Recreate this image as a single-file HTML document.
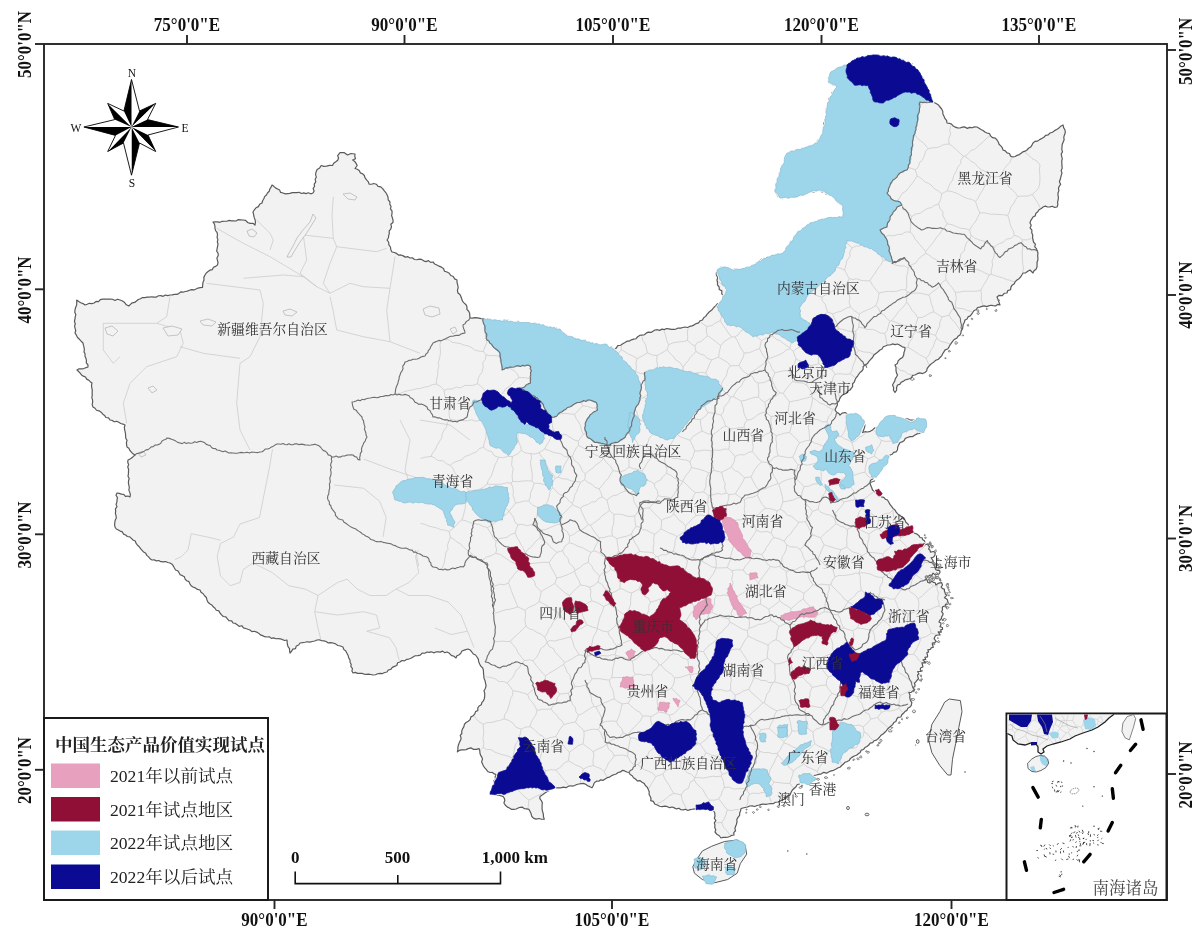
<!DOCTYPE html><html><head><meta charset="utf-8"><style>html,body{margin:0;padding:0;background:#fff;}svg{display:block;}.tk{font-family:"Liberation Serif",serif;font-weight:bold;font-size:17px;fill:#111;}.lb{font-family:"Liberation Serif","Noto Serif CJK SC",serif;font-size:13.8px;fill:#333;}.lg{font-family:"Liberation Serif","Noto Serif CJK SC",serif;font-size:17.6px;fill:#222;}</style></head><body>
<svg width="1200" height="944" viewBox="0 0 1200 944">
<rect width="1200" height="944" fill="#fff"/>
<g stroke-linejoin="round">
<polygon points="213,222 215.3,221.76 217.62,221.8 219.97,222.3 222.23,221.32 224.54,221.24 226.86,221.23 229.12,220.36 231.46,220.79 233.78,220.85 236.11,220.99 238.34,219.58 240.67,219.8 243,220 245.68,220.32 247.59,222.51 250.07,223.32 252.92,223.24 255,225 255.46,222.27 255.03,219.67 254.07,217.16 253.61,214.57 253,212 254.36,209.76 255.98,207.78 258.44,206.64 259.64,204.24 262,203 262.62,200.73 263.82,198.77 264.59,196.59 266.39,194.97 267.46,192.95 269.21,191.3 269.81,189.02 271.11,187.12 272,185 273.83,186.33 275.49,187.9 277.55,188.94 279.57,190.01 280.64,192.39 283,193 285.31,193.89 287.62,193.61 289.92,193.37 292.23,192.67 294.54,192.51 296.85,192.62 299.15,192.23 301.46,193.48 303.77,192.82 306.08,193.62 308.38,192.8 310.69,193.82 313,193 314.11,190.97 313.12,188.46 314.5,186.5 314.23,184.06 315.73,181.81 315.2,179.34 316.36,177.06 315.57,174.56 316,172.2 317.13,169.5 319.65,167.88 321.2,165.5 323.78,166.35 326.5,166.2 329.45,165.44 332.5,165.5 333.7,163.21 335.75,161.76 337.7,160.2 338.54,157.95 337.7,155.7 340,152.7 344,152.5 347.5,155 351,153.5 355,154 354.79,156.4 355.5,158.7 352.7,160 354.73,161.4 356.05,163.38 357.2,165.5 355,168.5 357.28,169.21 359.2,170.45 360.32,172.84 362.5,173.7 364.33,175.49 365.09,177.96 366.6,179.95 368.33,181.8 369.2,184.2 371.51,184.26 373.7,183.5 376.28,184.22 378.07,186.32 380.8,186.8 382.7,188.7 384.15,190.7 385.79,192.57 387.02,194.7 388,197 388.21,199.81 390,202 389.84,204.34 391.1,206.44 390.44,208.86 392.01,210.91 392.06,213.22 391.62,215.6 392.37,217.79 393,220 393.02,222.43 390.82,224.19 391.49,226.81 390.75,229.01 389.2,230.97 389.29,233.42 388.68,235.66 388.4,238 387,240 388.68,242.12 388.86,244.86 390.43,247.02 390.83,249.67 392,252 394.32,252.53 396.53,253.42 398.49,255.03 401.01,254.97 403.21,255.88 405.29,257.13 407.93,256.71 410,258 412.41,257.79 414.47,259.52 416.8,259.76 419.28,259.16 421.6,259.45 423.73,260.82 425.96,261.58 428.49,260.66 430.56,262.4 433,262 434.6,263.99 436.89,265.01 439.08,266.17 441.41,267.13 443.48,268.47 444.52,271.25 447,272 449.29,273.23 450.77,275.49 453.27,276.46 454.64,278.86 457,280 457.03,282.61 457.77,285.17 458.18,287.76 457.4,290.43 458,293 459.94,294.58 460.98,296.74 461.77,299.06 462.61,301.34 464.26,303.11 466.05,304.79 467,307 466.88,309.4 468.71,311.26 469.64,313.37 469.8,315.69 470,318 472.51,318.07 475.05,317.54 477.54,317.92 480.02,318.43 482.49,318.96 485,319 487.4,318.57 489.69,319.22 491.93,320.4 494.25,320.79 496.64,320.45 498.97,320.74 501.32,320.78 503.73,320.22 506.08,320.27 508.42,320.47 510.59,322.3 512.96,322.16 515.25,322.86 517.75,321.41 520,322.5 522.48,322.96 525,322.9 527.46,323.56 530.03,323.03 532.42,324.47 535.07,323.02 537.5,324 539.73,324.58 541.91,325.42 544.09,326.2 546.41,326.42 548.67,326.86 550.89,327.52 553.09,328.23 555.56,327.74 557.68,328.83 560,329 561.38,331.28 563.29,332.99 565.73,334.14 567.5,336 569.53,337.1 571.66,337.83 573.97,337.93 576.11,338.62 578.39,338.8 580.46,339.74 582.61,340.39 585.03,340.07 586.93,341.64 588.93,342.86 591.15,343.26 593.39,343.6 595.72,343.61 597.72,344.81 600,345 602.53,344.64 605,344 607.24,345.16 609.07,347.03 611.93,347.1 613.75,349 616.23,348.09 617.83,345.67 620.59,345.26 622.73,343.77 625,342.5 626.96,341.16 629.42,341.04 631.43,339.82 633.65,339.12 636.01,338.73 637.69,336.74 639.66,335.44 642.01,335.03 644.41,334.76 646.22,333.08 648.34,332.13 651,332.46 652.97,331.16 655,330 657.31,329.72 659.7,330.35 661.94,329.15 664.31,329.58 666.57,328.57 668.92,328.8 671.29,329.3 673.63,329.31 675.95,329.08 678.2,328.01 680.55,328.18 682.83,327.53 685.13,327.03 687.5,327.5 689.64,326.42 692.06,325.9 694.21,324.85 696.24,323.55 698.58,322.87 700.18,320.71 702.5,320 703.66,317.82 705.65,316.37 707.02,314.37 708.55,312.51 710.42,310.97 712.31,309.44 713.75,307.5 715.62,305.83 717.28,303.92 719.78,302.96 721.83,301.48 723.07,299.1 725,297.5 723.09,295.81 721.78,293.77 721.83,290.9 719.29,289.59 719.07,286.89 717.5,285 717.54,282.5 716.99,280.01 717.77,277.48 716.3,275.03 716.43,272.52 717,270 718.96,268.93 720.62,267.23 723,267 725.33,268.32 728.14,268.05 730.69,268.63 733,270 735.29,268.77 737.9,269.37 740.27,268.62 742.75,268.52 745.19,268.13 747.67,267.97 750,267 752.54,266.46 754.42,264.79 756.1,262.78 758.48,261.96 760.33,260.25 762.3,258.74 764.85,258.21 767,257 769.38,256.8 771.43,255.3 773.76,254.89 776.08,254.44 778.51,254.49 780.72,253.61 783,253 784.44,251.3 785.92,249.63 786.66,247.44 788.52,246.03 789.96,244.33 790.03,241.66 792.55,240.72 793.51,238.68 793.91,236.25 795.66,234.77 797,233 798.99,231.75 801.16,230.73 802.44,228.54 804.5,227.38 806.7,226.4 808.47,224.85 810,223 812.35,223.14 814.23,221.69 816.45,221.39 818.35,219.99 820.74,220.26 822.91,219.8 824.95,218.87 827,218 829.31,218.25 831.54,217.2 833.9,218.29 836.2,218.29 838.48,218.14 840.72,217.21 843,217 843.52,214.5 842.68,212 843.74,209.5 843,207 841.79,204.88 839.47,203.86 837.47,202.53 836.26,200.41 834.73,198.6 833,197 831.06,195.41 828.66,194.69 826.1,194.25 824.6,191.84 821.79,191.86 820,190 817.39,189.97 815.12,191.58 812.56,191.79 810,192 807.65,192.35 805.9,194.27 803.73,195.09 801.32,195.31 799.02,195.79 797,197 794.54,196.53 792.12,196.95 789.67,196.63 787.29,197.58 784.81,196.91 782.47,198.6 780,198 777.95,196.32 776.7,193.97 775,192 775.03,189.54 776.21,187.27 776.45,184.84 776.64,182.41 777,180 778.35,178.14 778.64,175.88 778.99,173.65 779.88,171.62 781.43,169.83 782.29,167.79 781.89,165.28 783.75,163.6 784.71,161.6 784.73,159.25 785.58,157.2 785.73,154.89 787,153 789.24,152.4 791.45,151.67 793.72,151.18 795.64,149.52 798.35,150.48 800.34,149.03 802.5,148.16 804.93,148.19 807,147 809.54,146.11 811.99,144.99 814.63,144.32 817,143 817.53,140.6 819.46,139.04 820.47,136.92 822.51,135.42 823,133 824.12,130.75 823.32,128.21 824.04,125.9 823.79,123.44 824.7,121.16 825.74,118.9 826.26,116.56 825.87,114.08 825.95,111.68 826.09,109.28 827,107 827.95,104.56 829.23,102.22 828.61,99.31 830,97 831.81,95.29 832.1,92.51 833.75,90.68 835.2,88.72 837,87 834.91,85.46 832.34,84.78 830.12,83.48 828,82 828.71,79.8 828.31,77.35 829.91,75.34 830,73 831.65,71.22 834.01,70.62 835.77,69.01 837.72,67.73 840,67 842.35,66.39 844.64,65.56 847,65 848.87,63.42 850.91,62.07 853.03,60.84 854.65,58.9 857,58 859.19,57.05 861.61,57.38 863.9,56.96 866.15,56.34 868.55,56.48 870.75,55.63 873,55 875.16,55.86 877.49,54.97 879.62,56.1 881.83,56.45 884.04,56.83 886.37,56 888.59,56.22 890.7,57.53 893,57 895.29,57.27 896.95,59.35 899.14,59.91 901.72,59.38 903.78,60.31 905.61,61.88 908.02,61.84 910,63 912.18,64.15 912.91,66.76 915.1,67.9 916.3,70.04 918.81,70.86 920,73 921.16,74.92 921.7,77.15 923.78,78.61 924.48,80.76 924.71,83.15 925.34,85.33 927,87 927.07,89.46 929.36,91.03 929.56,93.43 930,95.74 931.28,97.72 931.83,99.98 933,102 935.66,103.21 938.12,104.7 940,107 941.65,109 942.76,111.24 942.91,113.89 943.98,116.15 944.89,118.48 946.58,120.46 947,123 949.37,123.3 951.52,124.17 953.28,126.07 955.35,127.16 957.56,127.88 960,128 962.39,127.13 964.81,126.93 967.33,128.38 969.71,127.36 972.17,127.76 974.55,126.83 977,127 979.03,128.15 980.99,129.42 983.06,130.49 984.91,131.96 987,133 989.5,133.68 990.79,136.1 992.64,137.71 995.33,138.13 997,140 998.27,141.96 999.03,144.22 1000.75,145.91 1002.27,147.72 1003,150 1005.35,150.91 1006.99,152.82 1009.5,153.49 1010.59,156.18 1013,157 1015.24,156.49 1017.16,155.33 1019.29,154.58 1021.1,153.21 1022.92,151.85 1025.08,151.16 1027,150 1028.51,148.26 1030.66,147.07 1031.92,145.11 1033,143 1034.9,141.37 1037.63,141.14 1039.6,139.63 1041.75,138.43 1043.91,137.24 1045.66,135.35 1048.24,134.87 1050,133 1052.52,132.25 1054.52,130.63 1056.75,129.41 1058.92,128.07 1060.74,126.19 1063,125 1063.63,127.65 1065,130 1065.33,132.56 1064.42,134.91 1063.77,137.3 1064.15,139.87 1063.11,142.19 1062.18,144.53 1062,147 1061.78,149.36 1062.48,151.73 1061.2,154.09 1061.7,156.45 1062.29,158.82 1061.71,161.18 1061.87,163.55 1061.94,165.91 1062.2,168.27 1061.1,170.64 1062,173 1061.3,175.17 1060.76,177.37 1060.2,179.57 1059.37,181.72 1060.62,184.28 1059.13,186.29 1058.47,188.47 1058.87,190.86 1058,193 1058.01,195.35 1058.47,197.72 1058.05,200.04 1057.56,202.35 1057.89,204.72 1057,207 1054.67,207.45 1052.33,206.27 1050,206.91 1047.67,206.99 1045.33,206.16 1043,207 1041.25,208.58 1039.04,209.7 1037.82,211.82 1035.94,213.27 1035.21,215.87 1033,217 1031.84,218.92 1030.58,220.79 1030,223 1031.23,225.29 1030.09,227.99 1031.89,230.18 1031.76,232.71 1032.73,235.04 1032.58,237.57 1033,240 1033.65,242.24 1035.41,244.05 1034.75,246.79 1036.47,248.62 1037.12,250.85 1038,253 1037.66,255.32 1037.91,257.68 1037.88,260.03 1037.05,262.31 1037.06,264.66 1037,267 1035.99,269.22 1034.01,270.78 1033,273 1030,270 1027.81,271.34 1025.68,272.8 1023,273 1021.85,275.05 1020.62,277.04 1018.97,278.65 1017,280 1015.21,281.58 1014.3,283.84 1012.15,285.14 1010.93,287.16 1010.5,289.78 1007.73,290.61 1007,293 1004.2,293.26 1002.29,295.71 999.23,295.32 997,297 998.12,299.62 999.04,302.32 1000,305 997.66,304.4 995.55,305.96 993.25,305.71 990.91,305.22 988.71,305.85 986.51,306.56 984.15,305.89 981.94,306.43 979.73,307.06 977.5,307.5 976.43,309.55 974.22,310.47 972.87,312.24 971.63,314.13 970.26,315.88 968.09,316.84 967.04,318.92 965,320 964.38,322.18 963.28,324.19 962.93,326.45 962.55,328.71 961.29,330.67 960.85,332.9 960,335 957.98,336.31 956.63,338.29 954.37,339.37 952.76,341.09 951.37,343.04 950,345 948.94,347.08 947.69,349.01 945.16,349.92 943.89,351.82 942.68,353.79 941.63,355.87 940,357.5 938.25,359.33 935.8,360.23 933.93,361.91 931.9,363.37 930,365 928.55,366.74 927.12,368.5 926.71,370.93 925,372.5 922.61,373.56 919.79,372.91 917.32,373.65 915,375 912.7,375.39 911.37,377.74 909.35,378.71 907.18,379.37 905,380 903.2,381.36 901.13,382.32 899.77,384.35 897.5,385 896.6,387.48 896.56,390.24 895,392.5 893.46,390.24 893.63,387.4 892.5,385 893.58,383.04 894.71,381.11 895.3,378.9 896.47,376.98 897.5,375 896.37,372.63 895.98,370.07 896.05,367.39 895,365 897.31,363.56 898.21,360.71 900.14,358.89 902.5,357.5 903.66,355.13 903.97,352.55 904.84,350.12 905,347.5 902.28,346.8 899.94,345.29 897.5,344 895.04,344.68 892.44,343.94 890.02,344.98 887.5,345 885.47,346.02 883.26,346.77 882.05,349.01 880,350 878.06,351.81 875.94,353.44 873.84,355.09 872.5,357.5 870.72,359.47 868.92,361.42 867.39,363.64 865,365 863.19,366.5 863.13,369.17 861.87,371.04 860,372.5 858.65,374.31 857.52,376.27 855.97,377.94 855,380 854.32,382.16 852.56,383.78 852.68,386.34 851.46,388.23 850,390 847.96,391.01 846.67,393.13 844.57,394.04 842.5,395 840.91,396.65 839.71,398.56 839.08,400.84 837.5,402.5 837.28,405.2 836.08,407.58 835,410 836.38,411.95 838.5,413.16 840,415 842.19,413.13 845,412.5 847.38,413.69 849.96,414.28 852.5,415 854.76,416.55 857.25,417.42 860,417.5 860.63,419.79 862.59,421.19 863.3,423.43 865,425 864.5,427.61 863.64,430.1 862.5,432.5 864.96,431.7 867.69,432.01 870.17,431.31 872.5,430 874.12,428.37 876.11,427.29 877.99,426.05 880,425 881.7,422.95 883.62,421.12 885.48,419.23 887.5,417.5 890,416.95 892.5,417.61 895,418.03 897.5,417.57 900,417.5 902.35,418.71 904.97,418.86 907.64,418.81 910,420 912.55,420.21 915.07,420.18 917.46,418.86 920,419 922.67,418.66 925,420 925.31,422.5 925.59,425.01 926,427.5 924.89,429.95 924,432.5 921.53,432.32 919.43,433.49 917.1,433.85 915,435 912.75,436.58 909.97,436.59 907.5,437.5 905.34,438.32 904.17,440.62 902.29,441.88 900,442.5 898.76,444.87 897.65,447.27 897.5,450 896.04,451.87 893.62,452.3 892.23,454.28 890,455 888.75,457.36 888.08,459.92 887.5,462.5 885.95,464.7 884.11,466.61 881.54,467.79 880,470 878.31,471.64 876.33,473 875,475 873.91,476.98 872.74,478.91 870.55,480.16 870,482.5 870.54,485.1 871.68,487.5 872.5,490 874.34,491.31 876.03,492.83 877.92,494.06 880,495 881.46,496.87 883.84,497.37 885.3,499.24 887.5,500 888.76,502.18 889.99,504.38 891.56,506.33 893.02,508.36 895,510 896.17,512.16 897.75,513.92 899.82,515.18 901.64,516.7 903.07,518.6 905,520 905.8,522.18 907.62,523.67 908.87,525.55 910,527.5 912.12,528.72 913.03,531.14 914.38,533.12 916.83,534.01 918.76,535.41 920,537.5 922.17,537.83 922.73,539.77 924.4,540.6 925,542.5 924.11,544.9 928.28,543.92 928.2,545.78 929.74,546.56 928.62,549.11 930,550 930.39,552.11 933.5,551.5 935.11,552.39 935,555 934.32,556.35 933.03,557.29 931,557.75 933.36,561.13 932.27,562.21 930,562.5 932.23,562.77 933.38,564.12 934.57,565.43 935,567.5 935.57,569.43 937.21,570.29 939.61,570.39 940,572.5 938.67,574.26 936.9,574.27 935.35,575.15 933.06,573.07 931.87,575.39 930,575 928.6,576.1 926.51,576.51 926.31,578.81 925,580 926.92,579.39 927.92,582.49 929.56,583.02 931.84,580.99 933.28,582.29 935,582.5 935.86,584.91 938.02,583.43 939.89,582.84 941.63,582.62 942.5,585 941.13,587.12 942.24,588.42 944.48,589.34 944.38,591.04 945,592.5 945.43,594.02 946.94,595.19 944.45,597.68 946.34,598.72 947.5,600 947.82,601.94 948,603.82 945.46,604.34 945.15,605.97 942.76,606.56 942.37,608.15 942.5,610 941.63,611.55 943.13,613.7 942.71,615.37 941.59,616.86 941.44,618.59 940,620 938.96,622.01 940.93,623.02 940.93,624.69 939.94,626.69 942.5,627.5 942.52,629.32 940.71,629.92 941.28,632.1 938.18,631.84 940.16,634.97 937.5,635 935.52,635.8 934.71,637.18 934.09,638.65 936.29,641.54 934.83,642.6 932.36,643.15 932.5,645 933.37,647.22 931.15,647.9 930.48,649.35 927.85,649.82 928.59,651.97 926.81,652.87 927.5,655 927.56,656.82 924.93,657.29 925.68,659.45 923,659.89 925.54,662.95 921.93,662.93 922.5,665 922.93,667 920.9,667.77 920.26,669.24 920.99,671.39 917.62,671.49 918.96,673.94 917.5,675 917.89,676.87 918.48,678.79 917.08,680.21 915.97,681.7 914.5,683.1 915,685 914.84,686.7 912.84,687.49 914.41,690.06 912.56,690.92 911.58,692.22 908.88,692.65 910,695 909.74,697.65 910.38,700.18 911.85,702.62 911.3,705.3 909.87,707.04 907.87,708.2 906.88,710.38 904.89,711.55 903.44,713.27 901.8,714.8 900.85,717.01 898.02,717.35 896.69,719.18 895.87,721.52 893.78,722.59 892.62,724.59 890.93,726.07 889.2,727.5 887.57,729.03 886.29,730.92 884.66,732.46 883,733.97 881.07,735.2 879.7,737 878.15,738.71 876.39,740.15 874.01,740.74 872.63,742.67 870.15,743.14 868.75,745.05 867,746.5 864.94,747.53 863.55,749.46 861.2,750.1 860.18,752.52 858.32,753.8 856.55,755.23 854.3,756 852.31,757.1 850.47,758.41 849.25,760.53 847.21,761.57 844.93,762.3 843.4,764.01 841.7,765.5 839.91,767.21 837.69,768.04 835.62,769.2 833.53,770.31 831.19,770.9 829,771.8 826.65,773.19 823.74,772.35 821.41,773.85 818.83,774.34 816.3,775 813.84,775.55 811.4,776.14 808.99,776.85 806.8,778.2 805.01,779.63 803.17,780.97 801.19,782.11 799.68,783.97 797.3,784.5 795.99,786.7 794.08,788.49 792.21,790.3 791.03,792.6 790,795 787.85,795.92 785.9,797.16 784.44,799.25 782.15,799.93 780.14,801.08 778,802 775.45,802.23 773.14,803.69 770.54,803.72 768,804 765.8,804.28 763.53,804.09 761.32,804.32 759.17,805 757,805.5 754.7,806.51 752.12,805.83 749.68,805.98 747.39,807.01 745,807.5 741,808.5 740.59,810.83 739.67,813 739.62,815.43 737.97,817.39 736.83,819.5 737,822 736.47,824.16 735.62,826.25 734.91,828.36 735.53,830.79 733.72,832.65 734,835 731.78,835.28 729.79,836.53 727.67,837.23 725.44,837.45 723.14,837.37 721,838 719.25,835.75 716.78,834.22 715,832 715.77,829.71 714.75,827.43 714.93,825.14 714.32,822.86 715.85,820.57 714.34,818.29 715,816 714.69,812.77 713,810 710.9,808.29 708.7,806.7 706.29,807.37 703.92,808.15 701.71,809.43 699.2,809.8 696.93,809.06 694.66,808.91 692.39,809.23 690.11,809.62 687.84,810.48 685.57,809.22 683.3,809.8 680.97,809.73 678.92,808.21 676.44,808.93 674.3,807.9 672.13,807 669.65,807.7 667.5,806.7 664.94,806.19 662.23,806.6 659.64,806.26 657.2,805 654.72,804.05 653.35,801.4 650.7,800.7 651.04,798.38 650.1,796.32 649.04,794.29 649.24,792 648.5,789.9 647.42,787.5 645.46,785.68 644.2,783.4 642.1,782.15 640.1,780.71 637.28,780.88 635.5,779 633.49,777.76 632.21,775.79 630.17,774.58 629,772.5 626.77,771.96 624.71,770.91 622.5,770.3 620.59,771.92 618.13,772.47 616.17,773.98 613.8,774.7 611.57,775.67 609.58,777.12 607.16,777.7 605.1,779 603.13,780.36 600.67,779.8 598.73,781.27 596.4,781.2 594.25,782.9 593.32,785.43 592,787.7 589.83,786.67 587.63,785.69 585.65,784.28 583.4,783.4 581.15,783.59 578.94,784 576.77,784.53 574.7,785.5 572.53,786.07 570.13,785.74 568.03,786.56 566,787.7 563.27,787.06 560.55,787.86 557.83,787.82 555.1,787.7 552.87,788.67 550.43,789.2 548.55,790.88 546.4,792 544.24,793.43 542.2,795.03 540,796.4 539.82,798.72 541.36,800.62 542.35,802.66 542.1,805 542.07,807.43 542.12,809.84 542.79,812.16 543.39,814.49 543.49,816.9 544.3,819.2 541.54,819.27 538.87,818.48 536.05,819.15 533.4,818.1 531.7,816.23 531.11,813.79 530.1,811.57 529,809.4 526.77,808.84 524.41,808.7 522.5,807.2 520.27,807.3 518.17,808.03 516.11,808.98 513.93,809.3 511.7,809.4 509.43,808.09 507.1,806.86 505.2,805 503.9,803.04 504.82,800.52 504.36,798.34 503,796.4 500.45,795.67 497.91,794.87 495.18,795.22 492.69,794.1 490,794.2 490.22,791.88 491.82,790 492.1,787.7 492.95,785.57 494.25,783.6 493.62,780.97 495.53,779.2 495.13,776.65 496.5,774.7 494.36,773.9 492.43,772.46 490,772.5 487.72,771.52 486.38,769.58 484.8,767.88 483.4,766 482.56,763.9 481.56,761.84 482.48,759.3 481.8,757.16 480.53,755.17 479.92,753.01 479.79,750.74 479.1,748.6 476.38,749.42 473.65,749.44 470.93,747.88 468.2,748.6 466.14,749.59 463.88,749.92 461.49,749.83 459.31,750.42 457.4,751.9 457.88,749.44 457.93,746.89 458.61,744.47 459.5,742.1 460.69,740.07 461.08,737.88 460.28,735.45 461.86,733.5 461.7,731.2 462.54,728.91 463.81,726.83 464.4,724.41 466,722.5 468.24,721.25 470.15,719.65 470.9,716.9 473.21,715.71 474.8,713.8 475.57,711.64 477.83,710.46 477.81,707.78 479.12,705.98 481.28,704.74 481.89,702.47 483.4,700.8 484.43,698.4 484.69,695.91 484.72,693.39 484.01,690.77 485.32,688.42 486.07,685.98 485.6,683.4 485.06,680.82 483.97,678.33 483.79,675.68 483.5,673.06 483.4,670.4 482.68,668 480.77,666.17 479.68,663.95 478.7,661.67 478.33,659.11 477,657 475.55,655.01 473.25,653.97 471.79,651.98 470.26,650.08 468,649 464.95,649.85 462,651 460.87,653.07 459.27,654.73 456.92,655.75 456,658 453.92,656.25 451.28,655.33 449.39,653.29 447,652 444.78,652.74 442.56,651.13 440.33,652.11 438.11,651.95 435.89,651.94 433.67,652.82 431.44,651.82 429.22,652.39 427,652 424.82,653.26 422.15,653.15 420.25,655.2 417.8,655.7 415.18,655.73 413,657 411,658.26 408.81,659.04 406.47,659.42 404.54,660.86 401.91,660.5 400,662 397.61,662.73 396.8,665.52 394.47,666.34 392.3,667.36 390.84,669.31 388.39,669.96 387,672 384.67,672.5 382.45,673.56 379.98,673.4 377.61,673.74 375.39,674.75 373,675 370.81,674.49 368.61,674.05 366.34,674.3 364.11,674.1 361.95,673.27 359.7,673.34 357.45,673.41 355.3,672.41 353,673 351.93,670.97 352.49,668.55 350.91,666.64 351.19,664.29 350.04,662.27 350,660 348.74,657.88 348.1,655.43 346.95,653.26 345.79,651.08 343.75,649.39 343,647 340.49,646.02 337.81,645.47 335.55,643.87 333,643 330.71,642.57 328.27,642.96 326.17,641.54 323.93,640.91 321.6,640.73 319.41,639.77 317,640 314.67,641 312.25,641.47 309.87,642.14 307.29,641.72 304.88,642.26 302.45,642.67 300,643 298.64,644.97 296.29,645.95 295.54,648.54 292.81,649.15 291.58,651.25 290,653 289.58,650.82 289.51,648.55 288.04,646.61 287.38,644.48 287.17,642.24 287,640 284.66,640.48 282.51,639.66 280.37,638.78 278.12,638.62 275.83,638.75 273.69,637.84 271.33,638.4 269.31,636.76 267,637 264.65,636.67 262.58,635.66 260.39,634.94 258.63,633.18 256.6,632.07 254.45,631.27 251.82,631.61 250,630 247.81,629.27 245.66,628.48 243.43,627.85 241.82,625.72 239.06,626.39 237.24,624.77 235.3,623.44 233,623 231.68,620.88 228.9,620.65 227.38,618.78 225.84,616.94 223.21,616.51 221.57,614.8 220,613 218.87,610.88 216.29,610.21 214.99,608.26 213.24,606.76 211.78,604.97 209.71,603.79 208.03,602.22 207,600 206.33,597.49 204.59,595.73 203.15,593.76 201,592.28 200,590 197.49,589.41 195.37,587.91 193,587 191.13,585.72 189.88,583.85 188.96,581.66 186.69,580.77 185.12,579.2 184.43,576.8 182.41,575.66 180.14,574.77 179.07,572.72 177.86,570.81 175.56,569.95 174.4,568 173.32,565.96 172.01,564.15 170,563 167.78,562.46 165.61,561.56 163.24,561.94 160.97,561.69 158.85,560.52 156.46,560.96 154.33,559.88 152,560 150.05,558.69 148.63,556.86 146.84,555.39 145.73,553.27 143.64,552.08 142.11,550.37 140.54,548.69 139.29,546.71 137.5,545.24 136.1,543.4 135.23,541.06 133,540 131.39,538.44 129.78,536.87 127.29,536.53 125.68,534.97 123.55,534.12 122.4,531.92 120.26,531.1 118.36,529.93 116.29,529 115,527 114.56,524.7 114.84,522.44 115.21,520.19 116.29,517.98 116.05,515.69 115.38,513.38 115.68,511.12 115.44,508.83 116.98,506.65 116.08,504.32 116.94,502.09 117,499.82 117.46,497.58 116,495.22 117,493 119.26,493.36 121.39,494.13 123.72,494.28 125.46,496.32 127.93,496.03 130,497 130.36,494.66 129.78,492.37 128.82,490.11 129.31,487.76 128.9,485.46 128.42,483.17 128.5,480.85 129.17,478.49 128.03,476.23 128.41,473.89 128.49,471.57 128.58,469.25 127.72,466.97 128.62,464.6 127.69,462.34 128,460 130.57,458.66 132.84,456.91 135,455 132.95,453.85 131.42,452.18 129.92,450.48 128.87,448.33 127,447 126.63,444.82 126.4,442.62 127.06,440.34 125.71,438.24 125.63,436.03 125.52,433.83 125.09,431.65 124.58,429.47 124.35,427.28 125,425 122.93,424.06 120.75,423.46 118.75,422.33 116.7,421.33 114.17,421.77 112.24,420.42 110,420 108.57,417.96 105.91,417.52 104.54,415.4 102.63,413.98 101.05,412.13 99.07,410.81 96.49,410.27 95.03,408.25 93,407 92.16,404.63 92.67,402.21 92.51,399.81 91.81,397.43 92.29,395.01 92.09,392.61 92.29,390.2 91.8,387.82 91.49,385.43 92,383 90.22,381.69 88.64,380.14 86.61,379.12 85.53,377 83.36,376.13 81.52,374.89 80.15,373.1 78.58,371.55 77,370 79.03,368.79 81.44,368.94 83.7,368.55 85.83,367.69 88,367 87.9,364.74 86.25,362.81 86.44,360.49 85.94,358.32 84.96,356.25 85.1,353.94 84.03,351.89 84.36,349.55 84.06,347.33 83.4,345.19 83,343 81.15,341.2 79.45,339.28 77.53,337.54 76.39,335.17 75,333 75.71,330.7 75.12,328.4 74.57,326.1 75.3,323.8 74.43,321.5 74.94,319.2 75.21,316.9 75.82,314.6 74.75,312.3 75,310 75.56,307.52 76.64,305.13 76.76,302.58 76.7,300 78.66,301.45 80.74,302.69 83.01,303.61 85,305 87.18,304.19 89.33,303.28 91.84,303.57 94.09,302.99 96.05,301.46 98.55,301.71 100.32,299.54 102.59,299.04 105,299 107.5,299.18 110.02,298.99 112.52,299.25 114.94,300.52 117.54,299.2 120,300 122.5,301.04 124.65,302.6 126.38,304.77 128.75,306 130.46,304.38 132.21,302.81 134.68,302.42 136.51,300.98 138.32,299.53 140.53,298.7 142.5,297.5 144.82,297.56 147.09,297.17 149.4,297.1 151.68,296.78 154.01,297.05 156.33,297.09 158.51,295.74 160.81,295.56 163.19,296.32 165.39,295.08 167.74,295.6 170,295 172.25,294.84 174.41,294.33 176.69,294.31 178.8,293.57 180.7,291.9 183.05,292.21 185.16,291.48 187.36,291.11 189.45,290.27 191.58,289.62 193.93,289.94 196.01,289.06 198.06,288.04 200.23,287.56 202.5,287.5 202.69,284.94 202.93,282.39 204.02,280 203.84,277.37 205,275 206.29,272.96 208.09,271.54 209.91,270.16 212.37,269.57 213.49,267.31 215.66,266.36 217.5,265 217.99,262.69 217.47,260.38 216.89,258.08 218.16,255.77 218.17,253.46 216.7,251.15 217.06,248.85 217.51,246.54 218.03,244.23 217.31,241.92 217.89,239.62 217.05,237.31 217.5,235 217.12,232.71 215.71,230.77 214.97,228.6 214.94,226.18 214.33,223.96" fill="#f2f2f2" stroke="none"/>
<polygon points="949.3,699 960.4,700.6 962,711.7 958.8,727.5 955.7,743.3 952.5,759.2 951,775 947.7,775 939.8,765.5 931.9,752.8 928.7,740.2 931.9,724.3 939.8,711.7 944.6,702.2" fill="#f2f2f2" stroke="none"/>
<polygon points="696,860.5 702.3,851 711.8,846.2 724.5,841.5 737.2,840 745.1,844.7 746.7,854.2 740.3,863.7 737.2,873.2 727.7,879.5 715,882.7 702.3,879.5 694.4,873.2 692.8,866.8" fill="#f2f2f2" stroke="none"/>
<path d="M528.1,807.8 L528.9,800.0 M492.7,793.4 L496.1,791.7 L501.4,788.1 L504.9,786.1 L509.0,783.7 M528.9,800.0 L525.9,797.8 L521.4,793.6 L519.6,791.7 L516.2,788.1 L512.2,786.9 L509.0,783.7 M950.6,125.7 L949.7,131.1 L950.7,133.9 L948.6,139.5 L949.2,144.0 M930.4,98.8 L928.0,100.9 L923.4,103.3 L919.7,105.2 L917.3,108.1 L913.7,109.9 L910.4,112.7 L907.7,115.2 M905.6,125.9 L906.2,119.6 L907.7,115.2 M905.6,125.9 L909.1,128.9 L911.5,131.0 L915.1,135.2 L916.2,137.0 L920.2,140.6 L923.5,142.9 L926.1,146.2 L928.3,148.7 M928.3,148.7 L932.1,147.9 L937.4,147.5 L940.8,146.1 L944.1,144.4 L949.2,144.0 M420.5,523.4 L425.2,524.4 L428.0,525.8 L433.2,527.2 L436.6,527.9 L441.0,529.7 L445.1,530.1 L449.2,531.5 M449.2,531.5 L450.4,537.2 M450.4,537.2 L449.3,540.2 L447.3,545.6 L448.1,549.3 L445.9,552.5 L445.0,558.1 L444.5,561.2 L443.6,564.6 L441.8,569.1 M805.5,174.7 L801.0,174.3 L796.5,172.0 L791.4,170.9 L788.2,168.5 L782.7,168.2 M805.5,174.7 L809.4,172.2 L813.0,168.8 L816.2,165.1 L819.0,161.7 L822.2,158.7 M822.2,158.7 L818.3,155.1 L816.3,149.5 L813.1,145.9 M866.7,124.5 L870.3,126.7 L873.5,128.7 L877.4,131.5 L881.1,133.4 L883.5,135.1 L888.0,137.9 M866.7,124.5 L862.3,127.3 L859.8,130.4 L855.9,133.1 L851.1,135.7 L847.8,137.7 M847.8,137.7 L847.6,141.0 L845.8,145.0 L846.8,149.6 L845.8,154.3 M845.8,154.3 L848.8,156.0 L853.1,156.4 L856.6,158.8 L860.4,159.8 L865.3,161.7 L868.3,163.3 L871.6,164.6 L876.3,166.3 M888.0,137.9 L887.2,141.8 L885.9,147.6 L886.1,150.7 L885.6,156.4 L884.7,160.2 M884.7,160.2 L879.6,162.3 L876.3,166.3 M837.8,159.9 L841.1,157.5 L845.8,154.3 M837.8,159.9 L832.0,159.9 L827.8,159.2 L822.2,158.7 M826.8,115.9 L829.3,120.0 L833.4,122.2 L835.3,125.5 L838.6,128.5 L841.4,131.7 L843.9,134.2 L847.8,137.7 M905.6,125.9 L903.0,129.1 L898.2,131.5 L894.7,134.0 L892.0,135.4 L888.0,137.9 M928.3,148.7 L925.6,151.2 L924.7,154.8 L922.4,160.2 L919.8,162.1 L918.2,167.2 L915.3,169.8 M915.3,169.8 L911.9,168.6 L907.4,167.1 L903.3,166.5 L899.9,164.4 L895.4,164.1 L892.0,162.6 L888.2,162.2 L884.7,160.2 M1040.0,165.2 L1037.0,161.1 L1031.9,158.4 L1029.7,156.1 L1025.0,152.3 M1040.0,165.2 L1039.4,169.2 L1039.8,175.0 L1040.0,178.6 L1039.6,183.9 L1038.6,188.1 M512.3,758.1 L513.5,754.9 L514.3,750.3 L515.2,745.0 L518.1,740.9 L519.1,737.6 L520.5,733.0 L521.1,729.1 M512.3,758.1 L507.8,756.1 L504.7,755.2 L500.7,754.3 L494.9,752.1 L490.7,749.5 L486.5,749.6 L483.2,747.4 M483.2,747.4 L483.8,743.4 L482.9,738.4 L483.8,733.3 L483.4,728.4 L483.3,724.3 M483.3,724.3 L486.6,722.8 L492.4,722.3 L496.6,721.0 L499.5,720.6 L504.1,718.9 M504.1,718.9 L509.0,720.5 L512.9,723.2 L516.1,727.3 L521.1,729.1 M480.7,749.9 L483.2,747.4 M509.0,783.7 L510.1,778.7 L513.9,774.5 L514.2,769.4 L516.9,765.5 M516.9,765.5 L514.1,762.3 L512.3,758.1 M474.4,715.9 L476.6,719.5 L480.1,722.4 L483.3,724.3 M528.9,800.0 L534.0,797.5 L537.0,795.8 L541.8,793.7 M543.8,792.3 L543.4,788.3 L543.7,782.7 L545.9,778.9 L545.5,774.9 L545.7,770.7 M516.9,765.5 L520.8,764.5 L526.3,766.2 L530.7,764.4 L533.5,765.4 L538.4,765.0 M545.7,770.7 L543.0,767.9 L538.4,765.0 M621.4,349.7 L621.3,346.0 M621.4,349.7 L625.7,352.3 L628.8,354.2 L632.8,355.9 L637.1,358.6 M642.0,336.7 L642.6,340.3 L645.7,344.7 L646.5,349.1 L647.5,352.9 M637.1,358.6 L643.2,355.5 L647.5,352.9 M611.4,362.4 L605.8,361.3 L600.9,360.9 M611.4,362.4 L613.5,359.9 L617.2,355.6 L618.6,353.0 L621.4,349.7 M594.3,344.7 L596.1,348.9 L597.1,351.8 L598.8,356.0 L600.9,360.9 M611.4,362.4 L614.5,368.9 M635.9,371.5 L636.4,366.3 L635.9,363.2 L637.1,358.6 M635.9,371.5 L630.3,375.9 M630.3,375.9 L625.9,374.7 L622.4,373.1 L617.7,370.7 L614.5,368.9 M485.7,677.0 L490.6,677.4 L495.2,678.8 L499.2,681.6 L503.6,681.5 L507.2,683.0 M504.1,718.9 L504.6,714.9 L507.5,710.4 L508.7,706.1 L510.0,701.9 L510.1,699.6 L512.3,695.6 L513.0,690.7 M507.2,683.0 L510.8,687.4 L513.0,690.7 M545.7,770.7 L551.0,769.7 L555.6,770.1 M555.6,770.1 L558.1,772.5 L561.3,776.7 L563.0,778.6 L567.0,783.3 L568.7,785.8 M449.2,531.5 L452.5,528.7 L456.2,525.6 L458.5,522.4 L461.9,519.9 M450.4,537.2 L453.2,538.8 L457.2,542.1 L460.3,543.9 L463.1,546.6 L465.9,549.4 L470.5,552.2 L472.9,555.1 L476.4,557.4 M482.6,560.4 L486.4,557.0 L491.4,555.6 L495.7,553.3 M461.9,519.9 L466.5,521.0 L470.8,522.9 L474.1,523.7 L478.9,524.4 L483.0,526.4 L487.4,527.5 M495.7,553.3 L496.7,550.0 L495.5,545.4 L496.1,541.1 M487.4,527.5 L488.7,530.1 L491.8,535.1 L493.3,538.2 L496.1,541.1 M867.0,104.3 L871.9,102.0 L875.6,101.1 L879.0,98.8 L883.4,96.4 M867.0,104.3 L863.5,102.4 L859.8,100.9 L855.1,98.1 M855.1,98.1 L855.4,94.0 L853.1,89.2 L852.6,85.6 L853.0,80.4 L852.1,77.5 L850.8,72.9 L849.8,69.2 L849.8,64.5 M883.4,96.4 L883.6,92.7 L886.3,87.3 L886.4,83.2 L888.0,77.7 M888.0,77.7 L885.4,74.7 L881.4,73.7 L877.6,71.0 L873.6,69.1 L871.1,65.7 L867.2,63.4 L862.3,60.8 L859.4,58.8 M907.7,115.2 L903.5,113.3 L901.7,109.0 L897.5,106.9 L893.0,104.0 L889.8,102.3 L885.9,98.5 L883.4,96.4 M866.7,124.5 L866.6,119.5 L867.1,116.7 L867.5,111.8 L866.5,108.5 L867.0,104.3 M828.1,107.9 L831.5,106.7 L835.3,105.5 L840.2,104.3 L844.5,102.4 L847.4,101.6 L851.8,99.6 L855.1,98.1 M910.6,65.3 L906.6,67.0 L902.3,70.1 L898.6,72.0 L895.7,74.5 L892.3,76.6 L888.0,77.7 M915.3,169.8 L917.1,176.0 M876.3,166.3 L875.2,170.5 L875.6,174.3 L875.1,178.8 M892.9,200.7 L890.3,197.3 L887.8,193.5 L885.1,191.2 L882.3,188.0 L880.7,185.4 L877.6,182.2 L875.1,178.8 M892.9,200.7 L897.5,201.1 M897.5,201.1 L900.1,196.9 L902.1,193.4 L906.1,191.1 L909.4,186.7 L912.5,183.1 L915.0,179.4 L917.1,176.0 M1022.3,239.8 L1027.4,239.9 L1031.4,238.0 M1022.3,239.8 L1022.0,243.1 L1022.7,247.8 L1022.2,250.8 L1022.3,255.6 L1022.4,260.5 L1022.8,264.3 L1023.5,268.3 L1022.7,271.8 M1038.6,188.1 L1035.4,191.7 L1032.3,194.4 M1032.3,194.4 L1035.3,199.2 L1037.9,203.3 L1040.3,208.0 M716.2,822.9 L721.8,822.5 M703.5,807.1 L706.9,803.9 L709.8,800.1 M709.8,800.1 L715.0,800.1 L718.6,798.8 M721.8,822.5 L724.3,818.8 L726.1,814.2 L727.3,809.7 M718.6,798.8 L721.2,802.0 L724.8,806.8 L727.3,809.7 M724.3,787.5 L722.5,790.6 L721.2,795.0 L718.6,798.8 M724.3,787.5 L728.8,787.1 L733.4,789.0 L737.8,788.7 L742.8,788.5 L747.0,790.0 M727.3,809.7 L731.3,810.6 L735.7,809.5 L739.4,809.7 M746.6,806.0 L748.0,802.3 L747.9,797.5 L749.5,794.2 M747.0,790.0 L749.5,794.2 M721.2,776.1 L723.5,781.4 L724.3,787.5 M721.2,776.1 L722.1,774.2 M722.1,774.2 L725.0,773.5 L729.7,771.2 L733.4,770.6 L736.5,769.0 L741.0,767.3 M747.0,790.0 L747.9,786.0 L747.6,781.0 L748.0,776.3 L749.0,771.6 M741.0,767.3 L744.3,770.0 L749.0,771.6 M872.8,630.9 L876.8,627.2 L878.8,625.0 L882.6,620.7 M872.8,630.9 L874.6,636.0 L874.7,640.6 L877.3,643.9 L878.5,648.7 M878.5,648.7 L883.5,648.4 L889.3,646.4 L893.9,646.1 M884.1,620.8 L882.6,620.7 M884.1,620.8 L887.6,623.6 L891.5,627.6 L894.6,631.6 L897.0,634.6 M893.9,646.1 L895.6,639.9 L897.0,634.6 M521.1,729.1 L525.5,727.2 L529.8,726.7 M538.4,765.0 L538.9,761.1 L540.6,756.9 L541.5,752.5 L543.7,747.4 L543.7,743.2 L545.7,739.1 M529.8,726.7 L533.0,728.4 L535.6,730.8 L539.6,734.9 L542.0,735.7 L545.7,739.1 M630.3,375.9 L630.6,380.7 L630.9,384.6 L629.9,388.5 M614.5,368.9 L612.5,374.0 L610.3,378.2 L608.5,382.0 L607.6,386.4 L605.9,391.1 M605.9,391.1 L607.3,394.1 M629.9,388.5 L624.7,389.1 L621.5,390.7 L616.5,391.3 L612.2,392.7 L607.3,394.1 M635.9,371.5 L640.2,373.6 L645.1,373.1 L648.8,376.0 L651.9,376.3 L656.4,377.8 M647.5,352.9 L652.4,355.0 L657.0,355.5 M657.0,355.5 L656.7,360.7 L657.3,363.7 L657.5,367.9 L655.8,373.6 L656.4,377.8 M639.9,398.6 L635.7,395.0 L632.5,391.8 L629.9,388.5 M639.9,398.6 L644.0,397.5 M644.0,397.5 L647.4,394.7 L648.5,389.4 L652.8,385.8 L654.3,382.4 L657.5,379.5 M656.4,377.8 L657.5,379.5 M535.4,524.9 L535.2,519.6 L536.9,516.7 L537.7,512.6 L537.9,507.6 M535.4,524.9 L531.3,524.7 L526.9,525.8 L522.6,524.3 L518.0,524.8 M518.0,524.8 L514.9,522.3 L513.7,517.7 L511.5,514.7 L509.0,511.2 M528.6,501.1 L524.2,501.0 L519.5,502.4 L515.4,503.2 M528.6,501.1 L532.7,505.1 L537.9,507.6 M515.4,503.2 L512.1,507.5 L509.0,511.2 M487.4,527.5 L491.4,525.3 L495.0,522.6 L497.6,520.3 L501.0,517.5 L505.9,514.6 L508.8,511.2 M496.1,541.1 L499.1,538.6 L504.4,537.8 L507.3,537.2 L510.5,534.6 L515.2,532.9 M515.2,532.9 L516.5,528.1 L518.0,524.8 M508.8,511.2 L509.0,511.2 M546.0,327.1 L543.2,330.8 L541.6,332.7 L538.3,336.1 L536.3,339.4 L533.1,343.5 M533.1,343.5 L527.7,341.9 L524.6,340.5 L519.6,339.5 M513.7,323.1 L514.5,327.8 L517.3,332.0 L517.8,335.3 L519.6,339.5 M855.9,195.2 L855.7,200.2 L856.3,204.6 L857.0,209.8 M855.9,195.2 L852.3,193.6 L847.9,189.4 L843.9,187.5 L839.5,185.1 M857.0,209.8 L853.7,212.5 L849.1,214.6 L844.2,216.4 M840.3,218.4 L840.1,218.5 M840.1,218.5 L840.0,218.4 M839.5,185.1 L835.7,188.5 L832.5,189.9 L828.0,193.0 M892.9,200.7 L889.2,203.3 L886.9,205.5 L883.6,209.2 L880.0,212.5 L878.3,214.3 L874.6,217.1 L872.0,220.2 M875.1,178.8 L871.5,182.0 L868.7,184.3 L864.8,187.8 L861.9,189.4 L858.2,193.4 L855.9,195.2 M872.0,220.2 L868.2,218.5 L865.3,216.0 L861.4,213.3 L857.0,209.8 M837.8,159.9 L839.0,164.7 L837.7,168.4 L838.8,173.5 L839.5,177.1 L839.7,180.6 L839.5,185.1 M805.5,174.7 L807.6,179.0 L807.6,182.7 L809.9,186.8 L810.1,190.8 M958.0,262.2 L961.2,263.1 L966.2,265.5 L970.5,266.3 L973.5,269.0 L976.7,269.3 L981.6,271.2 L984.6,272.8 L989.3,274.9 M958.0,262.2 L960.1,258.4 L960.9,253.7 L964.3,251.0 L964.8,247.5 L966.4,242.7 L969.9,239.5 L971.1,235.3 M971.1,235.3 L974.6,238.0 L979.1,239.9 L983.5,241.0 L986.9,243.2 L991.3,245.7 L994.3,247.1 M994.3,247.1 L994.2,252.2 L994.2,255.6 L992.0,261.1 L992.6,265.2 L991.5,269.5 L991.0,274.2 M991.0,274.2 L989.3,274.9 M1014.2,235.4 L1011.0,238.4 L1006.4,239.2 L1003.0,242.3 L997.7,244.4 L994.3,247.1 M1014.2,235.4 L1018.6,236.6 L1022.3,239.8 M1014.1,281.8 L1009.5,280.1 L1007.2,279.8 L1003.5,278.1 L998.8,276.8 L994.9,275.6 L991.0,274.2 M1011.7,157.5 L1010.1,162.2 L1007.0,165.3 L1004.5,168.4 L1002.7,172.7 L1000.4,176.2 M1032.3,194.4 L1027.6,196.1 L1021.9,196.1 L1017.8,196.5 M1017.8,196.5 L1015.8,193.6 L1012.1,189.5 L1008.9,187.3 L1007.0,183.4 L1004.1,180.5 L1000.4,176.2 M1014.2,235.4 L1013.6,231.2 L1011.5,228.0 L1010.1,223.9 L1009.0,219.0 L1007.7,215.3 M1017.8,196.5 L1015.7,199.5 L1013.4,203.9 L1010.8,207.2 L1009.2,212.3 L1007.7,215.3 M969.6,230.1 L972.4,225.4 L975.8,221.1 L977.4,217.8 L979.9,213.0 M969.6,230.1 L971.1,235.3 M1007.7,215.3 L1003.5,214.8 L999.0,214.5 L994.2,214.2 L990.1,214.2 L983.7,212.7 L979.9,213.0 M883.1,260.2 L888.2,261.0 L890.5,262.3 L895.5,265.1 L899.5,265.9 L904.6,266.0 L908.1,268.1 M883.1,260.2 L881.1,264.6 L878.8,267.0 L876.2,271.2 L875.3,272.9 L872.2,277.0 L869.9,280.5 M908.1,268.1 L907.9,271.7 L906.6,276.4 L906.6,281.8 L906.9,286.1 L905.7,289.9 M905.7,289.9 L901.6,289.6 L896.6,291.3 L891.9,291.5 L888.7,291.3 L884.2,291.8 L879.0,293.1 M869.9,280.5 L872.7,285.5 L875.4,289.0 L879.0,293.1 M712.8,541.0 L717.2,541.1 L722.9,539.4 L726.5,540.0 L731.0,538.6 M712.8,541.0 L713.4,544.9 L714.4,549.6 L714.3,553.4 L715.9,559.1 L716.3,564.2 L715.9,567.7 M727.4,567.7 L721.3,567.9 L716.1,567.9 M727.4,567.7 L728.5,564.1 L730.6,559.0 L730.7,555.8 L732.3,550.6 L733.1,547.4 L735.0,543.1 M735.0,543.1 L731.0,538.6 M715.9,567.7 L716.1,567.9 M692.8,557.1 L694.5,554.0 L695.8,549.3 L696.5,545.0 L698.6,541.1 M692.8,557.1 L696.2,559.3 L700.1,560.1 L704.1,562.4 L707.9,564.4 L711.4,566.7 L715.9,567.7 M698.6,541.1 L703.9,539.9 L708.5,538.5 M708.5,538.5 L712.8,541.0 M897.0,670.5 L899.5,672.7 L904.2,675.9 L907.9,678.9 L910.4,680.7 L914.2,683.2 M897.0,670.5 L898.3,665.9 L899.6,662.3 L901.2,658.9 L903.7,655.0 M903.7,655.0 L908.9,654.7 L913.3,654.2 M913.3,654.2 L916.7,656.6 L918.7,660.1 L922.2,662.9 M900.7,695.2 L897.2,693.0 L891.1,690.2 L887.8,689.2 M900.7,695.2 L905.4,693.1 L910.9,690.5 M897.0,670.5 L892.0,672.6 M887.8,689.2 L888.0,684.5 L890.2,681.8 L890.6,676.9 L892.0,672.6 M878.5,648.7 L875.5,652.6 M893.9,646.1 L897.2,648.1 L900.1,651.3 L903.7,655.0 M892.0,672.6 L887.3,671.1 L884.0,667.7 L879.5,666.6 M875.5,652.6 L876.0,657.7 L877.4,661.6 L879.5,666.6 M898.9,610.2 L894.7,612.0 L890.6,614.8 L887.6,619.0 L884.1,620.8 M898.9,610.2 L903.8,611.5 L908.2,613.9 M897.0,634.6 L901.8,631.7 L906.0,629.6 M908.2,613.9 L907.5,618.8 L907.6,624.1 L906.0,629.6 M913.3,654.2 L915.8,650.5 L917.8,646.4 L919.8,642.0 L920.9,638.2 M906.0,629.6 L910.1,632.0 L913.5,634.0 L917.3,635.9 L920.9,638.2 M555.6,770.1 L560.6,767.2 L564.1,763.0 L568.3,760.8 M580.3,782.9 L581.4,777.7 L581.9,773.6 L583.5,769.1 M583.5,769.1 L579.8,766.5 L575.4,765.0 L572.0,762.7 L568.3,760.8 M545.7,739.1 L550.0,737.6 L555.8,736.5 M555.8,736.5 L558.8,739.7 L561.3,743.5 L564.4,746.3 L565.8,748.6 L569.4,752.1 M568.3,760.8 L569.2,755.8 L569.4,752.1 M599.2,488.9 L602.8,484.5 L605.5,481.0 L608.2,478.6 L610.0,475.0 L613.0,470.5 M599.2,488.9 L594.9,487.3 L591.8,484.2 L587.6,482.2 L584.8,479.7 M584.8,479.7 L585.3,473.8 M585.3,473.8 L588.5,471.0 L593.2,467.8 L595.2,465.4 L600.7,461.6 L603.5,458.3 M603.5,458.3 L606.4,462.5 L610.6,466.3 L613.0,470.5 M625.2,491.0 L624.5,486.5 L622.4,482.4 L621.0,477.0 L619.9,472.1 M625.2,491.0 L620.7,492.8 L617.0,495.1 L613.2,495.6 L609.8,497.7 L606.9,500.2 M606.9,500.2 L602.3,496.9 M602.3,496.9 L600.8,492.6 L599.2,488.9 M619.9,472.1 L613.0,470.5 M572.4,456.0 L574.5,460.5 L578.4,463.4 L580.8,467.3 L582.2,470.9 L585.3,473.8 M572.4,456.0 L573.9,452.6 L576.2,448.2 L578.5,445.3 M603.4,458.1 L599.8,456.8 L594.8,454.6 L590.7,452.0 L587.8,450.1 L581.8,447.3 L578.5,445.3 M603.4,458.1 L603.5,458.3 M900.7,590.1 L908.0,589.1 M900.7,590.1 L898.1,586.3 L896.7,583.2 L894.2,580.2 L891.5,575.7 L889.2,573.2 M908.0,589.1 L910.8,585.1 L912.3,579.9 L915.5,575.0 M889.2,573.2 L890.0,571.3 M890.0,571.3 L894.5,569.6 L899.4,569.5 L903.4,567.2 M903.4,567.2 L906.5,570.6 L911.2,573.1 L915.5,575.0 M759.3,490.3 L755.8,486.2 L752.9,480.9 L751.0,476.8 M759.3,490.3 L764.9,488.9 L769.1,486.9 L773.2,485.3 L777.9,483.7 M777.9,483.7 L776.5,479.9 L773.3,475.2 L772.0,471.2 L770.8,467.6 L767.9,462.7 M751.0,476.8 L753.0,472.8 L755.6,468.4 L758.3,465.0 L761.8,461.9 M761.8,461.9 L767.9,462.7 M744.5,477.8 L742.7,482.1 L740.6,485.4 L737.0,490.8 L735.5,493.9 M744.5,477.8 L751.0,476.8 M735.5,493.9 L740.6,497.6 L744.4,499.5 M744.4,499.5 L747.8,497.8 L753.3,497.1 L757.4,495.2 M757.4,495.2 L759.3,490.3 M744.5,477.8 L742.0,475.2 L737.7,471.5 L735.2,470.8 L731.3,467.1 M735.1,456.5 L734.0,462.1 L731.3,467.1 M735.1,456.5 L739.1,454.7 L744.2,454.9 L748.9,452.2 L752.3,451.6 M752.3,451.6 L755.6,455.1 L758.5,459.1 L761.8,461.9 M644.0,397.5 L648.8,400.5 L652.3,402.9 L656.2,405.1 L659.8,407.5 M657.5,379.5 L661.5,381.2 L665.8,382.1 L671.1,383.0 M659.8,407.5 L663.9,405.9 L668.8,403.9 L672.9,402.2 M671.1,383.0 L672.5,387.3 L671.0,393.5 L672.1,397.0 L672.9,402.2 M540.1,537.6 L543.3,540.7 L547.8,543.9 L549.8,546.5 L553.4,549.4 L556.9,552.4 M540.1,537.6 L537.0,540.0 L533.9,543.6 L530.5,547.6 L527.8,549.4 L525.1,553.2 M525.1,553.2 L524.4,557.8 L524.0,561.3 L522.5,565.0 M522.5,565.0 L527.5,564.2 L530.7,563.6 L535.6,563.2 L540.3,562.5 L544.0,562.3 L549.2,562.4 M549.2,562.4 L551.2,559.6 L554.4,555.1 L556.9,552.4 M515.2,532.9 L517.1,537.7 L519.3,541.1 L520.9,544.5 L523.4,548.3 L525.1,553.2 M540.5,530.2 L540.1,537.6 M540.5,530.2 L535.4,524.9 M495.7,553.3 L500.3,554.5 L504.2,557.3 L508.1,559.9 L511.1,561.9 L515.0,563.5 L519.9,566.1 M519.9,566.1 L522.1,565.4 M522.1,565.4 L522.5,565.0 M556.7,577.9 L554.9,583.4 M556.7,577.9 L554.6,573.6 L553.3,571.1 L550.8,566.9 L549.2,562.4 M554.9,583.4 L549.7,586.6 L545.4,588.9 L541.2,591.6 M522.1,565.4 L523.7,569.4 L526.3,571.9 L528.9,575.9 L531.8,578.7 L534.5,581.3 L535.5,585.7 L538.4,588.9 L541.2,591.6 M574.9,570.5 L573.3,566.8 L569.2,563.3 L567.8,558.1 L564.5,554.7 L562.6,550.7 M574.9,570.5 L574.6,571.3 M562.6,550.7 L556.9,552.4 M574.6,571.3 L569.4,573.8 L566.1,575.3 L561.0,577.1 L556.7,577.9 M592.4,430.8 L595.4,433.5 L599.3,434.4 L602.8,437.2 L607.7,439.8 L610.9,442.4 M592.4,430.8 L587.8,432.7 L583.3,434.2 M583.3,434.2 L580.4,438.0 L578.4,441.2 M603.4,458.1 L606.4,454.5 L608.6,449.9 L611.2,444.8 M578.5,445.3 L578.4,441.2 M611.2,444.8 L610.9,442.4 M629.0,466.9 L625.4,470.1 L619.9,472.1 M629.0,466.9 L629.0,461.2 L628.5,457.1 L629.5,451.2 M611.2,444.8 L615.0,446.5 L620.3,447.1 L624.4,450.2 L629.5,451.2 M635.0,408.8 L630.3,410.3 L626.4,409.2 L620.9,410.6 M635.0,408.8 L637.3,413.4 L638.9,419.8 M638.9,419.8 L636.1,423.1 L634.5,426.9 L630.9,430.1 M620.9,410.6 L618.3,414.3 L616.9,417.4 L614.9,421.6 M630.9,430.1 L626.3,430.8 L623.3,430.6 L618.0,430.0 M614.9,421.6 L615.6,426.6 L618.0,430.0 M639.9,398.6 L637.3,404.4 L635.0,408.8 M607.2,394.6 L609.3,397.1 L613.5,400.6 L614.5,404.2 L619.1,408.1 L620.9,410.6 M607.2,394.6 L607.3,394.1 M595.8,407.9 L597.1,413.6 L598.8,417.4 M595.8,407.9 L599.3,405.2 L601.8,401.0 L605.2,397.9 L607.2,394.6 M598.8,417.4 L603.7,418.6 L607.7,419.5 L610.7,420.8 L614.9,421.6 M610.9,442.4 L612.9,437.6 L615.8,434.9 L618.0,430.0 M629.5,451.2 L633.4,448.9 L638.3,445.2 M638.3,445.2 L637.0,442.0 L634.4,438.7 L633.3,434.0 L630.9,430.1 M598.8,417.4 L595.9,422.0 L593.6,427.1 L592.4,430.8 M600.9,360.9 L597.0,363.4 L593.8,366.7 L590.2,369.2 L586.4,372.0 M605.9,391.1 L602.7,389.5 L598.8,386.5 L596.1,383.3 L591.3,381.6 L588.5,379.7 M588.5,379.7 L586.9,376.6 L586.4,372.0 M477.6,383.7 L478.1,378.8 L479.7,375.4 L481.9,372.3 L483.2,367.4 L482.8,362.2 L485.2,359.5 L486.1,354.8 M477.6,383.7 L472.9,385.4 L469.3,385.5 L465.3,385.3 L460.2,387.9 L456.2,387.0 L452.0,389.1 L447.8,388.9 L444.1,390.3 M440.8,340.7 L439.9,345.0 L440.4,349.0 L440.3,354.7 L439.7,357.2 L438.3,363.3 L438.9,366.0 L437.7,370.8 L437.8,374.5 L436.5,380.2 L436.5,384.1 M444.1,339.6 L448.8,339.8 L452.1,342.3 L456.6,343.0 L460.8,343.7 L463.0,344.8 L467.8,345.9 L471.1,347.3 L474.6,350.0 L479.1,351.2 L483.4,351.5 M483.4,351.5 L486.1,354.8 M436.5,384.1 L440.7,386.6 L444.1,390.3 M519.0,377.6 L517.0,373.6 L514.2,370.5 L509.8,368.5 L506.5,365.8 L503.7,362.9 L500.7,359.2 L498.8,356.1 M519.0,377.6 L515.3,380.1 L512.7,383.1 L509.4,386.6 L505.9,388.5 L503.7,391.7 L501.1,394.8 L497.1,396.9 L494.0,400.7 M494.0,400.7 L489.8,396.5 L487.7,394.2 L485.1,390.4 L481.3,386.8 L477.6,383.7 M498.8,356.1 L493.7,355.5 L490.7,355.8 L486.1,354.8 M395.6,393.6 L400.6,393.3 L403.9,391.8 L407.9,390.7 L412.3,389.9 L416.8,388.7 L420.1,388.5 L424.6,387.0 L428.4,386.6 L432.6,384.5 L436.5,384.1 M492.1,320.9 L490.5,325.5 L488.7,329.6 L489.1,333.5 L487.0,338.8 L486.7,343.1 L484.9,346.9 L483.4,351.5 M519.6,339.5 L516.0,342.6 L512.4,345.6 L508.2,348.3 L506.2,350.2 L501.3,353.0 L498.8,356.1 M560.1,694.1 L557.3,691.8 L554.9,687.9 L550.4,684.9 L549.2,683.1 L545.3,680.0 M560.1,694.1 L557.1,698.1 L556.5,701.7 L552.8,706.1 L551.1,708.9 M545.3,680.0 L542.2,682.3 L538.8,685.8 L534.9,688.5 L530.8,691.5 L527.7,694.5 M551.1,708.9 L546.5,709.3 L542.4,709.1 L537.0,710.5 M527.7,694.5 L529.4,699.4 L532.6,702.7 L534.9,706.0 L537.0,710.5 M529.8,726.7 L531.4,722.1 L532.7,719.6 L535.7,715.3 L537.0,710.5 M563.9,724.5 L560.2,728.9 L558.1,732.5 L555.8,736.5 M563.9,724.5 L561.7,720.5 L558.6,718.4 L557.0,715.2 L553.3,712.2 L551.1,708.9 M513.0,690.7 L518.0,691.6 L522.9,692.8 L527.7,694.5 M686.5,808.6 L683.7,803.6 L682.1,799.4 L681.1,794.9 M709.8,800.1 L707.2,797.5 L705.1,793.8 L702.9,789.5 L699.1,786.0 L696.0,783.2 L694.2,779.7 M681.1,794.9 L684.4,790.3 L688.5,788.3 L690.0,782.5 L694.2,779.7 M636.0,526.5 L632.8,530.8 L631.4,534.2 M636.0,526.5 L640.4,527.2 L642.5,529.7 L646.8,530.2 L649.9,532.1 L654.6,534.2 M654.6,534.2 L653.6,538.6 L654.0,543.3 L653.1,548.0 L653.3,553.4 M653.3,553.4 L649.6,552.2 L644.4,552.0 L639.8,551.4 M631.4,534.2 L633.1,538.3 L634.6,542.2 L638.0,547.6 L639.8,551.4 M667.6,575.9 L664.8,579.5 L663.2,584.4 M667.6,575.9 L666.5,571.3 L664.3,569.0 L661.0,565.1 L659.0,559.7 L657.7,556.8 M663.2,584.4 L658.6,583.6 L655.1,583.2 L651.3,583.1 L645.8,581.6 L642.5,581.7 M657.7,556.8 L656.1,556.3 M656.1,556.3 L654.2,559.1 L652.2,564.1 L648.3,566.6 L646.0,570.5 L643.6,573.3 L641.7,577.8 M642.5,581.7 L641.7,577.8 M687.4,560.0 L683.3,557.2 L680.0,555.6 L677.5,553.8 L673.2,551.3 M687.4,560.0 L686.7,565.5 L685.3,569.4 L684.7,574.3 M673.2,551.3 L668.8,553.4 L666.2,554.9 L661.8,554.7 L657.7,556.8 M684.7,574.3 L679.5,575.3 L676.9,575.2 L672.7,576.4 L667.6,575.9 M653.3,553.4 L656.1,556.3 M630.3,557.6 L635.6,554.2 L639.8,551.4 M630.3,557.6 L629.7,562.9 L629.2,568.9 M629.2,568.9 L633.1,571.8 L636.5,574.0 L641.7,577.8 M619.0,573.5 L618.6,578.7 L620.3,584.0 L619.9,588.7 M619.0,573.5 L623.4,571.1 L629.2,568.9 M619.9,588.7 L624.0,589.4 L626.9,591.7 L631.7,592.9 M631.7,592.9 L634.7,591.4 L638.8,589.3 M638.8,589.3 L640.0,586.2 L642.5,581.7 M638.3,445.2 L646.2,446.0 M638.9,419.8 L642.6,421.2 L647.1,423.7 L652.0,425.2 L655.2,426.0 M646.2,446.0 L648.4,441.2 L649.2,438.1 L652.6,434.5 L652.8,429.7 L655.2,426.0 M659.8,407.5 L659.8,412.1 L658.6,417.3 L657.5,421.4 L656.0,425.7 M655.2,426.0 L656.0,425.7 M682.8,415.3 L681.3,408.6 M682.8,415.3 L681.3,419.3 L678.4,424.7 L676.4,427.6 L675.6,432.2 M681.3,408.6 L677.3,406.3 L672.9,402.2 M656.0,425.7 L659.3,426.5 L664.5,428.0 L667.5,429.4 L670.7,431.8 L675.6,432.2 M673.2,551.3 L674.9,545.4 L675.0,540.8 L677.1,536.6 M654.6,534.2 L657.4,532.3 L660.7,528.9 M660.7,528.9 L664.1,530.3 L668.5,532.7 L673.8,534.7 L677.1,536.6 M687.4,560.0 L692.8,557.1 M698.6,541.1 L696.0,538.8 L691.7,537.1 L688.7,533.9 L685.1,531.5 M677.1,536.6 L681.1,533.7 L685.1,531.5 M733.2,522.2 L737.3,519.9 L741.0,519.8 L745.8,517.8 M733.2,522.2 L728.4,518.5 L725.1,515.9 M735.5,493.9 L728.8,494.6 M745.8,517.8 L744.8,513.0 L744.2,508.4 L744.9,504.4 L744.4,499.5 M728.8,494.6 L728.8,498.0 L727.6,502.5 L726.3,507.5 L726.5,512.0 L725.1,515.9 M708.5,538.5 L709.7,533.3 L708.7,529.9 L708.4,524.8 L709.4,521.5 L709.9,517.1 M733.2,522.2 L731.9,525.4 L731.8,530.9 L731.7,535.5 L731.0,538.6 M725.1,515.9 L720.2,517.1 L715.1,516.7 L709.9,517.1 M696.3,515.7 L692.6,518.3 L688.3,523.0 L685.6,526.1 M696.3,515.7 L701.2,514.9 L704.0,515.7 L708.8,516.2 M685.1,531.5 L685.6,526.1 M709.9,517.1 L708.8,516.2 M491.2,586.1 L495.1,586.0 L499.4,584.2 L504.2,584.7 L508.5,583.1 M494.1,613.4 L497.6,612.6 L501.1,611.1 L506.8,609.5 L509.6,609.3 L514.0,608.1 L517.9,606.8 M508.5,583.1 L510.3,587.4 L511.3,590.7 L513.0,595.0 L514.9,599.7 L516.1,602.8 L517.9,606.8 M519.9,566.1 L518.3,570.5 L514.8,573.4 L512.6,576.8 L509.9,579.7 L508.5,583.1 M507.2,683.0 L509.8,680.3 L512.9,677.3 L514.7,673.5 L516.0,670.4 L519.5,667.6 L521.2,664.1 L524.3,660.7 M494.2,641.1 L497.3,641.6 L502.9,641.1 L506.6,641.6 L510.2,641.4 M510.2,641.4 L512.6,644.4 L516.4,648.8 L518.0,652.9 L522.1,657.8 L524.3,660.7 M545.5,675.8 L545.3,680.0 M545.5,675.8 L542.5,673.0 L538.5,668.2 L535.1,664.0 L532.9,660.7 M524.3,660.7 L529.3,659.8 L532.9,660.7 M564.5,662.6 L563.7,664.3 M564.5,662.6 L561.9,659.2 L559.6,656.8 L554.9,652.0 L553.8,648.8 L549.2,646.6 L546.9,642.4 M545.5,675.8 L549.4,673.1 L552.9,671.1 L556.4,669.0 L559.4,666.9 L563.7,664.3 M532.9,660.7 L536.6,657.2 L539.1,652.9 L540.6,648.7 L545.1,645.3 L546.9,642.4 M574.6,571.3 L576.4,576.2 L579.1,580.7 L580.6,585.0 M554.9,583.4 L558.4,587.1 L562.2,590.2 L565.1,593.0 L569.7,595.5 M580.6,585.0 L576.2,588.3 L573.2,591.4 L569.7,595.5 M947.2,223.8 L945.4,220.6 L942.8,215.2 L943.0,211.8 L940.1,208.7 L938.6,203.9 M947.2,223.8 L945.0,226.7 L942.0,230.1 L939.6,234.3 L936.9,236.8 L934.5,240.6 L931.6,244.5 L929.0,247.3 L925.5,251.6 M938.6,203.9 L933.9,205.6 L931.8,207.4 L927.1,208.6 L923.3,211.0 L920.1,213.4 L915.5,214.0 L911.7,216.6 M911.7,216.6 L910.4,222.7 L910.8,226.4 L910.0,232.1 M910.0,232.1 L913.2,234.8 L915.1,239.3 L917.0,241.0 L919.5,244.4 L922.7,248.0 L925.5,251.6 M925.8,253.5 L925.5,251.6 M925.8,253.5 L928.8,254.8 L932.6,257.9 L936.5,259.8 L939.6,262.1 L943.4,264.0 L946.3,266.9 M946.3,266.9 L950.1,265.2 L954.0,263.8 L958.0,262.2 M969.6,230.1 L965.2,228.5 L961.3,228.5 L956.3,226.6 L952.1,224.7 L947.2,223.8 M897.5,201.1 L900.5,204.1 L903.2,207.0 L906.1,209.8 L908.3,212.9 L911.7,216.6 M917.1,176.0 L920.8,178.0 L924.7,181.9 L928.2,183.2 L932.0,185.8 L934.4,188.8 L938.5,191.0 L941.7,193.7 M941.7,193.7 L940.7,199.5 L938.6,203.9 M875.8,238.1 L879.7,236.8 L884.2,237.0 L889.0,235.2 L892.7,235.9 L898.1,234.5 L902.0,234.3 L905.2,232.0 L910.0,232.1 M875.8,238.1 L875.1,233.4 L874.3,228.7 L872.8,225.3 L872.0,220.2 M925.8,253.5 L921.4,256.3 L918.0,259.4 L915.6,263.3 L912.1,264.5 L908.1,268.1 M875.8,238.1 L875.0,239.9 M875.0,239.9 L876.5,244.0 L878.5,248.4 L880.8,252.9 L880.9,255.4 L883.1,260.2 M947.3,190.8 L952.3,191.7 L956.3,193.1 L959.6,194.6 L962.7,196.5 L968.1,198.8 L971.2,199.2 L975.6,201.4 M947.3,190.8 L948.8,186.3 L950.4,183.1 L952.7,180.1 L953.7,175.5 L956.4,170.9 L957.8,167.1 L960.7,163.6 L960.8,160.1 L963.5,156.3 M975.6,201.4 L977.8,198.6 L980.3,193.7 L982.9,189.8 L984.6,186.3 L987.0,183.0 L989.1,180.7 L990.7,176.5 M990.7,176.5 L987.9,173.2 L983.9,170.7 L981.3,169.9 L977.7,166.7 L974.7,163.2 L970.8,161.1 L968.3,158.7 L964.6,156.3 M964.6,156.3 L963.5,156.3 M941.7,193.7 L947.3,190.8 M979.9,213.0 L978.2,209.2 L976.4,204.4 L975.6,201.4 M949.2,144.0 L952.3,146.1 L956.7,150.1 L960.1,153.3 L963.5,156.3 M1000.4,176.2 L994.6,177.0 L990.7,176.5 M989.6,136.3 L987.1,137.8 L983.2,141.8 L980.0,144.5 L977.5,146.6 L974.8,149.3 L971.0,150.4 L967.6,154.2 L964.6,156.3 M989.3,274.9 L987.3,278.9 L984.8,283.2 L982.5,286.7 L980.9,290.2 M980.9,290.2 L981.5,294.7 L981.3,299.8 L983.0,305.7 M942.1,316.9 L937.5,314.3 L933.7,311.8 M942.1,316.9 L949.0,315.3 M949.0,315.3 L951.3,310.7 L955.4,307.9 M933.7,311.8 L933.1,308.6 L931.2,303.4 L930.3,298.5 L928.9,295.1 M955.4,307.9 L955.5,303.0 L956.3,297.8 L955.3,292.3 M928.9,295.1 L932.5,291.8 L936.7,289.0 L939.3,286.3 L942.6,281.9 L946.2,279.7 M946.2,279.7 L949.5,284.6 L952.0,287.3 L955.3,292.3 M980.9,290.2 L975.8,291.4 L971.6,291.2 L967.3,291.3 L964.7,291.1 L959.2,292.2 L955.3,292.3 M971.8,311.5 L967.8,310.7 L963.4,308.8 L959.7,308.3 L955.4,307.9 M946.3,266.9 L946.5,271.0 L945.8,276.4 L946.2,279.7 M905.7,289.9 L907.0,291.6 M907.0,291.6 L911.0,293.3 L915.7,293.1 L919.7,293.1 L925.0,294.3 L928.9,295.1 M874.0,354.3 L869.0,352.3 L863.8,352.0 L858.6,350.3 M855.2,377.5 L850.1,373.8 M850.1,373.8 L852.1,370.2 L852.8,366.3 L854.6,362.0 L856.1,357.8 L856.3,353.5 L858.6,350.3 M926.1,358.1 L929.2,354.9 L931.1,349.7 L933.2,346.8 L934.7,341.9 L936.8,338.3 M926.1,358.1 L928.8,364.7 M936.8,338.3 L940.2,341.1 L946.2,342.7 L949.5,343.8 M935.6,335.6 L936.8,338.3 M935.6,335.6 L937.1,331.4 L939.7,326.3 L939.7,322.5 L942.1,316.9 M949.0,315.3 L951.9,319.7 L954.8,322.1 L957.3,325.9 L960.2,330.7 M896.8,367.3 L900.1,370.2 L904.8,371.3 L907.4,373.6 L912.0,375.2 M926.1,358.1 L922.7,356.2 L919.3,354.6 L915.2,351.7 L911.7,349.5 L908.0,347.2 M906.1,347.9 L908.0,347.2 M935.6,335.6 L931.8,334.1 L926.4,333.1 L922.3,333.1 L918.7,332.7 L914.9,331.3 M908.0,347.2 L909.1,342.5 L912.2,338.4 L912.9,335.7 L914.9,331.3 M749.0,628.4 L747.4,630.5 M749.0,628.4 L749.5,623.0 L749.0,618.6 L749.7,614.3 L750.6,608.6 M747.4,630.5 L742.5,629.3 L737.7,626.5 L733.9,624.1 L730.0,622.1 M750.6,608.6 L746.9,607.0 L742.8,604.7 L738.9,602.3 L736.3,599.8 M736.3,599.8 L735.4,603.5 L733.9,607.2 L731.4,612.1 L731.2,615.7 L728.7,619.0 M730.0,622.1 L728.7,619.0 M900.7,590.1 L897.2,595.4 L894.7,599.0 M889.2,573.2 L882.6,577.4 M894.7,599.0 L890.4,599.2 L886.2,597.3 L881.9,597.6 L878.3,596.6 M882.6,577.4 L882.5,582.2 L879.7,587.4 L880.2,592.4 L878.3,596.6 M768.1,645.1 L763.1,642.9 L760.6,641.8 L757.0,640.4 L752.6,638.2 L748.0,636.0 M768.1,645.1 L771.8,641.4 L776.0,639.7 M748.0,636.0 L747.4,630.5 M749.0,628.4 L753.9,626.7 L758.4,624.4 L762.8,623.9 L767.2,622.4 L770.8,620.4 M776.0,639.7 L776.9,635.3 L777.3,630.4 L779.1,626.5 M770.8,620.4 L775.1,622.8 L779.1,626.5 M736.3,599.8 L735.6,597.5 M728.7,619.0 L724.2,617.6 L720.5,616.5 L716.0,614.2 L711.9,612.4 M711.9,612.4 L712.9,608.7 L714.3,604.9 L714.5,599.0 L716.3,595.6 M716.3,595.6 L720.1,595.8 L725.0,594.9 L728.5,595.7 L733.2,595.5 M733.2,595.5 L735.6,597.5 M745.8,517.8 L749.6,519.1 M757.4,495.2 L759.8,500.2 L762.3,504.5 L765.9,508.3 M749.6,519.1 L753.0,516.9 L758.3,514.6 L762.6,510.1 L765.9,508.3 M735.0,543.1 L741.0,544.9 L746.5,544.9 M746.5,544.9 L749.5,541.1 L752.0,537.1 L754.5,533.6 L756.4,530.1 M749.6,519.1 L752.8,521.8 L754.3,525.7 L756.4,530.1 M786.8,545.0 L786.0,550.2 L784.0,554.2 L782.1,556.9 L781.8,561.9 L779.8,566.4 M786.8,545.0 L790.4,546.8 L796.5,547.1 L800.1,549.4 M800.1,549.4 L802.3,553.2 L803.2,556.8 L806.1,561.7 M779.8,566.4 L782.1,568.6 L786.3,571.5 M786.3,571.5 L790.3,570.3 L795.4,569.7 L800.3,567.0 L804.1,566.4 M806.1,561.7 L804.1,566.4 M823.9,611.9 L825.0,608.2 L825.2,603.2 L827.5,598.7 L827.8,593.6 L829.2,590.1 L829.1,585.0 M823.9,611.9 L817.3,615.4 M817.3,615.4 L814.1,611.7 L810.7,608.8 L809.7,606.1 L805.5,601.8 L803.4,599.0 M829.1,585.0 L824.3,584.4 L820.3,584.2 L817.0,585.6 L812.8,584.6 M812.8,584.6 L810.5,587.7 L806.5,591.2 L803.9,593.2 M803.4,599.0 L803.9,593.2 M814.2,623.0 L815.2,618.3 L817.3,615.4 M814.2,623.0 L816.3,628.6 L819.6,633.0 M837.9,614.7 L840.3,618.7 L841.4,623.7 L843.9,627.8 M837.9,614.7 L833.3,614.4 L828.5,612.0 L823.9,611.9 M843.9,627.8 L839.6,629.5 L837.1,632.7 L833.7,633.5 L830.1,636.8 M830.1,636.8 L825.7,634.8 L819.6,633.0 M814.2,623.0 L810.1,623.2 L805.3,624.1 L801.8,626.3 L797.4,626.3 M797.4,626.3 L793.2,624.1 L790.1,622.6 M791.1,608.6 L790.3,612.4 L789.4,618.5 L790.1,622.6 M791.1,608.6 L796.1,604.5 L798.4,602.1 L803.4,599.0 M835.0,576.9 L832.6,580.0 L830.9,584.1 M835.0,576.9 L833.2,570.6 M830.9,584.1 L829.1,585.0 M833.2,570.6 L830.2,566.9 L825.0,565.4 L822.1,561.9 L818.1,558.5 M818.1,558.5 L814.4,558.7 L811.0,559.7 L806.1,561.7 M804.1,566.4 L805.3,570.0 L808.2,574.6 L808.3,576.6 L810.0,580.3 L812.8,584.6 M786.5,585.0 L787.3,579.7 L786.4,575.4 L786.3,571.5 M786.5,585.0 L789.9,586.6 L794.7,589.2 L800.3,591.2 L803.9,593.2 M887.8,689.2 L880.8,692.1 M871.1,675.8 L874.0,672.3 L876.1,669.6 L879.5,666.6 M871.1,675.8 L872.2,681.3 L873.1,684.2 L874.9,689.8 M880.8,692.1 L874.9,689.8 M900.7,695.2 L899.2,699.2 L899.0,703.8 L898.9,708.4 M898.9,708.4 L895.3,709.9 L890.3,711.1 L886.4,710.6 L881.2,712.5 M880.8,692.1 L881.3,695.4 L880.8,700.0 L880.6,703.4 L880.5,708.8 L881.2,712.5 M898.9,708.4 L902.6,712.3 M881.2,712.5 L877.7,717.5 M887.7,727.3 L885.3,724.8 L880.1,720.9 L877.7,717.5 M857.3,696.6 L858.9,700.4 L861.8,703.4 L863.1,707.8 L865.3,712.3 L869.1,714.3 L870.6,719.1 M857.3,696.6 L862.3,695.6 L865.2,693.4 L870.5,690.9 L874.9,689.8 M877.7,717.5 L870.6,719.1 M871.1,675.8 L867.1,675.0 L862.4,674.7 L857.0,672.9 M875.5,652.6 L871.3,653.5 L866.1,652.9 L860.2,654.4 M857.0,672.9 L857.5,668.2 L858.7,663.4 L860.1,659.2 L860.2,654.4 M872.8,630.9 L868.4,629.8 L863.4,628.7 L857.5,628.0 M852.7,630.7 L857.5,628.0 M852.7,630.7 L853.9,635.6 L852.8,640.4 L852.4,645.3 L853.4,649.6 M853.4,649.6 L857.0,652.6 L860.2,654.4 M908.0,589.1 L910.5,592.1 L914.9,594.7 L918.1,598.8 M894.7,599.0 L897.3,605.4 L898.9,610.2 M908.2,613.9 L913.4,612.5 L918.1,610.2 M918.1,598.8 L919.0,604.4 L918.1,610.2 M915.5,575.0 L916.2,574.8 M916.2,574.8 L920.0,578.1 L923.8,579.8 M926.7,581.7 L930.4,583.4 L933.4,586.1 M918.1,598.8 L922.1,596.1 L926.4,591.7 L928.9,589.6 L933.4,586.1 M938.5,584.9 L937.1,585.9 M928.8,562.8 L924.8,562.3 M916.2,574.8 L919.5,571.1 L921.9,566.2 L924.8,562.3 M937.1,585.9 L933.4,586.1 M563.9,724.5 L570.7,722.8 L575.5,722.0 M583.0,743.8 L578.1,745.6 L573.1,749.6 L569.4,752.1 M583.0,743.8 L583.7,739.1 L584.1,734.8 L583.9,731.4 M575.5,722.0 L578.1,725.4 L581.7,728.1 L583.9,731.4 M731.3,467.1 L727.0,469.6 L721.6,472.3 M728.8,494.6 L726.5,493.0 M721.6,472.3 L722.9,477.1 L723.7,480.7 L725.4,483.8 L724.5,487.9 L726.5,493.0 M708.8,516.2 L708.3,512.1 L708.9,508.3 L707.6,504.6 L708.0,500.7 L708.5,495.6 M726.5,493.0 L721.7,494.3 L717.9,493.4 L713.0,494.8 L708.5,495.6 M721.6,472.3 L714.1,470.4 M703.7,491.9 L708.5,495.6 M703.7,491.9 L705.9,486.6 L706.0,481.7 L706.5,477.7 L708.8,472.9 M708.8,472.9 L714.1,470.4 M911.9,421.0 L914.0,424.4 L916.3,428.5 L917.5,433.0 M899.4,418.7 L899.9,423.7 L899.5,428.0 L898.8,433.0 L898.2,437.3 L897.3,442.2 M897.3,442.2 L898.5,443.2 M663.9,330.5 L665.5,334.8 L666.8,340.8 L668.7,344.7 M657.0,355.5 L661.2,353.3 L667.1,349.7 M668.7,344.7 L667.1,349.7 M683.4,372.9 L681.8,376.0 M683.4,372.9 L688.4,372.3 L692.2,373.6 L696.8,373.0 L701.2,372.3 L705.7,373.0 M681.8,376.0 L685.6,379.8 L686.9,382.3 L690.5,386.7 L692.9,388.9 L695.3,392.7 L698.3,395.9 M705.7,373.0 L708.9,378.1 L710.0,381.4 L713.0,387.1 M713.0,387.1 L709.5,389.6 L706.1,392.4 L701.5,396.1 M701.5,396.1 L698.3,395.9 M671.1,383.0 L675.7,381.3 L677.8,377.4 L681.8,376.0 M683.0,367.3 L680.4,363.0 L675.9,360.0 L672.8,355.9 L670.3,353.6 L667.1,349.7 M683.0,367.3 L683.4,372.9 M695.9,351.4 L693.9,353.7 L689.9,357.7 L688.6,360.3 L685.8,363.3 L683.0,367.3 M695.9,351.4 L700.7,354.2 L704.7,355.4 L707.0,358.3 L711.7,359.8 M711.7,359.8 L709.6,363.9 L707.6,369.0 L705.7,373.0 M681.3,408.6 L685.2,405.9 L687.6,402.8 L690.6,401.9 L695.9,397.6 L698.3,395.9 M700.5,419.6 L704.5,417.1 L708.2,412.7 M700.5,419.6 L696.2,419.4 L691.0,417.9 L687.9,415.6 L682.8,415.3 M708.2,412.7 L705.9,409.5 L704.3,404.6 L704.0,400.7 L701.5,396.1 M572.5,504.7 L572.2,503.5 M572.5,504.7 L569.2,508.0 L565.6,511.4 L561.1,515.9 M572.2,503.5 L568.7,500.8 L566.1,497.3 L561.6,495.3 L558.5,493.7 L555.8,490.5 L552.7,487.6 M561.1,515.9 L557.0,513.9 L554.0,511.3 L548.3,508.0 L545.2,505.1 M545.2,505.1 L547.6,501.5 L549.1,496.3 L550.2,491.0 L552.7,487.6 M580.6,508.2 L583.2,505.9 L588.3,504.3 L591.5,502.1 L596.0,501.5 L598.2,498.6 L602.3,496.9 M580.6,508.2 L575.7,506.3 L572.5,504.7 M584.8,479.7 L580.6,482.2 M580.6,482.2 L578.4,486.9 L576.9,491.1 L574.6,495.4 L574.2,498.8 L572.2,503.5 M540.5,530.2 L544.9,529.7 L549.1,528.1 L552.0,526.7 L556.5,524.9 L559.8,524.1 M559.8,524.1 L561.2,520.5 L561.1,515.9 M537.9,507.6 L545.2,505.1 M528.6,501.1 L530.4,497.2 L530.5,492.8 L532.7,488.1 L534.2,483.3 M534.2,483.3 L538.9,483.3 L543.5,484.3 L548.4,482.9 L551.8,484.0 M551.8,484.0 L552.7,487.6 M557.8,477.1 L555.2,478.3 M557.8,477.1 L560.9,473.7 L562.5,469.7 L564.3,465.0 L566.0,462.1 L569.1,457.2 M555.2,478.3 L553.5,474.7 L550.8,471.7 L547.6,467.5 L546.4,463.9 L544.6,459.6 L541.7,457.0 L539.0,452.8 M569.1,457.2 L564.8,456.7 L560.8,453.8 L556.2,452.9 L553.8,452.6 L549.5,450.7 L544.6,449.0 M544.6,449.0 L539.0,452.8 M580.6,482.2 L576.0,481.5 L571.7,481.1 L566.7,479.0 L562.8,478.8 L557.8,477.1 M551.8,484.0 L555.2,478.3 M572.4,456.0 L569.1,457.2 M534.2,483.3 L532.0,481.1 M532.0,481.1 L532.3,475.9 L531.9,471.5 L531.0,466.9 L530.3,462.1 L531.5,458.8 L531.0,453.7 M531.0,453.7 L534.2,454.1 L539.0,452.8 M578.4,441.2 L574.1,439.9 L569.0,436.6 L566.4,434.8 L560.6,434.1 L556.4,431.7 L553.1,430.0 M553.1,430.0 L552.0,433.0 L550.4,438.4 L549.0,441.6 L547.0,444.5 L544.6,449.0 M583.3,434.2 L581.7,430.9 L580.5,425.6 L578.7,422.0 L576.3,418.9 L574.5,414.3 M553.1,430.0 L552.3,424.5 L551.5,420.6 L549.6,414.6 M549.6,414.6 L554.3,413.7 L556.9,414.7 L561.2,413.7 L567.0,413.5 L569.9,414.0 L574.5,414.3 M595.8,407.9 L592.3,408.1 L587.6,406.4 L582.7,405.8 M574.5,414.3 L577.8,411.0 L582.7,405.8 M588.5,379.7 L585.3,383.6 L583.8,387.0 L581.4,391.4 L578.1,394.2 M582.7,405.8 L580.9,402.4 L578.8,397.9 L578.1,394.2 M519.0,377.6 L524.7,377.6 L529.7,378.4 M494.0,400.7 L494.3,405.9 L494.6,410.9 L495.7,414.7 M495.7,414.7 L498.9,415.6 L503.8,417.2 L508.1,418.9 L510.6,421.1 L515.2,422.2 M515.2,422.2 L519.2,420.3 L522.6,417.0 L527.1,415.7 L531.0,412.9 L536.4,410.8 L539.8,409.1 M529.7,378.4 L530.7,383.0 L533.2,386.6 L532.8,390.4 L533.9,394.3 L535.6,397.0 L537.1,400.7 L538.9,405.9 L539.8,409.1 M549.6,414.6 L546.3,411.2 M578.1,394.2 L573.6,393.7 L567.9,391.6 L563.8,391.1 M563.8,391.1 L561.5,394.1 L558.4,397.9 L554.3,400.6 L553.0,405.3 L549.4,406.9 L546.3,411.2 M531.0,453.7 L525.1,452.9 L521.2,450.3 M521.2,450.3 L520.9,446.7 L519.0,443.1 L517.8,438.6 L518.1,434.0 L517.5,429.6 L517.0,427.1 L515.2,422.2 M539.8,409.1 L546.3,411.2 M532.0,481.1 L526.8,480.8 L522.9,481.0 L517.6,481.7 L512.6,481.4 M521.2,450.3 L517.7,453.9 L512.4,456.5 M512.4,456.5 L512.0,460.4 L511.6,465.4 L513.2,468.4 L512.5,472.8 L512.1,476.3 L512.6,481.4 M515.4,503.2 L514.7,500.1 L513.0,495.7 L513.4,491.3 L512.7,487.1 L511.1,483.2 M511.1,483.2 L512.6,481.4 M628.1,703.2 L631.6,697.7 L634.7,694.0 M628.1,703.2 L622.1,703.9 M622.1,703.9 L617.6,701.6 L614.4,699.0 M614.4,699.0 L613.8,694.3 L612.7,689.6 L610.4,685.4 L609.3,680.1 M609.3,680.1 L611.6,677.8 M634.7,694.0 L634.7,690.9 L633.4,685.6 L631.9,682.4 L631.5,678.3 M611.6,677.8 L615.7,677.5 L622.2,677.5 L626.9,677.8 L631.5,678.3 M634.7,694.0 L638.7,693.0 L643.8,692.1 L648.5,692.6 L653.7,691.0 M653.7,691.0 L653.3,687.0 L652.2,682.5 L652.7,678.6 L651.6,674.9 M651.6,674.9 L646.8,674.5 L643.8,675.4 L640.0,674.3 L635.2,674.2 M631.5,678.3 L635.2,674.2 M730.1,650.6 L726.0,648.6 L722.4,645.2 L720.9,641.9 L716.6,639.5 M730.1,650.6 L727.7,654.3 L725.0,658.1 L722.9,663.4 L720.2,667.2 M720.2,667.2 L713.9,668.4 M713.9,668.4 L710.6,663.2 L708.2,659.7 L706.0,656.2 L703.5,651.6 M703.5,651.6 L706.8,647.6 L709.1,645.4 L712.6,643.1 L716.6,639.5 M730.0,622.1 L727.7,626.0 L724.8,628.1 L722.4,631.5 L718.5,634.3 L716.5,638.5 M708.5,614.2 L711.9,612.4 M708.5,614.2 L707.7,620.2 L707.7,624.6 L706.8,629.4 M706.8,629.4 L709.8,632.3 L714.1,636.4 L716.5,638.5 M740.0,649.3 L742.3,645.1 L745.3,639.8 L748.0,636.0 M740.0,649.3 L735.0,649.1 L730.1,650.6 M716.6,639.5 L716.5,638.5 M611.9,592.8 L610.9,598.3 L608.6,604.2 M611.9,592.8 L608.7,590.7 L604.4,588.3 L602.4,584.7 L597.9,582.1 M591.9,600.9 L590.4,596.6 L590.9,591.2 L589.8,587.3 M591.9,600.9 L596.4,602.3 L599.2,603.8 L603.6,606.5 M603.6,606.5 L608.6,604.2 M597.9,582.1 L594.1,585.2 L589.8,587.3 M580.6,585.0 L585.6,585.8 L589.8,587.3 M580.8,609.0 L576.6,606.6 L572.6,605.6 L569.4,604.6 M580.8,609.0 L583.9,605.4 L588.0,602.6 L591.9,600.9 M569.4,604.6 L569.6,599.1 L569.7,595.5 M597.3,628.3 L598.3,623.1 L599.2,619.9 L600.3,615.8 L602.7,611.1 L603.6,606.5 M597.3,628.3 L592.2,627.0 L586.9,624.8 M586.9,624.8 L584.8,620.6 L582.9,615.9 L582.2,613.2 L580.8,609.0 M614.2,755.8 L612.7,752.5 L608.4,748.8 L606.8,744.0 M614.2,755.8 L611.5,759.6 L608.5,762.9 L606.5,767.7 L604.1,771.6 M606.8,744.0 L603.0,746.9 L597.1,749.3 L593.2,751.7 M593.2,751.7 L593.9,755.8 L592.9,760.5 L593.3,765.6 M604.1,771.6 L601.4,768.9 L597.2,767.3 L593.3,765.6 M630.1,771.9 L632.6,768.4 L634.1,764.9 M606.9,776.8 L604.1,771.6 M634.1,764.9 L630.3,761.3 L627.7,756.3 M627.7,756.3 L623.3,755.2 L618.2,755.3 L614.2,755.8 M583.5,769.1 L588.1,766.7 L593.3,765.6 M583.0,743.8 L586.7,746.7 L589.6,748.6 L593.2,751.7 M607.1,742.9 L611.4,740.2 L615.7,738.7 L619.7,736.4 L623.3,733.0 M607.1,742.9 L604.5,740.3 L602.4,737.0 L600.6,732.5 L598.1,729.6 M598.1,729.6 L600.0,726.7 L602.8,722.3 M602.8,722.3 L607.4,721.3 L612.2,721.0 L616.6,721.4 M616.6,721.4 L617.9,724.8 L621.6,728.6 L623.3,733.0 M583.9,731.4 L589.4,729.9 L593.1,729.2 L598.1,729.6 M606.8,744.0 L607.1,742.9 M622.1,703.9 L621.1,708.5 L619.9,713.3 L618.8,716.9 L616.6,721.4 M595.9,706.9 L599.3,705.5 L603.3,703.1 L606.9,702.0 L611.5,699.8 L614.4,699.0 M595.9,706.9 L598.1,711.2 L600.2,714.7 L601.5,717.7 L602.8,722.3 M655.7,776.5 L662.9,774.2 M655.7,776.5 L654.2,779.6 L651.5,783.7 L649.0,788.5 M662.9,774.2 L664.5,778.4 L667.0,782.2 L668.9,784.9 L671.3,789.6 L673.9,793.4 M657.1,803.5 L661.9,801.7 L665.2,799.3 L669.8,795.3 L673.9,793.4 M637.8,764.5 L640.8,761.8 L644.3,757.6 L647.8,755.3 L648.9,751.7 L653.6,748.2 L656.0,746.0 M637.8,764.5 L641.0,767.3 L644.2,769.7 L648.7,771.2 L652.7,773.3 L655.7,776.5 M665.4,770.6 L662.9,774.2 M665.4,770.6 L663.4,767.0 L662.8,761.9 L660.9,759.1 L659.0,753.4 L658.3,749.7 L656.8,746.2 M656.8,746.2 L656.0,746.0 M634.1,764.9 L637.8,764.5 M681.1,794.9 L673.9,793.4 M686.0,703.5 L683.1,705.4 L678.8,708.4 L677.0,710.6 L673.8,713.8 L669.5,715.2 M686.0,703.5 L686.0,703.0 M656.2,693.4 L657.3,698.2 L657.1,701.9 L657.9,706.7 L658.4,712.0 M656.2,693.4 L660.2,692.0 L663.9,691.0 L667.7,690.4 L671.4,688.2 M669.5,715.2 L664.1,712.8 L658.4,712.0 M671.4,688.2 L675.1,691.6 L677.0,694.0 L680.3,696.8 L683.4,701.0 L686.0,703.0 M748.0,716.1 L744.4,713.5 L743.7,710.0 L740.0,706.2 L737.4,702.3 L734.8,699.1 M748.0,716.1 L743.9,718.2 L741.2,721.1 L737.9,724.3 M737.9,724.3 L733.2,722.8 L729.1,721.5 L724.5,718.6 L721.0,716.9 L717.0,715.8 M717.0,715.8 L716.8,715.5 M716.8,715.5 L720.5,712.8 L722.0,709.5 L726.2,707.0 L728.4,704.0 L730.9,702.4 L734.8,699.1 M736.7,743.3 L734.6,744.9 M736.7,743.3 L736.7,738.1 L736.5,733.8 L738.1,729.9 L737.9,724.3 M717.0,715.8 L717.4,720.1 L716.1,726.2 L715.7,731.5 M715.7,731.5 L719.6,734.0 L724.1,737.1 L726.9,740.5 L730.9,741.3 L734.6,744.9 M736.7,743.3 L741.1,744.3 L745.4,742.8 L750.0,742.5 L753.5,743.4 M741.0,767.3 L740.4,762.1 L739.1,757.8 L736.4,753.5 L735.8,749.9 L734.5,745.1 M749.0,771.6 L752.3,770.0 M752.3,770.0 L753.8,765.4 L756.1,763.2 L756.4,757.9 L757.9,756.0 L759.5,751.3 M753.5,743.4 L757.4,746.7 L759.5,751.3 M734.5,745.1 L734.6,744.9 M722.1,774.2 L720.2,770.7 L719.1,765.7 L719.0,761.5 L716.8,756.3 M734.5,745.1 L731.6,747.6 L728.1,749.1 L724.7,751.3 L719.6,754.6 L716.8,756.3 M686.0,703.5 L690.0,706.8 L692.4,708.3 L695.3,711.2 L698.3,714.7 M698.3,714.7 L696.9,718.5 L694.7,722.8 L694.6,727.2 L692.6,730.8 M669.5,715.2 L670.3,720.1 L673.3,723.0 L673.9,727.4 M692.6,730.8 L688.9,729.3 L683.0,729.8 L677.7,728.0 L673.9,727.4 M653.2,743.0 L651.8,738.0 L652.1,734.8 L652.2,729.0 L652.2,725.9 L650.8,720.3 L650.8,716.6 M653.2,743.0 L649.1,742.8 L643.5,740.6 L639.2,740.9 L634.1,738.0 L630.5,738.0 M628.4,734.8 L630.5,738.0 M628.4,734.8 L630.6,731.0 L635.0,726.4 L637.5,723.7 L640.5,720.8 L642.6,716.2 M642.6,716.2 L647.1,715.9 L650.8,716.6 M656.8,746.2 L663.2,743.2 L667.9,742.2 M656.0,746.0 L653.2,743.0 M658.4,712.0 L655.6,714.1 L650.8,716.6 M667.9,742.2 L669.5,738.0 L671.9,732.1 L673.9,727.4 M627.7,756.3 L628.0,751.6 L628.6,747.2 L629.7,742.1 L630.5,738.0 M623.3,733.0 L628.4,734.8 M628.1,703.2 L630.7,705.7 L635.9,710.1 L639.8,712.2 L642.6,716.2 M656.2,693.4 L653.7,691.0 M711.4,671.5 L712.6,676.9 L711.9,681.6 L713.5,685.9 L712.9,689.8 M711.4,671.5 L707.4,673.0 L702.4,672.2 L698.3,673.9 L695.8,673.6 L690.7,674.9 M693.8,691.7 L692.3,688.3 L693.0,682.6 L690.5,678.7 L690.7,674.9 M693.8,691.7 L697.6,690.8 L701.6,692.5 L705.7,691.8 L710.9,692.0 M710.9,692.0 L712.9,689.8 M730.9,675.3 L731.3,680.8 L730.5,684.7 L730.9,690.5 M730.9,675.3 L727.2,672.3 L723.7,669.5 L720.2,667.2 M713.9,668.4 L711.4,671.5 M730.9,690.5 L726.4,691.2 L721.0,689.6 L718.1,689.9 L712.9,689.8 M698.3,714.7 L703.9,713.5 L709.3,712.9 L713.3,713.6 M686.0,703.0 L689.2,698.7 L691.6,696.1 L693.8,691.7 M713.3,713.6 L713.3,710.2 L711.8,705.6 L712.1,700.0 L710.8,695.5 L710.9,692.0 M713.3,713.6 L716.8,715.5 M730.9,690.5 L735.2,695.1 M735.2,695.1 L734.8,699.1 M574.9,570.5 L580.1,567.4 L583.5,564.3 L588.3,562.3 M597.9,582.1 L599.6,576.0 M588.3,562.3 L591.7,565.8 L593.4,569.7 L596.8,573.2 L599.6,576.0 M619.0,573.5 L615.3,571.3 L610.8,569.4 M619.9,588.7 L615.6,591.5 L611.9,592.8 M599.6,576.0 L602.7,573.0 L607.8,572.0 L610.8,569.4 M631.4,534.2 L627.4,535.9 L622.8,537.0 L617.0,538.6 M630.3,557.6 L625.5,556.0 L622.0,553.5 L618.5,551.7 M617.0,538.6 L617.3,542.7 L618.1,547.6 L618.5,551.7 M634.8,516.0 L629.8,516.5 L626.1,515.9 L621.9,514.3 L617.7,514.2 L613.8,514.4 M634.8,516.0 L635.0,521.6 L636.0,526.5 M613.8,514.4 L613.9,518.1 L613.7,523.3 L612.4,527.5 L611.9,532.0 L612.5,536.0 M617.0,538.6 L612.5,536.0 M610.8,569.4 L609.9,564.5 L610.0,559.2 M618.5,551.7 L615.1,555.9 L610.0,559.2 M625.2,491.0 L630.3,492.8 M606.9,500.2 L608.3,505.5 L609.4,510.5 M634.8,516.0 L639.1,510.0 M609.4,510.5 L613.8,514.4 M639.1,510.0 L636.4,505.6 L633.8,501.4 L633.5,497.1 L630.3,492.8 M696.3,515.7 L694.6,512.7 L692.0,507.3 L689.6,504.1 M703.7,491.9 L700.6,492.3 L695.7,492.6 M695.7,492.6 L693.5,495.5 L692.1,501.0 L689.6,504.1 M708.8,472.9 L704.5,470.9 L700.5,469.6 L695.5,468.4 L691.5,467.6 M691.5,467.6 L689.4,471.3 L687.3,473.8 L684.5,477.3 L682.9,481.3 M695.7,492.6 L692.5,490.7 L689.6,487.7 L685.2,483.2 L682.9,481.3 M517.9,606.8 L525.0,610.4 M510.2,641.4 L513.5,637.8 L516.2,635.7 L518.9,632.9 L522.7,629.3 L526.0,626.0 M526.0,626.0 L524.8,619.9 L525.7,614.7 L525.0,610.4 M541.2,591.6 L540.3,596.2 L539.0,601.6 M539.0,601.6 L535.1,604.7 L532.7,605.6 L528.2,607.8 L525.0,610.4 M569.4,604.6 L565.0,608.3 L562.4,610.6 L558.4,613.0 M539.0,601.6 L542.7,603.3 L547.0,605.7 L551.4,609.4 L555.4,610.2 L558.4,613.0 M875.7,305.6 L871.2,308.4 L867.5,309.9 L864.0,311.3 L859.5,313.9 M875.7,305.6 L878.4,307.9 L880.3,312.8 L884.5,315.2 L886.3,317.7 L889.7,321.2 M884.7,333.4 L887.2,330.4 L888.3,326.2 L889.7,321.2 M884.7,333.4 L880.1,333.1 L876.5,330.9 L872.5,329.4 L866.9,329.4 L863.9,328.1 L858.7,327.3 M859.5,313.9 L858.4,318.8 L859.3,322.1 L858.7,327.3 M917.8,317.8 L915.4,313.6 L912.1,310.7 L910.1,306.8 L906.7,301.9 M917.8,317.8 L916.4,323.1 L914.1,328.8 M914.1,328.8 L909.4,326.4 L904.3,325.5 L900.0,324.1 L895.6,322.3 L891.7,320.6 M906.7,301.9 L905.0,304.9 L902.5,307.7 L898.4,311.7 L896.5,314.7 L894.3,317.4 L891.7,320.6 M907.0,291.6 L906.5,296.2 L906.7,301.9 M933.7,311.8 L930.7,312.7 L925.7,315.6 L922.4,317.3 L917.8,317.8 M914.9,331.3 L914.1,328.8 M886.8,344.0 L886.0,338.3 L884.7,333.4 M889.7,321.2 L891.7,320.6 M879.0,293.1 L878.6,296.4 L877.7,301.3 L875.7,305.6 M727.4,567.7 L731.9,570.6 M716.1,567.9 L713.8,573.0 L710.9,577.1 L708.3,580.7 M716.3,595.6 L713.4,592.0 L709.3,588.4 M731.9,570.6 L732.9,574.2 L731.6,579.3 L733.2,582.9 L731.8,587.1 L732.4,590.5 L733.2,595.5 M708.3,580.7 L709.3,588.4 M684.7,574.3 L686.6,577.0 M708.3,580.7 L703.3,580.2 L699.4,579.8 L694.7,578.7 L690.5,577.3 L686.6,577.0 M873.6,606.6 L873.8,603.1 L875.3,598.6 M873.6,606.6 L868.8,609.0 L865.1,610.8 L860.3,612.7 M875.3,598.6 L872.1,596.9 L867.5,595.1 L864.9,593.1 L861.4,590.4 M861.4,590.4 L857.3,592.2 L855.0,595.4 L852.3,598.1 L848.0,601.2 M860.3,612.7 L857.1,609.7 L854.3,606.7 L852.0,604.1 L848.0,601.9 M848.0,601.2 L848.0,601.9 M882.6,620.7 L881.2,618.2 L877.8,614.3 L876.7,609.2 L873.6,606.6 M878.3,596.6 L875.3,598.6 M857.5,628.0 L859.4,622.7 L859.0,618.4 L860.3,612.7 M859.3,572.9 L863.3,572.8 L869.6,573.7 L873.6,575.7 L877.8,577.1 L882.6,577.4 M859.3,572.9 L859.0,573.2 M859.0,573.2 L860.2,576.6 L860.4,582.5 L860.6,585.4 L861.4,590.4 M835.0,576.9 L839.1,575.3 L842.8,575.7 L846.4,575.2 L851.7,574.4 L855.1,573.2 L859.0,573.2 M830.9,584.1 L832.8,586.9 L836.1,590.0 L838.6,592.5 L842.3,596.0 L844.2,599.1 L848.0,601.2 M837.9,614.7 L839.7,612.4 L843.6,609.1 L846.3,604.2 L848.0,601.9 M843.9,627.8 L848.0,629.5 L852.7,630.7 M819.6,633.0 L817.0,637.0 L815.9,639.8 L812.6,644.8 L810.5,646.9 L808.6,651.4 M797.4,626.3 L798.0,630.5 L797.9,634.6 L798.1,640.8 L798.0,644.5 L798.3,649.4 M808.6,651.4 L804.0,650.4 L798.3,649.4 M776.0,639.7 L779.5,641.4 L783.4,645.0 L785.6,646.4 L790.5,648.4 L793.7,651.4 M790.1,622.6 L785.3,623.8 L779.1,626.5 M793.7,651.4 L798.3,649.4 M748.0,716.1 L748.6,716.1 M753.5,743.4 L755.5,738.8 L757.8,735.1 L761.0,729.8 M748.6,716.1 L751.7,719.3 L755.0,723.4 L758.0,726.7 L761.0,729.8 M735.2,695.1 L740.1,693.1 L743.8,690.6 L748.8,689.5 M748.6,716.1 L752.4,712.5 L756.5,709.0 L759.7,706.1 L762.6,702.9 M748.8,689.5 L751.6,692.7 L756.0,696.6 L758.9,699.0 L762.6,702.9 M776.7,710.8 L771.8,708.3 L768.7,706.3 L764.2,702.8 M776.7,710.8 L774.7,714.9 L773.4,719.9 L771.4,723.2 L769.0,728.5 M761.0,729.8 L765.7,728.9 L769.0,728.5 M762.6,702.9 L764.2,702.8 M760.4,604.2 L760.7,598.6 L759.3,593.8 L759.5,589.2 L760.3,585.3 M760.4,604.2 L765.3,606.8 L768.7,609.2 M768.7,609.2 L771.5,607.4 L775.9,604.0 L779.6,600.9 M760.3,585.3 L765.4,586.4 L770.5,589.0 L774.4,589.2 L779.4,590.9 M779.6,600.9 L779.4,596.6 L779.4,590.9 M750.6,608.6 L755.5,605.6 L760.4,604.2 M735.6,597.5 L738.5,595.5 L742.6,593.3 L747.3,589.8 L750.1,588.3 L754.1,586.5 L758.7,583.2 M758.7,583.2 L760.3,585.3 M770.8,620.4 L769.8,614.5 L768.7,609.2 M791.1,608.6 L787.9,606.3 L783.8,604.1 L779.6,600.9 M786.5,585.0 L782.9,587.0 L779.4,590.9 M743.3,570.0 L746.4,574.2 L751.2,575.4 L754.1,578.8 L758.6,582.7 M743.3,570.0 L745.3,566.2 L749.2,561.9 L751.0,558.5 L753.5,553.5 M758.6,582.7 L760.2,580.3 L763.6,575.7 L766.2,572.3 L768.2,569.6 L770.4,566.5 M770.4,566.5 L766.7,563.3 L764.0,558.2 L761.7,554.5 M753.5,553.5 L757.9,553.6 L761.7,554.5 M731.9,570.6 L736.8,569.9 L743.3,570.0 M758.7,583.2 L758.6,582.7 M746.5,544.9 L749.7,549.9 L753.5,553.5 M779.8,566.4 L775.2,567.3 L770.4,566.5 M721.8,822.5 L723.6,827.3 L727.8,831.7 L729.4,834.8 M749.5,794.2 L753.2,793.1 L758.3,793.5 L762.2,792.5 L766.0,793.0 M766.0,793.0 L769.6,797.4 L771.3,802.1 M840.8,723.1 L841.1,726.3 L839.2,731.3 L838.8,735.0 L839.4,739.8 L838.8,743.9 L837.3,748.0 M840.8,723.1 L845.9,724.1 L849.1,724.9 L854.8,725.7 L858.8,725.1 L863.3,726.8 M864.1,731.8 L863.3,726.8 M864.1,731.8 L862.8,736.8 L859.3,738.9 L858.0,744.3 L856.2,747.8 M856.2,747.8 L851.4,748.5 L847.5,748.1 L842.3,748.3 L837.3,748.0 M873.1,740.4 L869.8,737.0 L867.9,734.2 L864.1,731.8 M870.6,719.1 L867.6,722.9 L863.3,726.8 M835.1,750.4 L837.3,748.0 M835.1,750.4 L837.6,755.6 L840.0,760.4 L841.3,764.3 M759.5,751.3 L763.7,752.5 L769.3,752.6 L772.4,753.7 L777.5,753.3 M777.5,753.3 L780.3,749.6 L781.5,747.0 L784.1,743.0 M769.0,728.5 L773.0,731.5 L777.3,735.9 L780.6,738.8 L784.0,741.4 M784.0,741.4 L784.1,743.0 M776.7,710.8 L781.5,709.6 L786.0,709.2 M786.0,709.2 L787.8,713.9 L789.1,717.5 L790.4,722.6 L791.2,727.2 L791.9,730.8 M784.0,741.4 L786.5,738.5 L790.0,735.3 L791.9,730.8 M857.3,696.6 L851.1,694.7 M857.0,672.9 L851.4,677.2 M851.4,677.2 L851.5,680.7 L850.7,685.3 L850.5,690.1 L851.1,694.7 M840.5,722.7 L841.9,719.4 L842.1,715.0 L844.2,710.3 L845.9,705.1 L846.9,701.5 L847.7,696.7 M840.5,722.7 L840.8,723.1 M851.1,694.7 L847.7,696.7 M830.3,720.4 L835.1,722.4 L840.5,722.7 M830.3,720.4 L828.1,715.2 L825.1,711.6 L821.5,707.6 M821.5,707.6 L825.0,703.2 L827.5,700.5 L829.0,696.9 L832.1,693.4 M847.7,696.7 L843.1,695.5 L837.2,695.3 L832.1,693.4 M816.2,662.1 L816.3,660.7 M816.2,662.1 L819.9,665.2 L822.3,669.3 L824.7,672.7 L828.3,677.0 M816.3,660.7 L820.0,658.1 L825.0,656.3 L830.1,654.0 L834.1,652.8 M828.3,677.0 L832.0,676.0 L836.9,672.6 L841.0,671.4 M841.0,671.4 L841.1,666.3 L839.5,662.4 L839.2,658.9 L838.8,654.9 M834.1,652.8 L838.8,654.9 M830.1,636.8 L831.9,640.8 L832.9,645.7 L832.2,648.0 L834.1,652.8 M808.6,651.4 L811.8,654.1 L813.7,657.9 L816.3,660.7 M851.4,677.2 L846.0,675.0 L841.0,671.4 M832.1,693.4 L828.3,688.8 L826.3,685.1 M826.3,685.1 L826.5,680.6 L828.3,677.0 M853.4,649.6 L849.5,650.4 L843.8,652.6 L838.8,654.9 M938.8,606.1 L935.1,607.0 L930.9,609.2 L927.2,609.9 L922.1,612.3 M938.8,606.1 L942.1,608.1 M922.1,612.3 L924.0,617.3 L925.8,620.5 L928.5,625.5 L930.1,628.9 L931.4,633.2 M936.5,634.4 L931.4,633.2 M918.1,610.2 L922.1,612.3 M937.1,585.9 L937.1,589.5 L938.7,593.1 L937.4,598.3 L939.2,603.0 L938.8,606.1 M920.9,638.2 L926.4,636.5 L931.4,633.2 M586.0,684.8 L587.4,689.2 L589.8,692.8 L591.4,697.6 L591.7,701.8 L594.2,706.4 M586.0,684.8 L581.0,686.3 L575.0,686.7 M568.0,693.1 L571.9,690.3 L575.0,686.7 M568.0,693.1 L569.5,696.4 L571.2,700.4 L572.8,705.0 L575.3,707.2 L575.9,711.5 L578.4,715.3 M578.4,715.3 L582.6,713.5 L586.1,711.0 L590.5,708.2 L594.2,706.4 M592.1,678.7 L597.0,678.7 L599.9,678.7 L605.3,679.7 L609.3,680.1 M592.1,678.7 L589.7,682.5 L586.0,684.8 M595.9,706.9 L594.2,706.4 M564.5,662.6 L567.5,661.2 L572.0,658.8 L576.3,656.1 L578.9,654.8 M578.9,654.8 L586.6,656.3 M563.7,664.3 L565.5,667.9 L567.0,672.0 L570.1,675.5 L570.4,678.7 L573.6,682.9 L575.0,686.7 M586.6,656.3 L586.8,660.3 L588.9,664.9 L589.3,669.5 L590.2,675.0 L592.1,678.7 M560.1,694.1 L568.0,693.1 M575.5,722.0 L578.4,715.3 M712.3,449.8 L712.0,444.8 L712.3,439.7 L712.3,434.8 M712.3,449.8 L711.3,450.9 M711.3,450.9 L708.0,450.2 L703.0,450.1 L697.9,451.2 L694.7,450.7 M702.1,431.0 L706.9,433.4 L712.3,434.8 M702.1,431.0 L698.1,433.2 L693.3,436.2 L690.1,440.3 M690.1,440.3 L692.5,445.3 L694.7,450.7 M728.7,449.3 L724.2,449.0 L720.4,450.3 L717.2,450.3 L712.3,449.8 M728.7,449.3 L729.6,444.4 L729.3,441.7 L729.5,437.5 L729.8,433.6 L731.0,428.8 M731.0,428.8 L725.7,426.1 M725.7,426.1 L721.9,427.8 L719.9,429.6 L716.5,432.2 L712.3,434.8 M735.1,456.5 L731.4,452.2 L728.7,449.3 M714.1,470.4 L712.5,465.3 L712.6,460.3 L711.0,456.5 L711.3,450.9 M691.5,467.6 L689.9,461.7 M689.9,461.7 L693.0,456.5 L694.7,450.7 M700.5,419.6 L700.6,424.6 L702.1,431.0 M708.2,412.7 L712.5,412.9 L716.3,413.8 L721.0,415.1 M721.0,415.1 L723.9,420.9 L725.7,426.1 M676.2,433.7 L675.6,432.2 M676.2,433.7 L680.2,436.8 L685.7,438.7 L690.1,440.3 M676.2,433.7 L674.8,437.4 L672.6,441.0 L670.0,445.7 L668.8,447.6 L666.6,452.0 L665.6,455.9 M665.6,455.9 L670.1,456.9 L673.4,458.7 L676.9,458.3 L682.6,459.7 L685.8,459.9 L689.9,461.7 M852.0,442.8 L854.0,450.2 M852.0,442.8 L855.6,440.8 L859.4,437.1 L862.2,436.1 L865.4,433.0 M854.0,450.2 L858.2,451.5 L860.2,455.3 L864.2,456.5 L867.9,458.8 M874.0,430.5 L876.8,433.2 L878.1,437.1 L881.2,440.3 M881.2,440.3 L879.7,445.2 L876.9,448.6 L875.3,452.5 L874.3,456.4 M874.3,456.4 L867.9,458.8 M897.3,442.2 L893.6,441.5 L889.0,441.1 L885.9,441.5 L881.2,440.3 M885.1,463.2 L881.4,461.4 L877.8,458.5 L874.3,456.4 M924.8,562.3 L923.1,558.8 L920.9,554.9 L919.1,551.3 M925.5,545.4 L923.0,548.0 L919.1,551.3 M903.4,567.2 L905.0,562.1 L906.9,557.5 L907.8,553.3 L908.5,549.5 M919.1,551.3 L914.1,549.4 L908.5,549.5 M890.0,571.3 L887.9,566.0 L886.3,562.8 L883.6,558.3 L882.8,553.9 M859.3,572.9 L859.8,569.4 L860.4,563.4 L860.7,560.8 L861.9,555.8 M882.8,553.9 L877.7,553.2 L872.3,552.5 L867.6,552.5 M861.9,555.8 L867.6,552.5 M818.0,509.4 L818.9,505.5 L820.5,500.6 L822.1,496.8 L825.2,492.7 L826.0,489.3 M818.0,509.4 L821.0,512.3 L825.8,514.3 L830.3,515.2 L833.7,517.3 M833.7,517.3 L836.2,512.4 L838.8,509.0 L841.4,506.4 L844.3,501.9 M826.0,489.3 L829.9,492.7 L833.8,495.0 L836.2,496.9 L841.3,499.9 L844.3,501.9 M852.0,442.8 L849.1,440.5 L844.1,438.6 L841.3,436.4 M850.3,415.5 L848.6,420.2 L846.4,424.7 L845.6,428.6 L843.6,433.2 L841.3,436.4 M789.6,432.5 L784.4,433.2 L780.6,434.4 L776.3,435.6 M789.6,432.5 L793.3,435.9 L796.0,438.6 L799.6,443.0 M776.3,435.6 L775.8,439.6 L776.7,443.1 L776.4,446.8 L777.1,451.7 L778.1,455.8 M799.6,443.0 L796.7,447.6 L795.5,451.6 L792.7,457.2 M778.1,455.8 L783.2,456.7 L788.6,457.7 L792.7,457.2 M804.1,486.7 L800.4,482.7 L798.2,480.7 L794.8,477.5 M804.1,486.7 L809.1,486.1 L813.0,484.2 L816.5,483.8 L820.7,483.7 M819.9,464.0 L814.9,463.3 L812.0,464.2 L807.4,465.1 L803.0,464.3 L798.1,464.9 M819.9,464.0 L820.6,468.8 L821.2,474.2 L821.3,479.7 L820.7,483.7 M798.1,464.9 L796.7,468.8 L794.9,474.0 L794.8,477.5 M823.5,459.6 L819.9,464.0 M823.5,459.6 L828.5,460.4 L833.2,463.4 L838.5,465.0 L842.3,465.5 M842.3,465.5 L844.3,470.4 L847.0,476.3 M825.8,488.7 L828.4,485.9 L832.4,484.8 L835.4,483.4 L840.2,481.1 L843.0,478.4 L847.0,476.3 M825.8,488.7 L820.7,483.7 M777.9,483.7 L778.7,484.1 M767.9,462.7 L772.1,459.6 L773.8,457.4 L778.1,455.8 M778.7,484.1 L782.1,481.8 L785.8,480.1 L790.7,478.8 L794.8,477.5 M792.7,457.2 L795.3,461.0 L798.1,464.9 M778.7,484.1 L780.2,488.8 L781.7,494.0 L782.6,497.7 L782.9,502.2 M804.1,486.7 L802.2,492.0 L801.3,497.4 M782.9,502.2 L787.5,501.0 L793.0,500.1 L797.5,497.9 L801.3,497.4 M825.8,488.7 L826.0,489.3 M818.0,509.4 L812.4,511.4 M801.3,497.4 L804.3,500.4 L805.8,503.4 L809.3,507.2 L812.4,511.4 M695.9,351.4 L694.9,346.0 M668.7,344.7 L673.1,342.8 L677.2,342.1 L683.3,341.5 L687.5,340.5 M687.5,340.5 L691.6,344.1 L694.9,346.0 M687.5,340.5 L687.7,336.7 L687.3,332.2 L688.2,328.5 M721.0,415.1 L723.4,412.0 L724.1,407.2 L726.7,404.1 L728.9,401.3 L730.5,396.9 M713.0,387.1 L720.1,387.9 M720.1,387.9 L723.1,390.1 L726.3,393.5 L730.5,396.9 M560.2,371.7 L555.6,369.3 L552.1,368.1 L546.6,366.2 L542.7,364.9 M560.2,371.7 L564.8,370.7 L568.5,368.3 L571.0,367.6 L575.5,366.5 M564.2,342.0 L561.0,344.5 L557.4,347.5 L554.1,350.8 L551.4,354.3 L549.0,358.9 L545.9,361.0 L542.6,364.3 M564.2,342.0 L566.9,344.3 L570.4,348.0 L573.3,350.9 L575.9,354.1 M542.6,364.3 L542.7,364.9 M575.9,354.1 L575.2,357.9 L574.9,361.9 L575.5,366.5 M529.7,378.4 L533.8,374.4 L536.4,372.5 L539.2,367.9 L542.7,364.9 M563.8,391.1 L562.1,385.5 L562.9,381.3 L560.8,375.7 L560.2,371.7 M586.4,372.0 L583.2,369.4 L579.1,368.8 L575.5,366.5 M564.1,334.5 L564.2,342.0 M533.1,343.5 L535.6,348.4 L536.4,351.1 L538.1,355.6 L540.4,359.5 L542.6,364.3 M588.9,343.2 L584.9,345.7 L582.2,347.9 L579.8,350.6 L575.9,354.1 M420.5,458.3 L425.6,457.2 L431.1,456.4 M444.1,390.3 L444.7,394.7 L445.9,398.8 L447.2,402.0 L448.5,407.0 L449.0,410.5 L449.3,415.8 L450.2,419.4 M431.1,456.4 L432.6,452.8 L435.6,449.1 L436.9,445.7 L439.6,441.1 L441.6,438.4 L442.3,433.6 L444.0,430.3 L446.8,426.6 L447.4,422.3 L450.2,419.4 M495.7,414.7 L492.6,417.1 L487.7,421.1 M450.2,419.4 L455.2,420.4 L458.8,420.1 L463.4,420.7 L467.3,420.7 L471.9,419.8 L475.0,421.1 L479.8,420.5 L484.6,420.0 L487.7,421.1 M651.6,674.9 L653.5,670.9 L656.2,669.2 L659.0,665.0 M659.0,665.0 L661.0,664.8 M671.4,688.2 L674.0,683.6 L674.6,677.8 M661.0,664.8 L664.2,668.9 L667.4,671.4 L671.6,674.3 L674.6,677.8 M690.7,674.9 L689.9,674.3 M674.6,677.8 L680.1,677.5 L684.5,676.0 L689.9,674.3 M635.2,674.2 L633.4,670.6 L633.2,665.1 L632.3,661.0 M659.0,665.0 L656.7,660.6 L652.5,658.8 L648.9,653.8 L645.9,650.7 M645.9,650.7 L642.4,653.6 L638.6,656.7 L636.5,659.0 L632.3,661.0 M611.6,677.8 L612.5,673.2 L612.7,668.6 L614.0,664.1 L614.9,659.0 L615.7,655.5 M632.3,661.0 L628.7,660.1 L624.5,657.5 L619.3,656.3 L615.7,655.5 M597.5,628.5 L602.8,631.1 L607.9,631.8 M597.5,628.5 L595.7,633.1 L593.5,636.7 L592.7,640.1 L591.7,645.0 L590.7,648.1 L588.4,652.1 L586.8,656.2 M607.9,631.8 L609.2,635.4 L612.7,639.6 L613.8,642.3 L616.5,645.7 M586.8,656.2 L591.5,655.4 L594.5,655.6 L599.3,656.2 L602.6,655.5 L608.0,656.0 L611.8,654.7 L615.2,654.7 M616.5,645.7 L616.2,650.1 L615.2,654.7 M586.8,656.2 L586.6,656.3 M615.2,654.7 L615.7,655.5 M700.1,744.2 L703.0,748.2 L706.0,752.7 M700.1,744.2 L698.3,743.5 M698.3,743.5 L695.4,745.9 L690.7,746.4 L686.4,749.9 L682.9,751.1 M706.0,752.7 L703.3,757.7 L702.1,760.2 L700.3,765.8 L697.6,769.3 L697.0,773.4 L694.7,777.7 M682.9,751.1 L681.7,756.5 L681.4,760.8 L680.5,766.8 M680.5,766.8 L684.8,770.2 L687.6,773.1 L691.3,774.1 L694.5,777.8 M694.7,777.7 L694.5,777.8 M715.7,731.5 L713.5,734.4 L708.8,735.6 L706.8,738.9 L702.5,742.0 L700.1,744.2 M716.8,756.3 L711.5,755.2 L706.0,752.7 M692.6,730.8 L694.7,734.9 L696.0,740.3 L698.3,743.5 M667.9,742.2 L672.6,743.5 L676.4,747.1 L678.6,749.4 L682.9,751.1 M721.2,776.1 L717.1,776.6 L713.1,776.2 L708.6,777.0 L703.3,778.1 L698.3,777.6 L694.7,777.7 M665.4,770.6 L671.1,768.4 L676.2,768.1 L680.5,766.8 M694.2,779.7 L694.5,777.8 M591.0,552.4 L593.6,550.9 M591.0,552.4 L586.8,550.1 L582.9,547.8 L578.0,546.3 L573.8,544.0 L569.3,542.7 M593.6,550.9 L595.6,545.6 L597.7,542.4 L599.4,537.9 M599.4,537.9 L595.7,533.3 L593.3,530.1 L590.4,525.2 M569.5,536.1 L569.3,542.7 M569.5,536.1 L574.3,534.0 L577.6,531.2 L581.6,530.1 L585.6,527.1 L588.4,524.5 M588.4,524.5 L590.4,525.2 M588.3,562.3 L588.8,556.8 L591.0,552.4 M610.0,559.2 L605.3,557.3 L601.5,554.9 L598.2,552.2 L593.6,550.9 M562.6,550.7 L565.0,546.1 L569.3,542.7 M612.5,536.0 L608.4,536.1 L604.6,537.4 L599.4,537.9 M609.4,510.5 L606.3,512.9 L602.2,515.7 L600.1,518.3 L596.4,521.1 L593.4,523.3 L590.4,525.2 M559.8,524.1 L562.0,528.2 L567.1,531.4 L569.5,536.1 M580.6,508.2 L581.5,511.4 L584.2,517.0 L585.9,520.8 L588.4,524.5 M653.4,454.3 L659.8,454.7 L665.1,456.2 M653.4,454.3 L651.9,457.8 L648.6,460.8 L645.8,465.1 L644.8,467.2 L641.9,471.2 M665.1,456.2 L664.6,459.8 L665.6,464.6 L667.0,469.7 L666.5,473.4 M666.5,473.4 L662.7,476.8 L661.2,479.6 L657.2,481.5 L654.2,483.8 M641.9,471.2 L644.7,475.0 L645.8,480.1 M645.8,480.1 L651.0,481.5 L654.2,483.8 M646.2,446.0 L649.5,449.6 L653.4,454.3 M665.6,455.9 L665.1,456.2 M629.0,466.9 L633.7,468.8 L637.0,469.2 L641.9,471.2 M682.9,481.3 L682.6,481.4 M682.6,481.4 L679.6,480.0 L674.1,478.0 L670.9,475.3 L666.5,473.4 M630.3,492.8 L634.3,490.7 L636.1,488.5 L639.3,485.7 L642.7,482.4 L645.8,480.1 M671.1,498.1 L672.8,501.7 L675.7,505.1 M671.1,498.1 L666.8,496.9 L661.9,496.6 L658.0,495.7 M661.5,520.3 L665.5,518.3 L670.3,517.0 L673.9,514.0 M661.5,520.3 L658.5,517.4 L654.6,513.5 L652.1,511.0 L649.2,507.8 M673.9,514.0 L674.2,509.6 L675.7,505.1 M649.2,507.8 L652.6,504.2 L655.8,499.9 L658.0,495.7 M682.6,481.4 L680.8,485.0 L677.2,488.3 L676.1,491.0 L674.0,494.5 L671.1,498.1 M689.6,504.1 L685.7,505.2 L680.2,505.4 L675.7,505.1 M654.2,483.8 L654.9,487.2 L657.5,490.9 L658.0,495.7 M660.7,528.9 L661.5,525.1 L661.5,520.3 M685.6,526.1 L682.7,522.6 L678.8,519.9 L676.6,517.0 L673.9,514.0 M639.1,510.0 L643.5,508.5 L649.2,507.8 M547.0,641.9 L544.7,637.1 M547.0,641.9 L550.4,640.4 L554.5,641.1 L559.6,639.6 L563.1,638.9 L566.9,637.8 L570.7,637.0 M544.7,637.1 L547.4,633.0 L548.9,628.9 L551.4,626.1 L552.9,622.3 L556.7,618.3 L558.4,614.1 M558.4,614.1 L561.7,616.8 L564.0,620.2 L567.2,624.2 L569.9,628.6 L573.0,631.1 M570.7,637.0 L573.0,631.1 M546.9,642.4 L547.0,641.9 M526.0,626.0 L529.6,629.0 L533.1,629.9 L537.0,632.5 L541.0,634.0 L544.7,637.1 M578.9,654.8 L577.1,651.3 L574.0,646.5 L572.5,640.7 L570.7,637.0 M558.4,613.0 L558.4,614.1 M586.9,624.8 L582.8,627.8 L578.1,629.6 L573.0,631.1 M597.5,628.5 L597.3,628.3 M771.3,432.1 L771.9,427.6 L771.0,421.7 L771.0,416.5 M771.3,432.1 L765.9,434.2 L763.1,436.2 L758.6,436.8 L753.2,438.5 M753.2,438.5 L750.6,434.6 L747.7,430.6 L743.9,427.6 M771.0,416.5 L765.9,411.9 M765.9,411.9 L761.3,413.0 L758.0,414.6 L754.6,417.4 L751.0,419.4 L747.2,420.2 M743.9,427.6 L744.9,422.9 L747.2,420.2 M794.0,419.3 L790.7,416.3 L788.0,412.5 M794.0,419.3 L791.9,422.7 L790.7,428.9 L789.6,432.5 M788.0,412.5 L783.3,412.9 L779.1,414.5 L775.8,415.9 L771.0,416.5 M776.3,435.6 L771.3,432.1 M752.3,451.6 L753.3,447.1 L752.3,442.3 L753.2,438.5 M731.0,428.8 L734.4,428.6 L739.3,427.7 L743.9,427.6 M741.0,401.1 L742.0,404.0 L743.2,408.1 L744.0,413.4 L745.3,416.8 L747.2,420.2 M741.0,401.1 L737.0,398.6 L733.2,396.7 M730.5,396.9 L733.2,396.7 M741.0,401.1 L746.2,400.1 L750.5,398.5 L754.1,397.5 L758.3,397.1 M748.9,374.6 L752.6,376.5 L754.6,381.1 L758.2,383.0 M748.9,374.6 L748.1,374.4 M748.1,374.4 L745.7,378.1 L742.8,382.8 L741.6,385.6 L738.1,388.6 L735.5,392.4 L733.2,396.7 M758.2,383.0 L758.3,387.5 L759.0,392.7 L758.3,397.1 M765.9,411.9 L765.9,407.5 L764.8,402.4 M764.8,402.4 L761.0,399.7 L758.3,397.1 M716.8,306.4 L719.0,311.1 L721.9,316.1 M721.9,316.1 L720.4,320.5 M700.7,322.3 L706.9,326.5 M720.4,320.5 L715.0,323.2 L712.3,325.4 L706.9,326.5 M694.9,346.0 L697.3,342.5 L701.0,341.6 L704.4,338.6 L707.3,335.7 M706.9,326.5 L706.2,330.2 L707.3,335.7 M791.3,297.2 L789.6,293.2 L786.1,289.3 L783.4,285.3 L780.2,281.1 L778.4,277.7 M791.3,297.2 L787.1,298.4 L783.9,301.4 L781.2,303.6 L777.3,304.7 L773.1,307.0 M773.1,307.0 L770.2,303.5 L766.3,301.0 L763.7,299.6 L759.4,295.2 L757.2,293.0 M778.4,277.7 L773.6,278.0 L769.6,276.9 L764.2,277.4 M764.2,277.4 L761.4,282.2 L759.9,285.1 L758.4,288.4 L757.2,293.0 M797.5,300.0 L802.6,297.5 L806.5,294.6 L811.4,292.4 M797.5,300.0 L791.3,297.2 M811.4,292.4 L812.5,288.6 L811.0,284.0 L811.5,278.2 L812.4,274.4 L812.7,269.5 M791.2,264.0 L795.6,264.3 L800.8,266.7 L804.3,268.3 L809.4,268.6 L812.7,269.5 M791.2,264.0 L787.9,267.7 L785.3,269.9 L782.0,274.2 L778.4,277.7 M775.6,322.6 L771.2,317.4 M775.6,322.6 L779.9,321.7 L782.9,322.4 L787.5,322.8 L792.9,322.1 L796.0,321.8 M797.5,300.0 L798.6,304.4 L797.7,309.5 L798.0,313.8 L798.6,319.7 M796.0,321.8 L798.6,319.7 M771.2,317.4 L772.0,312.2 L773.1,307.0 M754.9,265.5 L759.0,269.2 L760.6,274.3 L764.2,277.4 M791.2,264.0 L790.9,259.2 L789.0,255.7 L789.2,251.8 L787.7,248.3 M748.9,323.2 L746.5,320.8 L743.0,318.2 L739.3,314.8 L735.7,311.9 M748.9,323.2 L752.6,319.7 M752.6,319.7 L753.9,314.9 L753.7,311.3 L753.5,307.1 L753.8,303.1 L754.1,299.0 L755.3,294.3 M735.7,311.9 L736.5,308.7 L737.0,304.1 L737.5,300.1 L737.8,295.4 M737.8,295.4 L742.5,296.1 L747.3,295.4 L750.0,293.8 L755.3,294.3 M771.2,317.4 L767.2,318.8 L761.3,319.2 L756.3,319.0 L752.6,319.7 M757.2,293.0 L755.3,294.3 M718.6,281.1 L721.9,284.8 L725.5,286.6 L730.8,289.9 L734.6,292.6 L737.8,295.4 M721.9,316.1 L725.7,314.3 L731.4,313.2 L735.7,311.9 M818.6,241.9 L819.7,246.6 L818.7,251.2 L818.7,255.2 L818.6,259.9 L819.1,264.6 M818.6,241.9 L823.4,240.5 L827.0,239.3 L830.1,239.2 L834.5,236.8 L838.0,235.9 M819.1,264.6 L822.7,266.3 L827.3,266.9 L832.7,267.0 L835.9,267.3 L840.9,268.3 L844.6,270.0 M838.0,235.9 L841.8,238.0 L844.3,242.4 L848.0,244.1 L852.0,248.0 M852.0,248.0 L849.8,251.9 L850.0,256.2 L846.9,260.6 L845.9,265.2 L844.6,270.0 M803.0,229.9 L807.1,232.8 L810.9,236.4 L814.9,238.0 L818.6,241.9 M812.7,269.5 L815.2,267.4 L819.1,264.6 M840.1,218.5 L839.6,222.3 L839.9,227.4 L838.6,231.6 L838.0,235.9 M875.0,239.9 L872.0,241.7 L867.8,243.0 L863.6,243.9 L859.8,246.1 L856.0,245.9 L852.0,248.0 M849.2,278.6 L852.9,279.5 L856.9,278.8 L861.0,280.3 L866.3,280.9 L869.9,280.5 M849.2,278.6 L847.2,274.9 L844.6,270.0 M849.2,278.6 L846.6,284.2 M859.5,313.9 L854.5,310.8 L850.6,307.1 M846.6,284.2 L847.4,289.2 L849.0,292.7 L849.9,298.2 L849.0,302.4 L850.6,307.1 M811.4,292.4 L817.0,295.7 L821.8,297.2 M846.6,284.2 L843.1,286.7 L838.9,288.0 L835.0,290.1 L830.3,292.0 L826.7,294.2 L821.8,297.2 M850.1,373.8 L845.7,374.4 L840.1,373.7 L835.0,374.3 M831.9,369.6 L833.7,365.8 L835.1,361.4 L835.6,357.8 L838.2,353.2 L839.3,349.9 M831.9,369.6 L835.0,374.3 M858.6,350.3 L855.6,346.7 M855.6,346.7 L852.1,347.8 L846.5,347.5 L843.4,349.9 L839.3,349.9 M858.7,327.3 L855.7,331.3 M855.6,346.7 L854.8,342.3 L856.0,336.5 L855.7,331.3 M748.8,689.5 L750.3,685.7 L752.9,680.7 L753.4,677.8 M764.2,702.8 L765.7,697.9 L766.9,694.1 L769.6,690.8 L770.6,687.0 L773.0,682.6 M753.4,677.8 L758.2,678.7 L761.0,680.4 L766.0,680.6 L768.3,682.4 L773.0,682.6 M730.9,675.3 L734.7,673.2 L739.2,671.6 L741.7,671.7 L746.1,669.6 L749.6,668.1 M753.4,677.8 L751.6,673.1 L749.6,668.1 M740.0,649.3 L742.6,653.4 L745.5,657.6 L748.0,662.0 L750.0,666.2 M768.1,645.1 L768.1,649.1 L767.2,654.5 L767.4,658.2 M750.0,666.2 L755.0,665.2 L757.8,662.9 L763.5,660.2 L767.4,658.2 M750.0,666.2 L749.6,668.1 M804.0,751.5 L808.5,749.6 L811.7,746.7 L814.8,743.7 M804.0,751.5 L804.2,756.6 L803.8,759.7 L803.5,764.0 M817.3,771.3 L812.2,769.0 L807.2,766.8 L803.5,764.0 M817.3,771.3 L819.1,767.6 L822.5,762.8 L825.1,758.9 L825.9,756.0 L828.9,750.9 M828.9,750.9 L823.9,748.3 L818.7,746.2 L814.8,743.7 M784.1,743.0 L789.0,744.5 L791.8,746.5 L796.6,748.3 L800.5,749.1 L804.0,751.5 M791.9,730.8 L796.6,731.2 L798.9,729.9 L802.9,728.9 L807.8,728.5 M813.0,732.2 L813.6,738.6 L814.8,743.7 M813.0,732.2 L807.8,728.5 M835.1,750.4 L828.9,750.9 M818.1,773.3 L817.3,771.3 M830.3,720.4 L826.5,723.4 L823.8,726.1 L820.4,727.7 L815.9,729.2 L813.0,732.2 M790.0,783.4 L790.9,779.7 L792.7,774.6 L793.4,770.8 M790.0,783.4 L784.0,783.3 L779.9,782.7 L774.1,782.1 M793.4,770.8 L789.4,767.9 L787.3,764.5 L783.5,761.2 L780.8,758.1 L777.8,754.8 M777.8,754.8 L775.3,759.6 L773.9,762.9 L772.3,765.7 L770.0,770.0 L769.0,773.9 M769.0,773.9 L770.8,778.5 L774.1,782.1 M793.3,788.1 L790.0,783.4 M803.5,764.0 L801.1,765.8 L796.8,768.2 L793.4,770.8 M766.0,793.0 L767.7,789.6 L771.8,785.5 L774.1,782.1 M777.5,753.3 L777.8,754.8 M752.3,770.0 L756.3,771.0 L760.6,771.9 L764.4,773.4 L769.0,773.9 M786.0,709.2 L791.3,704.6 M807.8,728.5 L807.8,724.2 L805.9,718.9 L806.0,714.4 L805.2,711.5 L805.1,706.3 M791.3,704.6 L795.1,704.9 L800.3,706.1 L805.1,706.3 M821.5,707.6 L817.7,707.2 L812.6,706.1 L807.7,705.0 M826.3,685.1 L821.4,685.4 L817.2,686.4 L812.1,687.4 M812.1,687.4 L810.0,692.1 L810.0,695.3 L808.6,699.8 L807.7,705.0 M816.2,662.1 L814.1,666.0 L811.9,668.1 L808.2,671.1 L804.8,673.9 L803.1,677.4 M812.1,687.4 L809.7,684.0 L806.0,681.3 L803.1,677.4 M805.1,706.3 L807.7,705.0 M878.6,517.9 L881.5,515.3 L885.5,513.5 L890.2,512.9 L892.9,510.0 M878.6,517.9 L878.1,523.1 L877.4,528.7 M892.9,510.0 L893.3,515.0 L894.7,518.3 L896.3,521.1 L897.3,525.6 L898.3,530.9 L899.9,534.6 L900.5,538.0 M877.4,528.7 L881.3,531.0 L884.5,533.7 L888.1,536.8 L890.7,538.3 L894.3,541.2 M894.3,541.2 L899.8,539.7 M899.8,539.7 L900.5,538.0 M861.8,508.6 L866.7,510.6 L869.9,512.7 L875.3,516.3 L878.6,517.9 M861.8,508.6 L859.0,512.3 L857.4,517.6 L856.8,521.7 L853.8,526.1 M868.9,534.0 L864.9,532.1 L860.8,530.1 L857.7,528.9 L853.8,526.1 M868.9,534.0 L873.0,531.1 L877.4,528.7 M911.1,530.3 L908.5,531.9 L904.8,535.6 L900.5,538.0 M893.2,509.5 L892.9,510.0 M882.8,553.9 L885.8,550.3 L889.1,548.3 L892.1,544.6 L894.3,541.2 M867.6,552.5 L867.4,547.8 L867.6,543.4 L869.0,538.2 L868.9,534.0 M908.5,549.5 L906.4,546.2 L903.2,543.0 L899.8,539.7 M836.2,523.7 L840.6,526.4 L843.7,527.0 L847.1,529.5 M836.2,523.7 L832.2,527.2 L829.6,529.6 L827.0,531.5 L824.2,534.2 L820.5,537.7 M847.1,529.5 L847.6,533.0 L846.6,539.0 L847.0,542.2 L846.6,547.0 M820.5,537.7 L824.0,544.8 M824.0,544.8 L827.3,545.9 L833.4,547.7 L836.1,548.6 L840.9,549.7 M840.9,549.7 L846.6,547.0 M812.8,534.8 L817.3,536.6 L820.5,537.7 M812.8,534.8 L810.3,530.9 L807.4,525.4 L805.3,521.8 M833.7,517.3 L836.2,523.7 M805.3,521.8 L808.0,518.4 L810.5,515.5 L812.4,511.4 M861.9,555.8 L858.6,553.5 L853.7,552.3 L850.2,550.1 L846.6,547.0 M853.8,526.1 L847.1,529.5 M818.1,558.5 L819.8,554.4 L821.8,549.7 L824.0,544.8 M812.8,534.8 L810.0,538.8 L805.6,542.2 L804.1,545.8 L800.1,549.4 M833.2,570.6 L834.5,565.6 L835.3,561.2 L837.2,557.3 L839.1,553.9 L840.9,549.7 M859.8,501.7 L863.1,499.2 L866.9,497.0 L869.7,494.5 L873.6,492.2 M859.8,501.7 L855.3,499.4 M855.3,499.4 L853.5,495.4 L853.9,491.0 L850.9,487.3 L849.9,481.5 L849.5,477.7 M871.3,478.3 L867.8,476.0 L865.1,472.3 M865.1,472.3 L862.0,472.7 L857.5,474.0 L853.8,475.4 L849.5,477.7 M861.8,508.6 L859.8,501.7 M844.3,501.9 L850.6,500.5 L855.3,499.4 M847.0,476.3 L849.5,477.7 M867.9,458.8 L866.4,463.0 L865.3,467.5 L865.1,472.3 M842.3,465.5 L845.5,460.9 L848.8,458.1 L850.7,453.8 L854.0,450.2 M834.2,408.6 L832.6,409.3 M839.6,397.2 L838.2,392.7 L835.9,389.5 L834.9,385.0 L832.3,382.0 M832.6,409.3 L828.0,407.2 L823.8,404.2 L820.0,403.1 L816.2,400.1 L812.5,397.8 M832.3,382.0 L828.4,383.8 L823.3,386.0 L820.1,389.9 L816.9,391.6 L812.3,394.0 M812.3,394.0 L811.9,396.4 M812.5,397.8 L811.9,396.4 M835.0,374.3 L833.1,377.3 L832.3,382.0 M818.8,363.8 L811.1,365.6 M818.8,363.8 L822.5,366.3 L827.8,367.6 L831.9,369.6 M811.1,365.6 L810.3,369.1 L809.9,374.3 L809.1,377.5 L807.3,380.9 L806.8,385.3 M806.8,385.3 L809.7,389.3 L812.3,394.0 M808.3,418.8 L809.3,415.1 L809.8,410.5 L811.0,407.0 L812.2,402.1 L812.5,397.8 M808.3,418.8 L802.6,418.9 L798.2,418.3 L794.0,419.3 M788.0,412.5 L788.6,407.5 L789.5,401.9 M789.5,401.9 L794.8,400.8 L798.6,400.2 L802.8,398.9 L806.8,398.0 L811.9,396.4 M823.1,446.1 L819.0,444.4 L814.4,442.9 L809.7,440.2 M823.1,446.1 L825.5,443.5 L830.2,439.5 L833.2,436.6 M833.2,436.6 L832.2,432.9 L829.6,429.3 L829.1,425.6 L827.0,421.8 M809.7,440.2 L809.4,435.8 L809.1,430.9 L808.2,427.3 L809.3,423.3 L808.7,419.2 M808.7,419.2 L813.2,418.9 L818.8,419.9 L822.1,422.0 L827.0,421.8 M823.5,459.6 L823.0,455.9 L823.7,450.1 L823.1,446.1 M799.6,443.0 L805.1,440.9 L809.7,440.2 M841.3,436.4 L838.0,436.7 L833.2,436.6 M832.6,409.3 L831.1,414.2 L828.6,416.8 L827.0,421.8 M808.3,418.8 L808.7,419.2 M777.1,510.9 L776.3,515.1 L774.5,520.3 L773.0,523.5 L772.5,528.8 L771.1,533.0 M777.1,510.9 L780.2,509.3 M780.2,509.3 L783.8,511.0 L787.4,515.2 L791.8,516.4 L795.3,519.7 L798.7,522.2 M798.7,522.2 L796.7,525.7 L793.1,529.9 L790.7,533.8 L786.7,537.2 L784.4,541.2 M784.4,541.2 L779.4,538.9 L774.0,537.6 M774.0,537.6 L771.1,533.0 M756.4,530.1 L760.7,532.0 L766.8,531.4 L771.1,533.0 M765.9,508.3 L771.2,508.9 L777.1,510.9 M782.9,502.2 L780.2,509.3 M805.3,521.8 L798.7,522.2 M786.8,545.0 L784.4,541.2 M761.7,554.5 L765.1,550.7 L765.8,548.4 L769.4,543.4 L771.1,540.2 L774.0,537.6 M498.5,457.2 L497.0,461.3 L495.3,464.1 L493.9,468.1 L492.3,473.1 L490.9,476.6 L488.2,480.5 L487.2,484.0 M498.5,457.2 L494.1,455.7 L491.8,451.5 L487.5,450.7 L483.6,447.4 M483.6,447.4 L479.5,448.4 L476.5,451.8 L473.3,453.0 L468.9,455.2 L464.7,456.6 L462.1,459.6 L457.0,461.3 L453.7,462.5 L450.2,465.3 M450.2,465.3 L452.8,468.2 L455.0,473.5 L459.1,476.9 L461.6,479.5 L463.5,483.9 L466.9,487.8 L469.3,490.8 M469.3,490.8 L474.4,490.3 L478.4,489.6 M478.4,489.6 L483.1,487.4 L487.2,484.0 M512.4,456.5 L507.6,456.3 L503.2,457.8 L498.5,457.2 M511.1,483.2 L506.6,482.8 L501.9,484.1 L497.1,484.3 L491.1,484.4 L487.2,484.0 M487.7,421.1 L487.9,426.2 L486.8,429.0 L486.0,433.4 L486.0,437.7 L484.0,443.7 L483.6,447.4 M431.1,456.4 L434.2,457.6 L438.1,460.6 L442.9,460.8 L446.6,463.8 L450.2,465.3 M461.9,519.9 L463.2,516.5 L464.4,511.5 L465.3,507.5 L465.6,504.2 L466.6,498.3 L467.9,494.3 L469.3,490.8 M508.8,511.2 L506.2,508.8 L501.8,506.1 L499.5,503.7 L495.2,501.5 L492.4,498.5 L487.7,497.2 L484.8,494.5 L480.9,491.3 L478.4,489.6 M661.0,664.8 L663.4,662.7 L667.3,659.2 L669.6,655.6 L673.2,653.7 M689.9,674.3 L689.5,668.7 L688.5,664.7 L687.9,659.6 M673.2,653.7 L678.9,654.7 L682.1,657.9 L687.9,659.6 M703.5,651.6 L697.4,651.0 M697.4,651.0 L693.4,654.3 L690.9,657.5 L687.9,659.6 M709.3,588.4 L706.3,591.2 L702.9,593.0 L697.9,595.6 L694.8,598.5 L691.7,600.8 M686.6,577.0 L685.4,582.7 L686.4,586.9 L685.1,591.5 L684.3,596.1 M684.3,596.1 L687.6,598.0 L691.7,600.8 M708.5,614.2 L703.8,612.1 L698.4,612.1 L694.4,609.9 M694.4,609.9 L693.2,605.7 L691.7,600.8 M638.8,589.3 L642.1,592.7 L644.5,596.3 L648.5,598.1 L650.4,602.1 M663.2,584.4 L664.1,588.5 L665.3,592.4 L666.4,596.5 M650.4,602.1 L654.9,601.0 L659.0,599.4 L661.8,598.8 L666.4,596.5 M684.3,596.1 L680.0,597.9 L674.5,599.1 L670.2,599.3 M666.4,596.5 L670.2,599.3 M650.6,636.2 L649.8,631.1 L649.7,627.7 L650.3,624.0 L650.6,618.9 M650.6,636.2 L645.4,641.0 M645.4,641.0 L639.5,640.1 L635.1,637.7 M635.1,637.7 L632.4,633.1 L631.4,629.9 L629.7,624.4 L628.0,620.1 L626.2,616.7 M628.5,614.0 L626.6,615.5 M628.5,614.0 L633.3,615.0 L636.9,614.2 L642.4,613.6 L646.9,614.6 M646.9,614.6 L650.6,618.9 M626.2,616.7 L626.6,615.5 M645.9,650.7 L645.4,646.8 L645.4,641.0 M616.5,645.7 L619.6,644.2 L623.9,642.8 L628.3,640.9 L631.9,640.1 L635.1,637.7 M607.9,631.8 L612.1,628.8 L614.7,626.4 L618.3,621.9 L622.1,618.8 L626.2,616.7 M631.7,592.9 L630.9,597.1 L630.7,600.8 L630.5,605.2 L628.3,610.4 L628.5,614.0 M608.6,604.2 L612.3,606.7 L615.1,608.0 L618.8,610.8 L622.5,613.7 L626.6,615.5 M650.4,602.1 L648.6,606.4 L649.0,610.1 L646.9,614.6 M669.9,615.2 L670.5,610.7 L670.7,605.1 L670.2,599.3 M669.9,615.2 L664.5,616.4 L659.4,616.5 L655.8,617.8 L650.6,618.9 M789.9,348.1 L790.2,348.7 M789.9,348.1 L785.4,344.7 L783.3,343.5 L780.1,340.7 L776.5,339.3 L772.5,336.1 M790.2,348.7 L785.6,350.3 L783.1,352.9 L778.7,354.9 L775.7,356.2 L770.4,358.0 L767.0,359.8 M772.5,336.1 L766.6,337.9 L761.4,340.6 M759.7,348.7 L760.6,343.7 L761.4,340.6 M759.7,348.7 L761.2,352.1 L763.7,356.1 L766.9,359.7 M766.9,359.7 L767.0,359.8 M775.6,322.6 L774.1,327.5 L772.7,332.5 L772.5,336.1 M796.0,321.8 L794.7,325.9 L794.5,331.5 L792.9,335.5 L791.1,339.1 L790.9,344.4 L789.9,348.1 M748.4,326.1 L751.5,329.6 L754.8,333.3 L757.3,337.0 L761.4,340.6 M748.4,326.1 L748.9,323.2 M783.2,393.4 L786.2,388.9 L789.8,384.6 L792.7,381.6 M783.2,393.4 L779.9,392.7 M779.9,392.7 L776.5,389.4 L774.3,384.8 L771.9,379.9 M792.7,381.6 L791.9,376.9 L789.1,370.8 M789.1,370.8 L785.0,370.6 L780.4,371.5 L774.9,372.7 M771.9,379.9 L774.9,372.7 M806.8,385.3 L803.1,383.1 L797.8,382.7 L792.7,381.6 M789.5,401.9 L785.9,397.3 L783.2,393.4 M764.8,402.4 L769.0,399.1 L772.8,397.1 L776.0,396.1 L779.9,392.7 M758.2,383.0 L763.7,382.7 L768.0,380.7 L771.9,379.9 M811.1,365.6 L807.6,364.4 L803.0,362.6 L799.1,360.7 L795.9,358.7 M795.9,358.7 L794.6,363.6 L792.1,366.2 L789.1,370.8 M795.9,358.7 L793.2,351.4 M793.2,351.4 L790.2,348.7 M767.0,359.8 L769.9,363.5 L772.1,368.8 L774.9,372.7 M748.9,374.6 L751.8,372.0 L756.0,369.3 L759.9,366.4 L764.2,363.3 L766.9,359.7 M731.6,336.9 L728.4,339.0 L723.8,341.8 L720.8,345.6 M731.6,336.9 L734.7,336.9 M734.7,336.9 L737.2,340.4 L739.1,344.7 L741.2,348.6 L744.2,353.0 M720.8,345.6 L719.3,352.1 L718.6,357.1 M718.6,357.1 L722.0,359.2 L727.3,362.2 L730.3,365.7 M744.2,353.0 L743.3,356.9 L741.0,361.5 L739.0,365.5 M739.0,365.5 L735.5,365.7 L730.3,365.7 M720.4,320.5 L722.4,324.5 L725.7,328.8 L728.9,333.8 L731.6,336.9 M707.3,335.7 L710.7,337.8 L714.1,340.3 L716.7,342.3 L720.8,345.6 M748.4,326.1 L745.3,328.1 L741.0,331.1 L738.0,335.0 L734.7,336.9 M759.7,348.7 L755.3,350.0 L752.2,351.6 L748.3,352.8 L744.2,353.0 M711.7,359.8 L718.6,357.1 M720.1,387.9 L721.7,383.3 L723.7,379.5 L726.1,376.4 L726.9,373.4 L727.9,369.2 L730.3,365.7 M748.1,374.4 L744.8,372.4 L741.4,369.1 L739.0,365.5 M838.3,328.8 L835.2,332.9 L832.1,336.0 L828.0,339.6 M838.3,328.8 L837.3,323.9 L834.2,318.0 L832.6,313.9 M827.7,312.1 L832.6,313.9 M827.7,312.1 L823.3,315.5 L820.8,318.1 L816.0,322.9 L813.2,325.8 M813.2,325.8 L814.0,328.9 L816.8,335.0 L818.3,338.1 M828.0,339.6 L820.6,339.7 M820.6,339.7 L818.3,338.1 M855.7,331.3 L851.6,331.6 L846.5,330.5 L842.7,329.3 L838.3,328.8 M839.3,349.9 L835.7,346.8 L831.1,343.4 L828.0,339.6 M850.6,307.1 L846.8,307.9 L840.7,311.4 L837.5,312.1 L832.6,313.9 M821.8,297.2 L822.4,301.3 L825.4,304.4 L826.5,308.9 L827.7,312.1 M798.6,319.7 L802.5,321.8 L807.7,324.0 L813.2,325.8 M793.2,351.4 L796.4,348.7 L800.5,346.9 L804.2,345.6 L808.1,343.3 L811.9,342.0 L815.3,340.3 L818.3,338.1 M818.8,363.8 L818.3,359.2 L819.1,355.6 L819.4,352.3 L820.4,346.7 L821.2,344.1 L820.6,339.7 M789.3,660.1 L791.4,665.1 L792.2,668.9 L795.7,673.9 L797.1,677.5 M789.3,660.1 L784.1,662.3 L779.9,663.6 L774.9,663.9 M774.9,663.9 L774.9,669.2 L774.9,672.9 L775.4,677.8 L774.6,681.9 M774.6,681.9 L779.0,683.2 L783.2,684.3 L787.6,686.0 M787.6,686.0 L790.6,683.5 L793.1,681.0 L797.1,677.5 M793.7,651.4 L792.1,655.2 L789.3,660.1 M803.1,677.4 L797.1,677.5 M767.4,658.2 L771.6,661.3 L774.9,663.9 M773.0,682.6 L774.6,681.9 M791.3,704.6 L790.5,699.1 L790.4,694.7 L789.2,691.6 L787.6,686.0 M667.3,637.2 L669.4,632.5 L669.4,627.4 L672.4,624.6 L673.4,619.4 M667.3,637.2 L672.6,642.9 M672.6,642.9 L677.8,641.6 L681.0,640.1 L686.0,638.0 L690.2,635.8 M686.2,620.8 L681.1,621.1 L677.4,619.8 L673.4,619.4 M686.2,620.8 L688.3,624.6 L690.0,629.5 L691.3,632.6 M691.3,632.6 L690.2,635.8 M669.9,615.2 L673.4,619.4 M650.6,636.2 L655.6,635.5 L659.4,637.7 L663.8,637.3 L667.3,637.2 M673.2,653.7 L672.3,647.4 L672.6,642.9 M697.4,651.0 L695.8,647.7 L694.1,642.5 L691.4,640.3 L690.2,635.8 M694.4,609.9 L690.8,613.3 L688.5,617.0 L686.2,620.8 M706.8,629.4 L702.5,631.2 L696.4,630.7 L691.3,632.6 M216.7,228.3 L243.3,243.3 L270.0,256.7 L286.7,266.7 L303.3,276.7 L316.7,286.7 L323.3,290.0 L330.0,293.3 M256.7,220.0 L270.0,233.3 L273.3,240.0 L270.0,250.0 M303.3,235.0 L333.3,238.3 L336.7,246.7 L376.7,251.7 L386.7,248.3 M333.3,196.7 L332.0,215.0 L333.3,238.3 M303.3,235.0 L306.7,260.0 L300.0,273.3 L316.7,286.7 M336.7,246.7 L330.0,263.3 L323.3,283.3 L330.0,293.3 M330.0,293.3 L350.0,283.3 L363.3,286.7 L390.0,288.3 M395.0,256.7 L390.0,288.3 L386.7,310.0 L390.0,341.7 L420.0,353.3 M336.7,330.0 L363.3,336.7 L390.0,341.7 M330.0,296.7 L333.0,310.0 L336.7,330.0 M243.3,278.3 L283.3,275.0 L303.3,276.7 M206.7,283.3 L260.0,290.0 L263.3,303.3 L260.0,336.7 L250.0,356.7 L240.0,363.3 L236.7,403.3 L240.0,430.0 L250.0,450.0 M180.0,346.7 L203.3,353.3 L240.0,358.3 M170.0,296.7 L166.7,316.7 L156.7,323.3 L180.0,330.0 L183.3,343.3 L176.7,356.7 L146.7,366.7 L130.0,383.3 L123.3,403.3 L126.7,423.3 M103.3,323.3 L156.7,323.3 M103.3,323.3 L103.3,350.0 L113.3,363.3 L120.0,356.7 M272.5,449.2 L269.2,468.8 L262.7,501.3 L259.5,517.5 L240.0,524.0 L233.5,537.0 L220.5,543.5 L217.2,556.5 L220.5,576.0 L230.2,585.7 L240.0,582.5 L243.2,569.5 L253.0,563.0 L259.5,566.2 M191.2,533.7 L207.5,537.0 L220.5,540.2 M191.2,533.7 L188.0,550.0 L181.5,556.5 L175.0,559.7 M259.5,566.2 L272.5,572.7 L288.7,585.7 L305.0,589.0 L318.0,595.5 L337.5,582.5 L347.2,579.2 L357.0,589.0 L370.0,595.5 L386.2,595.5 L396.0,589.0 L409.0,582.5 L418.7,572.7 L415.5,556.5 L418.7,550.0 M318.0,595.5 L314.7,611.7 L318.0,628.0 L321.2,641.0 M314.7,611.7 L337.5,615.0 L363.5,611.7 L376.5,615.0 L379.7,628.0 L366.7,631.2 L389.5,637.7 L396.0,647.5 L399.2,660.5 M396.0,589.0 L409.0,595.5 L428.5,595.5 L448.0,602.0 L461.0,615.0 L467.5,631.2 L474.0,647.5 M435.0,628.0 L451.2,634.5 L467.5,631.2 M334.2,485.0 L363.5,488.2 L379.7,501.3 L386.2,517.5 L383.0,537.0 M363.5,459.0 L389.5,468.8 L418.7,478.5 M415.5,550.0 L418.7,566.2 M400.0,420.0 L410.0,440.0 L405.0,470.0 L412.0,490.0 M420.0,420.0 L450.0,425.0 L470.0,440.0" fill="none" stroke="#c9c9c9" stroke-width="0.75" stroke-linejoin="round"/>
<polygon points="343,194 350,193 357,197 355,200 348,199" fill="#f2f2f2" stroke="#b0b0b0" stroke-width="0.7"/>
<polygon points="247,231 252,229 257,233 254,237 249,236" fill="#f2f2f2" stroke="#b0b0b0" stroke-width="0.7"/>
<polygon points="313,214 310,222 303,230 297,238 293,246 289,253 287,257 291,257 295,250 300,242 306,234 311,226 316,218" fill="#f2f2f2" stroke="#b0b0b0" stroke-width="0.7"/>
<polygon points="423,309 430,306 439,308 440,314 432,317 425,315" fill="#f2f2f2" stroke="#b0b0b0" stroke-width="0.7"/>
<polygon points="450,329 455,327 457,331 453,334" fill="#f2f2f2" stroke="#b0b0b0" stroke-width="0.7"/>
<polygon points="163,328 172,326 182,329 178,335 168,336" fill="#f2f2f2" stroke="#b0b0b0" stroke-width="0.7"/>
<polygon points="200,321 208,319 216,322 212,326 203,325" fill="#f2f2f2" stroke="#b0b0b0" stroke-width="0.7"/>
<polygon points="283,311 290,309 297,312 292,316 285,315" fill="#f2f2f2" stroke="#b0b0b0" stroke-width="0.7"/>
<polygon points="105,328 112,326 118,331 113,336 107,334" fill="#f2f2f2" stroke="#b0b0b0" stroke-width="0.7"/>
<polygon points="148,388 153,386 157,390 152,393" fill="#f2f2f2" stroke="#b0b0b0" stroke-width="0.7"/>
<polygon points="138,453 143,451 146,455 141,457" fill="#f2f2f2" stroke="#b0b0b0" stroke-width="0.7"/>
<defs><mask id="mo" maskUnits="userSpaceOnUse" x="0" y="0" width="1200" height="944"><rect width="1200" height="944" fill="#fff"/><polygon points="847,65 848.92,64.2 850.72,63.22 852.07,61.6 853.46,60.03 855.55,59.48 857,58 858.74,57.48 860.64,57.78 862.29,56.76 864.13,56.77 865.97,56.76 867.53,55.29 869.4,55.42 871.19,55.18 873,55 874.85,54.88 876.57,55.99 878.52,54.9 880.28,55.65 882.12,55.62 883.96,55.54 885.78,55.7 887.49,57.04 889.38,56.44 891.12,57.45 893,57 894.76,57.42 896.48,57.97 898.26,58.35 900.01,58.81 901.75,59.3 903.07,60.98 904.71,61.75 906.38,62.43 908.19,62.71 910,63 911.02,64.83 912.75,65.96 914.31,67.26 915.24,69.19 917.09,70.2 918.91,71.23 920,73 920.78,74.8 921.25,76.75 922.28,78.42 923.46,80.02 924.06,81.91 925.55,83.35 925.89,85.37 927,87 927.6,88.94 929.11,90.51 928.63,92.87 929.52,94.69 930.35,96.53 931.83,98.12 931.86,100.28 933,102 931.14,102.21 929.29,102.67 927.43,101.4 925.57,101.69 923.71,102.36 921.86,102.05 920,102 920.2,103.98 918.88,105.74 919.44,107.76 918.4,109.56 918.76,111.56 918.25,113.44 918.43,115.41 918.51,117.37 918.24,119.28 917.76,121.16 917,123 916.71,124.93 916.73,126.92 915.7,128.67 915.6,130.64 915.11,132.52 914.5,134.37 914.2,136.3 913.5,138.12 913,140 912.63,141.9 912.42,143.82 912.99,145.85 912.53,147.74 912.37,149.66 911.49,151.5 911.28,153.42 911.24,155.36 910.88,157.27 911.02,159.24 910.44,161.11 910,163 909.14,164.7 908.03,166.3 907.78,168.26 907,170 905.13,170.48 903.77,172.12 901.61,171.92 900,173 898.59,174.39 897.15,175.75 895.5,176.9 894.16,178.36 893,180 892.34,181.95 891.44,183.79 889.81,185.29 889.28,187.29 888.11,189.01 887.87,191.15 887,193 887.91,194.65 889.26,195.92 890.53,197.26 891.66,198.72 893,200 894.68,200.75 896.56,200.78 898.34,201.17 900,202 900.59,203.78 902,205 899.38,205.69 897,207 896,208.79 894.68,210.35 892.94,211.61 892.01,213.44 890.6,214.94 890,217 888.81,218.82 889.21,221.12 888.17,222.99 887.07,224.84 887,227 884.99,227.15 883.21,227.83 881.88,229.56 880,230 881.36,231.53 882.15,233.47 883.79,234.8 885.15,236.33 885.82,238.34 887,240 887.05,241.94 887.87,243.71 888.25,245.58 888.8,247.41 889.8,249.13 889.3,251.21 890,253 890.02,255.17 890.66,257.16 891.85,258.99 892.58,260.95 893,263 891.24,261.51 888.8,261.4 887,260 885.05,259.45 884.22,257.31 882.22,256.82 880.63,255.76 879.1,254.61 877.38,253.74 876.51,251.66 874.6,251.05 873,250 871.5,248.58 869.38,248.59 867.72,247.54 865.94,246.77 863.82,246.78 862.46,245.06 860.33,245.07 859.01,243.25 857,243 855.04,242.28 853.11,241.43 851.13,240.76 848.85,241.1 847,240 847.15,242.03 846.02,243.76 845.22,245.56 845.9,247.72 844.55,249.39 844.73,251.43 843.91,253.23 843.57,255.14 843,257 842.33,258.81 840.47,259.87 839.9,261.74 839.28,263.58 838.57,265.36 836.6,266.35 835.53,267.91 835.52,270.12 834.48,271.7 833,273 831.43,274.1 830.38,275.8 828.4,276.42 827,277.71 825.71,279.13 824.85,281.04 822.68,281.45 821.67,283.19 820.05,284.24 818.87,285.78 817.36,286.95 816.2,288.52 814.3,289.24 813.06,290.71 810.96,291.21 810,293 808.88,294.55 807.45,295.88 806.38,297.46 805.75,299.36 805.04,301.2 803.52,302.47 802.06,303.77 801.14,305.46 800,307 799.6,309 800.71,311 799.82,313 800.42,315 800,317 801.71,317.93 803.02,319.52 804.81,320.31 806.63,321.06 807.95,322.63 810,323 810.19,325.09 809.68,327.06 809.57,329.09 808.48,330.97 807.94,332.93 808,335 806.08,335.42 804.95,337.3 802.88,337.45 801.12,338.15 799.93,339.94 797.65,339.68 796.15,340.87 794.35,341.52 793,343 791.12,342.47 789.68,341.13 787.79,340.63 786.3,339.39 784.79,338.19 783,337.49 781.32,336.61 779.87,335.3 778.29,334.23 776.19,334.09 774.33,333.53 773,332 771.23,332.63 769.54,333.62 767.62,333.64 765.57,333.18 763.98,334.56 762.18,335.09 760.11,334.55 758.4,335.43 756.67,336.22 754.68,336.01 753,337 751.92,335.41 750.28,334.56 748.89,333.37 747.3,332.45 745.46,331.86 744.31,330.37 742.85,329.27 741.46,328.09 740,327 738.2,326.34 736.21,326.92 734.54,325.4 732.66,325.29 730.68,325.78 728.91,324.92 727,325 726.34,323.23 724.76,321.96 724.65,319.88 723.55,318.35 722.7,316.68 721.03,315.47 720.92,313.39 719.86,311.84 718.26,310.58 718.53,308.29 717,307 718.18,305.4 719.31,303.78 719.92,301.85 721.54,300.51 722.49,298.79 722.68,296.61 724.44,295.36 725.54,293.72 725.9,291.64 727,290 725.65,288.46 725.18,286.31 722.93,285.4 721.83,283.68 721.7,281.3 720,280 719.62,277.93 719.03,275.93 717.88,274.1 717.76,271.95 717,270 718.78,268.55 721.01,268.02 723,267 725.17,267.02 727.17,267.62 729.22,268.08 731.05,269.23 733,270 734.94,269.94 736.72,269.03 738.73,269.34 740.67,269.34 742.48,268.55 744.39,268.3 746.15,267.23 748.08,267.15 750,267 751.36,265.42 753.38,264.97 755.29,264.32 756.82,263.03 758.19,261.47 760.42,261.38 761.92,260.04 763.48,258.79 765.5,258.34 767,257 768.87,256.92 770.58,256.2 772.17,255.02 774.15,255.37 775.88,254.75 777.55,253.85 779.45,253.91 781.33,253.87 783,253 783.98,251.39 785.7,250.3 785.78,248.07 786.91,246.57 788.37,245.29 789.66,243.91 790.15,241.96 792.23,241.12 793.11,239.45 793.48,237.41 794.69,235.97 796,234.59 797,233 798.01,231.33 800.14,231.1 801.53,229.92 802.57,228.28 804.23,227.45 805.85,226.57 806.85,224.88 808.82,224.45 810,223 811.94,222.6 813.86,222.18 815.71,221.47 817.59,220.91 819.4,220.06 821.18,219.14 823.24,219.18 825.2,218.85 827,218 828.97,217.39 830.99,217.52 833,217.67 834.99,217.34 837.02,217.64 838.96,216.6 840.99,216.99 843,217 842.85,215 843.39,213 842.84,211 842.53,209 843,207 842.1,205.04 840.41,203.88 838.7,202.73 837.02,201.56 835.47,200.25 834.7,198.16 833,197 831.54,195.82 829.69,195.36 828.23,194.18 826.58,193.36 825.11,192.18 823.49,191.3 821.78,190.58 820,190 818.02,190.52 816.08,191.2 813.88,190.58 811.92,191.21 810,192 808.25,192.99 806.45,193.86 804.54,194.42 802.83,195.52 800.48,194.96 798.76,196.04 797,197 795.11,197.13 793.23,197.38 791.32,197.12 789.47,197.96 787.6,198.27 785.64,197.22 783.78,197.76 781.89,197.87 780,198 779.01,196.28 778.08,194.52 776.79,193.05 775,192 774.81,189.91 776.14,188.08 775.73,185.96 775.74,183.9 777.21,182.09 777,180 777.48,178.13 778.84,176.59 779.2,174.68 779.83,172.86 780.7,171.14 780.3,168.94 781.23,167.24 782.07,165.5 783.52,163.99 784.28,162.23 784.24,160.16 784.47,158.2 785.06,156.37 786.08,154.7 787,153 788.87,152.64 790.44,151.24 792.32,150.92 794.41,151.26 795.94,149.76 797.78,149.28 799.91,149.79 801.59,148.79 803.4,148.23 805.15,147.43 807,147 808.89,145.92 811.16,145.81 813.19,145.07 814.75,143.17 817,143 818.19,141.45 819.05,139.7 820.1,138.06 820.76,136.19 821.6,134.43 823,133 822.76,131.06 823.04,129.2 823.21,127.33 824.6,125.64 825.12,123.82 825.22,121.93 824.59,119.94 825.47,118.17 825.63,116.3 826.58,114.54 825.94,112.54 826.06,110.66 827.03,108.91 827,107 827.32,104.91 827.61,102.82 829.12,101.1 829.83,99.13 830,97 831.56,95.61 832.78,93.98 833.15,91.75 834.51,90.22 835.47,88.41 837,87 835.54,85.38 833.74,84.4 831.69,83.84 829.88,82.85 828,82 829.08,80.35 828.41,78.31 829.23,76.61 829.73,74.83 830,73 831.32,71.43 833.21,70.79 834.86,69.77 836.33,68.44 838.04,67.51 840,67 841.83,66.79 843.3,65.29 845.13,65.07" fill="#000" stroke="#000" stroke-width="2.6"/><polygon points="483,318 485,319 486.82,319.39 488.66,319.56 490.56,319.17 492.32,320.19 494.23,319.68 496.07,319.9 497.86,320.61 499.76,320.25 501.51,321.33 503.43,320.78 505.28,320.84 507.18,320.49 508.91,321.78 510.83,321.15 512.64,321.7 514.45,322.21 516.32,322.08 518.09,322.99 520,322.5 521.96,322.51 523.91,322.62 525.88,322.41 527.84,322.46 529.77,322.76 531.66,323.61 533.66,323.09 535.56,323.83 537.5,324 539.49,323.9 541.15,325.26 543.28,324.57 544.91,326.07 546.73,326.72 548.6,327.15 550.64,326.87 552.4,327.79 554.48,327.27 556.1,328.84 557.97,329.28 560,329 561.28,330.64 562.52,332.31 564.37,333.34 565.52,335.12 567.5,336 569.35,336.33 571.28,336.39 573.03,337.08 574.58,338.53 576.39,338.99 578.38,338.83 580.05,339.81 581.78,340.58 583.81,340.28 585.65,340.66 587.17,342.2 589.22,341.81 590.8,343.11 592.88,342.64 594.4,344.17 596.57,343.33 598.25,344.29 600,345 602.48,344.41 605,344 607.08,344.42 608.27,346.41 609.92,347.57 612.07,347.89 613.75,349 614.86,350.6 616.66,351.56 617.94,353 618.87,354.77 620.36,356.01 622.13,356.99 622.49,359.31 623.82,360.7 625.55,361.71 627,363 627.76,364.91 629.69,365.84 630.83,367.43 631.84,369.13 633.74,370.09 635.02,371.56 635.74,373.51 637,375 638.22,376.83 638.25,379.14 639.21,381.07 640.33,382.95 641,385 640.89,386.88 640.46,388.73 641.18,390.66 640.09,392.47 639.88,394.34 640.69,396.28 640.68,398.16 640,400 638.83,401.5 638.12,403.23 637.1,404.8 636,406.33 635.54,408.19 635,410 633.88,411.85 634.43,414.11 633.64,416.04 632.44,417.86 632.5,420 631.69,421.92 631.29,423.95 631.15,426.04 630.89,428.1 630,430 628.54,431.2 628.56,433.38 626.5,434.17 625.58,435.72 625,437.5 623.13,437.95 622.39,440.08 620.47,440.45 618.81,441.22 617.5,442.5 615.53,443.14 613.34,442.84 611.44,443.75 609.38,444.01 607.5,445 605.58,445.32 604.06,443.62 602.05,444.4 600.3,443.85 598.54,443.39 596.86,442.48 595,442.5 593.16,442.01 591.95,440.58 590.8,439.05 589.07,438.4 587.5,437.5 586.62,435.71 586.34,433.72 585.14,432.04 585,430 584.63,428.11 585.42,426.39 585.37,424.55 586.08,422.81 586.25,421 587.01,418.69 588.33,416.74 590,415 591.67,414.25 593.24,413.36 594.2,411.55 596.28,411.41 597.5,410 597.58,408.06 597.16,406.2 596.64,404.36 596.25,402.5 593.95,402.21 591.97,401.12 590,400 588.35,401.05 586.32,400.18 584.54,400.55 582.98,402.06 580.96,401.25 579.36,402.54 577.5,402.5 575.52,402.71 574.04,403.91 572.59,405.19 570.83,405.83 569.08,406.48 567.5,407.5 566.01,408.51 564.45,409.42 562.74,410.12 561.86,412.03 560,412.5 558.46,414.54 556.6,416.3 553.97,416.15 551.6,417.3 550.29,415.61 548.6,414.3 547.53,412.7 545.94,411.42 545.94,409.16 544.35,407.87 543.53,406.11 542.18,404.69 541.11,403.09 540.5,401.2 539.23,399.46 536.98,399.13 535.77,397.31 533.49,397.03 532.43,394.99 530.5,394.2 529.08,393.02 527.43,392.28 525.72,391.64 523.99,391.02 522.28,390.37 521.05,388.86 519.4,388.1 522.02,388.21 524.4,387.1 525.92,386.09 527.6,385.33 528.78,383.81 530.5,383.1 530.6,381 531.09,378.91 531.29,376.82 530.7,374.7 530.67,372.7 531,370.7 531.12,368.7 530.7,366.7 528.93,365.67 527,365 525.15,365.57 523.31,366.16 521.29,365.26 519.51,366.45 517.52,365.81 515.69,366.54 513.75,366.31 511.92,367.04 510,367 508.22,368.34 505.95,368.38 503.92,369.04 502,370 502.11,368.07 501.36,366.24 501.9,364.27 501.09,362.45 500.2,360.64 500.41,358.7 499.95,356.84 499.64,354.96 500,353 498.39,352.01 497.49,350.31 495.62,349.58 494.49,348.11 493.15,346.85 491.99,345.41 490.7,344.1 490,342.2 488.63,340.97 487,340 487.33,338.05 485.68,336.45 485.62,334.57 485.56,332.69 485.39,330.82 484.5,329.09 484.21,327.25 484.94,325.22 483.99,323.5 483.18,321.76 483.03,319.89" fill="#000" stroke="#000" stroke-width="2.6"/><polygon points="645,372 646.88,371.38 648.59,370.28 650.55,369.91 652.65,369.94 654.47,369.16 656.09,367.78 658.31,368.17 660,367 661.82,367.68 663.77,366.6 665.55,367.64 667.44,367.39 669.33,367.08 671.16,367.59 673,368 674.77,368.67 676.78,368.34 678.52,369.1 680.2,370.09 682.19,369.89 683.77,371.27 685.7,371.29 687.5,371.83 689.53,371.42 691.34,371.92 693,373 694.8,373.7 696.83,373.61 698.53,374.65 700.22,375.72 702.19,375.82 704.1,376.15 706.09,376.2 707.93,376.77 709.72,377.48 711.27,379.04 713.2,379.29 715.29,378.99 717,380 718.74,381.19 718.83,383.62 720.04,385.22 721.76,386.43 723,388 722.56,389.88 721.45,391.48 720.2,393.02 720,395 718.71,396.31 716.76,396.65 715.5,398.01 713.96,398.94 712.5,400 710.64,400.45 709.91,402.61 708.17,403.25 706.83,404.5 705,405 703.63,406.64 701.34,407.06 700.42,409.31 697.92,409.45 696.8,411.42 695,412.5 693.63,413.96 692.51,415.63 691.71,417.55 690.3,418.99 689.1,420.6 687.7,422.03 686.83,423.9 685,425 683.9,426.44 683.32,428.21 681.77,429.35 680.94,430.96 680,432.5 677.97,433.81 676.18,435.35 675,437.5 673.21,438.38 671.19,438.56 669.24,438.97 667.5,440 665.53,439.66 663.8,438.61 661.99,437.79 660,437.5 658.58,436.18 656.84,435.48 655,435 653.33,434.17 651.59,433.49 650,432.5 649.18,430.88 648.6,429.1 646.4,428.4 646.23,426.35 645,425 644.83,422.92 643.89,421.03 642.8,419.18 642.66,417.08 642.5,415 643.6,413.15 643.88,411.09 644.26,409.06 645.14,407.16 645,405 646.08,403.14 645.29,400.82 646.42,398.98 647.29,397.07 647.5,395 647.43,392.89 646.46,391.01 645.37,389.16 645.67,386.96 645,385 645.26,383.14 644.87,381.29 644.29,379.43 644.53,377.57 644.5,375.71 644.97,373.86" fill="#000" stroke="#000" stroke-width="2.6"/><polygon points="630,412.5 631.89,412.89 633.43,413.97 635,415 636.99,416.34 638.53,418.13 640,420 639.41,422 640.72,424 639.57,426 639.7,428 640,430 639.59,431.89 638.58,433.39 636.93,434.45 635.5,435.67 635,437.5 634.27,439.22 633.03,440.68 632.5,442.5 632.35,440.47 631.95,438.52 630.83,436.81 630,435 629.32,433.05 629.37,430.91 628.64,428.96 627.96,427.01 627.5,425 628.35,423.31 628.1,421.41 628.78,419.69 629.24,417.92 629.84,416.18 629.11,414.18" fill="#000" stroke="#000" stroke-width="2.6"/><polygon points="392.5,492.5 393.33,490.85 394.34,489.3 395.53,487.84 396,486 398.25,484.54 400,482.5 401.57,481.32 403.29,480.52 405.4,480.59 407,479.5 409.07,479.27 411.04,478.67 413.17,478.7 415,477.5 417,477.67 419.01,477.4 421.01,477.55 423.03,477.2 425,478 426.91,478.85 429.03,478.66 431,479.22 433.1,479.08 435,480 436.75,481.45 439.05,481.63 441.27,482.02 443,483.5 444.58,484.8 446.31,485.84 448.56,485.96 450,487.5 451.92,488.37 454.15,488.27 456.13,488.96 458,490 459.81,491.23 461.8,491.88 464.19,491.26 466,492.5 466.6,494.5 466.15,496.5 466.49,498.5 465.64,500.5 466,502.5 464.15,503.59 462.09,503.86 460,504 457.45,504.24 455,505 454.07,506.55 452.81,507.87 452.28,509.68 450.53,510.69 450,512.5 450.55,514.31 451.74,515.8 452.29,517.61 453.19,519.24 454.19,520.82 455,522.5 453.68,524.83 453.75,527.5 451.83,526.26 449.69,525.57 447.5,525 447.58,523.04 446.43,521.42 446.68,519.41 445.37,517.84 445,516 444.2,513.98 443.54,511.91 442.5,510 440.95,509.07 439.32,508.27 438.03,506.96 436.16,506.52 435,505 433,504.67 431.07,503.92 429,504.08 426.99,503.84 425,503.5 423.2,502.65 421.34,502.32 419.37,502.81 417.5,502.5 415.62,501.98 413.75,502.94 411.88,502.85 410,501.81 408.12,502.29 406.25,502.68 404.38,503 402.5,502.5 400.83,501.25 398.78,501.17 396.99,500.28 395,500 394.18,498.19 394.07,496.14 393.37,494.29" fill="#000" stroke="#000" stroke-width="2.6"/><polygon points="466,492.5 468.22,491.49 470.77,492.01 473,491 475.29,490.34 477.71,490.63 480,490 481.93,489.2 484.11,489.43 486.05,488.71 488,488 489.57,486.87 491.69,487.66 493.39,486.99 495,486 497.34,486.02 499.66,486.39 502,486.5 503.77,487.16 505.6,487.53 507.5,487.5 507.41,489.76 507.64,491.97 508.75,494 508.1,496 509.13,498 508.75,500 508.67,502.25 507.56,504.12 506.9,506.15 505.38,507.86 505,510 504.1,512.42 504,515 502.56,517.29 502.5,520 500.21,519.98 498.07,520.6 496,521.5 493.88,521.11 491.94,521.81 490,522.5 487.94,522 486.14,520.75 484,520.5 482.29,518.61 480,517.5 478.29,516.07 476.72,514.51 475.15,512.95 474,511 472.47,509.86 472.29,507.81 471.62,506.09 470,505 469.02,503.05 467.43,501.59 466,500 466.61,498.12 465.85,496.25 465.81,494.38" fill="#000" stroke="#000" stroke-width="2.6"/><polygon points="473.1,400.2 476.1,400.2 478.46,401.56 481.1,402.2 482.63,403.44 484.26,404.56 485.76,405.85 487.2,407.2 489.41,408.48 491.2,410.3 494.2,409.3 496.01,407.43 498.3,406.2 500.29,406.74 502.3,407.2 504.91,406.48 507.3,405.2 508.54,406.81 510.42,407.67 511.43,409.55 513.4,410.3 515.33,411.98 516.4,414.3 516.78,416.21 518.03,417.55 518.95,419.1 520.4,420.3 522.13,421.28 522.94,423.16 524.4,424.4 526.95,424.73 529.5,424.4 531.8,425.9 534.5,426.4 535.97,427.73 538.2,427.8 539.5,429.4 541.47,431 543.6,432.4 544.51,434.34 543.69,436.56 544.6,438.5 543.18,440.29 542.6,442.5 541.08,443.55 539.5,444.5 538.6,442.73 536.41,442.26 535.5,440.5 534,439 532.5,437.5 530.23,436.96 528.5,435.4 526.59,434.35 524.6,433.54 522.4,433.4 519.91,432.87 517.4,432.4 516.4,435.4 516.53,438.02 517.4,440.5 517.02,442.81 515.83,444.72 514.4,446.5 513.91,448.58 512.43,450.1 511.15,451.72 510.3,453.6 508.3,455.6 506.66,453.62 504.3,452.6 502.81,451.38 501.65,449.85 500.3,448.5 498.32,447.85 496.18,448.19 494.2,447.5 492.2,446.5 490.2,445.5 489.39,443.06 489.2,440.5 488.36,438.52 488,436.39 487.2,434.4 486.49,432.42 485.99,430.36 485.2,428.4 484.24,426.38 483.2,424.4 482.25,422.37 480.66,420.85 479.1,419.3 478.29,417.21 477.01,415.35 476.1,413.3 475.34,410.71 474.1,408.3 473.73,406.48 472.24,405.11 472.1,403.2" fill="#000" stroke="#000" stroke-width="2.6"/><polygon points="540,460 542.5,459.97 545,460 545.33,462.04 545.35,464.16 546.52,465.99 547.38,467.91 547.5,470 549.32,471.52 550.37,473.8 552.5,475 552.27,477 551.92,479 552.69,481 552.2,483 552.5,485 550.74,486.28 550.45,488.67 548.75,490 547.87,488.05 546.74,486.3 545,485 545.33,483.08 543.75,481.53 543.47,479.73 544.18,477.73 543.08,476.1 542.54,474.35 542.5,472.5 542.37,470.67 541.53,468.98 541.23,467.18 540.91,465.39 540.29,463.66 540.85,461.69" fill="#000" stroke="#000" stroke-width="2.6"/><polygon points="556,466 558.5,466.06 561,466 560.75,468.17 561.01,470.33 561,472.5 558.5,473.1 556,472.5 555.8,470.33 555.37,468.17" fill="#000" stroke="#000" stroke-width="2.6"/><polygon points="537.5,507.5 539.47,507.17 541.45,506.84 542.99,505.21 545,505 546.94,504.75 548.82,504.96 550.61,505.87 552.5,506 553.94,507.37 555.31,508.82 556.84,510.08 558.69,510.98 560,512.5 561.09,514.04 561.14,516.1 562.5,517.5 560.73,519.07 559.68,521.34 557.5,522.5 555.62,522.78 553.75,522.92 551.88,522.61 550,522.5 548.02,522.2 546.03,521.92 544.21,521.11 542.5,520 540.83,518.33 539.17,516.67 537.5,515 537.43,513.12 537.49,511.25 537.68,509.38" fill="#000" stroke="#000" stroke-width="2.6"/><polygon points="620,477.5 621.79,476.91 623.37,475.9 625,475 627,474.75 628.71,473.62 630.76,473.53 632.5,472.5 633.94,471.2 636.08,471.32 637.5,470 638.67,471.5 640.39,472.17 641.95,473.07 643.78,473.57 645,475 645.53,476.82 646.16,478.59 647.5,480 646.02,481.34 645.94,483.39 645,485 643.51,486.18 641.46,486.26 640,487.5 639.36,489.37 638.84,491.28 638,493.08 637.5,495 635.4,493.76 634.48,491.36 632.5,490 631.07,488.69 629.11,488.45 627.5,487.5 625.36,486.61 623.25,485.61 621,485 621.17,483.07 621.08,481.17 620.46,479.35" fill="#000" stroke="#000" stroke-width="2.6"/><polygon points="846,415.5 847.72,414.47 849.58,414.03 851.49,413.75 853.53,414.01 855.3,413.2 857.49,413.99 859.41,415.24 861.2,416.7 861.92,418.9 864.01,420.28 864.7,422.5 863.42,424.81 862.3,427.2 861.1,428.96 861.04,431.17 860,433 859.31,434.85 858.15,436.3 856.12,437.06 855.3,438.8 853.62,440.11 851.8,441.2 850.12,439.54 848.87,437.62 848.3,435.3 848.49,432.88 847.97,430.57 847.2,428.3 847.52,426.22 846.57,424.4 846,422.5 846.43,420.17 846.15,417.83" fill="#000" stroke="#000" stroke-width="2.6"/><polygon points="876.3,429.5 876.61,427.5 878.1,426.17 878.9,424.45 879.95,422.87 881,421.3 883.02,420.22 884.03,418.13 885.7,416.7 887.95,415.81 890.3,415.52 892.7,415.5 894.93,415.36 896.65,417.01 898.78,417.22 900.8,417.8 902.82,418.48 904.72,419.43 906.7,420.2 908.52,421.26 910.35,422.28 912.5,422.5 913.73,421.05 915.72,420.54 916.47,418.5 918.3,417.8 920.54,418.72 922.92,418.85 925.3,419 926.31,420.95 926.54,423.01 926.63,425.09 926.5,427.2 925.06,428.97 924.23,431.11 923,433 920.65,431.86 918.3,430.7 916.07,429.37 913.7,428.3 912.27,429.82 909.97,429.6 908.22,430.46 906.7,431.8 904.25,432.01 902,433 901.48,435.37 900.8,437.7 899.33,439 898.44,440.75 897.3,442.3 895.03,443.01 892.7,443.5 892.76,441.52 891.5,440 889.97,437.84 889.2,435.3 887.22,436.1 885.11,435.94 883.14,436.83 881,436.5 878.37,435.92 876.3,434.2 876.08,431.85" fill="#000" stroke="#000" stroke-width="2.6"/><polygon points="825,426 827.17,424.7 829.7,424.8 830.8,426.38 830.68,428.36 831.19,430.13 832,431.8 834.38,431.38 836.7,430.7 838.14,432.86 839,435.3 837.02,435.92 836.31,438.23 834.3,438.8 835.22,441.29 836.7,443.5 837.99,444.99 839.59,446.06 841.3,447 843.36,448.75 846,449.3 847.73,449.97 849.5,450.51 851.03,451.75 853,451.7 854.32,453.34 855.3,455.2 853.75,456.33 852.8,457.94 852.27,459.88 850.7,461 850.1,463.66 848.3,465.7 849.98,466.84 850.97,468.51 851.8,470.3 852.84,472.52 852.98,474.9 853,477.3 853.27,479.66 853.75,481.98 854.2,484.3 852.27,485.24 850.7,486.7 848.93,487.97 846.57,487.74 844.8,489 842.96,487.98 841.3,486.7 840.71,484.36 840.2,482 841.74,480.53 843.7,479.7 845.45,477.64 846,475 843.7,472.7 841.37,472.87 839.03,472.2 836.7,472.7 835.35,474.45 833.2,475 831.4,474.55 829.7,473.8 828.02,472.38 827.3,470.3 825.37,469.55 823.43,470.91 821.5,470.3 819.66,469.47 817.61,469.67 815.7,469.2 814.26,467.62 813.3,465.7 815.3,464.57 816.57,462.7 818,461 817.87,458.53 816.8,456.3 814.89,455.48 813.03,454.51 811,454 809.8,451.7 811.63,451.35 813.3,450.5 815.39,450.29 817.19,451.5 819.2,451.7 820.97,450.53 822.7,449.3 823.38,447.33 824.15,445.4 825,443.5 826.41,442.11 827.31,440.35 828.5,438.8 828.68,436.75 828.29,434.81 827.3,433 826.19,430.63 825,428.3" fill="#000" stroke="#000" stroke-width="2.6"/><polygon points="799.3,456.3 800.93,454.97 802.8,454 804.44,455.32 806.3,456.3 806.18,458.75 805.2,461 802.85,461.13 800.5,461 800.11,458.6" fill="#000" stroke="#000" stroke-width="2.6"/><polygon points="869.3,465.7 871.42,464.05 874,463.3 876.06,463.04 877.78,462.11 878.98,460.13 881,459.8 883.02,458.73 884.1,456.7 885.7,455.2 887.55,455.43 889.2,456.3 888.37,458.18 887.89,460.13 888,462.2 886.91,464.22 885.22,465.62 883.3,466.8 882.47,468.97 881.18,470.86 879.8,472.7 878.67,474.26 877.25,475.6 876.3,477.3 874,477.1 871.7,477.3 871.15,474.66 869.3,472.7 869.18,470.37 868.89,468.03" fill="#000" stroke="#000" stroke-width="2.6"/><polygon points="865.8,447 867.94,446.67 869.92,445.96 871.7,444.7 872.41,446.66 872.86,448.72 874,450.5 872.33,451.91 871.7,454 869.44,452.67 867,451.7 865.7,449.53" fill="#000" stroke="#000" stroke-width="2.6"/><polygon points="815.7,477.3 819.2,477.3 819.66,479.26 820.33,481.11 821.17,482.88 822.7,484.3 820.3,485.5 818.45,483.85 816.8,482 815.81,479.75" fill="#000" stroke="#000" stroke-width="2.6"/><polygon points="825,484.3 826.38,486.04 828.5,486.7 829.5,488.57 831.21,489.82 832.88,491.11 834.24,492.66 835.01,494.74 836.7,496 837.32,498.61 839,500.7 836.7,501.8 835.79,500.14 834.7,498.62 833.54,497.16 832,496 830.28,495.06 829.62,493.25 829.04,491.37 827.18,490.55 826.2,489 825.07,486.78" fill="#000" stroke="#000" stroke-width="2.6"/><polygon points="839,484.3 841.31,485.05 843.7,485.5 844.93,487.04 844.8,489 841.3,489 839.92,486.76" fill="#000" stroke="#000" stroke-width="2.6"/><polygon points="832.2,727.5 834.43,727.19 835.7,724.99 838.15,725.11 839.73,723.53 841.7,722.7 843.69,722.48 845.52,723.24 847.34,724.04 849.2,724.55 851.2,724.3 852.83,725.39 854,726.93 855.16,728.48 856.12,730.24 857.47,731.6 859.75,732.04 860.7,733.8 860.62,735.75 860.44,737.68 859.86,739.53 859.8,741.48 859,743.3 857.43,744.22 855.52,744.55 854.15,745.81 853.01,747.46 851,747.62 849.36,748.42 848,749.7 846.68,751.53 844.48,752.48 842.76,753.91 841.7,756 841.4,758.18 840.21,760 838.86,761.75 838.5,763.9 836.47,763.09 834.48,762.13 832.2,762.3 832.08,760.37 831.93,758.44 831.02,756.64 831.28,754.64 830.6,752.8 830.24,750.93 830.48,749.13 831.97,747.49 831.42,745.59 831.19,743.73 832.02,742.01 832.2,740.2 832.48,738.39 832.45,736.57 832.41,734.76 832.34,732.94 832.6,731.13 832.92,729.31" fill="#000" stroke="#000" stroke-width="2.6"/><polygon points="778.3,725.9 780.1,724.99 782.19,725.79 783.94,724.57 785.97,725.06 787.8,724.3 787.39,726.15 787.08,728 787.34,729.85 787.25,731.7 787.09,733.55 787.8,735.4 785.58,735.46 783.67,736.73 781.5,737 780.69,735.23 779.9,733.45 779.79,731.48 778.9,729.74 779.08,727.68" fill="#000" stroke="#000" stroke-width="2.6"/><polygon points="797.3,721.2 799.2,720.56 801.1,721.03 803,721.73 804.9,721.37 806.8,721.2 807.52,723.3 806.45,725.4 806.75,727.5 806.25,729.6 806.34,731.7 806.8,733.8 804.82,734.27 802.85,734.34 800.88,734.49 798.9,733.8 798.72,731.99 798.35,730.21 798.32,728.39 797.99,726.6 798.45,724.71 797.15,723.05" fill="#000" stroke="#000" stroke-width="2.6"/><polygon points="781.3,763 783.37,761.94 784.63,760.06 786,758.3 787.17,756.67 788.83,755.53 789.84,753.74 791.25,752.35 793,751.3 794.75,750.53 795.97,749.09 797.38,747.89 798.8,746.7 800.38,744.87 802.92,744.6 804.7,743.1 806.64,743.1 808.33,742.34 809.89,741.18 811.7,740.8 810.58,742.96 810.5,745.4 808.59,746.63 806.63,747.8 804.7,749 803.17,750.16 802.64,752.13 800.95,753.17 800,754.8 798.86,756.56 796.79,757.39 795.9,759.4 794.2,760.6 792.49,762.2 790.42,763.19 788.3,764.1 786.06,765.12 783.6,765.3" fill="#000" stroke="#000" stroke-width="2.6"/><polygon points="759.3,733.8 761.43,733.39 763.57,733.07 765.7,733.8 766.05,735.77 765.94,737.75 765,739.73 765.7,741.7 763.3,741.99 760.9,741.7 760,739.83 759.49,737.87 760.12,735.69" fill="#000" stroke="#000" stroke-width="2.6"/><polygon points="745.2,781.6 746.42,779.85 747.39,778 747.46,775.79 748.69,774.04 749.28,772.03 749.8,770 751.7,769.91 753.49,768.99 755.4,768.95 757.31,768.95 759.2,768.8 761.22,769.16 763.35,768.71 765.34,769.27 767.3,770 767.5,772.05 768.31,773.86 768.79,775.81 770.54,777.28 770.8,779.3 769.73,781.69 768.5,784 770.11,785.19 771.1,786.86 772,788.6 771.5,790.92 771.93,793.39 770.8,795.6 768.47,796.1 766.2,796.8 766.19,794.58 765.33,792.6 763.81,790.82 763.8,788.6 762.06,787.28 760.8,785.47 759.2,784 757.23,783.48 755.27,783.37 753.3,784 751.22,784.4 749.67,786.13 747.5,786.3 746.35,783.95" fill="#000" stroke="#000" stroke-width="2.6"/><polygon points="798.9,775 800.86,775.47 802.54,774.04 804.35,773.54 806.28,773.76 808.13,773.52 810,773.4 811.24,775.04 812.75,776.32 814.48,777.33 816.3,778.2 815.22,780.27 813,781.2 811.34,782.69 810,784.5 808.02,784.64 806.14,784.21 804.39,782.99 802.41,783.14 800.5,782.9 799.87,780.97 799.93,778.9 798.6,777.12" fill="#000" stroke="#000" stroke-width="2.6"/><polygon points="777,727 779,727.72 781,727.65 783,727.43 785,727.26 787,727 786.74,729 787.51,731 786.59,733 787.28,735 787,737 785.2,736.61 783.4,737.73 781.6,737.5 779.8,737.33 778,737 777.76,735 778.32,732.93 777.9,730.95 777.87,728.93" fill="#000" stroke="#000" stroke-width="2.6"/><polygon points="724.5,843 726.79,842.74 728.97,842.12 731,841 733.08,840.77 735.04,839.73 737.2,840 739.15,840.62 740.96,841.63 743,842 744.39,844.08 746,846 745.37,847.95 745.71,850.06 745,852 744.03,853.82 742.45,855.1 741,856.5 738.72,857.22 736.4,857.58 734,857.3 732.05,856.11 730.06,855 728,854 726.39,852.7 726.37,850.44 725,849 724.21,847.05 724.93,844.98" fill="#000" stroke="#000" stroke-width="2.6"/><polygon points="694,859 696.07,858.55 697.84,857.17 700,857 701.46,858.35 703.54,858.66 705,860 704.83,862.03 705.39,864 705.5,866 703.93,867.69 702.08,869 700,870 697.76,868.35 695,868 694.63,866.22 694.02,864.46 694.52,862.59 694.39,860.78" fill="#000" stroke="#000" stroke-width="2.6"/><polygon points="724.5,867 726.75,867.23 728.74,865.75 731,866 732.28,867.39 733.79,868.42 735.6,869 734.65,870.78 734.55,872.8 734,874.7 731.67,874.56 729.33,874.73 727,874.5 725.71,872.85 725.94,870.69 725.71,868.68" fill="#000" stroke="#000" stroke-width="2.6"/><polygon points="702.3,876 704.65,876.16 706.82,875.4 709,874.7 710.69,875.98 712.82,875.77 714.76,876.21 716.6,877 715.68,879.15 714.61,881.23 714,883.5 712,884.18 710,884.06 708,883.89 706,883.5 705.23,881.55 703.6,880.02 703.41,877.78" fill="#000" stroke="#000" stroke-width="2.6"/><polygon points="847,65 848.42,63.48 850.43,62.81 851.65,61 853.66,60.32 855.52,59.43 857,58 858.89,58.27 860.6,57.56 862.23,56.47 864.25,57.39 865.98,56.83 867.6,55.64 869.41,55.46 871.25,55.47 873,55 874.84,54.99 876.68,54.9 878.49,55.23 880.21,56.32 882.05,56.35 883.94,55.74 885.69,56.64 887.6,55.87 889.32,57.04 891.12,57.41 893,57 894.88,57.08 896.6,57.62 897.98,59.14 900.01,58.8 901.3,60.58 903.37,60.13 904.83,61.39 906.36,62.47 908.43,62.04 910,63 911.08,64.78 912.44,66.28 914.79,66.78 915.59,68.84 917.67,69.62 918.74,71.4 920,73 920.72,74.83 921.87,76.44 922.19,78.47 924.15,79.68 924.03,81.92 924.87,83.69 926.16,85.23 927,87 927.85,88.84 929.15,90.49 929.09,92.69 930.53,94.29 930.9,96.31 931.27,98.34 932.11,100.18 933,102 930,101.5 928.33,100.15 925.99,99.9 924.59,98.09 922.7,97.1 921.05,95.64 919.14,94.61 916.92,94.1 915.3,92.6 913.33,92.67 911.37,93.25 909.4,92.02 907.43,92.14 905.47,91.94 903.5,92.6 901.46,93.45 899.57,94.55 897.59,95.49 896,97.1 893.98,97.42 892.34,98.68 890.48,99.38 888.72,100.36 886.49,100.13 884.89,101.51 883.32,102.94 881.2,103 879.3,102.87 877.53,102.12 875.6,102.11 873.8,101.5 872.82,99.81 872.69,97.81 872.02,96 871.31,94.21 870.28,92.53 870.4,90.44 869.17,88.84 868.52,87.02 867.9,85.2 865.99,85.77 864.07,85 862.16,85.83 860.24,84.74 858.33,84.94 856.41,85.34 854.5,85.2 853.17,83.58 851.86,81.94 850.14,80.71 848.6,79.3 847.27,77.72 847.36,75.63 846.6,73.84 846,72 846.1,69.63 846.93,67.37" fill="#000" stroke="#000" stroke-width="2.6"/><polygon points="890.5,119 892.7,118.22 895,117.8 896.89,118.91 899,119.5 899.19,121.37 898.8,123.18 898.5,125 896.49,126.48 894,126.7 891.88,125.53 890,124 889.78,121.45" fill="#000" stroke="#000" stroke-width="2.6"/><polygon points="811.5,323.9 812.02,321.96 812.84,320.12 813.4,318.2 815.27,317.19 816.97,315.84 819,315.16 821,314.4 822.92,314.59 824.88,314.46 826.7,315.3 828.43,316.13 829.54,317.71 831.19,318.65 832.4,320.1 832.21,322.18 833.87,323.78 834.18,325.73 834.4,327.7 835.69,329.26 837,330.8 838.94,331.71 840.1,333.4 841.96,334.09 843.03,335.82 845.09,336.24 846.01,338.18 847.7,339.1 849.83,339.03 851.56,340.17 853.4,341 853.24,342.96 853.21,344.95 852.6,346.83 851.54,348.61 851.5,350.6 850.48,352.37 850.3,354.42 849.6,356.3 847.9,357.65 845.7,358 843.96,359.28 842,360.1 840.08,361.34 837.83,362.08 836.3,363.9 834.54,365.23 832.4,365.8 830.53,366.41 828.66,367 826.7,367.22 824.8,367.7 824.64,365.64 822.99,364.08 822.9,362 821.78,360.47 820.97,358.7 819.92,357.11 818.59,355.73 817.2,354.4 815.3,354.36 813.4,354.32 811.5,355.14 809.6,354.4 807.44,353.52 805.43,352.42 803.9,350.6 802.4,349.23 801.45,347.29 799.72,346.15 798.1,344.9 798.46,342.91 797.53,341.06 797.52,339.11 797.2,337.2 798.63,335.76 800.6,335 801.9,333.4 803.92,332.26 805.75,330.85 807.7,329.6 808.45,327.35 810.03,325.66" fill="#000" stroke="#000" stroke-width="2.6"/><polygon points="798.1,363.9 799.79,362.47 801.9,361.89 804,361.31 805.8,360.1 806.62,362.06 807.8,363.84 808.6,365.8 807.33,367.25 805.68,368.07 803.9,368.7 801.87,368.95 800.12,367.54 798.1,367.7 798.05,365.8" fill="#000" stroke="#000" stroke-width="2.6"/><polygon points="481.1,399.2 482.15,397.32 482.68,395.26 483.2,393.2 485.25,391.72 487.2,390.1 489.53,390.54 491.87,390.18 494.2,390.1 496.33,390.93 498.3,392.1 499.49,393.61 500.73,395.07 502.3,396.2 504.26,397.17 505.79,398.67 507.3,400.2 509.71,401.15 511.3,403.2 512.4,400.2 511.03,398.37 510.3,396.2 508.37,395.13 507.3,393.2 508.3,390.1 510.3,388.1 512.12,387.7 513.94,388.34 515.76,388.72 517.58,387.9 519.4,388.1 521.36,389.17 523.11,390.68 525.4,391.1 527.44,391.57 529.13,392.63 530.5,394.2 531.9,395.86 533.5,397.28 535.5,398.2 536.79,399.82 538.74,400.36 540.5,401.2 539.86,403.57 540.96,405.93 540.5,408.3 542.11,409.2 543.68,410.21 545.6,410.3 546.73,412.58 548.6,414.3 550.62,415.28 551.6,417.3 551.64,419.85 551.6,422.4 549.95,423.18 548.6,424.4 549.11,426.4 548.6,428.4 550.47,430.08 552.6,431.4 554.63,432.14 556.67,431.62 558.7,431.4 559.61,433.84 561.7,435.4 561.67,437.57 560.7,439.5 558.65,439.55 556.6,439.5 554.34,438.28 552.6,436.4 550.64,435.73 548.6,435.4 547.16,434.03 544.96,433.92 543.6,432.4 541.24,431.33 539.5,429.4 538.21,427.78 535.98,427.72 534.5,426.4 531.97,425.48 529.5,424.4 527.75,423.05 526.4,421.3 525.92,423.19 524.4,424.4 523.3,422.81 521.27,422.12 520.4,420.3 519.17,418.96 518.31,417.36 517.95,415.43 516.4,414.3 515.1,412.15 513.4,410.3 511.5,409.47 510.77,407.25 508.64,406.69 507.3,405.2 504.97,406.64 502.3,407.2 500.32,406.62 498.3,406.2 496.55,408.14 494.2,409.3 491.2,410.3 488.95,409.07 487.2,407.2 484.78,406.27 483.2,404.2 482.41,402.57 481.96,400.8" fill="#000" stroke="#000" stroke-width="2.6"/><polygon points="680,537.5 681.74,536.24 683.52,535.02 684.21,532.71 685.96,531.46 687.5,530 689.31,529.46 690.59,527.85 692.52,527.54 694.04,526.42 695.94,526.04 697.5,525 699.45,524.09 700.88,522.67 701.32,520.24 703.33,519.4 704.53,517.74 705.92,516.27 707.5,515 709.58,515.01 711.36,515.92 713,517.25 715,517.5 716.48,518.7 718.51,518.8 720,520 719.92,522.11 721.54,523.65 722.05,525.57 722.5,527.5 722.47,529.63 723.93,531.39 724.14,533.46 724.5,535.5 725,537.5 724.4,539.28 723.73,541.03 722.5,542.5 720.41,542.07 718.56,543.48 716.55,543.65 714.47,543.27 712.5,543.75 710.41,544.19 708.59,542.55 706.41,543.68 704.55,542.34 702.5,542.5 700.37,542.28 698.38,543.37 696.26,543.21 694.21,543.79 692.14,544.07 690,543.75 688.18,543.12 686.14,543.79 684.42,542.51 682.5,542.5 682.17,540.58 680.4,539.39" fill="#000" stroke="#000" stroke-width="2.6"/><polygon points="717.5,640 719.59,639.17 721.68,638.34 724,638.5 726.15,638.73 728.34,638.75 730.42,639.36 732.5,640 732.06,642.05 732.26,644.05 733,646 731.59,647.52 730.4,649.16 729.64,651.05 729,653 728.14,654.6 727.6,656.4 726.06,657.54 725,659 724.75,661.02 723.86,662.93 723.25,664.88 723.5,667 723.47,668.89 723.2,670.73 722.5,672.5 721.41,674.15 719.72,675.38 719.18,677.41 718,679 716.33,680.45 715.75,682.68 714.02,684.08 713,686 711.88,687.57 712.46,689.63 711.08,691.13 711,693 710.88,695.47 712.19,697.62 712.5,700 714.46,700.36 716.38,700.86 717.98,702.3 720,702.5 721.51,701.18 723.4,700.78 725.19,700.1 727,699.5 729.02,699.32 730.96,700.46 732.97,700.34 735,700 736.76,700.96 738.83,701.01 740.49,702.28 742.5,702.5 742.55,704.35 742.91,706.13 743.36,707.9 743.32,709.76 744.1,711.46 744.06,713.33 745,715 744.64,716.87 744.07,718.7 743.96,720.61 744.21,722.58 743.1,724.32 743.02,726.23 743.22,728.19 742.5,730 743.43,731.89 743.07,734.11 743.48,736.13 744.12,738.09 745,740 745.46,741.93 745.81,743.9 746.43,745.77 747.5,747.5 748.67,749 748.7,751.07 750.25,752.38 750.33,754.42 752.17,755.58 752.5,757.5 751.9,759.38 750.77,761.09 751.26,763.34 750,765 749.43,766.95 748.13,768.57 748.08,770.76 746,772.03 745.37,773.96 745,776 744.36,777.8 743.61,779.55 743.01,781.36 742,783 739.5,783.56 737,783 735.38,781.82 733.77,780.63 732.27,779.33 731.85,776.95 730,776 728.97,774.26 729,772.03 728.05,770.25 726.17,768.89 725.42,767.02 725,765 724.33,763.25 723.57,761.55 723.16,759.67 721.17,758.58 721.39,756.39 720,755 719.74,753 719,751.17 717.95,749.43 718.14,747.29 717.41,745.45 715.91,743.86 716.18,741.69 715,740 714.77,738.17 713.22,736.78 713.1,734.92 713.31,732.94 712.01,731.47 711.02,729.9 711,728 710.16,726.06 710.07,724.05 710.88,721.97 710.79,719.96 710.48,717.97 710,716 710.22,714.04 709.39,712.39 708.71,710.69 708.57,708.84 707.5,707.25 707.22,705.44 706.22,703.83 706,702 704.86,700.42 704.01,698.66 703.6,696.64 702.03,695.31 701.2,693.54 700,692 698.94,690.26 697.02,689.58 695.07,688.94 694.45,686.64 692.5,686 693.64,684.38 694.8,682.78 695.27,680.82 696,679 696.68,677.29 698.32,676.21 699.14,674.6 700,673 701.23,671.65 702.8,670.61 704.23,669.45 705.49,668.13 706.03,666.13 707.5,665 709.09,663.85 709.83,662.06 710.76,660.42 712,659 712.2,657.02 714.07,655.74 714.18,653.72 715,652 714.77,649.59 715.79,647.35 716,645 716.06,642.29" fill="#000" stroke="#000" stroke-width="2.6"/><polygon points="639,733.8 640.68,732.63 642.8,732.34 644.77,731.76 646.4,730.49 648.3,729.76 650.11,728.84 651.7,727.5 653.14,725.79 654.39,723.89 655.97,722.32 658,721.2 660.03,721.88 661.78,723.12 663.76,723.9 665.48,725.2 667.5,725.9 669.51,725.58 671.07,723.93 673.03,723.48 674.88,722.69 677,722.7 678.94,722.67 680.68,721.36 682.75,722.14 684.64,721.74 686.5,721.2 687.93,722.47 689.5,723.59 690.75,725.05 691.78,726.72 692.85,728.36 694.15,729.75 696,730.6 695.95,732.41 696.54,734.23 695.86,736.04 696.27,737.86 696.55,739.67 695.39,741.49 696,743.3 694.7,745.17 692.89,746.54 691.66,748.48 689.7,749.7 687.91,750.45 686.36,751.54 685.33,753.42 683.38,753.91 682.06,755.37 680.2,756 678.86,757.42 677.07,758.16 675.06,758.56 674.18,760.68 671.97,760.78 670.7,762.3 668.88,761.6 667.54,760.19 665.63,759.63 664.33,758.15 662.49,757.5 661.2,756 660.57,754 658.25,753.26 657.07,751.66 656.04,749.96 654.99,748.27 654.48,746.17 652.52,745.16 651.7,743.3 649.91,742.76 648.06,742.46 646.38,741.48 644.37,741.83 642.55,741.41 640.7,741.13 639,740.2 638.53,738.07 638.46,735.93" fill="#000" stroke="#000" stroke-width="2.6"/><polygon points="518.2,737.7 520.38,737.87 522.55,737.95 524.73,736.99 526.9,737.7 528.2,738.99 529.12,740.56 530.27,741.96 531.52,743.29 531.82,745.32 533.4,746.4 534.76,748.39 534.84,750.81 535.6,753 535.91,755.01 537.38,756.43 538.13,758.22 539.46,759.71 540,761.6 541.2,763.23 541.23,765.31 542.29,766.99 542.4,769.05 543.49,770.72 544.3,772.5 544.91,774.36 546.34,775.82 547.48,777.42 547.99,779.34 548.6,781.2 549.95,782.45 551.61,783.39 552.76,784.84 554.24,785.96 555.1,787.7 553.05,788.79 550.84,789.37 548.6,789.9 546.43,790.33 544.27,789.51 542.1,789.9 539.89,788.82 537.7,787.7 535.9,788.11 534.1,787.29 532.3,788.11 530.5,787.32 528.7,787.91 526.9,787.7 525.11,788.2 523.32,788.71 521.42,788.66 519.61,789.04 517.75,789.18 516,789.9 514.13,790.43 512.46,791.47 510.47,791.73 508.73,792.6 506.81,793 505.2,794.2 503.3,794.39 501.4,793.49 499.5,793.66 497.6,793.64 495.7,794.44 493.8,794.62 491.9,794.19 490,794.2 490.27,791.89 491.45,789.88 492.1,787.7 492.49,785.71 494.42,784.5 494.42,782.32 495.23,780.54 496.5,779 497.37,776.89 497.68,774.59 498.6,772.5 500.79,771.74 502.97,770.93 505.2,770.3 506.8,769.24 507.04,767.16 508.71,766.15 509.57,764.53 510.46,762.93 511.7,761.6 511.97,759.59 513.88,758.39 513.65,756.13 514.9,754.6 516,753 517.37,751.53 517.59,749.29 519.29,748.04 520.4,746.4 519.72,744.26 519.99,741.88 519.21,739.76" fill="#000" stroke="#000" stroke-width="2.6"/><polygon points="568,744 568.29,741.95 568.95,739.99 568.98,737.87 570,736 572.5,738 572.99,740.1 572.73,742.2 572.5,744.3 570.25,744.2" fill="#000" stroke="#000" stroke-width="2.6"/><polygon points="579,777 580.48,775.85 581.7,774.34 583.22,773.25 585,772.5 587.03,773.18 589,774 589.45,775.77 588.9,777.68 590.2,779.34 590,781.2 587.85,781.53 586.12,779.8 584,780 582.63,778.5 580.42,778.4" fill="#000" stroke="#000" stroke-width="2.6"/><polygon points="696,805 697.94,805.06 699.8,804.81 701.6,804.31 703.11,802.63 705.17,803.19 706.92,802.48 708.7,801.9 709.93,803.83 711.38,805.54 713.4,806.7 713.4,809.8 711.47,810.42 709.53,810.44 707.6,809.14 705.67,809.63 703.73,809.14 701.8,809.24 699.87,809.46 697.93,809.27 696,809.8 696.27,807.4" fill="#000" stroke="#000" stroke-width="2.6"/><polygon points="855.6,500 857.83,500.25 860.05,499.67 862.27,499.71 864.5,500 864.24,502.23 863.5,504.42 864,506.7 862,506.4 860,506.27 858,507.42 856,506.7 855.71,504.48 855.69,502.24" fill="#000" stroke="#000" stroke-width="2.6"/><polygon points="865.6,510 867.8,509.57 870,510 869.41,511.91 869.42,513.83 869.79,515.74 869.25,517.66 870.4,519.57 870.63,521.49 870,523.4 866.5,523.4 866.16,521.5 866.55,519.55 866.16,517.65 865.58,515.77 866.33,513.8 865.16,511.95" fill="#000" stroke="#000" stroke-width="2.6"/><polygon points="887.8,527.8 889.73,526.05 892.3,525.6 894.53,525.45 896.77,526.19 899,525.6 898.63,527.55 899.18,529.5 899.53,531.45 899,533.4 896.99,535 894.5,535.6 892.81,536.86 892.3,538.9 892.15,541.32 893.4,543.4 890.1,544.5 888.81,543.12 887.31,541.9 886.7,540 886.41,538.04 887.91,536.43 887.8,534.5 887.6,532.27 887.92,530.03" fill="#000" stroke="#000" stroke-width="2.6"/><polygon points="888.9,585.7 889.46,583.64 891.4,582.52 892.04,580.52 893.4,579 894.49,577.32 895.5,575.59 896.78,574.02 897.8,572.3 899.44,571.15 900.98,569.84 903.12,569.45 904.5,567.9 906.35,566.71 908.07,565.36 909.77,563.99 911.2,562.3 913,560.69 914.27,558.68 915.6,556.7 917.9,554.5 920.1,553.81 922.3,554.5 923.89,556.31 925.7,557.9 924,558.93 923.12,560.59 922.3,562.3 921.17,564.01 921.26,566.2 920.1,567.9 918.82,569.91 917.56,571.94 915.6,573.4 913.61,574.85 912.14,576.72 911.2,579 909.59,580.74 908.67,583.05 906.7,584.5 904.92,585.09 903.6,586.59 901.62,586.79 900.1,587.9 897.96,588.85 895.59,588.37 893.4,589 892.33,587.32 890.66,586.44" fill="#000" stroke="#000" stroke-width="2.6"/><polygon points="850.6,606.7 852.8,606.16 854.53,604.83 856.15,603.33 858,602.2 859.19,600.67 860.63,599.49 862.4,598.77 864,597.8 865.18,596.01 865.19,593.91 865.5,591.9 867.49,593.25 869.9,593.3 870.93,595.23 873.09,596.06 873.94,598.18 875.8,599.3 877.8,598.83 879.8,599.2 881.8,599.3 882.36,601.55 883.2,603.7 881.63,604.85 881.59,607.13 880.5,608.64 878.8,609.7 877.2,611.07 875.34,612.16 874.3,614.1 871.95,614.42 869.9,615.6 867.86,614.75 866.06,613.42 864,612.6 861.81,612.02 859.95,610.77 858,609.7 856.1,608.92 854.17,608.3 852.1,608.2" fill="#000" stroke="#000" stroke-width="2.6"/><polygon points="826.9,663 828.35,661.5 828.26,659.24 829.09,657.44 830.69,656.01 831.3,654.1 832.79,652.61 834.08,650.92 835.68,649.55 837.3,648.2 839.51,647.68 841.11,645.96 843.2,645.2 844.87,643.92 846.2,642.3 848.1,643.3 849.1,645.2 849.52,647.09 851.48,647.95 852.1,649.7 853.94,650.86 855.1,652.7 858,654.1 860.13,653.41 862.11,652.39 864,651.2 865.96,650.72 867.45,649.08 869.51,648.84 871.4,648.2 873.07,646.8 874.9,645.66 876.8,644.64 878.8,643.8 880.63,642.63 882.47,641.5 884.63,640.89 886.2,639.3 886.53,637.53 886.82,635.74 886.41,633.84 887.66,632.22 887.7,630.4 889.26,629.15 891.22,629.09 893.02,628.56 894.87,628.14 896.6,627.4 898.45,627.66 900.3,627.4 902.15,627.09 904,627.4 905.87,625.36 908.5,624.5 910.35,623.53 912.34,623.14 914.4,623 915.52,624.89 915.68,627.26 917.3,628.9 917.92,630.93 918.33,633 917.6,635.23 918.51,637.22 918.8,639.3 916.78,640.2 914.8,641.16 912.9,642.3 911.75,643.74 910.55,645.14 910.11,647.11 908.5,648.2 907.91,650.01 907.15,651.78 907.97,653.87 907,655.6 905.26,656.86 903.88,658.48 902.5,660.1 901.02,661.19 899.77,662.59 898.03,663.34 896.6,664.5 895.12,666.13 894.14,668.07 892.84,669.81 892.1,671.9 891.18,673.89 891.42,676.2 890.73,678.24 889.33,680.09 889.2,682.3 887.27,682.3 885.5,683.03 883.56,682.99 881.8,683.8 879.82,682.76 877.87,681.65 875.8,680.8 874.14,679.2 871.79,679.01 869.9,677.9 868.62,676.18 866.9,674.9 864.44,673.79 862.5,671.9 860.3,672.7 860.35,674.64 859.97,676.54 859.07,678.4 859.45,680.36 859.5,682.3 857.39,682.18 855.8,680.8 855.65,682.81 855.12,684.78 855.1,686.8 853.98,688.61 853.78,690.65 853.6,692.7 852.26,694.34 850.88,695.92 849.1,697.1 846.69,697.05 844.7,695.7 844.35,693.93 843.52,692.24 843.46,690.42 843.26,688.62 843.2,686.8 842.48,684.66 841.16,682.82 840.2,680.8 838.44,680.08 836.98,678.97 835.76,677.52 834.3,676.4 832.71,675.02 831.88,672.89 829.9,671.9 828.3,669.77 826.9,667.5 826.84,665.25" fill="#000" stroke="#000" stroke-width="2.6"/><polygon points="875,705 876.88,705.51 878.75,704.96 880.62,705.31 882.5,704.31 884.38,705.51 886.25,704.89 888.12,705.17 890,705 889.92,707.06 888.75,708.75 886.79,709.33 884.82,709.47 882.86,708.46 880.89,708.32 878.93,709.39 876.96,708.5 875,708.75 875.15,706.88" fill="#000" stroke="#000" stroke-width="2.6"/><polygon points="594.5,652.5 596.91,651.77 599.3,651 600.9,653.3 597.7,654.9 595.3,655.7" fill="#000" stroke="#000" stroke-width="2.6"/><polygon points="606.5,557.9 608.33,557.18 610.17,557.26 612,557.9 614.08,557.2 616.27,556.86 618.32,556.07 620.3,555.1 622.17,555.18 623.92,554.27 625.78,554.27 627.65,554.34 629.46,553.98 631.3,553.8 633.16,555.14 635.63,554.59 637.52,555.84 639.6,556.5 641.65,556.65 643.7,557.13 645.75,556.29 647.8,556.5 649.33,557.58 650.81,558.77 653.03,558.45 654.51,559.64 656.1,560.6 657.51,561.89 659.72,561.62 660.72,563.7 662.67,563.95 664.3,564.8 666.42,564.9 668.35,566.08 670.41,566.56 672.6,566.2 674.9,566.1 677.2,565.77 679.5,566.2 680.8,568.11 683.4,568.38 684.55,570.48 686.4,571.7 687.8,573.15 689.76,573.77 691.43,574.83 692.71,576.48 694.6,577.2 696.58,578.15 698.85,577.2 700.76,578.6 702.9,578.5 704.87,579.16 706.17,580.9 708.22,581.42 709.8,582.7 710.36,584.47 711.05,586.19 712.22,587.72 712.5,589.6 712.13,591.46 711.75,593.31 711.1,595.1 709.13,595.72 707.33,596.68 705.6,597.8 703.53,598.44 701.27,598.52 699.56,600.23 697.4,600.6 695.4,601.51 693.13,601.58 691.33,603.11 689.1,603.3 687.36,604.41 685.72,605.72 683.6,606.1 681.71,607.28 679.5,607.5 679.94,609.54 680.33,611.58 680.87,613.6 680.9,615.7 679.98,617.68 679.5,619.8 681.63,621.08 683.6,622.6 685.23,623.72 686.64,625.06 687.3,627.15 689.1,628.1 690.77,629.71 691.9,631.71 693.2,633.6 694.36,635.32 695.18,637.21 696,639.1 696.42,641.41 696.3,643.83 697.4,646 696.51,647.98 696.68,650.15 696.12,652.19 696,654.3 695.92,656.56 694.6,658.4 692.55,658.13 690.5,658.4 689.47,656.7 687.89,655.54 686.4,654.3 684.59,652.78 683.75,650.52 682.2,648.8 680.6,647.63 679.17,646.29 678.1,644.6 676.15,643.93 674.21,643.26 672.6,641.9 670.18,641.04 668.5,639.1 666.62,637.42 664.3,636.4 662.41,637.19 660.32,637.57 658.8,639.1 658.34,641.15 657.46,642.99 656.1,644.6 654.52,646.33 652.7,647.74 650.6,648.8 648.79,649.74 646.78,650.28 645.1,651.5 643.17,649.89 640.9,648.8 639.98,646.96 638.1,646.07 636.8,644.6 635.03,643.62 633.6,642.3 632.57,640.58 631.3,639.1 629.34,637.9 627.97,635.92 625.8,635 623.98,633.61 621.99,632.46 620.3,630.9 620.19,628.6 618.9,626.7 620.54,625.34 621.39,623.51 622.41,621.78 623,619.8 624.11,618.27 624.44,616.42 624.53,614.46 625.8,613 628.02,611.84 629.9,610.2 632.09,611.19 634.63,610.51 636.8,611.6 638.68,611.89 640.33,612.76 641.72,614.28 643.7,614.3 645.61,615.08 647.53,615.84 649.2,617.1 650.99,615.68 653.01,614.56 654.7,613 655.97,611.42 656.59,609.46 658.19,608.07 658.8,606.1 659.94,604.37 660.48,602.34 661.6,600.6 663.08,598.73 665.71,598.38 667.1,596.4 668.9,595.46 669.47,593.3 671.2,592.3 669.07,591.08 667.1,589.6 665.21,590.75 663,590.9 661.35,589.26 659.72,587.6 658.8,585.4 657.22,583.98 655,583.86 653.3,582.7 651.67,583.8 650.93,585.79 649.2,586.8 648.08,588.47 648.78,590.6 647.8,592.3 646.44,593.69 645.1,595.1 642.3,593.7 641.79,591.58 640.9,589.6 641.24,587.73 642.35,586.07 642.3,584.1 640.97,582.68 639.6,581.3 637.61,581.47 636.03,579.98 634.1,579.9 632.23,579.7 630.37,579.43 628.5,579.9 626.26,581.03 624.4,582.7 622.42,581.8 620.3,581.3 620.03,579.13 617.77,577.97 617.5,575.8 617.16,573.61 616.71,571.47 614.86,569.78 614.8,567.5 612.71,566.47 611.02,564.92 609.3,563.4 608.54,561.48 606.87,560.02" fill="#000" stroke="#000" stroke-width="2.6"/><polygon points="605.6,590.6 608,591.4 609.04,592.95 610.06,594.51 611.06,596.09 612,597.7 613.41,599.49 614.07,601.8 615.9,603.3 614.72,604.88 613.6,606.5 612.15,605.1 610.4,604.1 609.46,602.48 608.44,600.92 606.43,600.22 605.6,598.5 604.79,596.61 603.2,595.3 604.56,593.03" fill="#000" stroke="#000" stroke-width="2.6"/><polygon points="507.5,548.5 509.52,548.18 511.46,547.34 513.53,547.27 515.51,546.71 517.6,546.8 518.26,548.82 520.3,549.91 521,551.9 522.92,552.89 524.59,554.19 525.77,556.16 527.8,557 528.86,558.97 528.11,561.31 529.74,563.17 529.5,565.4 530.56,567.26 532.42,568.52 533.22,570.58 534.6,572.2 534.6,575.6 532.48,576.77 530.18,577.18 527.8,577.3 526.86,575.35 525.82,573.47 524.48,571.82 522.7,570.5 519.97,570.18 517.6,568.8 517.15,566.5 516.13,564.35 515.9,562 514.1,560.43 512.06,559.11 510.8,557 510.53,555.15 509.6,553.55 508.45,552.04 507.89,550.3" fill="#000" stroke="#000" stroke-width="2.6"/><polygon points="563.5,600.9 564.84,599.45 566.42,598.34 568.3,597.7 571.5,597.7 571.91,599.85 571.89,602.11 573,604.1 573.52,606.47 573.13,608.83 573,611.2 571.4,612.75 569.9,614.4 568.1,612.87 565.9,612 563.5,609.6 563.25,607.22 562.7,604.9 562.39,602.76" fill="#000" stroke="#000" stroke-width="2.6"/><polygon points="575.4,600.9 577.75,601.58 580.2,601.7 583.4,603.3 585.65,604.54 587.3,606.5 587.51,608.49 588.1,610.4 585,611.2 581.8,612 579.3,612.5 577,613.6 576.15,611.22 575.4,608.8 575.05,606.44 574.6,604.1" fill="#000" stroke="#000" stroke-width="2.6"/><polygon points="577,620.8 579.28,619.7 581.8,620 583.4,622.3 582.16,623.98 580.2,624.7 578.93,626.25 577.8,627.9 576.27,629.25 575.4,631.1 573.42,631.33 571.5,631.9 570.7,629.5 571.89,627.93 573,626.3 576.2,624.7 576.24,622.68" fill="#000" stroke="#000" stroke-width="2.6"/><polygon points="586.5,648.6 588.54,647.99 589.7,646.2 591.6,647.11 593.7,647 595.73,646.26 597.7,645.4 600.1,646.2 599.3,649.4 596.9,649.77 594.5,650.2 592.22,651.31 589.7,651 587.3,652.5 587.56,650.41" fill="#000" stroke="#000" stroke-width="2.6"/><polygon points="535.6,683.4 537.09,682.08 539.29,682.69 540.97,681.9 542.82,681.53 544.3,680.2 546.16,680.54 548.05,680.75 549.69,681.85 551.52,682.28 553.21,683.17 555.1,683.4 554.65,685.67 556.18,687.68 556.66,689.83 556.2,692.1 555.02,693.86 553.3,695.18 552.24,697.05 550.8,698.6 549.91,696.84 548.95,695.11 546.97,694.08 546.4,692.1 544.25,691.81 542.1,692.1 539.91,691.04 537.7,690 537.54,687.63 536.92,685.4" fill="#000" stroke="#000" stroke-width="2.6"/><polygon points="712.5,510 714.55,509.41 715.94,507.51 718.29,507.51 720,506.25 722.36,506.39 723.93,508.52 726.25,508.75 725.69,510.62 725.82,512.5 726.64,514.38 726.25,516.25 724.36,516.64 723.45,518.67 721.86,519.57 720,520 718.16,519.51 716.66,518.36 715,517.5 713.86,515.8 714.02,513.66 713.12,511.88" fill="#000" stroke="#000" stroke-width="2.6"/><polygon points="789.8,630.4 791.38,629.41 792.53,627.83 794.35,627.17 795.8,626 797.44,624.97 799.23,624.41 801.07,623.99 802.94,623.65 804.7,623 806.81,622.28 808.9,621.52 810.6,620 812.53,621.07 814.73,621.61 816.5,623 818.37,623.28 820.35,623.03 822.02,624.29 823.9,624.5 825.75,624.92 827.6,624.55 829.45,625.2 831.3,624.5 833.03,626.04 835.09,626.88 837.3,627.4 836.56,629.65 835.8,631.9 833.31,631.94 831.3,633.4 830.3,635.35 829.18,637.24 828.4,639.3 827.51,641.17 828.02,643.39 826.9,645.2 824.76,644.14 822.4,643.8 821.83,641.92 823.06,640.05 821.91,638.17 822.4,636.3 820.01,636.2 818,634.9 816.21,635.57 814.29,635.56 812.42,635.81 810.6,636.3 808.92,637.86 806.57,638.11 804.7,639.3 802.98,640.14 801.44,641.2 800.2,642.67 798.7,643.8 796.62,645.43 794.3,646.7 793.35,644.71 792.66,642.59 791.3,640.8 790.61,638.78 791.35,636.55 790.34,634.57 789.38,632.58" fill="#000" stroke="#000" stroke-width="2.6"/><polygon points="790,657.5 790.52,659.33 791.39,660.97 792.5,662.5 790.39,663.4 788.75,665 789.56,663.21 788.72,661.14 789.12,659.28" fill="#000" stroke="#000" stroke-width="2.6"/><polygon points="791.3,672 792.8,670.9 794.59,670.19 795.55,668.39 797.2,667.5 798.93,666.4 801.08,667.41 802.95,667.02 804.7,666 806.38,667.56 808.72,667.82 810.6,669 809.91,671.22 809.1,673.4 807.22,673.62 805.37,674.01 803.4,673.79 801.7,674.9 799.5,675.41 797.71,676.61 796.28,678.42 794.3,679.3 792.28,678.38 791.3,676.4 790.83,674.2" fill="#000" stroke="#000" stroke-width="2.6"/><polygon points="849.1,642.3 850.63,641.15 850.72,639.05 852.1,637.8 853.6,639.3 853.34,641.33 852.88,643.3 852.1,645.2 849.5,646 849.61,644.12" fill="#000" stroke="#000" stroke-width="2.6"/><polygon points="849.1,654.1 851.25,654.27 853.2,653.61 855.1,652.7 857.31,653.36 859.5,654.1 858.77,656.22 857.73,658.18 856.6,660.1 854.27,660.61 852.1,661.6 850.9,659.4 849.9,657.1" fill="#000" stroke="#000" stroke-width="2.6"/><polygon points="840.2,686.8 842.4,686.2 844.19,684.78 846.2,683.8 846.09,685.92 847.48,687.66 847.7,689.7 846.05,691.37 845.15,693.42 844.7,695.7 842.85,695.8 841,695.7 840.65,693.49 840.62,691.25 840.79,688.99" fill="#000" stroke="#000" stroke-width="2.6"/><polygon points="800,700 801.88,699.46 803.75,699.96 805.62,700.55 807.5,700 807.32,701.96 807.78,703.81 808.76,705.57 808.75,707.5 806.63,707.15 804.69,706.05 802.5,706 801.01,704.27 800.37,702.19" fill="#000" stroke="#000" stroke-width="2.6"/><polygon points="830,717.5 832.56,717.16 835,718 835.95,719.78 836.58,721.74 837.36,723.62 839,725 837.93,726.88 836.68,728.61 835,730 832.5,729.66 830,730 829.91,727.92 829.89,725.83 829.74,723.75 830.49,721.67 829.42,719.58" fill="#000" stroke="#000" stroke-width="2.6"/><polygon points="798.9,700.6 800.83,700.46 802.81,700.59 804.49,698.99 806.39,698.67 808.4,699 809.15,700.9 808.95,703 809.5,704.94 810,706.9 808.1,706.66 806.2,706.79 804.3,706.9 802.4,707.39 800.5,706.9 800.38,704.7 799.87,702.59" fill="#000" stroke="#000" stroke-width="2.6"/><polygon points="849.1,608.2 850.99,607.87 852.78,608.08 854.55,608.43 856.1,610.13 858,609.7 859.86,610.22 861.37,611.45 863.28,611.87 864.89,612.9 866.25,614.41 868.27,614.62 869.9,615.6 871.4,618.6 870.35,620.52 868.58,621.72 866.9,623 864.86,623.23 862.89,623.69 861,624.5 859.21,623.14 857.03,622.57 855.1,621.5 853.22,619.48 850.6,618.6 850.58,616.48 850.05,614.43 849.59,612.38 849.53,610.26" fill="#000" stroke="#000" stroke-width="2.6"/><polygon points="876.7,561.2 878.06,559.67 880,559 882.41,558.75 884.52,557.63 886.7,556.7 888.9,556.7 890.67,557.75 892.3,559 893.59,557.64 893.96,555.61 895.6,554.5 894.5,551.2 896.48,551.42 898.14,549.99 900.1,550.1 902.42,550.44 904.42,548.9 906.7,549 908.24,547.92 909.94,547.05 911.2,545.6 913.31,544.71 915.6,544.5 917.85,544.46 920.05,543.93 922.33,544.13 924.5,543.4 923.25,544.95 922.3,546.7 919.79,547.25 917.9,549 917.02,550.84 915.6,552.3 913.4,554.5 911.94,556.38 910.1,557.9 909.62,560.41 907.9,562.3 906.31,564.07 904.5,565.6 902.61,567.35 900.1,567.9 897.54,568.36 895.6,570.1 893.27,569.87 891.11,570.69 888.9,571.2 886.7,571.48 884.5,570.84 882.3,571.2 880.12,570.36 877.8,570.1 877.05,567.93 877.47,565.62 876.44,563.49" fill="#000" stroke="#000" stroke-width="2.6"/><polygon points="880,534.5 881.89,533.94 882.91,532.18 884.5,531.2 886.6,530.24 888.9,530 890.2,527.88 891.2,525.6 893.34,524.88 895.6,524.84 897.8,524.5 898.23,526.47 899.83,527.96 900.1,530 902.3,528.9 904.66,528.55 906.6,526.92 909,526.7 912.3,525.6 913.07,527.77 912.58,530.14 913.4,532.3 911.06,533.13 909,534.5 907.1,534.7 905.31,535.44 903.4,535.6 901.53,535.7 899.67,536 897.8,535.6 895.57,536.04 893.4,536.7 891.39,537.26 890.1,538.9 887.72,538.87 885.6,537.8 882.3,538.9 880.95,536.8" fill="#000" stroke="#000" stroke-width="2.6"/><polygon points="855.6,518.9 857.93,518.06 860,516.7 861.82,517.29 863.64,517.93 865.6,517.8 866.13,520 868.36,521.2 868.9,523.4 867.39,524.44 865.96,525.6 864.5,526.7 862.39,526.81 860.53,527.57 858.9,528.9 857.65,527.2 855.6,526.7 855.79,524.75 855.03,522.8 855.56,520.85" fill="#000" stroke="#000" stroke-width="2.6"/><polygon points="828.5,480.8 830.33,479.77 832.39,479.33 834.3,478.5 836.39,478.31 838.31,478.91 840.2,479.7 838.95,481.23 839,483.2 837.1,483.75 835.16,484.05 833.2,484.3 831.29,484.43 829.7,485.5 829.4,483.07" fill="#000" stroke="#000" stroke-width="2.6"/><polygon points="828.5,493.7 830.16,492.82 832,492.5 832.32,494.53 833.34,496.2 834.05,498.04 835.5,499.5 833.2,501.8 831.13,501.14 829.7,499.5 829.29,497.57 829.11,495.59" fill="#000" stroke="#000" stroke-width="2.6"/><polygon points="875.2,490.2 877.08,489.98 878.7,489 879.76,490.65 881.05,492.12 882.2,493.7 880.86,495.47 878.7,496 876.3,493.7 876.33,491.77" fill="#000" stroke="#000" stroke-width="2.6"/><polygon points="722.5,520 724.14,518.38 726,517 727.96,517.55 730,517.5 731.63,518.3 733.07,519.39 734.83,520 735.69,521.97 737.5,522.5 738.13,524.37 738.17,526.44 739.1,528.22 740,530 740.77,531.83 741.69,533.6 742.54,535.4 742.5,537.5 743.2,539.2 744.82,540.29 745.59,541.94 746.42,543.56 747.5,545 748.28,547.02 749.55,548.67 751.25,550 750.68,552.15 750.38,554.34 750.03,556.52 750,558.75 748.3,557.45 746.04,557.29 744.22,556.25 742.5,555 741.41,553.09 739.77,551.73 737.8,550.7 736.52,548.98 735,547.5 733.66,546.07 732.21,544.74 731.25,543 729.74,541.71 728.75,540 728.43,537.84 727.64,535.85 726.79,533.89 725.27,532.18 725,530 724.36,528.03 723.29,526.18 723.1,524.1 722.34,522.16" fill="#000" stroke="#000" stroke-width="2.6"/><polygon points="694.6,606.1 696.67,605.05 697.96,602.96 700.1,602 701.88,601.04 703.77,600.25 705.16,598.67 707,597.8 709.11,598.31 711.1,599.2 710.86,601.37 711.07,603.47 712.65,605.34 712.5,607.5 711.45,609.26 710.56,611.1 709.8,613 708,613.58 705.98,613.23 704.3,614.3 702.2,614.29 700.1,614.3 698.87,616.23 697.9,618.36 696,619.8 695.3,617.85 693.5,616.46 693.2,614.3 693.19,612.19 693.96,610.21 694.11,608.13" fill="#000" stroke="#000" stroke-width="2.6"/><polygon points="730,583 731,584.64 731.64,586.44 732.27,588.24 733,590 734.35,591.37 734.97,593.13 735.84,594.76 737.03,596.22 737.03,598.31 738,599.88 738.47,601.73 740,603 740.91,604.85 742.6,606.14 743.15,608.25 744.77,609.59 745.51,611.56 747,613 745.06,613.67 743.26,614.58 741.8,616.09 740,617 738.66,615.45 737.26,613.95 736.98,611.66 735.9,609.94 733.68,609.01 733,607 731.99,605.36 731.25,603.61 730.66,601.79 729.94,600.03 729.53,598.13 728.91,596.32 728.15,594.58 727,593 728.18,591.17 727.73,588.86 729.17,587.11 729.98,585.17" fill="#000" stroke="#000" stroke-width="2.6"/><polygon points="750,573 752.33,573.04 754.67,572.69 757,573 757.01,575.6 758,578 755.83,577.82 753.95,578.79 751.95,579.28 750,580 749.9,577.67 749.68,575.33" fill="#000" stroke="#000" stroke-width="2.6"/><polygon points="780.9,615.6 782.78,615.3 784.31,613.95 786.15,613.52 787.97,613.05 789.8,612.6 791.46,611.57 793.34,611.87 795.13,611.64 796.93,611.45 798.7,611.1 800.63,610.99 802.17,609.65 803.84,608.73 805.85,608.88 807.6,608.2 809.58,607.62 811.58,607.12 813.6,606.7 814.12,608.61 815.81,609.65 816.55,611.39 818,612.6 817.45,614.4 815.93,615.56 815,617.1 813.15,617.13 811.3,617.32 809.45,617.2 807.6,617.1 805.75,616.59 803.9,617.59 802.05,616.39 800.2,617.1 797.95,617.06 796.23,618.94 793.9,618.63 791.92,619.57 789.8,620 787.95,620.41 786.1,619.29 784.25,620.62 782.4,620 781.36,617.9" fill="#000" stroke="#000" stroke-width="2.6"/><polygon points="625.8,652.9 627.37,651.18 629.91,650.76 631.3,648.8 633.07,650.58 635.4,651.5 634.48,653.22 633.89,655.01 634.1,657 632.35,657.94 630.54,658.61 628.5,658.4 627.99,656.37 626.72,654.72" fill="#000" stroke="#000" stroke-width="2.6"/><polygon points="620,687 620.65,685.02 620.65,682.83 622.08,681.08 622.5,679.03 623,677 625,677.16 627,676.54 629,677.22 631,677.33 633,677 633.01,679.08 633.59,681.04 633.51,683.14 634.64,684.99 635,687 633,687.25 630.92,686.83 629.04,688.04 627,688 624.61,688.07 622.4,686.87" fill="#000" stroke="#000" stroke-width="2.6"/><polygon points="685,667 687,667.14 689,666.63 691,666.36 693,667 692.97,669.05 692.9,671.09 692,673 690.2,672.26 688.95,670.89 687.92,669.26 686.77,667.77" fill="#000" stroke="#000" stroke-width="2.6"/><polygon points="658,710 657.86,707.84 659.32,706.08 659.05,703.89 660,702 661.98,702.38 664.02,702.21 665.96,702.99 668.01,702.67 670,703 668.94,704.65 669.14,706.71 668.51,708.5 666.98,709.99 667,712 665.07,712.19 663.55,710.51 661.6,710.8 659.81,710.36" fill="#000" stroke="#000" stroke-width="2.6"/><polygon points="673,698 674.65,698.84 676.66,698.45 678.05,700.2 680,700 679.69,701.8 678.73,703.42 678.53,705.26 678,707 677.16,705.11 675.86,703.48 674.74,701.75 673.49,700.08" fill="#000" stroke="#000" stroke-width="2.6"/></mask></defs>
<polygon points="213,222 215.3,221.76 217.62,221.8 219.97,222.3 222.23,221.32 224.54,221.24 226.86,221.23 229.12,220.36 231.46,220.79 233.78,220.85 236.11,220.99 238.34,219.58 240.67,219.8 243,220 245.68,220.32 247.59,222.51 250.07,223.32 252.92,223.24 255,225 255.46,222.27 255.03,219.67 254.07,217.16 253.61,214.57 253,212 254.36,209.76 255.98,207.78 258.44,206.64 259.64,204.24 262,203 262.62,200.73 263.82,198.77 264.59,196.59 266.39,194.97 267.46,192.95 269.21,191.3 269.81,189.02 271.11,187.12 272,185 273.83,186.33 275.49,187.9 277.55,188.94 279.57,190.01 280.64,192.39 283,193 285.31,193.89 287.62,193.61 289.92,193.37 292.23,192.67 294.54,192.51 296.85,192.62 299.15,192.23 301.46,193.48 303.77,192.82 306.08,193.62 308.38,192.8 310.69,193.82 313,193 314.11,190.97 313.12,188.46 314.5,186.5 314.23,184.06 315.73,181.81 315.2,179.34 316.36,177.06 315.57,174.56 316,172.2 317.13,169.5 319.65,167.88 321.2,165.5 323.78,166.35 326.5,166.2 329.45,165.44 332.5,165.5 333.7,163.21 335.75,161.76 337.7,160.2 338.54,157.95 337.7,155.7 340,152.7 344,152.5 347.5,155 351,153.5 355,154 354.79,156.4 355.5,158.7 352.7,160 354.73,161.4 356.05,163.38 357.2,165.5 355,168.5 357.28,169.21 359.2,170.45 360.32,172.84 362.5,173.7 364.33,175.49 365.09,177.96 366.6,179.95 368.33,181.8 369.2,184.2 371.51,184.26 373.7,183.5 376.28,184.22 378.07,186.32 380.8,186.8 382.7,188.7 384.15,190.7 385.79,192.57 387.02,194.7 388,197 388.21,199.81 390,202 389.84,204.34 391.1,206.44 390.44,208.86 392.01,210.91 392.06,213.22 391.62,215.6 392.37,217.79 393,220 393.02,222.43 390.82,224.19 391.49,226.81 390.75,229.01 389.2,230.97 389.29,233.42 388.68,235.66 388.4,238 387,240 388.68,242.12 388.86,244.86 390.43,247.02 390.83,249.67 392,252 394.32,252.53 396.53,253.42 398.49,255.03 401.01,254.97 403.21,255.88 405.29,257.13 407.93,256.71 410,258 412.41,257.79 414.47,259.52 416.8,259.76 419.28,259.16 421.6,259.45 423.73,260.82 425.96,261.58 428.49,260.66 430.56,262.4 433,262 434.6,263.99 436.89,265.01 439.08,266.17 441.41,267.13 443.48,268.47 444.52,271.25 447,272 449.29,273.23 450.77,275.49 453.27,276.46 454.64,278.86 457,280 457.03,282.61 457.77,285.17 458.18,287.76 457.4,290.43 458,293 459.94,294.58 460.98,296.74 461.77,299.06 462.61,301.34 464.26,303.11 466.05,304.79 467,307 466.88,309.4 468.71,311.26 469.64,313.37 469.8,315.69 470,318 472.51,318.07 475.05,317.54 477.54,317.92 480.02,318.43 482.49,318.96 485,319 487.4,318.57 489.69,319.22 491.93,320.4 494.25,320.79 496.64,320.45 498.97,320.74 501.32,320.78 503.73,320.22 506.08,320.27 508.42,320.47 510.59,322.3 512.96,322.16 515.25,322.86 517.75,321.41 520,322.5 522.48,322.96 525,322.9 527.46,323.56 530.03,323.03 532.42,324.47 535.07,323.02 537.5,324 539.73,324.58 541.91,325.42 544.09,326.2 546.41,326.42 548.67,326.86 550.89,327.52 553.09,328.23 555.56,327.74 557.68,328.83 560,329 561.38,331.28 563.29,332.99 565.73,334.14 567.5,336 569.53,337.1 571.66,337.83 573.97,337.93 576.11,338.62 578.39,338.8 580.46,339.74 582.61,340.39 585.03,340.07 586.93,341.64 588.93,342.86 591.15,343.26 593.39,343.6 595.72,343.61 597.72,344.81 600,345 602.53,344.64 605,344 607.24,345.16 609.07,347.03 611.93,347.1 613.75,349 616.23,348.09 617.83,345.67 620.59,345.26 622.73,343.77 625,342.5 626.96,341.16 629.42,341.04 631.43,339.82 633.65,339.12 636.01,338.73 637.69,336.74 639.66,335.44 642.01,335.03 644.41,334.76 646.22,333.08 648.34,332.13 651,332.46 652.97,331.16 655,330 657.31,329.72 659.7,330.35 661.94,329.15 664.31,329.58 666.57,328.57 668.92,328.8 671.29,329.3 673.63,329.31 675.95,329.08 678.2,328.01 680.55,328.18 682.83,327.53 685.13,327.03 687.5,327.5 689.64,326.42 692.06,325.9 694.21,324.85 696.24,323.55 698.58,322.87 700.18,320.71 702.5,320 703.66,317.82 705.65,316.37 707.02,314.37 708.55,312.51 710.42,310.97 712.31,309.44 713.75,307.5 715.62,305.83 717.28,303.92 719.78,302.96 721.83,301.48 723.07,299.1 725,297.5 723.09,295.81 721.78,293.77 721.83,290.9 719.29,289.59 719.07,286.89 717.5,285 717.54,282.5 716.99,280.01 717.77,277.48 716.3,275.03 716.43,272.52 717,270 718.96,268.93 720.62,267.23 723,267 725.33,268.32 728.14,268.05 730.69,268.63 733,270 735.29,268.77 737.9,269.37 740.27,268.62 742.75,268.52 745.19,268.13 747.67,267.97 750,267 752.54,266.46 754.42,264.79 756.1,262.78 758.48,261.96 760.33,260.25 762.3,258.74 764.85,258.21 767,257 769.38,256.8 771.43,255.3 773.76,254.89 776.08,254.44 778.51,254.49 780.72,253.61 783,253 784.44,251.3 785.92,249.63 786.66,247.44 788.52,246.03 789.96,244.33 790.03,241.66 792.55,240.72 793.51,238.68 793.91,236.25 795.66,234.77 797,233 798.99,231.75 801.16,230.73 802.44,228.54 804.5,227.38 806.7,226.4 808.47,224.85 810,223 812.35,223.14 814.23,221.69 816.45,221.39 818.35,219.99 820.74,220.26 822.91,219.8 824.95,218.87 827,218 829.31,218.25 831.54,217.2 833.9,218.29 836.2,218.29 838.48,218.14 840.72,217.21 843,217 843.52,214.5 842.68,212 843.74,209.5 843,207 841.79,204.88 839.47,203.86 837.47,202.53 836.26,200.41 834.73,198.6 833,197 831.06,195.41 828.66,194.69 826.1,194.25 824.6,191.84 821.79,191.86 820,190 817.39,189.97 815.12,191.58 812.56,191.79 810,192 807.65,192.35 805.9,194.27 803.73,195.09 801.32,195.31 799.02,195.79 797,197 794.54,196.53 792.12,196.95 789.67,196.63 787.29,197.58 784.81,196.91 782.47,198.6 780,198 777.95,196.32 776.7,193.97 775,192 775.03,189.54 776.21,187.27 776.45,184.84 776.64,182.41 777,180 778.35,178.14 778.64,175.88 778.99,173.65 779.88,171.62 781.43,169.83 782.29,167.79 781.89,165.28 783.75,163.6 784.71,161.6 784.73,159.25 785.58,157.2 785.73,154.89 787,153 789.24,152.4 791.45,151.67 793.72,151.18 795.64,149.52 798.35,150.48 800.34,149.03 802.5,148.16 804.93,148.19 807,147 809.54,146.11 811.99,144.99 814.63,144.32 817,143 817.53,140.6 819.46,139.04 820.47,136.92 822.51,135.42 823,133 824.12,130.75 823.32,128.21 824.04,125.9 823.79,123.44 824.7,121.16 825.74,118.9 826.26,116.56 825.87,114.08 825.95,111.68 826.09,109.28 827,107 827.95,104.56 829.23,102.22 828.61,99.31 830,97 831.81,95.29 832.1,92.51 833.75,90.68 835.2,88.72 837,87 834.91,85.46 832.34,84.78 830.12,83.48 828,82 828.71,79.8 828.31,77.35 829.91,75.34 830,73 831.65,71.22 834.01,70.62 835.77,69.01 837.72,67.73 840,67 842.35,66.39 844.64,65.56 847,65 848.87,63.42 850.91,62.07 853.03,60.84 854.65,58.9 857,58 859.19,57.05 861.61,57.38 863.9,56.96 866.15,56.34 868.55,56.48 870.75,55.63 873,55 875.16,55.86 877.49,54.97 879.62,56.1 881.83,56.45 884.04,56.83 886.37,56 888.59,56.22 890.7,57.53 893,57 895.29,57.27 896.95,59.35 899.14,59.91 901.72,59.38 903.78,60.31 905.61,61.88 908.02,61.84 910,63 912.18,64.15 912.91,66.76 915.1,67.9 916.3,70.04 918.81,70.86 920,73 921.16,74.92 921.7,77.15 923.78,78.61 924.48,80.76 924.71,83.15 925.34,85.33 927,87 927.07,89.46 929.36,91.03 929.56,93.43 930,95.74 931.28,97.72 931.83,99.98 933,102 935.66,103.21 938.12,104.7 940,107 941.65,109 942.76,111.24 942.91,113.89 943.98,116.15 944.89,118.48 946.58,120.46 947,123 949.37,123.3 951.52,124.17 953.28,126.07 955.35,127.16 957.56,127.88 960,128 962.39,127.13 964.81,126.93 967.33,128.38 969.71,127.36 972.17,127.76 974.55,126.83 977,127 979.03,128.15 980.99,129.42 983.06,130.49 984.91,131.96 987,133 989.5,133.68 990.79,136.1 992.64,137.71 995.33,138.13 997,140 998.27,141.96 999.03,144.22 1000.75,145.91 1002.27,147.72 1003,150 1005.35,150.91 1006.99,152.82 1009.5,153.49 1010.59,156.18 1013,157 1015.24,156.49 1017.16,155.33 1019.29,154.58 1021.1,153.21 1022.92,151.85 1025.08,151.16 1027,150 1028.51,148.26 1030.66,147.07 1031.92,145.11 1033,143 1034.9,141.37 1037.63,141.14 1039.6,139.63 1041.75,138.43 1043.91,137.24 1045.66,135.35 1048.24,134.87 1050,133 1052.52,132.25 1054.52,130.63 1056.75,129.41 1058.92,128.07 1060.74,126.19 1063,125 1063.63,127.65 1065,130 1065.33,132.56 1064.42,134.91 1063.77,137.3 1064.15,139.87 1063.11,142.19 1062.18,144.53 1062,147 1061.78,149.36 1062.48,151.73 1061.2,154.09 1061.7,156.45 1062.29,158.82 1061.71,161.18 1061.87,163.55 1061.94,165.91 1062.2,168.27 1061.1,170.64 1062,173 1061.3,175.17 1060.76,177.37 1060.2,179.57 1059.37,181.72 1060.62,184.28 1059.13,186.29 1058.47,188.47 1058.87,190.86 1058,193 1058.01,195.35 1058.47,197.72 1058.05,200.04 1057.56,202.35 1057.89,204.72 1057,207 1054.67,207.45 1052.33,206.27 1050,206.91 1047.67,206.99 1045.33,206.16 1043,207 1041.25,208.58 1039.04,209.7 1037.82,211.82 1035.94,213.27 1035.21,215.87 1033,217 1031.84,218.92 1030.58,220.79 1030,223 1031.23,225.29 1030.09,227.99 1031.89,230.18 1031.76,232.71 1032.73,235.04 1032.58,237.57 1033,240 1033.65,242.24 1035.41,244.05 1034.75,246.79 1036.47,248.62 1037.12,250.85 1038,253 1037.66,255.32 1037.91,257.68 1037.88,260.03 1037.05,262.31 1037.06,264.66 1037,267 1035.99,269.22 1034.01,270.78 1033,273 1030,270 1027.81,271.34 1025.68,272.8 1023,273 1021.85,275.05 1020.62,277.04 1018.97,278.65 1017,280 1015.21,281.58 1014.3,283.84 1012.15,285.14 1010.93,287.16 1010.5,289.78 1007.73,290.61 1007,293 1004.2,293.26 1002.29,295.71 999.23,295.32 997,297 998.12,299.62 999.04,302.32 1000,305 997.66,304.4 995.55,305.96 993.25,305.71 990.91,305.22 988.71,305.85 986.51,306.56 984.15,305.89 981.94,306.43 979.73,307.06 977.5,307.5 976.43,309.55 974.22,310.47 972.87,312.24 971.63,314.13 970.26,315.88 968.09,316.84 967.04,318.92 965,320 964.38,322.18 963.28,324.19 962.93,326.45 962.55,328.71 961.29,330.67 960.85,332.9 960,335 957.98,336.31 956.63,338.29 954.37,339.37 952.76,341.09 951.37,343.04 950,345 948.94,347.08 947.69,349.01 945.16,349.92 943.89,351.82 942.68,353.79 941.63,355.87 940,357.5 938.25,359.33 935.8,360.23 933.93,361.91 931.9,363.37 930,365 928.55,366.74 927.12,368.5 926.71,370.93 925,372.5 922.61,373.56 919.79,372.91 917.32,373.65 915,375 912.7,375.39 911.37,377.74 909.35,378.71 907.18,379.37 905,380 903.2,381.36 901.13,382.32 899.77,384.35 897.5,385 896.6,387.48 896.56,390.24 895,392.5 893.46,390.24 893.63,387.4 892.5,385 893.58,383.04 894.71,381.11 895.3,378.9 896.47,376.98 897.5,375 896.37,372.63 895.98,370.07 896.05,367.39 895,365 897.31,363.56 898.21,360.71 900.14,358.89 902.5,357.5 903.66,355.13 903.97,352.55 904.84,350.12 905,347.5 902.28,346.8 899.94,345.29 897.5,344 895.04,344.68 892.44,343.94 890.02,344.98 887.5,345 885.47,346.02 883.26,346.77 882.05,349.01 880,350 878.06,351.81 875.94,353.44 873.84,355.09 872.5,357.5 870.72,359.47 868.92,361.42 867.39,363.64 865,365 863.19,366.5 863.13,369.17 861.87,371.04 860,372.5 858.65,374.31 857.52,376.27 855.97,377.94 855,380 854.32,382.16 852.56,383.78 852.68,386.34 851.46,388.23 850,390 847.96,391.01 846.67,393.13 844.57,394.04 842.5,395 840.91,396.65 839.71,398.56 839.08,400.84 837.5,402.5 837.28,405.2 836.08,407.58 835,410 836.38,411.95 838.5,413.16 840,415 842.19,413.13 845,412.5 847.38,413.69 849.96,414.28 852.5,415 854.76,416.55 857.25,417.42 860,417.5 860.63,419.79 862.59,421.19 863.3,423.43 865,425 864.5,427.61 863.64,430.1 862.5,432.5 864.96,431.7 867.69,432.01 870.17,431.31 872.5,430 874.12,428.37 876.11,427.29 877.99,426.05 880,425 881.7,422.95 883.62,421.12 885.48,419.23 887.5,417.5 890,416.95 892.5,417.61 895,418.03 897.5,417.57 900,417.5 902.35,418.71 904.97,418.86 907.64,418.81 910,420 912.55,420.21 915.07,420.18 917.46,418.86 920,419 922.67,418.66 925,420 925.31,422.5 925.59,425.01 926,427.5 924.89,429.95 924,432.5 921.53,432.32 919.43,433.49 917.1,433.85 915,435 912.75,436.58 909.97,436.59 907.5,437.5 905.34,438.32 904.17,440.62 902.29,441.88 900,442.5 898.76,444.87 897.65,447.27 897.5,450 896.04,451.87 893.62,452.3 892.23,454.28 890,455 888.75,457.36 888.08,459.92 887.5,462.5 885.95,464.7 884.11,466.61 881.54,467.79 880,470 878.31,471.64 876.33,473 875,475 873.91,476.98 872.74,478.91 870.55,480.16 870,482.5 870.54,485.1 871.68,487.5 872.5,490 874.34,491.31 876.03,492.83 877.92,494.06 880,495 881.46,496.87 883.84,497.37 885.3,499.24 887.5,500 888.76,502.18 889.99,504.38 891.56,506.33 893.02,508.36 895,510 896.17,512.16 897.75,513.92 899.82,515.18 901.64,516.7 903.07,518.6 905,520 905.8,522.18 907.62,523.67 908.87,525.55 910,527.5 912.12,528.72 913.03,531.14 914.38,533.12 916.83,534.01 918.76,535.41 920,537.5 922.17,537.83 922.73,539.77 924.4,540.6 925,542.5 924.11,544.9 928.28,543.92 928.2,545.78 929.74,546.56 928.62,549.11 930,550 930.39,552.11 933.5,551.5 935.11,552.39 935,555 934.32,556.35 933.03,557.29 931,557.75 933.36,561.13 932.27,562.21 930,562.5 932.23,562.77 933.38,564.12 934.57,565.43 935,567.5 935.57,569.43 937.21,570.29 939.61,570.39 940,572.5 938.67,574.26 936.9,574.27 935.35,575.15 933.06,573.07 931.87,575.39 930,575 928.6,576.1 926.51,576.51 926.31,578.81 925,580 926.92,579.39 927.92,582.49 929.56,583.02 931.84,580.99 933.28,582.29 935,582.5 935.86,584.91 938.02,583.43 939.89,582.84 941.63,582.62 942.5,585 941.13,587.12 942.24,588.42 944.48,589.34 944.38,591.04 945,592.5 945.43,594.02 946.94,595.19 944.45,597.68 946.34,598.72 947.5,600 947.82,601.94 948,603.82 945.46,604.34 945.15,605.97 942.76,606.56 942.37,608.15 942.5,610 941.63,611.55 943.13,613.7 942.71,615.37 941.59,616.86 941.44,618.59 940,620 938.96,622.01 940.93,623.02 940.93,624.69 939.94,626.69 942.5,627.5 942.52,629.32 940.71,629.92 941.28,632.1 938.18,631.84 940.16,634.97 937.5,635 935.52,635.8 934.71,637.18 934.09,638.65 936.29,641.54 934.83,642.6 932.36,643.15 932.5,645 933.37,647.22 931.15,647.9 930.48,649.35 927.85,649.82 928.59,651.97 926.81,652.87 927.5,655 927.56,656.82 924.93,657.29 925.68,659.45 923,659.89 925.54,662.95 921.93,662.93 922.5,665 922.93,667 920.9,667.77 920.26,669.24 920.99,671.39 917.62,671.49 918.96,673.94 917.5,675 917.89,676.87 918.48,678.79 917.08,680.21 915.97,681.7 914.5,683.1 915,685 914.84,686.7 912.84,687.49 914.41,690.06 912.56,690.92 911.58,692.22 908.88,692.65 910,695 909.74,697.65 910.38,700.18 911.85,702.62 911.3,705.3 909.87,707.04 907.87,708.2 906.88,710.38 904.89,711.55 903.44,713.27 901.8,714.8 900.85,717.01 898.02,717.35 896.69,719.18 895.87,721.52 893.78,722.59 892.62,724.59 890.93,726.07 889.2,727.5 887.57,729.03 886.29,730.92 884.66,732.46 883,733.97 881.07,735.2 879.7,737 878.15,738.71 876.39,740.15 874.01,740.74 872.63,742.67 870.15,743.14 868.75,745.05 867,746.5 864.94,747.53 863.55,749.46 861.2,750.1 860.18,752.52 858.32,753.8 856.55,755.23 854.3,756 852.31,757.1 850.47,758.41 849.25,760.53 847.21,761.57 844.93,762.3 843.4,764.01 841.7,765.5 839.91,767.21 837.69,768.04 835.62,769.2 833.53,770.31 831.19,770.9 829,771.8 826.65,773.19 823.74,772.35 821.41,773.85 818.83,774.34 816.3,775 813.84,775.55 811.4,776.14 808.99,776.85 806.8,778.2 805.01,779.63 803.17,780.97 801.19,782.11 799.68,783.97 797.3,784.5 795.99,786.7 794.08,788.49 792.21,790.3 791.03,792.6 790,795 787.85,795.92 785.9,797.16 784.44,799.25 782.15,799.93 780.14,801.08 778,802 775.45,802.23 773.14,803.69 770.54,803.72 768,804 765.8,804.28 763.53,804.09 761.32,804.32 759.17,805 757,805.5 754.7,806.51 752.12,805.83 749.68,805.98 747.39,807.01 745,807.5 741,808.5 740.59,810.83 739.67,813 739.62,815.43 737.97,817.39 736.83,819.5 737,822 736.47,824.16 735.62,826.25 734.91,828.36 735.53,830.79 733.72,832.65 734,835 731.78,835.28 729.79,836.53 727.67,837.23 725.44,837.45 723.14,837.37 721,838 719.25,835.75 716.78,834.22 715,832 715.77,829.71 714.75,827.43 714.93,825.14 714.32,822.86 715.85,820.57 714.34,818.29 715,816 714.69,812.77 713,810 710.9,808.29 708.7,806.7 706.29,807.37 703.92,808.15 701.71,809.43 699.2,809.8 696.93,809.06 694.66,808.91 692.39,809.23 690.11,809.62 687.84,810.48 685.57,809.22 683.3,809.8 680.97,809.73 678.92,808.21 676.44,808.93 674.3,807.9 672.13,807 669.65,807.7 667.5,806.7 664.94,806.19 662.23,806.6 659.64,806.26 657.2,805 654.72,804.05 653.35,801.4 650.7,800.7 651.04,798.38 650.1,796.32 649.04,794.29 649.24,792 648.5,789.9 647.42,787.5 645.46,785.68 644.2,783.4 642.1,782.15 640.1,780.71 637.28,780.88 635.5,779 633.49,777.76 632.21,775.79 630.17,774.58 629,772.5 626.77,771.96 624.71,770.91 622.5,770.3 620.59,771.92 618.13,772.47 616.17,773.98 613.8,774.7 611.57,775.67 609.58,777.12 607.16,777.7 605.1,779 603.13,780.36 600.67,779.8 598.73,781.27 596.4,781.2 594.25,782.9 593.32,785.43 592,787.7 589.83,786.67 587.63,785.69 585.65,784.28 583.4,783.4 581.15,783.59 578.94,784 576.77,784.53 574.7,785.5 572.53,786.07 570.13,785.74 568.03,786.56 566,787.7 563.27,787.06 560.55,787.86 557.83,787.82 555.1,787.7 552.87,788.67 550.43,789.2 548.55,790.88 546.4,792 544.24,793.43 542.2,795.03 540,796.4 539.82,798.72 541.36,800.62 542.35,802.66 542.1,805 542.07,807.43 542.12,809.84 542.79,812.16 543.39,814.49 543.49,816.9 544.3,819.2 541.54,819.27 538.87,818.48 536.05,819.15 533.4,818.1 531.7,816.23 531.11,813.79 530.1,811.57 529,809.4 526.77,808.84 524.41,808.7 522.5,807.2 520.27,807.3 518.17,808.03 516.11,808.98 513.93,809.3 511.7,809.4 509.43,808.09 507.1,806.86 505.2,805 503.9,803.04 504.82,800.52 504.36,798.34 503,796.4 500.45,795.67 497.91,794.87 495.18,795.22 492.69,794.1 490,794.2 490.22,791.88 491.82,790 492.1,787.7 492.95,785.57 494.25,783.6 493.62,780.97 495.53,779.2 495.13,776.65 496.5,774.7 494.36,773.9 492.43,772.46 490,772.5 487.72,771.52 486.38,769.58 484.8,767.88 483.4,766 482.56,763.9 481.56,761.84 482.48,759.3 481.8,757.16 480.53,755.17 479.92,753.01 479.79,750.74 479.1,748.6 476.38,749.42 473.65,749.44 470.93,747.88 468.2,748.6 466.14,749.59 463.88,749.92 461.49,749.83 459.31,750.42 457.4,751.9 457.88,749.44 457.93,746.89 458.61,744.47 459.5,742.1 460.69,740.07 461.08,737.88 460.28,735.45 461.86,733.5 461.7,731.2 462.54,728.91 463.81,726.83 464.4,724.41 466,722.5 468.24,721.25 470.15,719.65 470.9,716.9 473.21,715.71 474.8,713.8 475.57,711.64 477.83,710.46 477.81,707.78 479.12,705.98 481.28,704.74 481.89,702.47 483.4,700.8 484.43,698.4 484.69,695.91 484.72,693.39 484.01,690.77 485.32,688.42 486.07,685.98 485.6,683.4 485.06,680.82 483.97,678.33 483.79,675.68 483.5,673.06 483.4,670.4 482.68,668 480.77,666.17 479.68,663.95 478.7,661.67 478.33,659.11 477,657 475.55,655.01 473.25,653.97 471.79,651.98 470.26,650.08 468,649 464.95,649.85 462,651 460.87,653.07 459.27,654.73 456.92,655.75 456,658 453.92,656.25 451.28,655.33 449.39,653.29 447,652 444.78,652.74 442.56,651.13 440.33,652.11 438.11,651.95 435.89,651.94 433.67,652.82 431.44,651.82 429.22,652.39 427,652 424.82,653.26 422.15,653.15 420.25,655.2 417.8,655.7 415.18,655.73 413,657 411,658.26 408.81,659.04 406.47,659.42 404.54,660.86 401.91,660.5 400,662 397.61,662.73 396.8,665.52 394.47,666.34 392.3,667.36 390.84,669.31 388.39,669.96 387,672 384.67,672.5 382.45,673.56 379.98,673.4 377.61,673.74 375.39,674.75 373,675 370.81,674.49 368.61,674.05 366.34,674.3 364.11,674.1 361.95,673.27 359.7,673.34 357.45,673.41 355.3,672.41 353,673 351.93,670.97 352.49,668.55 350.91,666.64 351.19,664.29 350.04,662.27 350,660 348.74,657.88 348.1,655.43 346.95,653.26 345.79,651.08 343.75,649.39 343,647 340.49,646.02 337.81,645.47 335.55,643.87 333,643 330.71,642.57 328.27,642.96 326.17,641.54 323.93,640.91 321.6,640.73 319.41,639.77 317,640 314.67,641 312.25,641.47 309.87,642.14 307.29,641.72 304.88,642.26 302.45,642.67 300,643 298.64,644.97 296.29,645.95 295.54,648.54 292.81,649.15 291.58,651.25 290,653 289.58,650.82 289.51,648.55 288.04,646.61 287.38,644.48 287.17,642.24 287,640 284.66,640.48 282.51,639.66 280.37,638.78 278.12,638.62 275.83,638.75 273.69,637.84 271.33,638.4 269.31,636.76 267,637 264.65,636.67 262.58,635.66 260.39,634.94 258.63,633.18 256.6,632.07 254.45,631.27 251.82,631.61 250,630 247.81,629.27 245.66,628.48 243.43,627.85 241.82,625.72 239.06,626.39 237.24,624.77 235.3,623.44 233,623 231.68,620.88 228.9,620.65 227.38,618.78 225.84,616.94 223.21,616.51 221.57,614.8 220,613 218.87,610.88 216.29,610.21 214.99,608.26 213.24,606.76 211.78,604.97 209.71,603.79 208.03,602.22 207,600 206.33,597.49 204.59,595.73 203.15,593.76 201,592.28 200,590 197.49,589.41 195.37,587.91 193,587 191.13,585.72 189.88,583.85 188.96,581.66 186.69,580.77 185.12,579.2 184.43,576.8 182.41,575.66 180.14,574.77 179.07,572.72 177.86,570.81 175.56,569.95 174.4,568 173.32,565.96 172.01,564.15 170,563 167.78,562.46 165.61,561.56 163.24,561.94 160.97,561.69 158.85,560.52 156.46,560.96 154.33,559.88 152,560 150.05,558.69 148.63,556.86 146.84,555.39 145.73,553.27 143.64,552.08 142.11,550.37 140.54,548.69 139.29,546.71 137.5,545.24 136.1,543.4 135.23,541.06 133,540 131.39,538.44 129.78,536.87 127.29,536.53 125.68,534.97 123.55,534.12 122.4,531.92 120.26,531.1 118.36,529.93 116.29,529 115,527 114.56,524.7 114.84,522.44 115.21,520.19 116.29,517.98 116.05,515.69 115.38,513.38 115.68,511.12 115.44,508.83 116.98,506.65 116.08,504.32 116.94,502.09 117,499.82 117.46,497.58 116,495.22 117,493 119.26,493.36 121.39,494.13 123.72,494.28 125.46,496.32 127.93,496.03 130,497 130.36,494.66 129.78,492.37 128.82,490.11 129.31,487.76 128.9,485.46 128.42,483.17 128.5,480.85 129.17,478.49 128.03,476.23 128.41,473.89 128.49,471.57 128.58,469.25 127.72,466.97 128.62,464.6 127.69,462.34 128,460 130.57,458.66 132.84,456.91 135,455 132.95,453.85 131.42,452.18 129.92,450.48 128.87,448.33 127,447 126.63,444.82 126.4,442.62 127.06,440.34 125.71,438.24 125.63,436.03 125.52,433.83 125.09,431.65 124.58,429.47 124.35,427.28 125,425 122.93,424.06 120.75,423.46 118.75,422.33 116.7,421.33 114.17,421.77 112.24,420.42 110,420 108.57,417.96 105.91,417.52 104.54,415.4 102.63,413.98 101.05,412.13 99.07,410.81 96.49,410.27 95.03,408.25 93,407 92.16,404.63 92.67,402.21 92.51,399.81 91.81,397.43 92.29,395.01 92.09,392.61 92.29,390.2 91.8,387.82 91.49,385.43 92,383 90.22,381.69 88.64,380.14 86.61,379.12 85.53,377 83.36,376.13 81.52,374.89 80.15,373.1 78.58,371.55 77,370 79.03,368.79 81.44,368.94 83.7,368.55 85.83,367.69 88,367 87.9,364.74 86.25,362.81 86.44,360.49 85.94,358.32 84.96,356.25 85.1,353.94 84.03,351.89 84.36,349.55 84.06,347.33 83.4,345.19 83,343 81.15,341.2 79.45,339.28 77.53,337.54 76.39,335.17 75,333 75.71,330.7 75.12,328.4 74.57,326.1 75.3,323.8 74.43,321.5 74.94,319.2 75.21,316.9 75.82,314.6 74.75,312.3 75,310 75.56,307.52 76.64,305.13 76.76,302.58 76.7,300 78.66,301.45 80.74,302.69 83.01,303.61 85,305 87.18,304.19 89.33,303.28 91.84,303.57 94.09,302.99 96.05,301.46 98.55,301.71 100.32,299.54 102.59,299.04 105,299 107.5,299.18 110.02,298.99 112.52,299.25 114.94,300.52 117.54,299.2 120,300 122.5,301.04 124.65,302.6 126.38,304.77 128.75,306 130.46,304.38 132.21,302.81 134.68,302.42 136.51,300.98 138.32,299.53 140.53,298.7 142.5,297.5 144.82,297.56 147.09,297.17 149.4,297.1 151.68,296.78 154.01,297.05 156.33,297.09 158.51,295.74 160.81,295.56 163.19,296.32 165.39,295.08 167.74,295.6 170,295 172.25,294.84 174.41,294.33 176.69,294.31 178.8,293.57 180.7,291.9 183.05,292.21 185.16,291.48 187.36,291.11 189.45,290.27 191.58,289.62 193.93,289.94 196.01,289.06 198.06,288.04 200.23,287.56 202.5,287.5 202.69,284.94 202.93,282.39 204.02,280 203.84,277.37 205,275 206.29,272.96 208.09,271.54 209.91,270.16 212.37,269.57 213.49,267.31 215.66,266.36 217.5,265 217.99,262.69 217.47,260.38 216.89,258.08 218.16,255.77 218.17,253.46 216.7,251.15 217.06,248.85 217.51,246.54 218.03,244.23 217.31,241.92 217.89,239.62 217.05,237.31 217.5,235 217.12,232.71 215.71,230.77 214.97,228.6 214.94,226.18 214.33,223.96" fill="none" stroke="#5a5a5a" stroke-width="1.2" mask="url(#mo)"/>
<polygon points="949.3,699 960.4,700.6 962,711.7 958.8,727.5 955.7,743.3 952.5,759.2 951,775 947.7,775 939.8,765.5 931.9,752.8 928.7,740.2 931.9,724.3 939.8,711.7 944.6,702.2" fill="none" stroke="#5a5a5a" stroke-width="1"/>
<g fill="#f2f2f2" stroke="#444" stroke-width="0.8"><ellipse cx="848" cy="808" rx="1.4" ry="1.6"/><ellipse cx="867" cy="814.5" rx="2" ry="1.3"/><ellipse cx="917.7" cy="741.5" rx="1.3" ry="2"/></g>
<g fill="#555"><circle cx="787.8" cy="851" r="0.8"/><circle cx="806.8" cy="854" r="0.8"/><circle cx="965" cy="772" r="0.8"/><circle cx="915.5" cy="745" r="0.6"/></g>
<polygon points="869.52,752.37 868.44,752.94 867.6,753.44 866.98,752.29 867.51,751.38 868.94,751.34" fill="#f2f2f2" stroke="#5a5a5a" stroke-width="0.7"/>
<polygon points="979.47,313.06 978.41,314.7 976.73,313.48 978.25,312.51" fill="#f2f2f2" stroke="#5a5a5a" stroke-width="0.7"/>
<polygon points="850.34,767.58 849.52,769.15 847.48,768.81 847.59,767.63 849.42,767.12" fill="#f2f2f2" stroke="#5a5a5a" stroke-width="0.7"/>
<polygon points="957.64,342.7 956.93,343.98 955.23,344.22 954.99,342.59 955.61,341.59 957.05,342.04" fill="#f2f2f2" stroke="#5a5a5a" stroke-width="0.7"/>
<polygon points="879.1,744.91 878.27,746.09 876.87,745.84 877.1,744.86 877.89,744.5" fill="#f2f2f2" stroke="#5a5a5a" stroke-width="0.7"/>
<polygon points="747.14,809.59 746.91,810.12 746.37,809.94 745.96,809.74 746.06,809.05 746.99,809.18" fill="#f2f2f2" stroke="#5a5a5a" stroke-width="0.7"/>
<polygon points="914.79,699.08 913.59,700.78 911.67,699.91 911.2,698.71 913.59,698.52" fill="#f2f2f2" stroke="#5a5a5a" stroke-width="0.7"/>
<polygon points="769.43,809.7 768.87,810.61 767.75,810.21 767.74,809.49 768.78,809.05" fill="#f2f2f2" stroke="#5a5a5a" stroke-width="0.7"/>
<polygon points="931.64,375.9 931.02,376.29 929.64,376.6 929.23,375.81 929.44,374.69 931.24,374.96" fill="#f2f2f2" stroke="#5a5a5a" stroke-width="0.7"/>
<polygon points="914.48,379.18 912.07,380.56 910.3,379.16 912.45,377.48" fill="#f2f2f2" stroke="#5a5a5a" stroke-width="0.7"/>
<polygon points="819.67,779.12 818.53,780.44 816.34,779.1 817.86,778.22" fill="#f2f2f2" stroke="#5a5a5a" stroke-width="0.7"/>
<polygon points="758.28,809.42 757.44,810.33 756.52,810.07 756.47,809 757.38,808.79" fill="#f2f2f2" stroke="#5a5a5a" stroke-width="0.7"/>
<polygon points="972.83,318.92 972.53,319.68 971.64,319.46 971.24,319 971.16,318.26 972.35,318.27" fill="#f2f2f2" stroke="#5a5a5a" stroke-width="0.7"/>
<polygon points="891.91,730.62 891.7,731.97 888.95,731.89 888.32,730.94 889.68,729.56 891.08,729.79" fill="#f2f2f2" stroke="#5a5a5a" stroke-width="0.7"/>
<polygon points="968.79,325.32 968.39,326.23 967.46,325.82 967.19,324.82 968.48,324.36" fill="#f2f2f2" stroke="#5a5a5a" stroke-width="0.7"/>
<polygon points="797.64,796.45 796.44,797.37 794.88,796.3 796.36,795.54" fill="#f2f2f2" stroke="#5a5a5a" stroke-width="0.7"/>
<polygon points="915.6,710.82 914.94,712.65 912.98,712.61 912.33,711.1 913.7,709.74 914.53,710.23" fill="#f2f2f2" stroke="#5a5a5a" stroke-width="0.7"/>
<polygon points="880.75,742.74 879.98,743.54 878.54,743.4 878.46,742.37 879.97,742.35" fill="#f2f2f2" stroke="#5a5a5a" stroke-width="0.7"/>
<polygon points="754.72,812.44 753.56,813.54 752.25,812.27 753.55,811.67" fill="#f2f2f2" stroke="#5a5a5a" stroke-width="0.7"/>
<polygon points="978.76,310.65 978.6,311.88 977.6,311.48 976.75,310.62 977.49,310.1 978.35,309.68" fill="#f2f2f2" stroke="#5a5a5a" stroke-width="0.7"/>
<polygon points="779.13,806.08 778.88,807.77 777,806.7 777.38,806.09 778.43,805.59" fill="#f2f2f2" stroke="#5a5a5a" stroke-width="0.7"/>
<polygon points="900.26,722.58 900.04,723.2 898.47,723.47 898.73,722.27 899.88,721.84" fill="#f2f2f2" stroke="#5a5a5a" stroke-width="0.7"/>
<polygon points="867.24,751.33 866.67,751.78 865.63,751.72 865.83,750.82 866.4,750.71" fill="#f2f2f2" stroke="#5a5a5a" stroke-width="0.7"/>
<polygon points="987.55,309.08 987.23,309.52 986.15,309.23 986.24,308.77 986.96,308.24" fill="#f2f2f2" stroke="#5a5a5a" stroke-width="0.7"/>
<polygon points="963.78,335.48 962.61,336.07 962.2,335.43 962.76,334.65" fill="#f2f2f2" stroke="#5a5a5a" stroke-width="0.7"/>
<polygon points="815.17,779.02 814.61,779.47 812.9,779.01 814.24,778.19" fill="#f2f2f2" stroke="#5a5a5a" stroke-width="0.7"/>
<polygon points="834.7,774.87 834.06,775.57 833.38,774.96 834.02,774.49" fill="#f2f2f2" stroke="#5a5a5a" stroke-width="0.7"/>
<polygon points="802.53,787.07 800.76,788.25 800.1,788.42 798.97,787.67 799.71,786.75 801.02,786.32" fill="#f2f2f2" stroke="#5a5a5a" stroke-width="0.7"/>
<polygon points="892.89,727.53 891.94,728.63 890.84,727.76 891.82,727.13" fill="#f2f2f2" stroke="#5a5a5a" stroke-width="0.7"/>
<polygon points="997.09,310.77 995.91,311.59 994.74,310.99 996.29,309.13" fill="#f2f2f2" stroke="#5a5a5a" stroke-width="0.7"/>
<polygon points="854.79,759.71 854,760.49 852.6,760 854.23,758.77" fill="#f2f2f2" stroke="#5a5a5a" stroke-width="0.7"/>
<polygon points="882.18,740.59 881.8,741.32 880.53,741.29 879.76,740.73 880.11,739.53 881.48,739.45" fill="#f2f2f2" stroke="#5a5a5a" stroke-width="0.7"/>
<polygon points="802.92,785.58 802.58,786.14 801.71,786.28 801.16,785.86 801.38,785.15 802.43,785.22" fill="#f2f2f2" stroke="#5a5a5a" stroke-width="0.7"/>
<polygon points="946.26,358.23 945.03,358.61 944.55,358.02 945.4,357.7" fill="#f2f2f2" stroke="#5a5a5a" stroke-width="0.7"/>
<polygon points="908.43,717.61 907.18,718.88 905.94,717.86 907.32,716.95" fill="#f2f2f2" stroke="#5a5a5a" stroke-width="0.7"/>
<polygon points="902.6,719.08 902.32,719.88 901.24,719.2 902.22,718.3" fill="#f2f2f2" stroke="#5a5a5a" stroke-width="0.7"/>
<polygon points="809.87,780.98 809.72,781.33 808.95,781.36 808.69,780.89 808.89,780.38 809.35,780.63" fill="#f2f2f2" stroke="#5a5a5a" stroke-width="0.7"/>
<polygon points="761.25,806.59 760.4,808.05 759.03,806.52 760.04,805.62" fill="#f2f2f2" stroke="#5a5a5a" stroke-width="0.7"/>
<polygon points="827.87,777.81 826.13,778.62 824.57,778.11 824.6,777.04 826.12,776.55" fill="#f2f2f2" stroke="#5a5a5a" stroke-width="0.7"/>
<polygon points="785.45,805.42 784.21,806.76 783.17,806.34 783.26,804.96 783.94,804.78" fill="#f2f2f2" stroke="#5a5a5a" stroke-width="0.7"/>
<polygon points="859.32,759.03 858.56,759.84 857.43,759.61 856.91,758.61 856.94,757.95 858.18,757.99" fill="#f2f2f2" stroke="#5a5a5a" stroke-width="0.7"/>
<polygon points="861.99,757.39 861.27,757.99 859.19,757.29 861.12,755.58" fill="#f2f2f2" stroke="#5a5a5a" stroke-width="0.7"/>
<polygon points="999.63,300.13 999.02,300.98 998.16,300.57 998.41,299.64 998.92,299.92" fill="#f2f2f2" stroke="#5a5a5a" stroke-width="0.7"/>
<polygon points="950.64,351.43 949.66,351.78 948.33,351.82 948.43,351.38 948.99,350.18 949.81,350.65" fill="#f2f2f2" stroke="#5a5a5a" stroke-width="0.7"/>
<polygon points="746.87,812.59 746.39,813.41 745.69,813.07 745.78,812.38 746.34,812.07" fill="#f2f2f2" stroke="#5a5a5a" stroke-width="0.7"/>
<polygon points="949.46,595.12 949.3,595.78 948.6,595.89 947.92,595.34 948.44,595 949.31,594.82" fill="#f2f2f2" stroke="#5a5a5a" stroke-width="0.7"/>
<polygon points="940.36,579.43 939.89,580.31 939.35,579.75 939.5,579.29 940.27,579.03" fill="#f2f2f2" stroke="#5a5a5a" stroke-width="0.7"/>
<polygon points="939.17,568.33 937.83,569.93 936.81,570.24 935.83,568.65 936.58,567.94 938.1,567.81" fill="#f2f2f2" stroke="#5a5a5a" stroke-width="0.7"/>
<polygon points="934.97,644.04 934.59,644.77 933.61,644.66 933.74,643.98 933.94,643.23 934.53,643.3" fill="#f2f2f2" stroke="#5a5a5a" stroke-width="0.7"/>
<polygon points="944.11,619.87 943.72,620.1 942.71,620.6 942.15,619.84 942.58,619.07 943.7,618.82" fill="#f2f2f2" stroke="#5a5a5a" stroke-width="0.7"/>
<polygon points="932.68,545.61 932.06,546.04 931.37,545.77 931.39,545.33 931.82,545.29" fill="#f2f2f2" stroke="#5a5a5a" stroke-width="0.7"/>
<polygon points="950.5,592.47 949.7,592.75 948.69,592.3 949.7,591.38" fill="#f2f2f2" stroke="#5a5a5a" stroke-width="0.7"/>
<polygon points="940.7,578.78 940.47,579.45 939.62,579.69 938.99,579.04 939.41,578.39 940.17,578.5" fill="#f2f2f2" stroke="#5a5a5a" stroke-width="0.7"/>
<polygon points="943.16,619.8 942.62,620.51 942.01,620.31 941.76,620.02 942.14,619.67 942.62,619.55" fill="#f2f2f2" stroke="#5a5a5a" stroke-width="0.7"/>
<polygon points="931.33,543.29 930.41,544.23 929.2,543.98 929.54,543.22 930.39,543.03" fill="#f2f2f2" stroke="#5a5a5a" stroke-width="0.7"/>
<polygon points="934.41,579 933.73,579.83 932.55,579.12 933.28,577.65" fill="#f2f2f2" stroke="#5a5a5a" stroke-width="0.7"/>
<polygon points="948.16,593.19 946.56,594.77 945.29,593.49 947.1,592.52" fill="#f2f2f2" stroke="#5a5a5a" stroke-width="0.7"/>
<polygon points="946.76,606.96 946.65,607.74 945.56,607.6 945.13,607.27 945.73,605.95 947,606.22" fill="#f2f2f2" stroke="#5a5a5a" stroke-width="0.7"/>
<polygon points="915.02,689.73 913.94,690.67 913.44,689.92 914.44,689.1" fill="#f2f2f2" stroke="#5a5a5a" stroke-width="0.7"/>
<polygon points="928.71,579.51 928.3,579.9 927.71,579.86 927.58,578.95 928.29,578.99" fill="#f2f2f2" stroke="#5a5a5a" stroke-width="0.7"/>
<polygon points="926.57,537.65 926.09,538.43 924.81,538.16 924.49,537.65 924.69,537.23 926.1,537.14" fill="#f2f2f2" stroke="#5a5a5a" stroke-width="0.7"/>
<polygon points="921.88,675.44 921.12,676.17 920.57,675.78 919.99,675.57 920.5,674.92 921.28,675.25" fill="#f2f2f2" stroke="#5a5a5a" stroke-width="0.7"/>
<polygon points="949.25,607.41 947.14,609.27 945.99,607.9 947.37,606.78" fill="#f2f2f2" stroke="#5a5a5a" stroke-width="0.7"/>
<polygon points="941.84,567.49 940.33,568.46 938.44,567.3 939.7,565.62" fill="#f2f2f2" stroke="#5a5a5a" stroke-width="0.7"/>
<polygon points="949.66,590.07 948.72,590.82 948.05,589.77 948.84,589.22" fill="#f2f2f2" stroke="#5a5a5a" stroke-width="0.7"/>
<polygon points="914.36,691.28 914.14,691.52 913.72,691.78 913.01,691.27 913.55,690.96 914.1,690.71" fill="#f2f2f2" stroke="#5a5a5a" stroke-width="0.7"/>
<polygon points="946.38,619.26 945.75,620.35 944.46,621.03 943.15,619.92 944.08,618.31 945.46,618.95" fill="#f2f2f2" stroke="#5a5a5a" stroke-width="0.7"/>
<polygon points="931.06,544.53 930.65,545.15 929.47,544.81 930.39,543.88" fill="#f2f2f2" stroke="#5a5a5a" stroke-width="0.7"/>
<polygon points="920.24,680.1 920.32,680.49 919.54,680.65 919.29,680.12 919.52,679.77 920.15,679.6" fill="#f2f2f2" stroke="#5a5a5a" stroke-width="0.7"/>
<polygon points="938.4,564.73 938.31,565.29 936.58,565.5 935.77,564.91 937.06,563.8 937.95,563.7" fill="#f2f2f2" stroke="#5a5a5a" stroke-width="0.7"/>
<polygon points="948.59,583.76 948.05,584.27 947.49,584.38 946.98,583.72 947.15,583.34 947.98,583.59" fill="#f2f2f2" stroke="#5a5a5a" stroke-width="0.7"/>
<polygon points="936.44,551.12 935.74,552.22 934.41,551.07 935.78,549.59" fill="#f2f2f2" stroke="#5a5a5a" stroke-width="0.7"/>
<polygon points="919.98,689.13 918.94,690.11 917.92,689.78 917.45,688.87 919.5,688.69" fill="#f2f2f2" stroke="#5a5a5a" stroke-width="0.7"/>
<polygon points="948.9,603.12 947.91,604.38 947.36,603.88 946.49,603.22 947.22,602.34 948.08,601.93" fill="#f2f2f2" stroke="#5a5a5a" stroke-width="0.7"/>
<polygon points="927.79,577.35 926.87,577.94 925.32,577.84 925.32,576.68 927.18,575.78" fill="#f2f2f2" stroke="#5a5a5a" stroke-width="0.7"/>
<polygon points="938.47,638.22 937.66,638.46 937.17,638.08 937.77,637.72" fill="#f2f2f2" stroke="#5a5a5a" stroke-width="0.7"/>
<polygon points="927.65,661.52 926.72,662.39 925.46,661.46 926.49,661.21" fill="#f2f2f2" stroke="#5a5a5a" stroke-width="0.7"/>
<polygon points="935.5,563.69 935.24,564.82 933.54,564.62 932.71,563.77 934.2,563.03 935.05,562.7" fill="#f2f2f2" stroke="#5a5a5a" stroke-width="0.7"/>
<polygon points="937.97,573.52 936.89,574.4 935.49,573.59 936.38,572.61" fill="#f2f2f2" stroke="#5a5a5a" stroke-width="0.7"/>
<polygon points="921.98,676.6 921.18,677.12 920.71,676.66 921.27,676.1" fill="#f2f2f2" stroke="#5a5a5a" stroke-width="0.7"/>
<polygon points="925.5,534.93 925.05,535.62 924.31,535.6 924.24,534.94 924.35,534.65 924.89,534.52" fill="#f2f2f2" stroke="#5a5a5a" stroke-width="0.7"/>
<polygon points="953.65,598.22 951.68,598.77 950.25,598 951.94,597.43" fill="#f2f2f2" stroke="#5a5a5a" stroke-width="0.7"/>
<polygon points="927.69,577.27 927.06,578.15 925.97,577.71 924.92,577.06 925.89,575.67 927.12,576.52" fill="#f2f2f2" stroke="#5a5a5a" stroke-width="0.7"/>
<polygon points="949.18,587.69 947.86,588.67 946.9,587.68 947.74,587.28" fill="#f2f2f2" stroke="#5a5a5a" stroke-width="0.7"/>
<polygon points="931.64,544.96 931.03,545.66 930.07,545.09 930.82,544.39" fill="#f2f2f2" stroke="#5a5a5a" stroke-width="0.7"/>
<polygon points="933.27,577.29 931.9,578.47 930.78,578.1 930.2,576.82 932.69,576.14" fill="#f2f2f2" stroke="#5a5a5a" stroke-width="0.7"/>
<polygon points="937.09,577.38 936.62,578.81 935.1,578.29 934.65,577.36 934.64,576.77 936.47,576.49" fill="#f2f2f2" stroke="#5a5a5a" stroke-width="0.7"/>
<polygon points="939.14,577.2 937.96,578.8 935.56,578.43 935.54,576.83 937.47,576.63" fill="#f2f2f2" stroke="#5a5a5a" stroke-width="0.7"/>
<polygon points="934.76,579.18 934.11,580.65 932.35,579.95 932.21,578.42 933.71,578.39" fill="#f2f2f2" stroke="#5a5a5a" stroke-width="0.7"/>
<polygon points="936.85,565.29 936.33,566.48 934.68,565.68 934.37,564.34 936.04,564.15" fill="#f2f2f2" stroke="#5a5a5a" stroke-width="0.7"/>
<polygon points="922.72,679.27 921.57,679.67 920.73,679.18 921.65,678.79" fill="#f2f2f2" stroke="#5a5a5a" stroke-width="0.7"/>
<polygon points="940.93,579.8 939.94,580.33 939.16,579.83 939.93,579.28" fill="#f2f2f2" stroke="#5a5a5a" stroke-width="0.7"/>
<polygon points="934.35,562.72 932.7,563.59 931.76,562.34 933,561.89" fill="#f2f2f2" stroke="#5a5a5a" stroke-width="0.7"/>
<polygon points="933.17,546.78 933,547.6 931.34,547.99 931.17,546.97 931.87,546.06 933.58,545.91" fill="#f2f2f2" stroke="#5a5a5a" stroke-width="0.7"/>
<polygon points="938.87,574.79 938.35,575.17 937.85,574.77 938.5,574.14" fill="#f2f2f2" stroke="#5a5a5a" stroke-width="0.7"/>
<polygon points="938.81,577.6 937.91,578.59 936.61,577.5 938.07,576.24" fill="#f2f2f2" stroke="#5a5a5a" stroke-width="0.7"/>
<polygon points="929.59,578.68 927.95,580.24 926.25,578.97 927.7,577.14" fill="#f2f2f2" stroke="#5a5a5a" stroke-width="0.7"/>
<polygon points="930.63,580.85 930.08,581.43 928.98,581.03 930.06,580.2" fill="#f2f2f2" stroke="#5a5a5a" stroke-width="0.7"/>
<polygon points="944.24,623.32 943.54,624.14 942.38,623.27 943.53,622.64" fill="#f2f2f2" stroke="#5a5a5a" stroke-width="0.7"/>
<polygon points="939.97,641.76 939.05,642.46 937.84,642.49 937.32,641.84 937.86,641.07 938.93,640.55" fill="#f2f2f2" stroke="#5a5a5a" stroke-width="0.7"/>
<polygon points="934.38,564.69 934.04,565.18 933.58,565.28 933.34,564.72 933.62,564.37 934.28,564.12" fill="#f2f2f2" stroke="#5a5a5a" stroke-width="0.7"/>
<polygon points="937.55,564.47 937.02,564.83 936.36,564.69 936.01,564.44 936.66,563.93 937.15,563.7" fill="#f2f2f2" stroke="#5a5a5a" stroke-width="0.7"/>
<polygon points="939.01,559.29 938.3,560.49 936.98,559.75 937.19,558.76 938.13,558.23" fill="#f2f2f2" stroke="#5a5a5a" stroke-width="0.7"/>
<polygon points="922.02,680.78 921.22,681.27 920.39,680.93 921.25,680.41" fill="#f2f2f2" stroke="#5a5a5a" stroke-width="0.7"/>
<polygon points="917.13,692.31 916.19,693.59 915.3,692.4 916.13,691.74" fill="#f2f2f2" stroke="#5a5a5a" stroke-width="0.7"/>
<polygon points="931.83,578.38 930.78,579.9 928.85,579.62 929.27,577.82 930.27,577.31" fill="#f2f2f2" stroke="#5a5a5a" stroke-width="0.7"/>
<polygon points="949.06,625.5 947.91,626.37 946.87,626.99 946.45,625.41 946.75,624.46 947.97,624.42" fill="#f2f2f2" stroke="#5a5a5a" stroke-width="0.7"/>
<polygon points="940.75,565.53 940.48,566.21 939.08,566.77 938.09,565.37 939.49,564.19 940.85,564.3" fill="#f2f2f2" stroke="#5a5a5a" stroke-width="0.7"/>
<polygon points="931.09,577.35 930.33,577.9 929.74,577.71 929.69,577.01 930.29,576.68" fill="#f2f2f2" stroke="#5a5a5a" stroke-width="0.7"/>
<polygon points="941.45,580.92 941.11,581.24 940.24,581.29 940.28,580.77 940.38,580.5 941.1,580.35" fill="#f2f2f2" stroke="#5a5a5a" stroke-width="0.7"/>
<polygon points="922.76,671.01 921.92,671.66 921.22,671.49 921.06,670.6 922.16,670.3" fill="#f2f2f2" stroke="#5a5a5a" stroke-width="0.7"/>
<polygon points="931.05,542.38 930.42,543.3 929.38,542.68 929.44,541.92 930.4,541.83" fill="#f2f2f2" stroke="#5a5a5a" stroke-width="0.7"/>
<polygon points="930.38,663.44 929.26,664.49 927.36,663.34 929.33,661.61" fill="#f2f2f2" stroke="#5a5a5a" stroke-width="0.7"/>
<polygon points="951.22,604.07 950.06,605.12 948.87,604.21 950.48,603.4" fill="#f2f2f2" stroke="#5a5a5a" stroke-width="0.7"/>
<polygon points="948.51,585.51 948.32,586.55 946.16,586.02 946.31,584.25 948.4,584.21" fill="#f2f2f2" stroke="#5a5a5a" stroke-width="0.7"/>
<polygon points="696,860.5 702.3,851 711.8,846.2 724.5,841.5 737.2,840 745.1,844.7 746.7,854.2 740.3,863.7 737.2,873.2 727.7,879.5 715,882.7 702.3,879.5 694.4,873.2 692.8,866.8" fill="none" stroke="#5a5a5a" stroke-width="1"/>
<polygon points="847,65 848.92,64.2 850.72,63.22 852.07,61.6 853.46,60.03 855.55,59.48 857,58 858.74,57.48 860.64,57.78 862.29,56.76 864.13,56.77 865.97,56.76 867.53,55.29 869.4,55.42 871.19,55.18 873,55 874.85,54.88 876.57,55.99 878.52,54.9 880.28,55.65 882.12,55.62 883.96,55.54 885.78,55.7 887.49,57.04 889.38,56.44 891.12,57.45 893,57 894.76,57.42 896.48,57.97 898.26,58.35 900.01,58.81 901.75,59.3 903.07,60.98 904.71,61.75 906.38,62.43 908.19,62.71 910,63 911.02,64.83 912.75,65.96 914.31,67.26 915.24,69.19 917.09,70.2 918.91,71.23 920,73 920.78,74.8 921.25,76.75 922.28,78.42 923.46,80.02 924.06,81.91 925.55,83.35 925.89,85.37 927,87 927.6,88.94 929.11,90.51 928.63,92.87 929.52,94.69 930.35,96.53 931.83,98.12 931.86,100.28 933,102 931.14,102.21 929.29,102.67 927.43,101.4 925.57,101.69 923.71,102.36 921.86,102.05 920,102 920.2,103.98 918.88,105.74 919.44,107.76 918.4,109.56 918.76,111.56 918.25,113.44 918.43,115.41 918.51,117.37 918.24,119.28 917.76,121.16 917,123 916.71,124.93 916.73,126.92 915.7,128.67 915.6,130.64 915.11,132.52 914.5,134.37 914.2,136.3 913.5,138.12 913,140 912.63,141.9 912.42,143.82 912.99,145.85 912.53,147.74 912.37,149.66 911.49,151.5 911.28,153.42 911.24,155.36 910.88,157.27 911.02,159.24 910.44,161.11 910,163 909.14,164.7 908.03,166.3 907.78,168.26 907,170 905.13,170.48 903.77,172.12 901.61,171.92 900,173 898.59,174.39 897.15,175.75 895.5,176.9 894.16,178.36 893,180 892.34,181.95 891.44,183.79 889.81,185.29 889.28,187.29 888.11,189.01 887.87,191.15 887,193 887.91,194.65 889.26,195.92 890.53,197.26 891.66,198.72 893,200 894.68,200.75 896.56,200.78 898.34,201.17 900,202 900.59,203.78 902,205 899.38,205.69 897,207 896,208.79 894.68,210.35 892.94,211.61 892.01,213.44 890.6,214.94 890,217 888.81,218.82 889.21,221.12 888.17,222.99 887.07,224.84 887,227 884.99,227.15 883.21,227.83 881.88,229.56 880,230 881.36,231.53 882.15,233.47 883.79,234.8 885.15,236.33 885.82,238.34 887,240 887.05,241.94 887.87,243.71 888.25,245.58 888.8,247.41 889.8,249.13 889.3,251.21 890,253 890.02,255.17 890.66,257.16 891.85,258.99 892.58,260.95 893,263 891.24,261.51 888.8,261.4 887,260 885.05,259.45 884.22,257.31 882.22,256.82 880.63,255.76 879.1,254.61 877.38,253.74 876.51,251.66 874.6,251.05 873,250 871.5,248.58 869.38,248.59 867.72,247.54 865.94,246.77 863.82,246.78 862.46,245.06 860.33,245.07 859.01,243.25 857,243 855.04,242.28 853.11,241.43 851.13,240.76 848.85,241.1 847,240 847.15,242.03 846.02,243.76 845.22,245.56 845.9,247.72 844.55,249.39 844.73,251.43 843.91,253.23 843.57,255.14 843,257 842.33,258.81 840.47,259.87 839.9,261.74 839.28,263.58 838.57,265.36 836.6,266.35 835.53,267.91 835.52,270.12 834.48,271.7 833,273 831.43,274.1 830.38,275.8 828.4,276.42 827,277.71 825.71,279.13 824.85,281.04 822.68,281.45 821.67,283.19 820.05,284.24 818.87,285.78 817.36,286.95 816.2,288.52 814.3,289.24 813.06,290.71 810.96,291.21 810,293 808.88,294.55 807.45,295.88 806.38,297.46 805.75,299.36 805.04,301.2 803.52,302.47 802.06,303.77 801.14,305.46 800,307 799.6,309 800.71,311 799.82,313 800.42,315 800,317 801.71,317.93 803.02,319.52 804.81,320.31 806.63,321.06 807.95,322.63 810,323 810.19,325.09 809.68,327.06 809.57,329.09 808.48,330.97 807.94,332.93 808,335 806.08,335.42 804.95,337.3 802.88,337.45 801.12,338.15 799.93,339.94 797.65,339.68 796.15,340.87 794.35,341.52 793,343 791.12,342.47 789.68,341.13 787.79,340.63 786.3,339.39 784.79,338.19 783,337.49 781.32,336.61 779.87,335.3 778.29,334.23 776.19,334.09 774.33,333.53 773,332 771.23,332.63 769.54,333.62 767.62,333.64 765.57,333.18 763.98,334.56 762.18,335.09 760.11,334.55 758.4,335.43 756.67,336.22 754.68,336.01 753,337 751.92,335.41 750.28,334.56 748.89,333.37 747.3,332.45 745.46,331.86 744.31,330.37 742.85,329.27 741.46,328.09 740,327 738.2,326.34 736.21,326.92 734.54,325.4 732.66,325.29 730.68,325.78 728.91,324.92 727,325 726.34,323.23 724.76,321.96 724.65,319.88 723.55,318.35 722.7,316.68 721.03,315.47 720.92,313.39 719.86,311.84 718.26,310.58 718.53,308.29 717,307 718.18,305.4 719.31,303.78 719.92,301.85 721.54,300.51 722.49,298.79 722.68,296.61 724.44,295.36 725.54,293.72 725.9,291.64 727,290 725.65,288.46 725.18,286.31 722.93,285.4 721.83,283.68 721.7,281.3 720,280 719.62,277.93 719.03,275.93 717.88,274.1 717.76,271.95 717,270 718.78,268.55 721.01,268.02 723,267 725.17,267.02 727.17,267.62 729.22,268.08 731.05,269.23 733,270 734.94,269.94 736.72,269.03 738.73,269.34 740.67,269.34 742.48,268.55 744.39,268.3 746.15,267.23 748.08,267.15 750,267 751.36,265.42 753.38,264.97 755.29,264.32 756.82,263.03 758.19,261.47 760.42,261.38 761.92,260.04 763.48,258.79 765.5,258.34 767,257 768.87,256.92 770.58,256.2 772.17,255.02 774.15,255.37 775.88,254.75 777.55,253.85 779.45,253.91 781.33,253.87 783,253 783.98,251.39 785.7,250.3 785.78,248.07 786.91,246.57 788.37,245.29 789.66,243.91 790.15,241.96 792.23,241.12 793.11,239.45 793.48,237.41 794.69,235.97 796,234.59 797,233 798.01,231.33 800.14,231.1 801.53,229.92 802.57,228.28 804.23,227.45 805.85,226.57 806.85,224.88 808.82,224.45 810,223 811.94,222.6 813.86,222.18 815.71,221.47 817.59,220.91 819.4,220.06 821.18,219.14 823.24,219.18 825.2,218.85 827,218 828.97,217.39 830.99,217.52 833,217.67 834.99,217.34 837.02,217.64 838.96,216.6 840.99,216.99 843,217 842.85,215 843.39,213 842.84,211 842.53,209 843,207 842.1,205.04 840.41,203.88 838.7,202.73 837.02,201.56 835.47,200.25 834.7,198.16 833,197 831.54,195.82 829.69,195.36 828.23,194.18 826.58,193.36 825.11,192.18 823.49,191.3 821.78,190.58 820,190 818.02,190.52 816.08,191.2 813.88,190.58 811.92,191.21 810,192 808.25,192.99 806.45,193.86 804.54,194.42 802.83,195.52 800.48,194.96 798.76,196.04 797,197 795.11,197.13 793.23,197.38 791.32,197.12 789.47,197.96 787.6,198.27 785.64,197.22 783.78,197.76 781.89,197.87 780,198 779.01,196.28 778.08,194.52 776.79,193.05 775,192 774.81,189.91 776.14,188.08 775.73,185.96 775.74,183.9 777.21,182.09 777,180 777.48,178.13 778.84,176.59 779.2,174.68 779.83,172.86 780.7,171.14 780.3,168.94 781.23,167.24 782.07,165.5 783.52,163.99 784.28,162.23 784.24,160.16 784.47,158.2 785.06,156.37 786.08,154.7 787,153 788.87,152.64 790.44,151.24 792.32,150.92 794.41,151.26 795.94,149.76 797.78,149.28 799.91,149.79 801.59,148.79 803.4,148.23 805.15,147.43 807,147 808.89,145.92 811.16,145.81 813.19,145.07 814.75,143.17 817,143 818.19,141.45 819.05,139.7 820.1,138.06 820.76,136.19 821.6,134.43 823,133 822.76,131.06 823.04,129.2 823.21,127.33 824.6,125.64 825.12,123.82 825.22,121.93 824.59,119.94 825.47,118.17 825.63,116.3 826.58,114.54 825.94,112.54 826.06,110.66 827.03,108.91 827,107 827.32,104.91 827.61,102.82 829.12,101.1 829.83,99.13 830,97 831.56,95.61 832.78,93.98 833.15,91.75 834.51,90.22 835.47,88.41 837,87 835.54,85.38 833.74,84.4 831.69,83.84 829.88,82.85 828,82 829.08,80.35 828.41,78.31 829.23,76.61 829.73,74.83 830,73 831.32,71.43 833.21,70.79 834.86,69.77 836.33,68.44 838.04,67.51 840,67 841.83,66.79 843.3,65.29 845.13,65.07" fill="#9dd5ea" stroke="#86bcd3" stroke-width="0.7"/>
<polygon points="483,318 485,319 486.82,319.39 488.66,319.56 490.56,319.17 492.32,320.19 494.23,319.68 496.07,319.9 497.86,320.61 499.76,320.25 501.51,321.33 503.43,320.78 505.28,320.84 507.18,320.49 508.91,321.78 510.83,321.15 512.64,321.7 514.45,322.21 516.32,322.08 518.09,322.99 520,322.5 521.96,322.51 523.91,322.62 525.88,322.41 527.84,322.46 529.77,322.76 531.66,323.61 533.66,323.09 535.56,323.83 537.5,324 539.49,323.9 541.15,325.26 543.28,324.57 544.91,326.07 546.73,326.72 548.6,327.15 550.64,326.87 552.4,327.79 554.48,327.27 556.1,328.84 557.97,329.28 560,329 561.28,330.64 562.52,332.31 564.37,333.34 565.52,335.12 567.5,336 569.35,336.33 571.28,336.39 573.03,337.08 574.58,338.53 576.39,338.99 578.38,338.83 580.05,339.81 581.78,340.58 583.81,340.28 585.65,340.66 587.17,342.2 589.22,341.81 590.8,343.11 592.88,342.64 594.4,344.17 596.57,343.33 598.25,344.29 600,345 602.48,344.41 605,344 607.08,344.42 608.27,346.41 609.92,347.57 612.07,347.89 613.75,349 614.86,350.6 616.66,351.56 617.94,353 618.87,354.77 620.36,356.01 622.13,356.99 622.49,359.31 623.82,360.7 625.55,361.71 627,363 627.76,364.91 629.69,365.84 630.83,367.43 631.84,369.13 633.74,370.09 635.02,371.56 635.74,373.51 637,375 638.22,376.83 638.25,379.14 639.21,381.07 640.33,382.95 641,385 640.89,386.88 640.46,388.73 641.18,390.66 640.09,392.47 639.88,394.34 640.69,396.28 640.68,398.16 640,400 638.83,401.5 638.12,403.23 637.1,404.8 636,406.33 635.54,408.19 635,410 633.88,411.85 634.43,414.11 633.64,416.04 632.44,417.86 632.5,420 631.69,421.92 631.29,423.95 631.15,426.04 630.89,428.1 630,430 628.54,431.2 628.56,433.38 626.5,434.17 625.58,435.72 625,437.5 623.13,437.95 622.39,440.08 620.47,440.45 618.81,441.22 617.5,442.5 615.53,443.14 613.34,442.84 611.44,443.75 609.38,444.01 607.5,445 605.58,445.32 604.06,443.62 602.05,444.4 600.3,443.85 598.54,443.39 596.86,442.48 595,442.5 593.16,442.01 591.95,440.58 590.8,439.05 589.07,438.4 587.5,437.5 586.62,435.71 586.34,433.72 585.14,432.04 585,430 584.63,428.11 585.42,426.39 585.37,424.55 586.08,422.81 586.25,421 587.01,418.69 588.33,416.74 590,415 591.67,414.25 593.24,413.36 594.2,411.55 596.28,411.41 597.5,410 597.58,408.06 597.16,406.2 596.64,404.36 596.25,402.5 593.95,402.21 591.97,401.12 590,400 588.35,401.05 586.32,400.18 584.54,400.55 582.98,402.06 580.96,401.25 579.36,402.54 577.5,402.5 575.52,402.71 574.04,403.91 572.59,405.19 570.83,405.83 569.08,406.48 567.5,407.5 566.01,408.51 564.45,409.42 562.74,410.12 561.86,412.03 560,412.5 558.46,414.54 556.6,416.3 553.97,416.15 551.6,417.3 550.29,415.61 548.6,414.3 547.53,412.7 545.94,411.42 545.94,409.16 544.35,407.87 543.53,406.11 542.18,404.69 541.11,403.09 540.5,401.2 539.23,399.46 536.98,399.13 535.77,397.31 533.49,397.03 532.43,394.99 530.5,394.2 529.08,393.02 527.43,392.28 525.72,391.64 523.99,391.02 522.28,390.37 521.05,388.86 519.4,388.1 522.02,388.21 524.4,387.1 525.92,386.09 527.6,385.33 528.78,383.81 530.5,383.1 530.6,381 531.09,378.91 531.29,376.82 530.7,374.7 530.67,372.7 531,370.7 531.12,368.7 530.7,366.7 528.93,365.67 527,365 525.15,365.57 523.31,366.16 521.29,365.26 519.51,366.45 517.52,365.81 515.69,366.54 513.75,366.31 511.92,367.04 510,367 508.22,368.34 505.95,368.38 503.92,369.04 502,370 502.11,368.07 501.36,366.24 501.9,364.27 501.09,362.45 500.2,360.64 500.41,358.7 499.95,356.84 499.64,354.96 500,353 498.39,352.01 497.49,350.31 495.62,349.58 494.49,348.11 493.15,346.85 491.99,345.41 490.7,344.1 490,342.2 488.63,340.97 487,340 487.33,338.05 485.68,336.45 485.62,334.57 485.56,332.69 485.39,330.82 484.5,329.09 484.21,327.25 484.94,325.22 483.99,323.5 483.18,321.76 483.03,319.89" fill="#9dd5ea" stroke="#86bcd3" stroke-width="0.7"/>
<polygon points="645,372 646.88,371.38 648.59,370.28 650.55,369.91 652.65,369.94 654.47,369.16 656.09,367.78 658.31,368.17 660,367 661.82,367.68 663.77,366.6 665.55,367.64 667.44,367.39 669.33,367.08 671.16,367.59 673,368 674.77,368.67 676.78,368.34 678.52,369.1 680.2,370.09 682.19,369.89 683.77,371.27 685.7,371.29 687.5,371.83 689.53,371.42 691.34,371.92 693,373 694.8,373.7 696.83,373.61 698.53,374.65 700.22,375.72 702.19,375.82 704.1,376.15 706.09,376.2 707.93,376.77 709.72,377.48 711.27,379.04 713.2,379.29 715.29,378.99 717,380 718.74,381.19 718.83,383.62 720.04,385.22 721.76,386.43 723,388 722.56,389.88 721.45,391.48 720.2,393.02 720,395 718.71,396.31 716.76,396.65 715.5,398.01 713.96,398.94 712.5,400 710.64,400.45 709.91,402.61 708.17,403.25 706.83,404.5 705,405 703.63,406.64 701.34,407.06 700.42,409.31 697.92,409.45 696.8,411.42 695,412.5 693.63,413.96 692.51,415.63 691.71,417.55 690.3,418.99 689.1,420.6 687.7,422.03 686.83,423.9 685,425 683.9,426.44 683.32,428.21 681.77,429.35 680.94,430.96 680,432.5 677.97,433.81 676.18,435.35 675,437.5 673.21,438.38 671.19,438.56 669.24,438.97 667.5,440 665.53,439.66 663.8,438.61 661.99,437.79 660,437.5 658.58,436.18 656.84,435.48 655,435 653.33,434.17 651.59,433.49 650,432.5 649.18,430.88 648.6,429.1 646.4,428.4 646.23,426.35 645,425 644.83,422.92 643.89,421.03 642.8,419.18 642.66,417.08 642.5,415 643.6,413.15 643.88,411.09 644.26,409.06 645.14,407.16 645,405 646.08,403.14 645.29,400.82 646.42,398.98 647.29,397.07 647.5,395 647.43,392.89 646.46,391.01 645.37,389.16 645.67,386.96 645,385 645.26,383.14 644.87,381.29 644.29,379.43 644.53,377.57 644.5,375.71 644.97,373.86" fill="#9dd5ea" stroke="#86bcd3" stroke-width="0.7"/>
<polygon points="630,412.5 631.89,412.89 633.43,413.97 635,415 636.99,416.34 638.53,418.13 640,420 639.41,422 640.72,424 639.57,426 639.7,428 640,430 639.59,431.89 638.58,433.39 636.93,434.45 635.5,435.67 635,437.5 634.27,439.22 633.03,440.68 632.5,442.5 632.35,440.47 631.95,438.52 630.83,436.81 630,435 629.32,433.05 629.37,430.91 628.64,428.96 627.96,427.01 627.5,425 628.35,423.31 628.1,421.41 628.78,419.69 629.24,417.92 629.84,416.18 629.11,414.18" fill="#9dd5ea" stroke="#86bcd3" stroke-width="0.7"/>
<polygon points="392.5,492.5 393.33,490.85 394.34,489.3 395.53,487.84 396,486 398.25,484.54 400,482.5 401.57,481.32 403.29,480.52 405.4,480.59 407,479.5 409.07,479.27 411.04,478.67 413.17,478.7 415,477.5 417,477.67 419.01,477.4 421.01,477.55 423.03,477.2 425,478 426.91,478.85 429.03,478.66 431,479.22 433.1,479.08 435,480 436.75,481.45 439.05,481.63 441.27,482.02 443,483.5 444.58,484.8 446.31,485.84 448.56,485.96 450,487.5 451.92,488.37 454.15,488.27 456.13,488.96 458,490 459.81,491.23 461.8,491.88 464.19,491.26 466,492.5 466.6,494.5 466.15,496.5 466.49,498.5 465.64,500.5 466,502.5 464.15,503.59 462.09,503.86 460,504 457.45,504.24 455,505 454.07,506.55 452.81,507.87 452.28,509.68 450.53,510.69 450,512.5 450.55,514.31 451.74,515.8 452.29,517.61 453.19,519.24 454.19,520.82 455,522.5 453.68,524.83 453.75,527.5 451.83,526.26 449.69,525.57 447.5,525 447.58,523.04 446.43,521.42 446.68,519.41 445.37,517.84 445,516 444.2,513.98 443.54,511.91 442.5,510 440.95,509.07 439.32,508.27 438.03,506.96 436.16,506.52 435,505 433,504.67 431.07,503.92 429,504.08 426.99,503.84 425,503.5 423.2,502.65 421.34,502.32 419.37,502.81 417.5,502.5 415.62,501.98 413.75,502.94 411.88,502.85 410,501.81 408.12,502.29 406.25,502.68 404.38,503 402.5,502.5 400.83,501.25 398.78,501.17 396.99,500.28 395,500 394.18,498.19 394.07,496.14 393.37,494.29" fill="#9dd5ea" stroke="#86bcd3" stroke-width="0.7"/>
<polygon points="466,492.5 468.22,491.49 470.77,492.01 473,491 475.29,490.34 477.71,490.63 480,490 481.93,489.2 484.11,489.43 486.05,488.71 488,488 489.57,486.87 491.69,487.66 493.39,486.99 495,486 497.34,486.02 499.66,486.39 502,486.5 503.77,487.16 505.6,487.53 507.5,487.5 507.41,489.76 507.64,491.97 508.75,494 508.1,496 509.13,498 508.75,500 508.67,502.25 507.56,504.12 506.9,506.15 505.38,507.86 505,510 504.1,512.42 504,515 502.56,517.29 502.5,520 500.21,519.98 498.07,520.6 496,521.5 493.88,521.11 491.94,521.81 490,522.5 487.94,522 486.14,520.75 484,520.5 482.29,518.61 480,517.5 478.29,516.07 476.72,514.51 475.15,512.95 474,511 472.47,509.86 472.29,507.81 471.62,506.09 470,505 469.02,503.05 467.43,501.59 466,500 466.61,498.12 465.85,496.25 465.81,494.38" fill="#9dd5ea" stroke="#86bcd3" stroke-width="0.7"/>
<polygon points="473.1,400.2 476.1,400.2 478.46,401.56 481.1,402.2 482.63,403.44 484.26,404.56 485.76,405.85 487.2,407.2 489.41,408.48 491.2,410.3 494.2,409.3 496.01,407.43 498.3,406.2 500.29,406.74 502.3,407.2 504.91,406.48 507.3,405.2 508.54,406.81 510.42,407.67 511.43,409.55 513.4,410.3 515.33,411.98 516.4,414.3 516.78,416.21 518.03,417.55 518.95,419.1 520.4,420.3 522.13,421.28 522.94,423.16 524.4,424.4 526.95,424.73 529.5,424.4 531.8,425.9 534.5,426.4 535.97,427.73 538.2,427.8 539.5,429.4 541.47,431 543.6,432.4 544.51,434.34 543.69,436.56 544.6,438.5 543.18,440.29 542.6,442.5 541.08,443.55 539.5,444.5 538.6,442.73 536.41,442.26 535.5,440.5 534,439 532.5,437.5 530.23,436.96 528.5,435.4 526.59,434.35 524.6,433.54 522.4,433.4 519.91,432.87 517.4,432.4 516.4,435.4 516.53,438.02 517.4,440.5 517.02,442.81 515.83,444.72 514.4,446.5 513.91,448.58 512.43,450.1 511.15,451.72 510.3,453.6 508.3,455.6 506.66,453.62 504.3,452.6 502.81,451.38 501.65,449.85 500.3,448.5 498.32,447.85 496.18,448.19 494.2,447.5 492.2,446.5 490.2,445.5 489.39,443.06 489.2,440.5 488.36,438.52 488,436.39 487.2,434.4 486.49,432.42 485.99,430.36 485.2,428.4 484.24,426.38 483.2,424.4 482.25,422.37 480.66,420.85 479.1,419.3 478.29,417.21 477.01,415.35 476.1,413.3 475.34,410.71 474.1,408.3 473.73,406.48 472.24,405.11 472.1,403.2" fill="#9dd5ea" stroke="#86bcd3" stroke-width="0.7"/>
<polygon points="540,460 542.5,459.97 545,460 545.33,462.04 545.35,464.16 546.52,465.99 547.38,467.91 547.5,470 549.32,471.52 550.37,473.8 552.5,475 552.27,477 551.92,479 552.69,481 552.2,483 552.5,485 550.74,486.28 550.45,488.67 548.75,490 547.87,488.05 546.74,486.3 545,485 545.33,483.08 543.75,481.53 543.47,479.73 544.18,477.73 543.08,476.1 542.54,474.35 542.5,472.5 542.37,470.67 541.53,468.98 541.23,467.18 540.91,465.39 540.29,463.66 540.85,461.69" fill="#9dd5ea" stroke="#86bcd3" stroke-width="0.7"/>
<polygon points="556,466 558.5,466.06 561,466 560.75,468.17 561.01,470.33 561,472.5 558.5,473.1 556,472.5 555.8,470.33 555.37,468.17" fill="#9dd5ea" stroke="#86bcd3" stroke-width="0.7"/>
<polygon points="537.5,507.5 539.47,507.17 541.45,506.84 542.99,505.21 545,505 546.94,504.75 548.82,504.96 550.61,505.87 552.5,506 553.94,507.37 555.31,508.82 556.84,510.08 558.69,510.98 560,512.5 561.09,514.04 561.14,516.1 562.5,517.5 560.73,519.07 559.68,521.34 557.5,522.5 555.62,522.78 553.75,522.92 551.88,522.61 550,522.5 548.02,522.2 546.03,521.92 544.21,521.11 542.5,520 540.83,518.33 539.17,516.67 537.5,515 537.43,513.12 537.49,511.25 537.68,509.38" fill="#9dd5ea" stroke="#86bcd3" stroke-width="0.7"/>
<polygon points="620,477.5 621.79,476.91 623.37,475.9 625,475 627,474.75 628.71,473.62 630.76,473.53 632.5,472.5 633.94,471.2 636.08,471.32 637.5,470 638.67,471.5 640.39,472.17 641.95,473.07 643.78,473.57 645,475 645.53,476.82 646.16,478.59 647.5,480 646.02,481.34 645.94,483.39 645,485 643.51,486.18 641.46,486.26 640,487.5 639.36,489.37 638.84,491.28 638,493.08 637.5,495 635.4,493.76 634.48,491.36 632.5,490 631.07,488.69 629.11,488.45 627.5,487.5 625.36,486.61 623.25,485.61 621,485 621.17,483.07 621.08,481.17 620.46,479.35" fill="#9dd5ea" stroke="#86bcd3" stroke-width="0.7"/>
<polygon points="846,415.5 847.72,414.47 849.58,414.03 851.49,413.75 853.53,414.01 855.3,413.2 857.49,413.99 859.41,415.24 861.2,416.7 861.92,418.9 864.01,420.28 864.7,422.5 863.42,424.81 862.3,427.2 861.1,428.96 861.04,431.17 860,433 859.31,434.85 858.15,436.3 856.12,437.06 855.3,438.8 853.62,440.11 851.8,441.2 850.12,439.54 848.87,437.62 848.3,435.3 848.49,432.88 847.97,430.57 847.2,428.3 847.52,426.22 846.57,424.4 846,422.5 846.43,420.17 846.15,417.83" fill="#9dd5ea" stroke="#86bcd3" stroke-width="0.7"/>
<polygon points="876.3,429.5 876.61,427.5 878.1,426.17 878.9,424.45 879.95,422.87 881,421.3 883.02,420.22 884.03,418.13 885.7,416.7 887.95,415.81 890.3,415.52 892.7,415.5 894.93,415.36 896.65,417.01 898.78,417.22 900.8,417.8 902.82,418.48 904.72,419.43 906.7,420.2 908.52,421.26 910.35,422.28 912.5,422.5 913.73,421.05 915.72,420.54 916.47,418.5 918.3,417.8 920.54,418.72 922.92,418.85 925.3,419 926.31,420.95 926.54,423.01 926.63,425.09 926.5,427.2 925.06,428.97 924.23,431.11 923,433 920.65,431.86 918.3,430.7 916.07,429.37 913.7,428.3 912.27,429.82 909.97,429.6 908.22,430.46 906.7,431.8 904.25,432.01 902,433 901.48,435.37 900.8,437.7 899.33,439 898.44,440.75 897.3,442.3 895.03,443.01 892.7,443.5 892.76,441.52 891.5,440 889.97,437.84 889.2,435.3 887.22,436.1 885.11,435.94 883.14,436.83 881,436.5 878.37,435.92 876.3,434.2 876.08,431.85" fill="#9dd5ea" stroke="#86bcd3" stroke-width="0.7"/>
<polygon points="825,426 827.17,424.7 829.7,424.8 830.8,426.38 830.68,428.36 831.19,430.13 832,431.8 834.38,431.38 836.7,430.7 838.14,432.86 839,435.3 837.02,435.92 836.31,438.23 834.3,438.8 835.22,441.29 836.7,443.5 837.99,444.99 839.59,446.06 841.3,447 843.36,448.75 846,449.3 847.73,449.97 849.5,450.51 851.03,451.75 853,451.7 854.32,453.34 855.3,455.2 853.75,456.33 852.8,457.94 852.27,459.88 850.7,461 850.1,463.66 848.3,465.7 849.98,466.84 850.97,468.51 851.8,470.3 852.84,472.52 852.98,474.9 853,477.3 853.27,479.66 853.75,481.98 854.2,484.3 852.27,485.24 850.7,486.7 848.93,487.97 846.57,487.74 844.8,489 842.96,487.98 841.3,486.7 840.71,484.36 840.2,482 841.74,480.53 843.7,479.7 845.45,477.64 846,475 843.7,472.7 841.37,472.87 839.03,472.2 836.7,472.7 835.35,474.45 833.2,475 831.4,474.55 829.7,473.8 828.02,472.38 827.3,470.3 825.37,469.55 823.43,470.91 821.5,470.3 819.66,469.47 817.61,469.67 815.7,469.2 814.26,467.62 813.3,465.7 815.3,464.57 816.57,462.7 818,461 817.87,458.53 816.8,456.3 814.89,455.48 813.03,454.51 811,454 809.8,451.7 811.63,451.35 813.3,450.5 815.39,450.29 817.19,451.5 819.2,451.7 820.97,450.53 822.7,449.3 823.38,447.33 824.15,445.4 825,443.5 826.41,442.11 827.31,440.35 828.5,438.8 828.68,436.75 828.29,434.81 827.3,433 826.19,430.63 825,428.3" fill="#9dd5ea" stroke="#86bcd3" stroke-width="0.7"/>
<polygon points="799.3,456.3 800.93,454.97 802.8,454 804.44,455.32 806.3,456.3 806.18,458.75 805.2,461 802.85,461.13 800.5,461 800.11,458.6" fill="#9dd5ea" stroke="#86bcd3" stroke-width="0.7"/>
<polygon points="869.3,465.7 871.42,464.05 874,463.3 876.06,463.04 877.78,462.11 878.98,460.13 881,459.8 883.02,458.73 884.1,456.7 885.7,455.2 887.55,455.43 889.2,456.3 888.37,458.18 887.89,460.13 888,462.2 886.91,464.22 885.22,465.62 883.3,466.8 882.47,468.97 881.18,470.86 879.8,472.7 878.67,474.26 877.25,475.6 876.3,477.3 874,477.1 871.7,477.3 871.15,474.66 869.3,472.7 869.18,470.37 868.89,468.03" fill="#9dd5ea" stroke="#86bcd3" stroke-width="0.7"/>
<polygon points="865.8,447 867.94,446.67 869.92,445.96 871.7,444.7 872.41,446.66 872.86,448.72 874,450.5 872.33,451.91 871.7,454 869.44,452.67 867,451.7 865.7,449.53" fill="#9dd5ea" stroke="#86bcd3" stroke-width="0.7"/>
<polygon points="815.7,477.3 819.2,477.3 819.66,479.26 820.33,481.11 821.17,482.88 822.7,484.3 820.3,485.5 818.45,483.85 816.8,482 815.81,479.75" fill="#9dd5ea" stroke="#86bcd3" stroke-width="0.7"/>
<polygon points="825,484.3 826.38,486.04 828.5,486.7 829.5,488.57 831.21,489.82 832.88,491.11 834.24,492.66 835.01,494.74 836.7,496 837.32,498.61 839,500.7 836.7,501.8 835.79,500.14 834.7,498.62 833.54,497.16 832,496 830.28,495.06 829.62,493.25 829.04,491.37 827.18,490.55 826.2,489 825.07,486.78" fill="#9dd5ea" stroke="#86bcd3" stroke-width="0.7"/>
<polygon points="839,484.3 841.31,485.05 843.7,485.5 844.93,487.04 844.8,489 841.3,489 839.92,486.76" fill="#9dd5ea" stroke="#86bcd3" stroke-width="0.7"/>
<polygon points="832.2,727.5 834.43,727.19 835.7,724.99 838.15,725.11 839.73,723.53 841.7,722.7 843.69,722.48 845.52,723.24 847.34,724.04 849.2,724.55 851.2,724.3 852.83,725.39 854,726.93 855.16,728.48 856.12,730.24 857.47,731.6 859.75,732.04 860.7,733.8 860.62,735.75 860.44,737.68 859.86,739.53 859.8,741.48 859,743.3 857.43,744.22 855.52,744.55 854.15,745.81 853.01,747.46 851,747.62 849.36,748.42 848,749.7 846.68,751.53 844.48,752.48 842.76,753.91 841.7,756 841.4,758.18 840.21,760 838.86,761.75 838.5,763.9 836.47,763.09 834.48,762.13 832.2,762.3 832.08,760.37 831.93,758.44 831.02,756.64 831.28,754.64 830.6,752.8 830.24,750.93 830.48,749.13 831.97,747.49 831.42,745.59 831.19,743.73 832.02,742.01 832.2,740.2 832.48,738.39 832.45,736.57 832.41,734.76 832.34,732.94 832.6,731.13 832.92,729.31" fill="#9dd5ea" stroke="#86bcd3" stroke-width="0.7"/>
<polygon points="778.3,725.9 780.1,724.99 782.19,725.79 783.94,724.57 785.97,725.06 787.8,724.3 787.39,726.15 787.08,728 787.34,729.85 787.25,731.7 787.09,733.55 787.8,735.4 785.58,735.46 783.67,736.73 781.5,737 780.69,735.23 779.9,733.45 779.79,731.48 778.9,729.74 779.08,727.68" fill="#9dd5ea" stroke="#86bcd3" stroke-width="0.7"/>
<polygon points="797.3,721.2 799.2,720.56 801.1,721.03 803,721.73 804.9,721.37 806.8,721.2 807.52,723.3 806.45,725.4 806.75,727.5 806.25,729.6 806.34,731.7 806.8,733.8 804.82,734.27 802.85,734.34 800.88,734.49 798.9,733.8 798.72,731.99 798.35,730.21 798.32,728.39 797.99,726.6 798.45,724.71 797.15,723.05" fill="#9dd5ea" stroke="#86bcd3" stroke-width="0.7"/>
<polygon points="781.3,763 783.37,761.94 784.63,760.06 786,758.3 787.17,756.67 788.83,755.53 789.84,753.74 791.25,752.35 793,751.3 794.75,750.53 795.97,749.09 797.38,747.89 798.8,746.7 800.38,744.87 802.92,744.6 804.7,743.1 806.64,743.1 808.33,742.34 809.89,741.18 811.7,740.8 810.58,742.96 810.5,745.4 808.59,746.63 806.63,747.8 804.7,749 803.17,750.16 802.64,752.13 800.95,753.17 800,754.8 798.86,756.56 796.79,757.39 795.9,759.4 794.2,760.6 792.49,762.2 790.42,763.19 788.3,764.1 786.06,765.12 783.6,765.3" fill="#9dd5ea" stroke="#86bcd3" stroke-width="0.7"/>
<polygon points="759.3,733.8 761.43,733.39 763.57,733.07 765.7,733.8 766.05,735.77 765.94,737.75 765,739.73 765.7,741.7 763.3,741.99 760.9,741.7 760,739.83 759.49,737.87 760.12,735.69" fill="#9dd5ea" stroke="#86bcd3" stroke-width="0.7"/>
<polygon points="745.2,781.6 746.42,779.85 747.39,778 747.46,775.79 748.69,774.04 749.28,772.03 749.8,770 751.7,769.91 753.49,768.99 755.4,768.95 757.31,768.95 759.2,768.8 761.22,769.16 763.35,768.71 765.34,769.27 767.3,770 767.5,772.05 768.31,773.86 768.79,775.81 770.54,777.28 770.8,779.3 769.73,781.69 768.5,784 770.11,785.19 771.1,786.86 772,788.6 771.5,790.92 771.93,793.39 770.8,795.6 768.47,796.1 766.2,796.8 766.19,794.58 765.33,792.6 763.81,790.82 763.8,788.6 762.06,787.28 760.8,785.47 759.2,784 757.23,783.48 755.27,783.37 753.3,784 751.22,784.4 749.67,786.13 747.5,786.3 746.35,783.95" fill="#9dd5ea" stroke="#86bcd3" stroke-width="0.7"/>
<polygon points="798.9,775 800.86,775.47 802.54,774.04 804.35,773.54 806.28,773.76 808.13,773.52 810,773.4 811.24,775.04 812.75,776.32 814.48,777.33 816.3,778.2 815.22,780.27 813,781.2 811.34,782.69 810,784.5 808.02,784.64 806.14,784.21 804.39,782.99 802.41,783.14 800.5,782.9 799.87,780.97 799.93,778.9 798.6,777.12" fill="#9dd5ea" stroke="#86bcd3" stroke-width="0.7"/>
<polygon points="777,727 779,727.72 781,727.65 783,727.43 785,727.26 787,727 786.74,729 787.51,731 786.59,733 787.28,735 787,737 785.2,736.61 783.4,737.73 781.6,737.5 779.8,737.33 778,737 777.76,735 778.32,732.93 777.9,730.95 777.87,728.93" fill="#9dd5ea" stroke="#86bcd3" stroke-width="0.7"/>
<polygon points="724.5,843 726.79,842.74 728.97,842.12 731,841 733.08,840.77 735.04,839.73 737.2,840 739.15,840.62 740.96,841.63 743,842 744.39,844.08 746,846 745.37,847.95 745.71,850.06 745,852 744.03,853.82 742.45,855.1 741,856.5 738.72,857.22 736.4,857.58 734,857.3 732.05,856.11 730.06,855 728,854 726.39,852.7 726.37,850.44 725,849 724.21,847.05 724.93,844.98" fill="#9dd5ea" stroke="#86bcd3" stroke-width="0.7"/>
<polygon points="694,859 696.07,858.55 697.84,857.17 700,857 701.46,858.35 703.54,858.66 705,860 704.83,862.03 705.39,864 705.5,866 703.93,867.69 702.08,869 700,870 697.76,868.35 695,868 694.63,866.22 694.02,864.46 694.52,862.59 694.39,860.78" fill="#9dd5ea" stroke="#86bcd3" stroke-width="0.7"/>
<polygon points="724.5,867 726.75,867.23 728.74,865.75 731,866 732.28,867.39 733.79,868.42 735.6,869 734.65,870.78 734.55,872.8 734,874.7 731.67,874.56 729.33,874.73 727,874.5 725.71,872.85 725.94,870.69 725.71,868.68" fill="#9dd5ea" stroke="#86bcd3" stroke-width="0.7"/>
<polygon points="702.3,876 704.65,876.16 706.82,875.4 709,874.7 710.69,875.98 712.82,875.77 714.76,876.21 716.6,877 715.68,879.15 714.61,881.23 714,883.5 712,884.18 710,884.06 708,883.89 706,883.5 705.23,881.55 703.6,880.02 703.41,877.78" fill="#9dd5ea" stroke="#86bcd3" stroke-width="0.7"/>
<polygon points="722.5,520 724.14,518.38 726,517 727.96,517.55 730,517.5 731.63,518.3 733.07,519.39 734.83,520 735.69,521.97 737.5,522.5 738.13,524.37 738.17,526.44 739.1,528.22 740,530 740.77,531.83 741.69,533.6 742.54,535.4 742.5,537.5 743.2,539.2 744.82,540.29 745.59,541.94 746.42,543.56 747.5,545 748.28,547.02 749.55,548.67 751.25,550 750.68,552.15 750.38,554.34 750.03,556.52 750,558.75 748.3,557.45 746.04,557.29 744.22,556.25 742.5,555 741.41,553.09 739.77,551.73 737.8,550.7 736.52,548.98 735,547.5 733.66,546.07 732.21,544.74 731.25,543 729.74,541.71 728.75,540 728.43,537.84 727.64,535.85 726.79,533.89 725.27,532.18 725,530 724.36,528.03 723.29,526.18 723.1,524.1 722.34,522.16" fill="#e7a0bd" stroke="#d493ae" stroke-width="0.7"/>
<polygon points="694.6,606.1 696.67,605.05 697.96,602.96 700.1,602 701.88,601.04 703.77,600.25 705.16,598.67 707,597.8 709.11,598.31 711.1,599.2 710.86,601.37 711.07,603.47 712.65,605.34 712.5,607.5 711.45,609.26 710.56,611.1 709.8,613 708,613.58 705.98,613.23 704.3,614.3 702.2,614.29 700.1,614.3 698.87,616.23 697.9,618.36 696,619.8 695.3,617.85 693.5,616.46 693.2,614.3 693.19,612.19 693.96,610.21 694.11,608.13" fill="#e7a0bd" stroke="#d493ae" stroke-width="0.7"/>
<polygon points="730,583 731,584.64 731.64,586.44 732.27,588.24 733,590 734.35,591.37 734.97,593.13 735.84,594.76 737.03,596.22 737.03,598.31 738,599.88 738.47,601.73 740,603 740.91,604.85 742.6,606.14 743.15,608.25 744.77,609.59 745.51,611.56 747,613 745.06,613.67 743.26,614.58 741.8,616.09 740,617 738.66,615.45 737.26,613.95 736.98,611.66 735.9,609.94 733.68,609.01 733,607 731.99,605.36 731.25,603.61 730.66,601.79 729.94,600.03 729.53,598.13 728.91,596.32 728.15,594.58 727,593 728.18,591.17 727.73,588.86 729.17,587.11 729.98,585.17" fill="#e7a0bd" stroke="#d493ae" stroke-width="0.7"/>
<polygon points="750,573 752.33,573.04 754.67,572.69 757,573 757.01,575.6 758,578 755.83,577.82 753.95,578.79 751.95,579.28 750,580 749.9,577.67 749.68,575.33" fill="#e7a0bd" stroke="#d493ae" stroke-width="0.7"/>
<polygon points="780.9,615.6 782.78,615.3 784.31,613.95 786.15,613.52 787.97,613.05 789.8,612.6 791.46,611.57 793.34,611.87 795.13,611.64 796.93,611.45 798.7,611.1 800.63,610.99 802.17,609.65 803.84,608.73 805.85,608.88 807.6,608.2 809.58,607.62 811.58,607.12 813.6,606.7 814.12,608.61 815.81,609.65 816.55,611.39 818,612.6 817.45,614.4 815.93,615.56 815,617.1 813.15,617.13 811.3,617.32 809.45,617.2 807.6,617.1 805.75,616.59 803.9,617.59 802.05,616.39 800.2,617.1 797.95,617.06 796.23,618.94 793.9,618.63 791.92,619.57 789.8,620 787.95,620.41 786.1,619.29 784.25,620.62 782.4,620 781.36,617.9" fill="#e7a0bd" stroke="#d493ae" stroke-width="0.7"/>
<polygon points="625.8,652.9 627.37,651.18 629.91,650.76 631.3,648.8 633.07,650.58 635.4,651.5 634.48,653.22 633.89,655.01 634.1,657 632.35,657.94 630.54,658.61 628.5,658.4 627.99,656.37 626.72,654.72" fill="#e7a0bd" stroke="#d493ae" stroke-width="0.7"/>
<polygon points="620,687 620.65,685.02 620.65,682.83 622.08,681.08 622.5,679.03 623,677 625,677.16 627,676.54 629,677.22 631,677.33 633,677 633.01,679.08 633.59,681.04 633.51,683.14 634.64,684.99 635,687 633,687.25 630.92,686.83 629.04,688.04 627,688 624.61,688.07 622.4,686.87" fill="#e7a0bd" stroke="#d493ae" stroke-width="0.7"/>
<polygon points="685,667 687,667.14 689,666.63 691,666.36 693,667 692.97,669.05 692.9,671.09 692,673 690.2,672.26 688.95,670.89 687.92,669.26 686.77,667.77" fill="#e7a0bd" stroke="#d493ae" stroke-width="0.7"/>
<polygon points="658,710 657.86,707.84 659.32,706.08 659.05,703.89 660,702 661.98,702.38 664.02,702.21 665.96,702.99 668.01,702.67 670,703 668.94,704.65 669.14,706.71 668.51,708.5 666.98,709.99 667,712 665.07,712.19 663.55,710.51 661.6,710.8 659.81,710.36" fill="#e7a0bd" stroke="#d493ae" stroke-width="0.7"/>
<polygon points="673,698 674.65,698.84 676.66,698.45 678.05,700.2 680,700 679.69,701.8 678.73,703.42 678.53,705.26 678,707 677.16,705.11 675.86,703.48 674.74,701.75 673.49,700.08" fill="#e7a0bd" stroke="#d493ae" stroke-width="0.7"/>
<polyline points="135,455 136.6,453.65 138.64,453.27 140.68,452.89 142.47,451.97 144.32,451.17 145.96,449.9 148.03,449.6 149.69,448.38 151.22,446.89 153.3,446.6 154.87,445.17 157,445 159.06,444.4 160.74,443.25 161.85,441.28 163.49,440.08 165.58,439.52 167,438 169.34,438.39 171.52,439.19 173.68,440.03 175.75,441.1 177.76,442.36 180,443 182.12,443.65 184.16,442.36 186.3,443.46 188.37,442.72 190.48,443.19 192.57,442.96 194.61,441.82 196.74,442.51 198.79,441.58 200.87,441.3 203,442 204.83,442.85 206.28,444.38 208.2,445.09 210.24,445.57 211.48,447.47 213.17,448.57 215.46,448.63 217,450 219.02,450.29 220.96,450.97 222.88,451.76 225.11,450.91 226.98,451.96 228.86,452.99 230.97,452.8 233,453 235.09,453.27 237.17,453.29 239.23,452.78 241.3,452.36 243.39,452.76 245.46,452.58 247.53,452.21 249.64,452.95 251.68,452.09 253.77,452.2 255.86,452.57 257.94,452.58 260,452 262.15,451.68 263.88,450.44 265.5,448.98 267.79,448.95 269.72,448.15 271.48,446.98 273.4,446.16 275.12,444.91 277,444 279,444.04 281,444.23 283.01,443.59 284.99,444.48 286.99,444.83 289.01,443.76 290.99,444.76 292.99,444.73 295.02,443.84 297.02,443.78 299,444.7 301.01,444.15 303.01,444.35 305,444.89 306.99,444.99 308.99,445.2 311,444.96 313.01,444.63 315.02,444.17 317,445 319.05,445.85 320.64,447.28 321.97,449.03 323.45,450.61 325.62,451.3 327.11,452.86 328.23,454.88 330.43,455.54 332,457" fill="none" stroke="#6e6e6e" stroke-width="1.1"/>
<polyline points="332,457 334.11,456.93 336.15,456.11 338.37,457.14 340.46,456.88 342.5,455.95 344.62,456.06 346.66,455.15 348.76,454.96 350.87,454.86 353,455 354.57,456.5 356.77,457.13 357.81,459.36 360,460 359.65,457.73 360.18,455.59 360.35,453.4 361.76,451.4 361.46,449.13 362,447 362.96,444.98 363.75,442.88 365.2,441.1 365.86,438.93 367,437 366.05,435.11 365.89,433.03 365.2,431.08 364.4,429.15 365,426.87 364.28,424.93 363.76,422.94 363.59,420.85 362.34,419.04 362,417 360.36,415.46 358.91,413.75 357.39,412.1 356.2,410.15 353.91,409.19 353,407 352.44,404.51 352,402 354.06,401.67 356.05,401 358,400.11 360.25,400.8 362.09,399.32 364.3,399.82 366.23,398.79 368.24,398.22 370.34,398.07 372.35,397.51 374.42,397.26 376.63,397.72 378.69,397.41 380.63,396.45 382.76,396.53 384.75,395.87 386.81,395.52 388.97,395.73 390.85,394.47 393.06,394.96 395,394" fill="none" stroke="#6e6e6e" stroke-width="1.1"/>
<polyline points="470,318 468.65,320.15 466.37,321.37 465.12,323.62 463,325 463.17,327.08 463.83,329.04 464.68,330.96 465,333 462.95,333.37 460.97,334.01 459.2,335.37 456.99,335.18 454.95,335.59 452.99,336.3 450.84,336.3 448.9,337.08 447,338 445.07,338.9 443.15,339.84 441.2,340.7 438.83,340.39 436.9,341.29 434.94,342.12 433,343 431.94,344.91 430.71,346.71 429.95,348.8 428.39,350.4 427.77,352.58 425.98,354.04 425,356 422.94,356.4 420.92,356.94 419.12,358.19 417.19,359.03 415.08,359.26 412.91,359.31 411,360.18 408.89,360.42 407.03,361.51 405,362 404.32,364.23 402.72,366.1 403,368.69 402.1,370.83 400.7,372.78 400,375 399.24,377.06 398.99,379.25 398.24,381.31 397.87,383.47 396.96,385.49 396.07,387.51 395.61,389.65 395.34,391.83 395,394" fill="none" stroke="#6e6e6e" stroke-width="1.1"/>
<polyline points="395,394 396.94,394.93 399.01,394.26 400.97,394.85 402.97,395.04 405.04,394.38 407,395 409.09,395.81 410.23,397.8 412.38,398.53 413.78,400.19 414.94,402.15 417,403 418.78,404.35 421.23,404.03 423.25,404.78 425.16,405.79 427,407 427.75,409.27 430.05,410.61 430.98,412.77 432.34,414.68 433,417 435.12,416.83 436.99,417.87 439.1,417.75 441.03,418.52 442.92,419.45 444.93,419.85 447.03,419.78 448.91,420.78 450.98,420.86 452.89,421.68 455.08,421.19 457,422 458.91,420.81 461.06,420.11 463.32,419.64 465.08,418.17 467,417 467.56,414.99 467.82,412.89 468.46,410.9 468.96,408.87 470,407 471.94,405.82 473.15,404.05 474,402 476.51,401.94 478.68,400.71 481,400" fill="none" stroke="#6e6e6e" stroke-width="1.1"/>
<polyline points="483,318 482.64,320.13 483.14,322.11 483.73,324.07 484.88,325.92 485.08,327.95 484.85,330.06 485.06,332.09 486.67,333.86 486.8,335.9 486.01,338.11 487,340 488.88,341.01 489.71,343.06 491.53,344.14 492.61,345.94 493.81,347.63 495.57,348.76 497.23,349.99 498.76,351.35 500,353 500.06,355.15 500.3,357.27 500.89,359.36 501.05,361.49 501.19,363.63 501.88,365.7 502.26,367.82 502,370 504.04,369.35 505.78,367.9 508.05,367.9 510,367 512.18,367.23 514.31,367.02 516.33,365.86 518.48,365.86 520.7,366.42 522.72,365.26 524.97,366.03 527,365 529.05,365.41 530.7,366.7 530.15,368.7 531.43,370.7 530.43,372.7 530.7,374.7 530.16,376.79 530.52,378.9 530.34,380.99 530.5,383.1 528.1,383.88 526,385.1 524.4,387.1 522,388.1 519.4,388.1 521.23,389.15 523.45,389.49 525.04,390.98 527.07,391.67 528.91,392.71 530.5,394.2 532.05,395.53 534.21,395.99 535.82,397.25 537.62,398.22 538.55,400.44 540.5,401.2 542.01,402.86 543.4,404.58 543.81,406.92 544.83,408.87 546.11,410.67 547.38,412.47 548.6,414.3 550.06,415.84 551.6,417.3 554.17,417.14 556.6,416.3 558.07,414.2 560,412.5 562.18,411.71 563.92,410.26 565.94,409.23 567.5,407.5 569.78,407.06 571.74,405.99 573.51,404.53 575.52,403.53 577.5,402.5 579.66,402.45 581.69,401.79 583.6,400.51 585.96,401.49 587.82,399.94 590,400 592.09,400.81 594.19,401.6 596.25,402.5 597.31,404.89 596.96,407.52 597.5,410 595.54,411.13 593.47,412.08 591.78,413.6 590,415 589.01,417.16 587.41,418.94 586.25,421 585.21,423.15 585.41,425.47 584.77,427.67 585,430 586.58,432.25 586.38,435.1 587.5,437.5 589.63,438.37 591.55,439.55 593.27,441.03 595,442.5 597.18,442.41 599.3,442.68 601.34,443.3 603.42,443.74 605.5,444.19 607.5,445 609.62,444.96 611.34,443.35 613.38,443.03 615.33,442.31 617.5,442.5 619.38,441.26 621.01,439.64 623.15,438.79 625,437.5 625.9,435.39 627.1,433.48 628.73,431.86 630,430 629.84,427.83 631.6,426.15 631.6,424.02 631.84,421.96 632.5,420 633.08,418.02 634.19,416.17 633.99,414 634.34,411.96 635,410 635.59,407.8 636.83,405.91 638.39,404.2 639.16,402.08 640,400 639.78,397.83 640.92,395.76 639.84,393.53 640.34,391.41 641.16,389.32 641.52,387.19 641,385 642.28,383.29 643.06,381.18 645,380 645.1,378 644.88,376 644.25,374 645,372" fill="none" stroke="#6e6e6e" stroke-width="1.1"/>
<polyline points="332,457 331.22,459.04 331.88,461.2 330.99,463.23 330.55,465.3 331.39,467.48 330.48,469.51 330.99,471.66 331.08,473.77 330.61,475.84 329.78,477.87 330,480 330.36,482.06 329.35,483.97 329.64,486.02 329.73,488.05 329.11,490.01 328.98,492.02 328.66,494.01 327.79,495.94 327.53,497.93 328,500 329.39,501.68 329.31,504.14 330.84,505.75 331.35,507.9 332.55,509.68 333.96,511.35 335.35,513.04 335.39,515.43 337,517 338.38,518.85 340.53,519.53 342.79,520.03 343.99,522.16 345.86,523.26 347.58,524.6 349.31,525.91 351.13,527.09 353.16,527.95 355.28,528.67 357,530 358.75,531.15 360.55,532.23 362.11,533.69 364,534.62 365.61,536 367.65,536.69 369.37,537.9 370.83,539.52 373,540 374.89,540.95 376.83,541.67 378.92,541.81 381.15,541.42 383.03,542.37 385.08,542.68 387.09,543.13 389.14,543.42 391.15,543.9 393,545 395.13,545.6 397.12,546.68 399.21,547.44 401.29,548.22 403.59,548.25 405.97,548 408.01,548.9 410,550 412.16,550.12 413.55,552.1 415.78,552.07 417.42,553.44 419.47,553.82 421.28,554.79 423.01,555.96 425.02,556.45 427,557 428.78,558.65 429.21,561.11 430.8,562.88 431.15,565.39 433,567 435.11,567.24 437.12,567.8 438.81,569.45 441.04,569.27 443,570 444.9,569.04 447.07,569.87 449.1,569.76 451,568.79 452.92,567.97 455.09,568.78 456.96,567.65 458.94,567.2 460.89,566.58 463,567 464.69,565.31 464.97,562.79 465.98,560.69 467.48,558.89 469.11,557.16 470,555" fill="none" stroke="#6e6e6e" stroke-width="1.1"/>
<polyline points="470,555 471.75,556.19 473.5,557.36 476,556.97 477.25,559.2 479.23,559.91 481.64,559.69 483.01,561.67 484.9,562.55 487,563 487.87,565.04 487.01,567.38 488.34,569.34 488.58,571.49 488.63,573.67 488.95,575.8 489.24,577.94 490,580 490.58,582.04 490.49,584.15 491.27,586.17 491.28,588.27 491.17,590.38 492.06,592.39 491.86,594.51 491.35,596.67 492.59,598.64 492.41,600.76 493.27,602.76 492.39,604.97 493,607 493.82,609.04 493.87,611.14 493.15,613.31 493.82,615.36 493.82,617.46 493.92,619.56 494.28,621.64 494.57,623.72 495.19,625.77 495.39,627.86 495,630 495.22,632.18 494.91,634.3 494.53,636.41 493.38,638.43 494.21,640.68 494.09,642.82 493.62,644.92 493,647 492.52,649.15 490.54,650.5 489.36,652.28 488.62,654.3 487.36,656.03 486.93,658.21 486.07,660.16 485,662" fill="none" stroke="#6e6e6e" stroke-width="1.1"/>
<polyline points="722.5,388 721.86,390.09 720.38,391.74 718.83,393.35 718.28,395.48 717.5,397.5 717.11,399.59 716.97,401.73 716.82,403.86 715.05,405.68 715.02,407.84 715,410 715.04,412.21 714.14,414.26 713.6,416.37 712.93,418.46 713.56,420.77 713.15,422.91 712.5,425 712.82,427.18 712,429.27 711.29,431.37 711.41,433.54 712.18,435.76 711.63,437.87 711.25,440 712.1,442.09 712.15,444.24 711.8,446.43 712.52,448.53 712.51,450.68 712.73,452.82 712.5,455 712.45,457.15 711.58,459.24 712.39,461.46 711.61,463.56 711.77,465.73 711.76,467.88 711.25,470 711.39,472.17 710.45,474.25 710.17,476.38 710.17,478.54 709.74,480.66 709.81,482.83 710,485 710.55,487.01 710.88,489.04 710.58,491.15 710.74,493.2 710.68,495.28 710.72,497.34 711.12,499.37 711.06,501.45 711.77,503.44 711.98,505.49 712.5,507.5" fill="none" stroke="#6e6e6e" stroke-width="1.1"/>
<polyline points="717.5,397.5 719.24,395.97 721.73,395.95 723.77,395.04 725.42,393.34 727.5,392.5 728.73,390.56 730.14,388.78 731.5,386.96 733.16,385.4 735,384 736.74,382.3 739.31,381.87 740.73,379.69 742.73,378.38 745,377.5 747.31,377.11 749.3,376.1 750.72,373.93 752.87,373.25 755,372.5 757.19,372.76 758.96,371.33 761.05,371.2 763.07,370.8 765,370 766.05,372.01 768.09,373.36 768.45,375.82 770,377.5 770.01,379.62 771.08,381.48 771.74,383.44 771.65,385.59 772.5,387.5 773.12,389.64 774.43,391.26 776.25,392.5 775.4,394.75 773.4,396.28 772.51,398.51 770.59,400.09 770,402.5 768.47,404.3 768.36,406.68 766.9,408.51 766.1,410.6 766.41,413.15 765,415 766.13,416.93 766.36,419.32 768.38,420.81 769.09,422.96 770,425 770.21,427.12 771.06,429.12 770.8,431.34 772.16,433.23 771.93,435.45 772.5,437.5 772,439.57 772.41,441.82 770.79,443.66 770.38,445.74 769.86,447.81 770,450 769.98,452.12 768.95,453.99 769.04,456.14 767.64,457.91 767.5,460 768.6,461.98 769.48,464.1 771.73,465.3 772.5,467.5 772.47,469.66 772.34,471.8 770.58,473.62 770.61,475.79 770.98,478.03 770,480 768.43,481.66 767.57,483.8 766.38,485.71 765,487.5 762.8,488.1 760.83,489.17 759.01,490.52 757.15,491.8 755,492.5 753.04,493.17 751.04,493.67 749.12,494.49 747.13,495.01 745,495 743.67,496.82 741.87,498.33 741.14,500.55 740,502.5 737.95,503.07 735.98,504.07 733.62,503.09 731.72,504.45 729.65,504.91 727.5,505 724.89,505.5 722.31,506.09 720,507.5 717.5,508.12 715,508.19 712.5,507.5" fill="none" stroke="#6e6e6e" stroke-width="1.1"/>
<polyline points="765,370 765.01,367.8 765.65,365.7 766.15,363.58 765.8,361.32 766.79,359.29 767.86,357.26 767.5,355 767.1,352.98 766.53,350.99 766.45,348.89 765.42,347.02 765,345 765.68,342.84 767.49,341.24 767.52,338.76 769.56,337.28 770,335 772.27,334.55 774.03,333.07 776.01,332.02 777.69,330.38 780,330 782.17,329.48 784.33,330.44 786.5,330.37 788.67,330.2 790.83,329.42 793,330 795.23,331.01 797.45,332.09 800,332" fill="none" stroke="#6e6e6e" stroke-width="1.1"/>
<polyline points="851.5,316.3 853.09,317.87 855.38,318.04 856.97,319.61 859.1,320.1 860.87,321.76 862.02,323.88 863.74,325.58 864.9,327.7 866.38,325.84 867.21,323.49 869.07,321.92 870.6,320.1 872.32,318.44 873.96,316.66 876.6,316.23 878.2,314.4 880.5,313.47 881.66,311.06 884.03,310.22 885.8,308.6 887.75,307.21 889.58,305.65 891.66,304.44 893.5,302.9 895.53,301.98 897.12,300.31 899.09,299.29 901.11,298.35 903,297.2 905.25,296.96 907.11,295.92 908.9,294.75 910.6,293.4 911.98,291.93 913.91,291.01 915.42,289.67 916.3,287.7 917.14,285.51 916.26,283.15 916.83,280.94 917.2,278.7" fill="none" stroke="#6e6e6e" stroke-width="1.1"/>
<polyline points="811.5,323.9 812.63,322.17 812.33,319.95 813.4,318.2 815.62,317.88 817.2,316.29 819.03,315.2 821,314.4 823.82,315.04 826.7,315.3 828.94,316.5 830.82,318.13 832.4,320.1 833.19,322.6 834.15,325.06 834.4,327.7 836.46,325.99 838.04,323.81 840,322 841.9,320.51 843.8,319.04 846,318 848.62,316.72 851.5,316.3" fill="none" stroke="#6e6e6e" stroke-width="1.1"/>
<polyline points="851.5,316.3 852,318.67 852.19,321.1 852.74,323.46 853.4,325.8 853.08,327.97 852.76,330.14 853,332.31 853.94,334.49 853.85,336.66 853.47,338.83 853.4,341 853.89,343.21 853.3,345.57 853.99,347.75 854.72,349.93 855.22,352.13 855.3,354.4 857.51,355.99 859.1,358.2 860.94,360.22 863,362 863.7,364.28 865.98,365.5 866.8,367.7" fill="none" stroke="#6e6e6e" stroke-width="1.1"/>
<polyline points="917.2,278.7 919.57,278.69 921.28,280.66 923.6,280.8 925.09,282.36 927.46,282.74 928.65,284.7 930.65,285.59 932.1,287.2 934.54,286.27 936.62,284.8 938.4,282.9 939.88,284.54 940.7,286.62 942.05,288.34 943.55,289.96 944.56,291.91 945.83,293.69 946.9,295.6 948.01,297.34 948.41,299.51 949.78,301.09 951.8,302.28 952.44,304.31 953.3,306.2 953.71,308.35 955.04,309.95 956.3,311.59 957.3,313.39 958.3,315.18 959.6,316.8 960.48,318.85 960.45,321.04 961,323.14 961.49,325.25 961.05,327.52 961.7,329.6" fill="none" stroke="#6e6e6e" stroke-width="1.1"/>
<polyline points="917.2,278.7 915.78,276.76 914.52,274.74 914.29,272.21 913,270.2 911.44,268.61 910.74,266.46 908.9,265.07 908.78,262.51 907.16,260.97 905.44,259.5 904.5,257.5 903,259.04 900.63,258.85 898.77,259.67 897.36,261.39 895.71,262.63 893.27,262.3 891.8,263.9" fill="none" stroke="#6e6e6e" stroke-width="1.1"/>
<polyline points="902.4,206.6 903.15,208.68 905.31,209.71 906.68,211.33 907.94,213.03 908.7,215.1 909.41,217.41 910.34,219.61 911.22,221.83 913,223.6 914.53,225.11 916.27,226.34 917.92,227.68 919.82,228.7 921.5,230 923.64,229.52 925.61,228.35 927.69,227.64 930,227.8 932.1,228.39 934.2,228.28 936.3,228.54 938.4,228.18 940.5,227.8 942.57,228.79 944.94,229.02 946.64,230.93 948.96,231.28 951.1,232.1 953.14,233.03 955.29,233.24 957.43,233.6 959.6,233.71 961.69,234.32 963.9,234.2 965.56,235.69 966.81,237.59 968.6,238.95 970.2,240.5 971.86,242.05 973.26,243.92 975.11,245.24 977.05,246.43 978.93,247.71 980.8,249 981.74,247.04 983.79,245.93 984.53,243.81 985.75,242.07 987.2,240.5 987.99,242.54 989.75,243.88 990.73,245.79 992.64,247 993.5,249 994.46,250.94 995.48,252.84 997.19,254.21 998.18,256.13 999.9,257.5 1001.4,256.17 1002.98,254.91 1004.09,253.19 1005.35,251.62 1007.47,250.91 1008.4,249 1010.61,248.16 1012.9,247.51 1014.58,245.61 1016.8,244.8 1018.78,243.4 1021.1,242.7 1022.63,244.32 1024.15,245.95 1026.32,246.93 1027.4,249 1029.65,248.76 1031.61,250 1033.91,249.52 1035.99,250.11 1038,251.1" fill="none" stroke="#6e6e6e" stroke-width="1.1"/>
<polyline points="790,367.5 790.36,369.77 791.52,371.73 792.17,373.88 794.06,375.54 793.95,378 795,380 797.08,380.73 799.29,380.68 801.43,381.05 803.64,381.03 805.74,381.64 807.84,382.27 810,382.5 812.26,382.02 814.05,380.6 815.97,379.43 817.87,378.24 820,377.5 821.18,375.76 821.34,373.59 821.75,371.52 823.28,369.93 824,368" fill="none" stroke="#6e6e6e" stroke-width="1.1"/>
<polyline points="817.5,385 818.32,387 818.86,389.06 818.91,391.22 819.7,393.23 819.73,395.39 820,397.5 822.03,398.26 823.31,400.03 824.94,401.33 826.81,402.31 828.04,404.15 830,405 832.26,403.46 835.24,404.05 837.5,402.5 836.9,400.53 835.98,398.63 835.82,396.54 835.38,394.53 835,392.5" fill="none" stroke="#6e6e6e" stroke-width="1.1"/>
<polyline points="837.5,412.5 836.14,414.11 835.79,416.33 834.84,418.19 833.4,419.76 831.78,421.21 831.34,423.38 830,425 827.72,425.45 825.92,426.85 823.99,427.99 821.92,428.85 820,430 818.42,431.42 816.98,432.98 815.15,434.15 813.79,435.79 812.5,437.5 811.48,439.49 811.21,441.85 809.92,443.71 809.03,445.76 807.5,447.5 806.1,449.36 805.15,451.39 805.18,453.82 803.79,455.68 803.98,458.18 802.5,460 801.46,461.86 802.18,464.17 800.5,465.87 800.28,467.94 800,470 798.46,471.73 797.62,473.81 797.06,476.03 796.59,478.3 795,480" fill="none" stroke="#6e6e6e" stroke-width="1.1"/>
<polyline points="772.5,467.5 774.45,468.59 776.77,467.83 778.66,469.2 780.82,469.23 782.77,470.33 785,470 787,470.09 789,469.89 791,469.33 793,469.88 795,470 794.26,472 794.22,474 795.4,476 794.5,478 795,480" fill="none" stroke="#6e6e6e" stroke-width="1.1"/>
<polyline points="795,480 794.92,482.26 795.38,484.53 794.1,486.76 794.54,489.03 794.7,491.3 796.35,493.15 797.7,495.3 800.41,496.09 801.7,498.3 803.54,499.61 805.93,499.64 807.93,500.56 809.8,501.8 812.15,501.51 814.5,502.18 816.85,502.51 819.2,501.8 820.97,500.5 822.06,498.53 823.8,497.2 826.29,497.17 828.5,498.3 829.96,500.5 830.8,503 832.68,502.16 834.73,502.2 836.7,501.8 838.73,500.94 840.51,499.49 842.59,498.75 844.8,498.3 847.4,497.68 849.61,496.25 851.8,494.8 853.44,493.08 856.03,492.97 857.7,491.3 859.41,490.08 861.1,488.85 863.22,488.26 864.7,486.7 866.62,485.78 868.14,484.27 869.85,483.02 871.7,482 875.2,480.8" fill="none" stroke="#6e6e6e" stroke-width="1.1"/>
<polyline points="805,500 805.91,501.92 805.37,504.02 805.91,505.98 805.34,508.08 806.07,510.02 806.46,512 806.05,514.09 807.34,515.96 806.7,518.07 807.5,520 808.85,521.81 809.77,523.91 810.63,526.04 812.5,527.5 811.52,529.38 811.34,531.46 810.53,533.38 811.24,535.68 810,537.5 808.85,539.44 807.02,540.93 805.91,542.9 805,545 806.48,546.37 808.16,547.55 809.46,549.11 810.79,550.63 812.58,551.71 813.08,554.07 815,555 815.79,557.11 816.96,559.02 818.45,560.77 819.25,562.87 820,565" fill="none" stroke="#6e6e6e" stroke-width="1.1"/>
<polyline points="832.5,510 833.49,512.01 834.36,514.07 835.78,515.86 835.88,518.31 837.5,520 839.34,521.33 841.31,522.37 843.53,522.94 845.26,524.48 847.5,525 849.41,525.86 851.46,526.14 853.65,525.89 855.52,526.92 857.5,527.5 857.27,529.68 858.41,531.52 859.19,533.45 859.3,535.55 860,537.5 861.73,539.06 862.73,541.1 863.38,543.37 865,545 866.04,546.98 867.16,548.92 867.32,551.34 868.97,553.02 870,555 871.8,556.7 873.97,558.03 875.14,560.36 877,562 877.76,564 878.83,565.88 878.6,568.24 880,570 881.54,571.49 883.29,572.72 884.64,574.45 886.77,575.2 887.86,577.26 890,578" fill="none" stroke="#6e6e6e" stroke-width="1.1"/>
<polyline points="890,578 891.89,579.22 893.18,580.92 894.12,582.91 895.82,584.27 896.17,586.73 898,588 900.54,587.96 902.65,589.39 905,590 906.88,588.76 909.25,588.5 910.76,586.51 912.88,585.77 915,585 916.88,583.76 918.82,582.64 920.64,581.29 922.95,580.91 925,580" fill="none" stroke="#6e6e6e" stroke-width="1.1"/>
<polyline points="918,560 920.33,560.74 922.67,560.08 925,560 927.73,560.79 930,562.5" fill="none" stroke="#6e6e6e" stroke-width="1.1"/>
<polyline points="870,592 871.22,593.71 873.47,594.04 874.5,595.99 876.59,596.55 878,598 880.23,599.03 882.73,599.1 885,600" fill="none" stroke="#6e6e6e" stroke-width="1.1"/>
<polyline points="882.5,600 882.89,602.03 883.38,604.03 884.07,605.98 884.27,608.06 885,610 884.04,612.02 883.04,614.02 882.49,616.25 881.53,618.26 880,620 878.19,621.52 877.13,623.8 875,625 873.13,626.47 871.62,628.29 870,630 869.82,632.04 868.78,633.92 868.98,636.04 868.53,638.03 868,640" fill="none" stroke="#6e6e6e" stroke-width="1.1"/>
<polyline points="712.5,507.5 713.63,509.44 713.14,511.71 713.65,513.77 714.8,515.71 715.32,517.77 715,520 714.93,522.2 716.34,523.96 717.11,525.91 717.14,528.08 718,530 718.27,532.29 720.08,533.88 720.04,536.3 721.87,537.88 722.5,540 721.76,542 722.17,544 723.1,546 721.82,548 722.5,550 720.86,551.33 718.99,552.11 716.82,552.11 715,553 712.22,553.29 710,555 708.34,556.68 705.68,556.35 703.83,557.67 701.85,558.7 700,560" fill="none" stroke="#6e6e6e" stroke-width="1.1"/>
<polyline points="700,560 702.31,559.63 703.81,557.62 706.01,557.02 707.74,555.48 710,555 712.23,554.68 714.28,555.29 716.21,556.47 718.41,556.28 720.36,557.35 722.5,557.5 724.52,558.25 726.65,558.42 728.89,558.07 730.96,558.56 732.98,559.26 735,560 737.11,559.44 739.39,559.93 741.49,559.27 743.56,558.48 745.63,557.69 747.83,557.7 750,557.5 752.03,558.52 754.2,558.75 756.47,558.29 758.62,558.65 760.75,559.05 762.81,559.92 765,560 767.08,560.55 769.17,559.52 771.25,560.11 773.33,559.2 775.42,560.1 777.5,560 779.49,561.01 780.42,563.08 782.26,564.24 783.2,566.3 785,567.5 787.16,568.15 789.03,569.52 791.21,570.1 793.43,570.6 795.24,572.11 797.5,572.5 799.58,572.34 801.67,571.93 803.75,571.71 805.83,572.42 807.92,572.14 810,572.5 811.71,571.01 814.02,570.41 815.86,569.11 817.5,567.5" fill="none" stroke="#6e6e6e" stroke-width="1.1"/>
<polyline points="810,572.5 810.88,574.56 811.6,576.7 813.33,578.34 813.45,580.78 815,582.5 816.06,584.44 817.49,586.01 819.35,587.15 821.19,588.31 822.5,590 822.86,592.27 824.74,593.94 824.93,596.28 826.37,598.12 826.24,600.59 827.5,602.5 828.23,605.03 828.74,607.64 830,610" fill="none" stroke="#6e6e6e" stroke-width="1.1"/>
<polyline points="830,610 831.99,610.43 834.07,610.44 835.92,611.58 837.91,612.07 840,612 842.1,611.31 843.69,609.5 845.83,608.92 847.89,608.16 850,607.5" fill="none" stroke="#6e6e6e" stroke-width="1.1"/>
<polyline points="660,548 662.13,548.74 663.81,550.39 666.3,550.41 668,552 670.08,552.17 672.04,552.83 673.85,554.11 676.06,553.76 677.96,554.65 680,555 682.25,555.24 684.2,556.18 685.88,557.79 687.97,558.41 689.86,559.49 692,560 694,559.91 696,559.98 698,559.52 700,560" fill="none" stroke="#6e6e6e" stroke-width="1.1"/>
<polyline points="700,560 699.97,562.09 699.81,564.18 698.87,566.2 698.7,568.28 699.47,570.44 699,572.5 699.14,574.63 699.64,576.63 700.49,578.51 702.39,580.03 701.61,582.47 703.36,584.04 703.21,586.27 704.83,587.88 705,590 705.24,592.16 705.87,594.26 705.77,596.48 706,598.64 706.24,600.8 706.62,602.94 707.5,605 705.77,606.31 704.85,608.22 703.71,609.97 702.14,611.4 701.09,613.22 700,615 699.53,617.08 700.19,619.17 699.27,621.25 699.38,623.33 700.49,625.42 700,627.5" fill="none" stroke="#6e6e6e" stroke-width="1.1"/>
<polyline points="700,627.5 701.24,625.62 702.48,623.73 704.11,622.11 705,620 707.3,619.75 709.2,618.33 711.45,617.93 713.63,617.33 715.82,616.75 718.08,616.4 720,615 722.08,615.74 724.19,616.3 726.39,616.33 728.63,616.06 730.77,616.45 732.99,616.36 735,617.5 737.14,617.51 739.29,616.95 741.43,617.16 743.57,616.94 745.71,616.71 747.86,617.93 750,617.5 752.07,617.73 753.94,618.74 755.84,619.63 758.08,619.17 760,620 762.06,619.11 763.73,617.47 765.73,616.45 768.14,616.29 770,615 772.16,614.86 773.81,616.76 776.1,616.12 777.85,617.59 780,617.5 781.14,619.69 783.82,620.35 785,622.5 787.57,623.61 790,625" fill="none" stroke="#6e6e6e" stroke-width="1.1"/>
<polyline points="790,625 791.41,623.55 792.52,621.8 794.83,621.26 796.18,619.75 797.42,618.14 798.95,616.81 800,615 801.93,613.84 804.25,614.58 806.13,613.14 808.3,613.16 810.41,612.9 812.5,612.5 814.43,611.29 816.69,610.9 818.72,609.93 820.55,608.47 822.79,608.02 825,607.5 827.49,608.77 830,610" fill="none" stroke="#6e6e6e" stroke-width="1.1"/>
<polyline points="790,625 790.24,627.07 790.81,629.05 791.37,631.03 792.02,633 792,635.12 793.59,636.85 793.84,638.92 793.86,641.04 795.04,642.87 795,645 793.74,646.67 793.05,648.69 791.32,650.08 791.03,652.33 789.18,653.65 787.98,655.36 787.5,657.5 788.2,659.59 788.6,661.72 789.31,663.81 789.27,666.01 789.68,668.15 789.61,670.36 790,672.5 790.12,674.87 791.97,676.55 792.17,678.88 793.55,680.75 794.4,682.82 795,685 795.43,687.14 794.45,689.29 794.25,691.43 795.44,693.57 794.65,695.71 794.65,697.86 795,700 795.72,702.14 797.16,703.92 798.55,705.73 798.69,708.16 800,710 802.02,710.96 804.05,711.89 805.79,713.42 808.24,713.52 810,715" fill="none" stroke="#6e6e6e" stroke-width="1.1"/>
<polyline points="830,610 830.89,611.93 831.96,613.77 833.09,615.57 833.63,617.7 835.11,619.32 836.51,620.98 836.81,623.23 838,625 839.76,626.25 839.68,628.79 841.23,630.19 843.25,631.26 844.23,633.05 845,635 844.88,637.21 845.76,639.13 846.62,641.06 847.54,642.96 848,645 847.07,647.04 846.7,649.2 847.39,651.56 845.87,653.49 846.23,655.79 845.01,657.77 845,660 845.31,662.29 843.69,664.19 844.22,666.53 842.68,668.45 842.14,670.57 842.41,672.85 842,675 842.18,677.21 841.82,679.34 840.55,681.35 840.59,683.54 840.18,685.66 839.79,687.79 840,690 839.34,692.17 837.8,693.9 837.63,696.31 835.95,697.97 835,700 833.94,701.97 833.68,704.34 831.96,705.98 830.79,707.89 830,710 829.1,712.22 827.72,714.14 825.93,715.8 825,718 823.4,720.08 823.52,722.89 822,725" fill="none" stroke="#6e6e6e" stroke-width="1.1"/>
<polyline points="868,640 866.88,642.08 864.9,643.3 862.65,644.25 861.9,646.7 860,648 857.59,649.22 855,650 853.55,648.33 851.87,646.98 849.76,646.23 848,645" fill="none" stroke="#6e6e6e" stroke-width="1.1"/>
<polyline points="900,660 901.44,661.78 902.07,663.96 902.72,666.14 904.42,667.79 905,670 905.48,672.26 907.36,673.82 908.51,675.75 909.08,677.96 910,680 911.23,681.89 911.69,684.16 912.37,686.32 913.34,688.33 915,690" fill="none" stroke="#6e6e6e" stroke-width="1.1"/>
<polyline points="810,715 812.23,716.1 813.11,718.55 815,720 816.71,721.3 818.14,723.01 819.84,724.32 822,725 824.09,724.48 826.14,723.87 828.03,722.82 830,722 832.01,721.64 834.12,721.81 836.08,721.21 837.95,720.16 840,720 842.13,720.26 843.89,718.65 846.1,719.31 848.11,718.95 850,718 851.86,716.86 853.84,716 855.88,715.3 857.99,714.79 860,714 861.85,712.55 863.6,710.93 865.74,709.97 868.31,709.71 870,708 872.03,706.85 873.64,705 875.68,703.86 877.8,702.86 880,702 881.86,703.11 883.85,703.57 886.16,702.42 888.02,703.52 890,704 891.91,704.83 894.14,704.09 895.98,705.32 898.14,704.92 900,706 902.05,705.7 904.04,705.14 906.09,704.87 908,704" fill="none" stroke="#6e6e6e" stroke-width="1.1"/>
<polyline points="700,627.5 699.26,629.63 700.02,631.97 699.43,634.12 698.7,636.24 699.15,638.54 697.77,640.57 698.58,642.92 697.5,645 698,647 697.17,649 696.96,651 697.68,653 697.5,655 697.09,657.27 697.59,659.39 699,661.36 699.42,663.49 698.75,665.8 699.34,667.91 700,670 698.54,671.83 698.99,674.43 697.42,676.22 696.82,678.4 695.85,680.42 695,682.5 695.4,684.75 696.19,686.86 697.68,688.75 697.3,691.26 698.33,693.3 698.91,695.48 700,697.5 700.27,699.61 700.58,701.72 700.53,703.89 701.18,705.93 702.12,707.91 702.5,710" fill="none" stroke="#6e6e6e" stroke-width="1.1"/>
<polyline points="702.5,710 704.36,711.27 706.67,711.87 707.87,714.13 710,715 712.09,715.41 713.62,717.04 715.96,716.9 717.66,718.16 719.33,719.46 721.12,720.52 722.85,721.7 725,722 727.19,722.65 729.41,723.22 731.51,724.13 733.44,725.51 735.54,726.4 738.03,726.24 740,727.5 742.2,727.51 744.25,726.56 746.36,725.99 748.64,726.46 750.65,725.33 752.87,725.42 755,725 756.4,723.06 758.07,721.41 760,720 761.93,719.22 764.07,720.05 766.06,719.72 768.05,719.4 770.03,719.01 772.01,718.58 774.01,718.31 776.03,718.22 777.99,717.65 780,717.5 781.84,716.38 783.92,716.16 785.93,715.73 788.05,715.69 790,715 792,715.55 794,714.95 796,714.84 798,714.78 800,715.12 802,715.3 804,715.04 806,714.63 808,715.53 810,715" fill="none" stroke="#6e6e6e" stroke-width="1.1"/>
<polyline points="750,725 750.88,727.06 751.74,729.13 753.02,730.99 754.02,732.99 755,735 755.66,737.03 755.31,739.27 756.62,741.18 757.3,743.21 757.6,745.31 757.5,747.5 756.99,749.57 756.09,751.55 756.19,753.74 756.56,755.98 755.81,758 755,760 754.89,762.35 753.85,764.38 753.12,766.52 751.53,768.37 751.45,770.72 750.23,772.7 750,775 748.82,776.99 749.15,779.48 748.41,781.61 746.47,783.35 747.18,785.96 745.8,787.89 745,790 743.57,791.79 743.37,794.18 741.63,795.81 740.45,797.73 740,800" fill="none" stroke="#6e6e6e" stroke-width="1.1"/>
<polyline points="702.5,710 700.26,710.71 698.44,712.03 697.28,714.35 695,715 693.64,716.98 691.96,718.62 690,720 688,719.63 686,720.01 684,719.88 682,719.58 680,720 677.94,720.88 675.76,721.51 674.29,723.57 671.92,723.85 670,725 668,724.27 666,724.78 664,725.62 662,724.42 660,725 657.79,725.27 656.4,727.17 654.4,727.87 652.55,728.85 650.92,730.27 648.67,730.47 647,731.82 645,732.5 643,732.99 641,732.28 639,731.94 637,732.34 635,732.5 632.75,732.93 630.72,733.89 628.74,734.98 626.4,735.17 624.42,736.26 622.5,737.5 620.42,737.38 618.33,737.73 616.25,737.88 614.17,736.81 612.08,737.15 610,737.5 608.54,735.76 607.01,734.08 606.26,731.87 605,730" fill="none" stroke="#6e6e6e" stroke-width="1.1"/>
<polyline points="697.5,655 694.97,654.25 692.48,653.4 690,652.5 687.97,651.44 685.77,651.44 683.65,650.94 681.32,651.72 679.26,650.86 677.17,650.22 675,650 673,650.06 671,650.59 669,650.13 667,650.05 665,650 663.17,648.84 661.15,648.39 658.91,648.88 657.09,647.62 655,647.5 653.09,648.37 651.04,648.66 649.16,649.64 647.06,649.74 645,650 643.02,651.09 641.06,652.22 639.29,653.62 637.5,655 635.39,655.89 633.8,657.58 631.67,658.44 630,660 627.88,659.98 625.87,659.5 623.96,658.66 622.12,657.51 620,657.5 618.09,658.37 615.91,658.12 614.04,659.16 612.17,660.19 610,660 607.84,659.94 605.85,659.1 603.67,659.17 601.58,658.79 599.7,657.31 597.5,657.5 595.71,656.43 593.78,655.61 592.06,654.42 590.11,653.63 588.69,651.94 586.69,651.24 585,650" fill="none" stroke="#6e6e6e" stroke-width="1.1"/>
<polyline points="606,557 605.08,559.08 604.85,561.26 604.35,563.4 605.45,565.79 605.09,567.95 604,570 604.85,572.07 604.69,574.41 605.43,576.51 605.63,578.75 606.24,580.88 607.48,582.84 608,585 608.65,587.17 609.93,589.15 609.49,591.66 611.34,593.46 611.61,595.75 612,598 612.75,599.97 613.17,602.05 614.34,603.89 614.82,605.95 615.81,607.84 616,610 616.57,612.11 616.55,614.29 617.59,616.33 616.52,618.65 616.86,620.79 616.93,622.96 618,625 618.29,627.02 619.26,628.91 619.3,630.98 619.43,633.03 620,635 620.47,636.99 620.73,639.01 621.5,640.94 621.26,643.07 622,645 619.76,646.23 617.22,646.74 615,648 613.11,648.96 611.06,649.12 609.09,649.64 607.09,650.03 605,650 603.03,649.47 601.12,648.59 599.03,648.66 597.01,648.36 595,648 592.92,647.99 591.03,648.96 589.08,649.62 587.09,650.03 585,650" fill="none" stroke="#6e6e6e" stroke-width="1.1"/>
<polyline points="585,650 585.59,652.08 584.8,654.17 584.56,656.25 585.7,658.33 584.9,660.42 585,662.5 583.05,663.55 582.17,665.67 581.02,667.52 578.46,667.96 577.5,670 576.62,672.06 575.08,673.79 574.2,675.85 573.61,678.05 572.5,680 571.52,682 571.36,684.09 572.52,686.31 572.35,688.4 570.74,690.33 571.27,692.49 571.7,694.64 570.02,696.56 570.16,698.68 570.3,700.8 568.15,700.81 566.28,702.16 564.09,702 562.15,703 560,703 557.6,702.84 555.47,704.05 553.11,704.09 550.89,704.84 548.6,705.2 547.2,703.42 545.29,702.47 543.14,701.91 541.68,700.22 539.38,699.92 537.7,698.6 537.31,696.6 535.83,694.96 535.29,693.01 534.66,691.09 534.44,689.04 533.68,687.16 532.69,685.36 533.18,683.07 531.86,681.38 530.62,679.66 531.13,677.37 529.97,675.63 528.79,673.89 528.24,671.94 528.08,669.87 527.79,667.83 526.9,666 524.7,665.2 522.82,663.58 520.42,663.28 518.33,662.17 516,661.7 514.1,662.73 511.98,663.23 510.22,664.63 508.11,665.14 506.24,666.25 503.84,666.03 501.82,666.75 500,668 498.07,667.38 496.24,666.52 494.59,665.22 492.5,664.99 490.64,664.21 489,662.87 487.08,662.23 485,662" fill="none" stroke="#6e6e6e" stroke-width="1.1"/>
<polyline points="585,680 585.68,682.15 587.19,683.96 586.84,686.51 588.42,688.3 589.24,690.39 590,692.5 591.91,693.68 593.83,694.84 595.78,695.93 597.75,697 600,697.5 601.11,699.47 601.16,701.87 602.18,703.88 603.39,705.81 604.81,707.66 605,710 604.41,712.18 603.8,714.36 603.1,716.51 601.94,718.5 601.88,720.87 601.11,722.99 600,725 602.16,726.17 603.03,728.63 605,730 604.57,732.02 604.37,734.04 605.04,736.05 605.39,738.06 605.51,740.08 605.1,742.1 607.18,743.04 609.57,742.71 611.5,744.26 613.8,744.3 615.81,745.54 618.18,745.88 620.14,747.23 622.43,747.76 624.6,748.6 626.63,749.32 628.3,750.65 630.29,751.45 632.21,752.37 633.97,753.54 635.5,755.1 635.34,757.28 636.19,759.46 635.38,761.64 635.01,763.82 635.5,766 633.38,767.13 632.42,769.42 630.19,770.44 629,772.5" fill="none" stroke="#6e6e6e" stroke-width="1.1"/>
<polyline points="560,440 561.41,442.05 562.36,444.36 563.18,446.76 565.1,448.5 567.01,450.25 567.4,452.9 568.27,455.27 570.2,457 570.96,459.03 571.67,461.07 571.48,463.3 571.9,465.4 573.51,467.14 574.26,469.31 574.44,471.75 575.67,473.67 576.9,475.6 575.79,478.05 575.3,480.7 574.13,482.48 572.87,484.19 572.1,486.27 570.2,487.5 568.5,490.8 566.94,492.15 564.93,492.81 563.4,494.2 563.25,496.6 561.23,498.26 560.18,500.31 560,502.7 558.2,504.3 556.6,506.1 557.35,508.68 558.3,511.2 559.42,512.91 559.91,515.04 561.7,516.3 560.11,518.6 560,521.4 560.95,523.87 561.7,526.4 562.24,528.5 561.88,530.78 563.03,532.76 563.4,534.9 563.41,537.31 562.23,539.43 561.7,541.7 558.96,541.98 556.6,543.4 553.2,541.7 552.41,539.13 551.5,536.6 548.1,534.9 545.51,534.32 543.1,533.2 541.63,531.27 539.77,529.73 538,528.1 537.04,525.97 537.1,523.57 536.3,521.4 534.6,518" fill="none" stroke="#6e6e6e" stroke-width="1.1"/>
<polyline points="534.6,518 534.7,520.4 533.85,522.56 532.9,524.7 535.01,525.99 536.8,527.6 537.66,530.14 539.7,531.5 540.72,533.82 542.11,535.96 543.1,538.3 544.7,541.7 544.23,544.27 542.06,546.02 541.4,548.5 541.46,550.72 541.12,552.86 540.3,554.91 539.7,557 537.43,557.55 535.17,557.15 532.9,557 530.34,556.19 527.8,555.3 526,553.9 523.68,554.07 521.75,553.05 519.46,553.12 517.6,551.9 515.18,551.08 512.97,549.83 510.8,548.5 508.54,546.94 505.8,546.8 503.8,545.92 502.11,544.64 500.57,543.15 499,541.7 497.75,539.98 496.54,538.23 494.74,536.92 493.9,534.9 493.75,532.72 492.81,530.7 492.78,528.49 492.2,526.4 491.23,523.94 490.5,521.4 487.84,520.87 485.4,519.7 483.13,520.24 480.87,520.33 478.6,519.7 475.99,520.22 473.6,521.4 473.61,523.48 472.71,525.4 472.99,527.53 471.7,529.39 471.9,531.5 471.16,533.47 471.94,535.7 470.42,537.54 470.61,539.67 470.2,541.7 469.21,543.88 469.25,546.19 469.82,548.56 468.45,550.69 468.19,552.96 468.5,555.3" fill="none" stroke="#6e6e6e" stroke-width="1.1"/>
<polyline points="468.5,555.3 470.44,556.61 472.52,557.54 475.06,557.31 477,558.6 479.26,559.61 481.22,561.12 483.58,561.96 485.4,563.7 487.24,565.49 487.62,568.15 489.45,569.94 490.5,572.2 490.46,574.3 490.5,576.39 491.61,578.31 491.47,580.43 492.2,582.4 493.25,584.3 492.37,586.53 493.79,588.36 493.04,590.57 493.9,592.5 494.48,595 494.33,597.66 495.6,600 494.46,602.23 493.9,604.68 493,607" fill="none" stroke="#6e6e6e" stroke-width="1.1"/>
<polyline points="561.7,524.7 563.99,523.73 566.23,522.68 568.44,521.57 570.2,519.7 572.68,520.75 575.3,521.4 577.34,523.64 578.6,526.4 579.1,528.52 580.31,530.17 582,531.5 584.21,532.74 586.56,533.71 588.8,534.9 591.01,536.14 593.36,537.11 595.6,538.3 597.03,539.84 598.8,540.87 600.7,541.7 600.43,543.74 600.57,545.78 600.61,547.82 601.29,549.86 600.7,551.9 602.62,553.38 604.47,554.93 605.8,557" fill="none" stroke="#6e6e6e" stroke-width="1.1"/>
<polyline points="660,501 657.21,501.12 654.9,502.7 652.74,502.45 650.54,502.41 648.67,500.69 646.4,501 644.05,501.1 641.88,501.94 639.7,502.7 639.95,505.06 641.21,507.03 642.95,508.79 643.1,511.2 642.68,513.33 642.94,515.45 642.52,517.58 643.1,519.7 642.92,521.78 641.23,523.42 641.06,525.5 641.15,527.66 640.2,529.51 639.7,531.5 638.53,533.73 636.52,535.12 634.6,536.6 632.68,537.4 631.36,539.1 629.5,540 629.2,542.33 627.69,544.36 627.8,546.8 625.63,548.03 624.2,550 622.7,551.9 621.06,553.12 619.02,553.74 617.6,555.3 614.83,555.49 612.5,557 610.27,557.66 608.03,557.6 605.8,557" fill="none" stroke="#6e6e6e" stroke-width="1.1"/>
<polyline points="605,437 604.83,439.19 606.83,440.73 607.13,442.78 606.81,445.01 607.33,446.99 608.42,448.81 608.96,450.78 609.7,452.7 610.75,454.89 612.06,456.87 613.64,458.64 615.6,460.1 615.88,462.48 617.08,464.56 618.13,466.68 618.6,469 619.34,471.11 619.96,473.28 621.5,475 620.58,476.86 619.98,478.8 620,480.9 621.11,483.16 623.1,484.76 624.5,486.8 625.8,488.95 627.41,490.86 629,492.8 631.38,494 634.08,494.36 636.4,495.7 637.53,493.93 639.3,492.8" fill="none" stroke="#6e6e6e" stroke-width="1.1"/>
<polyline points="645.3,454.2 644.72,456.38 642.7,457.83 642.3,460.1 641.48,462.19 639.83,463.86 639.3,466.1 640.8,469" fill="none" stroke="#6e6e6e" stroke-width="1.1"/>
<polyline points="645.3,454.2 648.25,454.33 651.2,454.2 653.16,455.72 654.83,457.64 657.2,458.6 658.7,460.71 660.87,461.95 663.1,463.1 665.02,464.09 666.77,465.35 668.4,466.83 670.5,467.5 672.39,469.1 674.65,470.21 676.4,472 677.26,474.14 676.42,476.57 678.22,478.56 677.9,480.9 678.66,483.12 677.86,485.35 678.41,487.57 677.9,489.8 678.32,492.27 677.68,494.73 677.9,497.2 675.74,497.82 673.95,499.17 672,500.2 669.68,498.97 667.1,499.06 664.6,498.7 663.28,500.35 661.35,501.38 660.1,503.1 657.8,503.21 655.65,502.38 653.46,501.83 651.2,501.7 649.07,502.65 646.77,502.51 644.44,502.21 642.3,503.1 640.69,505.28 639.3,507.6 638.63,510.55 639.3,513.5 640.61,515.52 641.1,517.92 642.3,520" fill="none" stroke="#6e6e6e" stroke-width="1.1"/>
<polyline points="682.4,431.9 683.87,430.15 685.84,428.84 686.54,426.44 688.16,424.82 689.48,422.95 691.3,421.5 692.07,419.24 694.33,417.92 694.51,415.29 696.32,413.69 697.3,411.56 698.7,409.7 700.66,408.7 701.19,406.27 702.73,404.85 704.55,403.71 706.1,402.3 707.78,400.95 709.87,400.85 711.97,400.76 713.5,398.97 715.71,399.2 717.67,398.69 719.5,397.8" fill="none" stroke="#6e6e6e" stroke-width="1.1"/>
<polyline points="933,102 930.83,101.82 928.67,102.44 926.5,102.77 924.33,102.24 922.17,102.43 920,102 919.2,104.03 920.05,106.29 919.54,108.36 919.42,110.49 919.12,112.59 917.9,114.56 917.31,116.62 917.77,118.82 917.49,120.93 917,123 916.82,125.2 915.71,127.18 916.12,129.52 915.04,131.51 915.02,133.75 913.44,135.62 913.27,137.82 913,140 912.37,142.04 912.72,144.22 912.44,146.31 911.22,148.27 911.52,150.44 911.21,152.53 911.5,154.69 910.22,156.65 909.96,158.74 909.67,160.83 910,163 908.45,165.1 908.23,167.76 907,170 904.43,170.45 902.3,171.93 900,173 898.24,174.74 897.03,177.03 895.16,178.66 893,180 891.83,181.71 890.6,183.4 890.04,185.39 889.2,187.26 888.4,189.14 888.38,191.38 887,193 888.34,194.88 890.16,196.37 890.98,198.7 893,200 895.24,200.98 897.68,201.29 900,202 902,205 899.48,205.95 897,207 896.28,208.98 894.96,210.54 893.31,211.87 892.61,213.86 891.26,215.4 890,217 890.1,219.21 889.07,221.08 887.55,222.8 887.22,224.89 887,227 884.57,227.76 882.21,228.72 880,230 880.91,231.85 882.05,233.53 883.89,234.73 884.79,236.58 886.04,238.19 887,240 887.69,242.12 887.61,244.42 889.08,246.37 889.41,248.57 888.89,250.97 890,253 890.62,254.99 891.49,256.91 891.72,259.02 892.57,260.95 893,263 894.62,261.47 897.03,261.58 899.08,260.95 900.88,259.79 902.65,258.56 904.5,257.5" fill="none" stroke="#6e6e6e" stroke-width="1.1"/>
<polygon points="847,65 848.42,63.48 850.43,62.81 851.65,61 853.66,60.32 855.52,59.43 857,58 858.89,58.27 860.6,57.56 862.23,56.47 864.25,57.39 865.98,56.83 867.6,55.64 869.41,55.46 871.25,55.47 873,55 874.84,54.99 876.68,54.9 878.49,55.23 880.21,56.32 882.05,56.35 883.94,55.74 885.69,56.64 887.6,55.87 889.32,57.04 891.12,57.41 893,57 894.88,57.08 896.6,57.62 897.98,59.14 900.01,58.8 901.3,60.58 903.37,60.13 904.83,61.39 906.36,62.47 908.43,62.04 910,63 911.08,64.78 912.44,66.28 914.79,66.78 915.59,68.84 917.67,69.62 918.74,71.4 920,73 920.72,74.83 921.87,76.44 922.19,78.47 924.15,79.68 924.03,81.92 924.87,83.69 926.16,85.23 927,87 927.85,88.84 929.15,90.49 929.09,92.69 930.53,94.29 930.9,96.31 931.27,98.34 932.11,100.18 933,102 930,101.5 928.33,100.15 925.99,99.9 924.59,98.09 922.7,97.1 921.05,95.64 919.14,94.61 916.92,94.1 915.3,92.6 913.33,92.67 911.37,93.25 909.4,92.02 907.43,92.14 905.47,91.94 903.5,92.6 901.46,93.45 899.57,94.55 897.59,95.49 896,97.1 893.98,97.42 892.34,98.68 890.48,99.38 888.72,100.36 886.49,100.13 884.89,101.51 883.32,102.94 881.2,103 879.3,102.87 877.53,102.12 875.6,102.11 873.8,101.5 872.82,99.81 872.69,97.81 872.02,96 871.31,94.21 870.28,92.53 870.4,90.44 869.17,88.84 868.52,87.02 867.9,85.2 865.99,85.77 864.07,85 862.16,85.83 860.24,84.74 858.33,84.94 856.41,85.34 854.5,85.2 853.17,83.58 851.86,81.94 850.14,80.71 848.6,79.3 847.27,77.72 847.36,75.63 846.6,73.84 846,72 846.1,69.63 846.93,67.37" fill="#0b0a92" stroke="#0b0a92" stroke-width="0.7"/>
<polygon points="890.5,119 892.7,118.22 895,117.8 896.89,118.91 899,119.5 899.19,121.37 898.8,123.18 898.5,125 896.49,126.48 894,126.7 891.88,125.53 890,124 889.78,121.45" fill="#0b0a92" stroke="#0b0a92" stroke-width="0.7"/>
<polygon points="811.5,323.9 812.02,321.96 812.84,320.12 813.4,318.2 815.27,317.19 816.97,315.84 819,315.16 821,314.4 822.92,314.59 824.88,314.46 826.7,315.3 828.43,316.13 829.54,317.71 831.19,318.65 832.4,320.1 832.21,322.18 833.87,323.78 834.18,325.73 834.4,327.7 835.69,329.26 837,330.8 838.94,331.71 840.1,333.4 841.96,334.09 843.03,335.82 845.09,336.24 846.01,338.18 847.7,339.1 849.83,339.03 851.56,340.17 853.4,341 853.24,342.96 853.21,344.95 852.6,346.83 851.54,348.61 851.5,350.6 850.48,352.37 850.3,354.42 849.6,356.3 847.9,357.65 845.7,358 843.96,359.28 842,360.1 840.08,361.34 837.83,362.08 836.3,363.9 834.54,365.23 832.4,365.8 830.53,366.41 828.66,367 826.7,367.22 824.8,367.7 824.64,365.64 822.99,364.08 822.9,362 821.78,360.47 820.97,358.7 819.92,357.11 818.59,355.73 817.2,354.4 815.3,354.36 813.4,354.32 811.5,355.14 809.6,354.4 807.44,353.52 805.43,352.42 803.9,350.6 802.4,349.23 801.45,347.29 799.72,346.15 798.1,344.9 798.46,342.91 797.53,341.06 797.52,339.11 797.2,337.2 798.63,335.76 800.6,335 801.9,333.4 803.92,332.26 805.75,330.85 807.7,329.6 808.45,327.35 810.03,325.66" fill="#0b0a92" stroke="#0b0a92" stroke-width="0.7"/>
<polygon points="798.1,363.9 799.79,362.47 801.9,361.89 804,361.31 805.8,360.1 806.62,362.06 807.8,363.84 808.6,365.8 807.33,367.25 805.68,368.07 803.9,368.7 801.87,368.95 800.12,367.54 798.1,367.7 798.05,365.8" fill="#0b0a92" stroke="#0b0a92" stroke-width="0.7"/>
<polygon points="481.1,399.2 482.15,397.32 482.68,395.26 483.2,393.2 485.25,391.72 487.2,390.1 489.53,390.54 491.87,390.18 494.2,390.1 496.33,390.93 498.3,392.1 499.49,393.61 500.73,395.07 502.3,396.2 504.26,397.17 505.79,398.67 507.3,400.2 509.71,401.15 511.3,403.2 512.4,400.2 511.03,398.37 510.3,396.2 508.37,395.13 507.3,393.2 508.3,390.1 510.3,388.1 512.12,387.7 513.94,388.34 515.76,388.72 517.58,387.9 519.4,388.1 521.36,389.17 523.11,390.68 525.4,391.1 527.44,391.57 529.13,392.63 530.5,394.2 531.9,395.86 533.5,397.28 535.5,398.2 536.79,399.82 538.74,400.36 540.5,401.2 539.86,403.57 540.96,405.93 540.5,408.3 542.11,409.2 543.68,410.21 545.6,410.3 546.73,412.58 548.6,414.3 550.62,415.28 551.6,417.3 551.64,419.85 551.6,422.4 549.95,423.18 548.6,424.4 549.11,426.4 548.6,428.4 550.47,430.08 552.6,431.4 554.63,432.14 556.67,431.62 558.7,431.4 559.61,433.84 561.7,435.4 561.67,437.57 560.7,439.5 558.65,439.55 556.6,439.5 554.34,438.28 552.6,436.4 550.64,435.73 548.6,435.4 547.16,434.03 544.96,433.92 543.6,432.4 541.24,431.33 539.5,429.4 538.21,427.78 535.98,427.72 534.5,426.4 531.97,425.48 529.5,424.4 527.75,423.05 526.4,421.3 525.92,423.19 524.4,424.4 523.3,422.81 521.27,422.12 520.4,420.3 519.17,418.96 518.31,417.36 517.95,415.43 516.4,414.3 515.1,412.15 513.4,410.3 511.5,409.47 510.77,407.25 508.64,406.69 507.3,405.2 504.97,406.64 502.3,407.2 500.32,406.62 498.3,406.2 496.55,408.14 494.2,409.3 491.2,410.3 488.95,409.07 487.2,407.2 484.78,406.27 483.2,404.2 482.41,402.57 481.96,400.8" fill="#0b0a92" stroke="#0b0a92" stroke-width="0.7"/>
<polygon points="680,537.5 681.74,536.24 683.52,535.02 684.21,532.71 685.96,531.46 687.5,530 689.31,529.46 690.59,527.85 692.52,527.54 694.04,526.42 695.94,526.04 697.5,525 699.45,524.09 700.88,522.67 701.32,520.24 703.33,519.4 704.53,517.74 705.92,516.27 707.5,515 709.58,515.01 711.36,515.92 713,517.25 715,517.5 716.48,518.7 718.51,518.8 720,520 719.92,522.11 721.54,523.65 722.05,525.57 722.5,527.5 722.47,529.63 723.93,531.39 724.14,533.46 724.5,535.5 725,537.5 724.4,539.28 723.73,541.03 722.5,542.5 720.41,542.07 718.56,543.48 716.55,543.65 714.47,543.27 712.5,543.75 710.41,544.19 708.59,542.55 706.41,543.68 704.55,542.34 702.5,542.5 700.37,542.28 698.38,543.37 696.26,543.21 694.21,543.79 692.14,544.07 690,543.75 688.18,543.12 686.14,543.79 684.42,542.51 682.5,542.5 682.17,540.58 680.4,539.39" fill="#0b0a92" stroke="#0b0a92" stroke-width="0.7"/>
<polygon points="717.5,640 719.59,639.17 721.68,638.34 724,638.5 726.15,638.73 728.34,638.75 730.42,639.36 732.5,640 732.06,642.05 732.26,644.05 733,646 731.59,647.52 730.4,649.16 729.64,651.05 729,653 728.14,654.6 727.6,656.4 726.06,657.54 725,659 724.75,661.02 723.86,662.93 723.25,664.88 723.5,667 723.47,668.89 723.2,670.73 722.5,672.5 721.41,674.15 719.72,675.38 719.18,677.41 718,679 716.33,680.45 715.75,682.68 714.02,684.08 713,686 711.88,687.57 712.46,689.63 711.08,691.13 711,693 710.88,695.47 712.19,697.62 712.5,700 714.46,700.36 716.38,700.86 717.98,702.3 720,702.5 721.51,701.18 723.4,700.78 725.19,700.1 727,699.5 729.02,699.32 730.96,700.46 732.97,700.34 735,700 736.76,700.96 738.83,701.01 740.49,702.28 742.5,702.5 742.55,704.35 742.91,706.13 743.36,707.9 743.32,709.76 744.1,711.46 744.06,713.33 745,715 744.64,716.87 744.07,718.7 743.96,720.61 744.21,722.58 743.1,724.32 743.02,726.23 743.22,728.19 742.5,730 743.43,731.89 743.07,734.11 743.48,736.13 744.12,738.09 745,740 745.46,741.93 745.81,743.9 746.43,745.77 747.5,747.5 748.67,749 748.7,751.07 750.25,752.38 750.33,754.42 752.17,755.58 752.5,757.5 751.9,759.38 750.77,761.09 751.26,763.34 750,765 749.43,766.95 748.13,768.57 748.08,770.76 746,772.03 745.37,773.96 745,776 744.36,777.8 743.61,779.55 743.01,781.36 742,783 739.5,783.56 737,783 735.38,781.82 733.77,780.63 732.27,779.33 731.85,776.95 730,776 728.97,774.26 729,772.03 728.05,770.25 726.17,768.89 725.42,767.02 725,765 724.33,763.25 723.57,761.55 723.16,759.67 721.17,758.58 721.39,756.39 720,755 719.74,753 719,751.17 717.95,749.43 718.14,747.29 717.41,745.45 715.91,743.86 716.18,741.69 715,740 714.77,738.17 713.22,736.78 713.1,734.92 713.31,732.94 712.01,731.47 711.02,729.9 711,728 710.16,726.06 710.07,724.05 710.88,721.97 710.79,719.96 710.48,717.97 710,716 710.22,714.04 709.39,712.39 708.71,710.69 708.57,708.84 707.5,707.25 707.22,705.44 706.22,703.83 706,702 704.86,700.42 704.01,698.66 703.6,696.64 702.03,695.31 701.2,693.54 700,692 698.94,690.26 697.02,689.58 695.07,688.94 694.45,686.64 692.5,686 693.64,684.38 694.8,682.78 695.27,680.82 696,679 696.68,677.29 698.32,676.21 699.14,674.6 700,673 701.23,671.65 702.8,670.61 704.23,669.45 705.49,668.13 706.03,666.13 707.5,665 709.09,663.85 709.83,662.06 710.76,660.42 712,659 712.2,657.02 714.07,655.74 714.18,653.72 715,652 714.77,649.59 715.79,647.35 716,645 716.06,642.29" fill="#0b0a92" stroke="#0b0a92" stroke-width="0.7"/>
<polygon points="639,733.8 640.68,732.63 642.8,732.34 644.77,731.76 646.4,730.49 648.3,729.76 650.11,728.84 651.7,727.5 653.14,725.79 654.39,723.89 655.97,722.32 658,721.2 660.03,721.88 661.78,723.12 663.76,723.9 665.48,725.2 667.5,725.9 669.51,725.58 671.07,723.93 673.03,723.48 674.88,722.69 677,722.7 678.94,722.67 680.68,721.36 682.75,722.14 684.64,721.74 686.5,721.2 687.93,722.47 689.5,723.59 690.75,725.05 691.78,726.72 692.85,728.36 694.15,729.75 696,730.6 695.95,732.41 696.54,734.23 695.86,736.04 696.27,737.86 696.55,739.67 695.39,741.49 696,743.3 694.7,745.17 692.89,746.54 691.66,748.48 689.7,749.7 687.91,750.45 686.36,751.54 685.33,753.42 683.38,753.91 682.06,755.37 680.2,756 678.86,757.42 677.07,758.16 675.06,758.56 674.18,760.68 671.97,760.78 670.7,762.3 668.88,761.6 667.54,760.19 665.63,759.63 664.33,758.15 662.49,757.5 661.2,756 660.57,754 658.25,753.26 657.07,751.66 656.04,749.96 654.99,748.27 654.48,746.17 652.52,745.16 651.7,743.3 649.91,742.76 648.06,742.46 646.38,741.48 644.37,741.83 642.55,741.41 640.7,741.13 639,740.2 638.53,738.07 638.46,735.93" fill="#0b0a92" stroke="#0b0a92" stroke-width="0.7"/>
<polygon points="518.2,737.7 520.38,737.87 522.55,737.95 524.73,736.99 526.9,737.7 528.2,738.99 529.12,740.56 530.27,741.96 531.52,743.29 531.82,745.32 533.4,746.4 534.76,748.39 534.84,750.81 535.6,753 535.91,755.01 537.38,756.43 538.13,758.22 539.46,759.71 540,761.6 541.2,763.23 541.23,765.31 542.29,766.99 542.4,769.05 543.49,770.72 544.3,772.5 544.91,774.36 546.34,775.82 547.48,777.42 547.99,779.34 548.6,781.2 549.95,782.45 551.61,783.39 552.76,784.84 554.24,785.96 555.1,787.7 553.05,788.79 550.84,789.37 548.6,789.9 546.43,790.33 544.27,789.51 542.1,789.9 539.89,788.82 537.7,787.7 535.9,788.11 534.1,787.29 532.3,788.11 530.5,787.32 528.7,787.91 526.9,787.7 525.11,788.2 523.32,788.71 521.42,788.66 519.61,789.04 517.75,789.18 516,789.9 514.13,790.43 512.46,791.47 510.47,791.73 508.73,792.6 506.81,793 505.2,794.2 503.3,794.39 501.4,793.49 499.5,793.66 497.6,793.64 495.7,794.44 493.8,794.62 491.9,794.19 490,794.2 490.27,791.89 491.45,789.88 492.1,787.7 492.49,785.71 494.42,784.5 494.42,782.32 495.23,780.54 496.5,779 497.37,776.89 497.68,774.59 498.6,772.5 500.79,771.74 502.97,770.93 505.2,770.3 506.8,769.24 507.04,767.16 508.71,766.15 509.57,764.53 510.46,762.93 511.7,761.6 511.97,759.59 513.88,758.39 513.65,756.13 514.9,754.6 516,753 517.37,751.53 517.59,749.29 519.29,748.04 520.4,746.4 519.72,744.26 519.99,741.88 519.21,739.76" fill="#0b0a92" stroke="#0b0a92" stroke-width="0.7"/>
<polygon points="568,744 568.29,741.95 568.95,739.99 568.98,737.87 570,736 572.5,738 572.99,740.1 572.73,742.2 572.5,744.3 570.25,744.2" fill="#0b0a92" stroke="#0b0a92" stroke-width="0.7"/>
<polygon points="579,777 580.48,775.85 581.7,774.34 583.22,773.25 585,772.5 587.03,773.18 589,774 589.45,775.77 588.9,777.68 590.2,779.34 590,781.2 587.85,781.53 586.12,779.8 584,780 582.63,778.5 580.42,778.4" fill="#0b0a92" stroke="#0b0a92" stroke-width="0.7"/>
<polygon points="696,805 697.94,805.06 699.8,804.81 701.6,804.31 703.11,802.63 705.17,803.19 706.92,802.48 708.7,801.9 709.93,803.83 711.38,805.54 713.4,806.7 713.4,809.8 711.47,810.42 709.53,810.44 707.6,809.14 705.67,809.63 703.73,809.14 701.8,809.24 699.87,809.46 697.93,809.27 696,809.8 696.27,807.4" fill="#0b0a92" stroke="#0b0a92" stroke-width="0.7"/>
<polygon points="855.6,500 857.83,500.25 860.05,499.67 862.27,499.71 864.5,500 864.24,502.23 863.5,504.42 864,506.7 862,506.4 860,506.27 858,507.42 856,506.7 855.71,504.48 855.69,502.24" fill="#0b0a92" stroke="#0b0a92" stroke-width="0.7"/>
<polygon points="888.9,585.7 889.46,583.64 891.4,582.52 892.04,580.52 893.4,579 894.49,577.32 895.5,575.59 896.78,574.02 897.8,572.3 899.44,571.15 900.98,569.84 903.12,569.45 904.5,567.9 906.35,566.71 908.07,565.36 909.77,563.99 911.2,562.3 913,560.69 914.27,558.68 915.6,556.7 917.9,554.5 920.1,553.81 922.3,554.5 923.89,556.31 925.7,557.9 924,558.93 923.12,560.59 922.3,562.3 921.17,564.01 921.26,566.2 920.1,567.9 918.82,569.91 917.56,571.94 915.6,573.4 913.61,574.85 912.14,576.72 911.2,579 909.59,580.74 908.67,583.05 906.7,584.5 904.92,585.09 903.6,586.59 901.62,586.79 900.1,587.9 897.96,588.85 895.59,588.37 893.4,589 892.33,587.32 890.66,586.44" fill="#0b0a92" stroke="#0b0a92" stroke-width="0.7"/>
<polygon points="850.6,606.7 852.8,606.16 854.53,604.83 856.15,603.33 858,602.2 859.19,600.67 860.63,599.49 862.4,598.77 864,597.8 865.18,596.01 865.19,593.91 865.5,591.9 867.49,593.25 869.9,593.3 870.93,595.23 873.09,596.06 873.94,598.18 875.8,599.3 877.8,598.83 879.8,599.2 881.8,599.3 882.36,601.55 883.2,603.7 881.63,604.85 881.59,607.13 880.5,608.64 878.8,609.7 877.2,611.07 875.34,612.16 874.3,614.1 871.95,614.42 869.9,615.6 867.86,614.75 866.06,613.42 864,612.6 861.81,612.02 859.95,610.77 858,609.7 856.1,608.92 854.17,608.3 852.1,608.2" fill="#0b0a92" stroke="#0b0a92" stroke-width="0.7"/>
<polygon points="826.9,663 828.35,661.5 828.26,659.24 829.09,657.44 830.69,656.01 831.3,654.1 832.79,652.61 834.08,650.92 835.68,649.55 837.3,648.2 839.51,647.68 841.11,645.96 843.2,645.2 844.87,643.92 846.2,642.3 848.1,643.3 849.1,645.2 849.52,647.09 851.48,647.95 852.1,649.7 853.94,650.86 855.1,652.7 858,654.1 860.13,653.41 862.11,652.39 864,651.2 865.96,650.72 867.45,649.08 869.51,648.84 871.4,648.2 873.07,646.8 874.9,645.66 876.8,644.64 878.8,643.8 880.63,642.63 882.47,641.5 884.63,640.89 886.2,639.3 886.53,637.53 886.82,635.74 886.41,633.84 887.66,632.22 887.7,630.4 889.26,629.15 891.22,629.09 893.02,628.56 894.87,628.14 896.6,627.4 898.45,627.66 900.3,627.4 902.15,627.09 904,627.4 905.87,625.36 908.5,624.5 910.35,623.53 912.34,623.14 914.4,623 915.52,624.89 915.68,627.26 917.3,628.9 917.92,630.93 918.33,633 917.6,635.23 918.51,637.22 918.8,639.3 916.78,640.2 914.8,641.16 912.9,642.3 911.75,643.74 910.55,645.14 910.11,647.11 908.5,648.2 907.91,650.01 907.15,651.78 907.97,653.87 907,655.6 905.26,656.86 903.88,658.48 902.5,660.1 901.02,661.19 899.77,662.59 898.03,663.34 896.6,664.5 895.12,666.13 894.14,668.07 892.84,669.81 892.1,671.9 891.18,673.89 891.42,676.2 890.73,678.24 889.33,680.09 889.2,682.3 887.27,682.3 885.5,683.03 883.56,682.99 881.8,683.8 879.82,682.76 877.87,681.65 875.8,680.8 874.14,679.2 871.79,679.01 869.9,677.9 868.62,676.18 866.9,674.9 864.44,673.79 862.5,671.9 860.3,672.7 860.35,674.64 859.97,676.54 859.07,678.4 859.45,680.36 859.5,682.3 857.39,682.18 855.8,680.8 855.65,682.81 855.12,684.78 855.1,686.8 853.98,688.61 853.78,690.65 853.6,692.7 852.26,694.34 850.88,695.92 849.1,697.1 846.69,697.05 844.7,695.7 844.35,693.93 843.52,692.24 843.46,690.42 843.26,688.62 843.2,686.8 842.48,684.66 841.16,682.82 840.2,680.8 838.44,680.08 836.98,678.97 835.76,677.52 834.3,676.4 832.71,675.02 831.88,672.89 829.9,671.9 828.3,669.77 826.9,667.5 826.84,665.25" fill="#0b0a92" stroke="#0b0a92" stroke-width="0.7"/>
<polygon points="875,705 876.88,705.51 878.75,704.96 880.62,705.31 882.5,704.31 884.38,705.51 886.25,704.89 888.12,705.17 890,705 889.92,707.06 888.75,708.75 886.79,709.33 884.82,709.47 882.86,708.46 880.89,708.32 878.93,709.39 876.96,708.5 875,708.75 875.15,706.88" fill="#0b0a92" stroke="#0b0a92" stroke-width="0.7"/>
<polygon points="594.5,652.5 596.91,651.77 599.3,651 600.9,653.3 597.7,654.9 595.3,655.7" fill="#0b0a92" stroke="#0b0a92" stroke-width="0.7"/>
<polygon points="606.5,557.9 608.33,557.18 610.17,557.26 612,557.9 614.08,557.2 616.27,556.86 618.32,556.07 620.3,555.1 622.17,555.18 623.92,554.27 625.78,554.27 627.65,554.34 629.46,553.98 631.3,553.8 633.16,555.14 635.63,554.59 637.52,555.84 639.6,556.5 641.65,556.65 643.7,557.13 645.75,556.29 647.8,556.5 649.33,557.58 650.81,558.77 653.03,558.45 654.51,559.64 656.1,560.6 657.51,561.89 659.72,561.62 660.72,563.7 662.67,563.95 664.3,564.8 666.42,564.9 668.35,566.08 670.41,566.56 672.6,566.2 674.9,566.1 677.2,565.77 679.5,566.2 680.8,568.11 683.4,568.38 684.55,570.48 686.4,571.7 687.8,573.15 689.76,573.77 691.43,574.83 692.71,576.48 694.6,577.2 696.58,578.15 698.85,577.2 700.76,578.6 702.9,578.5 704.87,579.16 706.17,580.9 708.22,581.42 709.8,582.7 710.36,584.47 711.05,586.19 712.22,587.72 712.5,589.6 712.13,591.46 711.75,593.31 711.1,595.1 709.13,595.72 707.33,596.68 705.6,597.8 703.53,598.44 701.27,598.52 699.56,600.23 697.4,600.6 695.4,601.51 693.13,601.58 691.33,603.11 689.1,603.3 687.36,604.41 685.72,605.72 683.6,606.1 681.71,607.28 679.5,607.5 679.94,609.54 680.33,611.58 680.87,613.6 680.9,615.7 679.98,617.68 679.5,619.8 681.63,621.08 683.6,622.6 685.23,623.72 686.64,625.06 687.3,627.15 689.1,628.1 690.77,629.71 691.9,631.71 693.2,633.6 694.36,635.32 695.18,637.21 696,639.1 696.42,641.41 696.3,643.83 697.4,646 696.51,647.98 696.68,650.15 696.12,652.19 696,654.3 695.92,656.56 694.6,658.4 692.55,658.13 690.5,658.4 689.47,656.7 687.89,655.54 686.4,654.3 684.59,652.78 683.75,650.52 682.2,648.8 680.6,647.63 679.17,646.29 678.1,644.6 676.15,643.93 674.21,643.26 672.6,641.9 670.18,641.04 668.5,639.1 666.62,637.42 664.3,636.4 662.41,637.19 660.32,637.57 658.8,639.1 658.34,641.15 657.46,642.99 656.1,644.6 654.52,646.33 652.7,647.74 650.6,648.8 648.79,649.74 646.78,650.28 645.1,651.5 643.17,649.89 640.9,648.8 639.98,646.96 638.1,646.07 636.8,644.6 635.03,643.62 633.6,642.3 632.57,640.58 631.3,639.1 629.34,637.9 627.97,635.92 625.8,635 623.98,633.61 621.99,632.46 620.3,630.9 620.19,628.6 618.9,626.7 620.54,625.34 621.39,623.51 622.41,621.78 623,619.8 624.11,618.27 624.44,616.42 624.53,614.46 625.8,613 628.02,611.84 629.9,610.2 632.09,611.19 634.63,610.51 636.8,611.6 638.68,611.89 640.33,612.76 641.72,614.28 643.7,614.3 645.61,615.08 647.53,615.84 649.2,617.1 650.99,615.68 653.01,614.56 654.7,613 655.97,611.42 656.59,609.46 658.19,608.07 658.8,606.1 659.94,604.37 660.48,602.34 661.6,600.6 663.08,598.73 665.71,598.38 667.1,596.4 668.9,595.46 669.47,593.3 671.2,592.3 669.07,591.08 667.1,589.6 665.21,590.75 663,590.9 661.35,589.26 659.72,587.6 658.8,585.4 657.22,583.98 655,583.86 653.3,582.7 651.67,583.8 650.93,585.79 649.2,586.8 648.08,588.47 648.78,590.6 647.8,592.3 646.44,593.69 645.1,595.1 642.3,593.7 641.79,591.58 640.9,589.6 641.24,587.73 642.35,586.07 642.3,584.1 640.97,582.68 639.6,581.3 637.61,581.47 636.03,579.98 634.1,579.9 632.23,579.7 630.37,579.43 628.5,579.9 626.26,581.03 624.4,582.7 622.42,581.8 620.3,581.3 620.03,579.13 617.77,577.97 617.5,575.8 617.16,573.61 616.71,571.47 614.86,569.78 614.8,567.5 612.71,566.47 611.02,564.92 609.3,563.4 608.54,561.48 606.87,560.02" fill="#8f0f37" stroke="#8f0f37" stroke-width="0.7"/>
<polygon points="605.6,590.6 608,591.4 609.04,592.95 610.06,594.51 611.06,596.09 612,597.7 613.41,599.49 614.07,601.8 615.9,603.3 614.72,604.88 613.6,606.5 612.15,605.1 610.4,604.1 609.46,602.48 608.44,600.92 606.43,600.22 605.6,598.5 604.79,596.61 603.2,595.3 604.56,593.03" fill="#8f0f37" stroke="#8f0f37" stroke-width="0.7"/>
<polygon points="507.5,548.5 509.52,548.18 511.46,547.34 513.53,547.27 515.51,546.71 517.6,546.8 518.26,548.82 520.3,549.91 521,551.9 522.92,552.89 524.59,554.19 525.77,556.16 527.8,557 528.86,558.97 528.11,561.31 529.74,563.17 529.5,565.4 530.56,567.26 532.42,568.52 533.22,570.58 534.6,572.2 534.6,575.6 532.48,576.77 530.18,577.18 527.8,577.3 526.86,575.35 525.82,573.47 524.48,571.82 522.7,570.5 519.97,570.18 517.6,568.8 517.15,566.5 516.13,564.35 515.9,562 514.1,560.43 512.06,559.11 510.8,557 510.53,555.15 509.6,553.55 508.45,552.04 507.89,550.3" fill="#8f0f37" stroke="#8f0f37" stroke-width="0.7"/>
<polygon points="563.5,600.9 564.84,599.45 566.42,598.34 568.3,597.7 571.5,597.7 571.91,599.85 571.89,602.11 573,604.1 573.52,606.47 573.13,608.83 573,611.2 571.4,612.75 569.9,614.4 568.1,612.87 565.9,612 563.5,609.6 563.25,607.22 562.7,604.9 562.39,602.76" fill="#8f0f37" stroke="#8f0f37" stroke-width="0.7"/>
<polygon points="575.4,600.9 577.75,601.58 580.2,601.7 583.4,603.3 585.65,604.54 587.3,606.5 587.51,608.49 588.1,610.4 585,611.2 581.8,612 579.3,612.5 577,613.6 576.15,611.22 575.4,608.8 575.05,606.44 574.6,604.1" fill="#8f0f37" stroke="#8f0f37" stroke-width="0.7"/>
<polygon points="577,620.8 579.28,619.7 581.8,620 583.4,622.3 582.16,623.98 580.2,624.7 578.93,626.25 577.8,627.9 576.27,629.25 575.4,631.1 573.42,631.33 571.5,631.9 570.7,629.5 571.89,627.93 573,626.3 576.2,624.7 576.24,622.68" fill="#8f0f37" stroke="#8f0f37" stroke-width="0.7"/>
<polygon points="586.5,648.6 588.54,647.99 589.7,646.2 591.6,647.11 593.7,647 595.73,646.26 597.7,645.4 600.1,646.2 599.3,649.4 596.9,649.77 594.5,650.2 592.22,651.31 589.7,651 587.3,652.5 587.56,650.41" fill="#8f0f37" stroke="#8f0f37" stroke-width="0.7"/>
<polygon points="535.6,683.4 537.09,682.08 539.29,682.69 540.97,681.9 542.82,681.53 544.3,680.2 546.16,680.54 548.05,680.75 549.69,681.85 551.52,682.28 553.21,683.17 555.1,683.4 554.65,685.67 556.18,687.68 556.66,689.83 556.2,692.1 555.02,693.86 553.3,695.18 552.24,697.05 550.8,698.6 549.91,696.84 548.95,695.11 546.97,694.08 546.4,692.1 544.25,691.81 542.1,692.1 539.91,691.04 537.7,690 537.54,687.63 536.92,685.4" fill="#8f0f37" stroke="#8f0f37" stroke-width="0.7"/>
<polygon points="712.5,510 714.55,509.41 715.94,507.51 718.29,507.51 720,506.25 722.36,506.39 723.93,508.52 726.25,508.75 725.69,510.62 725.82,512.5 726.64,514.38 726.25,516.25 724.36,516.64 723.45,518.67 721.86,519.57 720,520 718.16,519.51 716.66,518.36 715,517.5 713.86,515.8 714.02,513.66 713.12,511.88" fill="#8f0f37" stroke="#8f0f37" stroke-width="0.7"/>
<polygon points="789.8,630.4 791.38,629.41 792.53,627.83 794.35,627.17 795.8,626 797.44,624.97 799.23,624.41 801.07,623.99 802.94,623.65 804.7,623 806.81,622.28 808.9,621.52 810.6,620 812.53,621.07 814.73,621.61 816.5,623 818.37,623.28 820.35,623.03 822.02,624.29 823.9,624.5 825.75,624.92 827.6,624.55 829.45,625.2 831.3,624.5 833.03,626.04 835.09,626.88 837.3,627.4 836.56,629.65 835.8,631.9 833.31,631.94 831.3,633.4 830.3,635.35 829.18,637.24 828.4,639.3 827.51,641.17 828.02,643.39 826.9,645.2 824.76,644.14 822.4,643.8 821.83,641.92 823.06,640.05 821.91,638.17 822.4,636.3 820.01,636.2 818,634.9 816.21,635.57 814.29,635.56 812.42,635.81 810.6,636.3 808.92,637.86 806.57,638.11 804.7,639.3 802.98,640.14 801.44,641.2 800.2,642.67 798.7,643.8 796.62,645.43 794.3,646.7 793.35,644.71 792.66,642.59 791.3,640.8 790.61,638.78 791.35,636.55 790.34,634.57 789.38,632.58" fill="#8f0f37" stroke="#8f0f37" stroke-width="0.7"/>
<polygon points="790,657.5 790.52,659.33 791.39,660.97 792.5,662.5 790.39,663.4 788.75,665 789.56,663.21 788.72,661.14 789.12,659.28" fill="#8f0f37" stroke="#8f0f37" stroke-width="0.7"/>
<polygon points="791.3,672 792.8,670.9 794.59,670.19 795.55,668.39 797.2,667.5 798.93,666.4 801.08,667.41 802.95,667.02 804.7,666 806.38,667.56 808.72,667.82 810.6,669 809.91,671.22 809.1,673.4 807.22,673.62 805.37,674.01 803.4,673.79 801.7,674.9 799.5,675.41 797.71,676.61 796.28,678.42 794.3,679.3 792.28,678.38 791.3,676.4 790.83,674.2" fill="#8f0f37" stroke="#8f0f37" stroke-width="0.7"/>
<polygon points="849.1,642.3 850.63,641.15 850.72,639.05 852.1,637.8 853.6,639.3 853.34,641.33 852.88,643.3 852.1,645.2 849.5,646 849.61,644.12" fill="#8f0f37" stroke="#8f0f37" stroke-width="0.7"/>
<polygon points="849.1,654.1 851.25,654.27 853.2,653.61 855.1,652.7 857.31,653.36 859.5,654.1 858.77,656.22 857.73,658.18 856.6,660.1 854.27,660.61 852.1,661.6 850.9,659.4 849.9,657.1" fill="#8f0f37" stroke="#8f0f37" stroke-width="0.7"/>
<polygon points="840.2,686.8 842.4,686.2 844.19,684.78 846.2,683.8 846.09,685.92 847.48,687.66 847.7,689.7 846.05,691.37 845.15,693.42 844.7,695.7 842.85,695.8 841,695.7 840.65,693.49 840.62,691.25 840.79,688.99" fill="#8f0f37" stroke="#8f0f37" stroke-width="0.7"/>
<polygon points="800,700 801.88,699.46 803.75,699.96 805.62,700.55 807.5,700 807.32,701.96 807.78,703.81 808.76,705.57 808.75,707.5 806.63,707.15 804.69,706.05 802.5,706 801.01,704.27 800.37,702.19" fill="#8f0f37" stroke="#8f0f37" stroke-width="0.7"/>
<polygon points="830,717.5 832.56,717.16 835,718 835.95,719.78 836.58,721.74 837.36,723.62 839,725 837.93,726.88 836.68,728.61 835,730 832.5,729.66 830,730 829.91,727.92 829.89,725.83 829.74,723.75 830.49,721.67 829.42,719.58" fill="#8f0f37" stroke="#8f0f37" stroke-width="0.7"/>
<polygon points="798.9,700.6 800.83,700.46 802.81,700.59 804.49,698.99 806.39,698.67 808.4,699 809.15,700.9 808.95,703 809.5,704.94 810,706.9 808.1,706.66 806.2,706.79 804.3,706.9 802.4,707.39 800.5,706.9 800.38,704.7 799.87,702.59" fill="#8f0f37" stroke="#8f0f37" stroke-width="0.7"/>
<polygon points="849.1,608.2 850.99,607.87 852.78,608.08 854.55,608.43 856.1,610.13 858,609.7 859.86,610.22 861.37,611.45 863.28,611.87 864.89,612.9 866.25,614.41 868.27,614.62 869.9,615.6 871.4,618.6 870.35,620.52 868.58,621.72 866.9,623 864.86,623.23 862.89,623.69 861,624.5 859.21,623.14 857.03,622.57 855.1,621.5 853.22,619.48 850.6,618.6 850.58,616.48 850.05,614.43 849.59,612.38 849.53,610.26" fill="#8f0f37" stroke="#8f0f37" stroke-width="0.7"/>
<polygon points="876.7,561.2 878.06,559.67 880,559 882.41,558.75 884.52,557.63 886.7,556.7 888.9,556.7 890.67,557.75 892.3,559 893.59,557.64 893.96,555.61 895.6,554.5 894.5,551.2 896.48,551.42 898.14,549.99 900.1,550.1 902.42,550.44 904.42,548.9 906.7,549 908.24,547.92 909.94,547.05 911.2,545.6 913.31,544.71 915.6,544.5 917.85,544.46 920.05,543.93 922.33,544.13 924.5,543.4 923.25,544.95 922.3,546.7 919.79,547.25 917.9,549 917.02,550.84 915.6,552.3 913.4,554.5 911.94,556.38 910.1,557.9 909.62,560.41 907.9,562.3 906.31,564.07 904.5,565.6 902.61,567.35 900.1,567.9 897.54,568.36 895.6,570.1 893.27,569.87 891.11,570.69 888.9,571.2 886.7,571.48 884.5,570.84 882.3,571.2 880.12,570.36 877.8,570.1 877.05,567.93 877.47,565.62 876.44,563.49" fill="#8f0f37" stroke="#8f0f37" stroke-width="0.7"/>
<polygon points="880,534.5 881.89,533.94 882.91,532.18 884.5,531.2 886.6,530.24 888.9,530 890.2,527.88 891.2,525.6 893.34,524.88 895.6,524.84 897.8,524.5 898.23,526.47 899.83,527.96 900.1,530 902.3,528.9 904.66,528.55 906.6,526.92 909,526.7 912.3,525.6 913.07,527.77 912.58,530.14 913.4,532.3 911.06,533.13 909,534.5 907.1,534.7 905.31,535.44 903.4,535.6 901.53,535.7 899.67,536 897.8,535.6 895.57,536.04 893.4,536.7 891.39,537.26 890.1,538.9 887.72,538.87 885.6,537.8 882.3,538.9 880.95,536.8" fill="#8f0f37" stroke="#8f0f37" stroke-width="0.7"/>
<polygon points="855.6,518.9 857.93,518.06 860,516.7 861.82,517.29 863.64,517.93 865.6,517.8 866.13,520 868.36,521.2 868.9,523.4 867.39,524.44 865.96,525.6 864.5,526.7 862.39,526.81 860.53,527.57 858.9,528.9 857.65,527.2 855.6,526.7 855.79,524.75 855.03,522.8 855.56,520.85" fill="#8f0f37" stroke="#8f0f37" stroke-width="0.7"/>
<polygon points="828.5,480.8 830.33,479.77 832.39,479.33 834.3,478.5 836.39,478.31 838.31,478.91 840.2,479.7 838.95,481.23 839,483.2 837.1,483.75 835.16,484.05 833.2,484.3 831.29,484.43 829.7,485.5 829.4,483.07" fill="#8f0f37" stroke="#8f0f37" stroke-width="0.7"/>
<polygon points="828.5,493.7 830.16,492.82 832,492.5 832.32,494.53 833.34,496.2 834.05,498.04 835.5,499.5 833.2,501.8 831.13,501.14 829.7,499.5 829.29,497.57 829.11,495.59" fill="#8f0f37" stroke="#8f0f37" stroke-width="0.7"/>
<polygon points="875.2,490.2 877.08,489.98 878.7,489 879.76,490.65 881.05,492.12 882.2,493.7 880.86,495.47 878.7,496 876.3,493.7 876.33,491.77" fill="#8f0f37" stroke="#8f0f37" stroke-width="0.7"/>
<polygon points="865.6,510 867.8,509.57 870,510 869.41,511.91 869.42,513.83 869.79,515.74 869.25,517.66 870.4,519.57 870.63,521.49 870,523.4 866.5,523.4 866.16,521.5 866.55,519.55 866.16,517.65 865.58,515.77 866.33,513.8 865.16,511.95" fill="#0b0a92" stroke="#0b0a92" stroke-width="0.7"/>
<polygon points="887.8,527.8 889.73,526.05 892.3,525.6 894.53,525.45 896.77,526.19 899,525.6 898.63,527.55 899.18,529.5 899.53,531.45 899,533.4 896.99,535 894.5,535.6 892.81,536.86 892.3,538.9 892.15,541.32 893.4,543.4 890.1,544.5 888.81,543.12 887.31,541.9 886.7,540 886.41,538.04 887.91,536.43 887.8,534.5 887.6,532.27 887.92,530.03" fill="#0b0a92" stroke="#0b0a92" stroke-width="0.7"/>
</g>
<text class="lb" x="272.5" y="329" text-anchor="middle" dominant-baseline="central">新疆维吾尔自治区</text>
<text class="lb" x="286" y="558" text-anchor="middle" dominant-baseline="central">西藏自治区</text>
<text class="lb" x="450" y="403.3" text-anchor="middle" dominant-baseline="central">甘肃省</text>
<text class="lb" x="452.5" y="481" text-anchor="middle" dominant-baseline="central">青海省</text>
<text class="lb" x="633" y="451.7" text-anchor="middle" dominant-baseline="central">宁夏回族自治区</text>
<text class="lb" x="818.3" y="288.3" text-anchor="middle" dominant-baseline="central">内蒙古自治区</text>
<text class="lb" x="985" y="178.3" text-anchor="middle" dominant-baseline="central">黑龙江省</text>
<text class="lb" x="956.7" y="266" text-anchor="middle" dominant-baseline="central">吉林省</text>
<text class="lb" x="911" y="331.7" text-anchor="middle" dominant-baseline="central">辽宁省</text>
<text class="lb" x="808" y="372.5" text-anchor="middle" dominant-baseline="central">北京市</text>
<text class="lb" x="830" y="388.75" text-anchor="middle" dominant-baseline="central">天津市</text>
<text class="lb" x="795" y="418.75" text-anchor="middle" dominant-baseline="central">河北省</text>
<text class="lb" x="743.3" y="435" text-anchor="middle" dominant-baseline="central">山西省</text>
<text class="lb" x="845" y="456.25" text-anchor="middle" dominant-baseline="central">山东省</text>
<text class="lb" x="686.7" y="506.7" text-anchor="middle" dominant-baseline="central">陕西省</text>
<text class="lb" x="762.5" y="521.7" text-anchor="middle" dominant-baseline="central">河南省</text>
<text class="lb" x="885" y="522" text-anchor="middle" dominant-baseline="central">江苏省</text>
<text class="lb" x="843.75" y="562.5" text-anchor="middle" dominant-baseline="central">安徽省</text>
<text class="lb" x="950.6" y="562.5" text-anchor="middle" dominant-baseline="central">上海市</text>
<text class="lb" x="765.8" y="591" text-anchor="middle" dominant-baseline="central">湖北省</text>
<text class="lb" x="908.75" y="616.25" text-anchor="middle" dominant-baseline="central">浙江省</text>
<text class="lb" x="560" y="613.3" text-anchor="middle" dominant-baseline="central">四川省</text>
<text class="lb" x="653.3" y="626.7" text-anchor="middle" dominant-baseline="central">重庆市</text>
<text class="lb" x="743.3" y="670" text-anchor="middle" dominant-baseline="central">湖南省</text>
<text class="lb" x="822.5" y="663.75" text-anchor="middle" dominant-baseline="central">江西省</text>
<text class="lb" x="878.75" y="692.5" text-anchor="middle" dominant-baseline="central">福建省</text>
<text class="lb" x="647.5" y="691.7" text-anchor="middle" dominant-baseline="central">贵州省</text>
<text class="lb" x="543.3" y="746" text-anchor="middle" dominant-baseline="central">云南省</text>
<text class="lb" x="688.3" y="763.3" text-anchor="middle" dominant-baseline="central">广西壮族自治区</text>
<text class="lb" x="807.6" y="757.6" text-anchor="middle" dominant-baseline="central">广东省</text>
<text class="lb" x="945.4" y="736.4" text-anchor="middle" dominant-baseline="central">台湾省</text>
<text class="lb" x="822.5" y="789.2" text-anchor="middle" dominant-baseline="central">香港</text>
<text class="lb" x="791" y="799.7" text-anchor="middle" dominant-baseline="central">澳门</text>
<text class="lb" x="716.6" y="864.3" text-anchor="middle" dominant-baseline="central">海南省</text>
<g stroke="#262626" stroke-width="1.9" fill="none">
<rect x="44" y="44" width="1123" height="856"/>
<line x1="187" y1="35" x2="187" y2="44"/>
<line x1="404.5" y1="35" x2="404.5" y2="44"/>
<line x1="613" y1="35" x2="613" y2="44"/>
<line x1="821.5" y1="35" x2="821.5" y2="44"/>
<line x1="1039" y1="35" x2="1039" y2="44"/>
<line x1="274.5" y1="900" x2="274.5" y2="909"/>
<line x1="612" y1="900" x2="612" y2="909"/>
<line x1="951.5" y1="900" x2="951.5" y2="909"/>
<line x1="35" y1="44" x2="44" y2="44"/>
<line x1="35" y1="289.3" x2="44" y2="289.3"/>
<line x1="35" y1="534.3" x2="44" y2="534.3"/>
<line x1="35" y1="769.8" x2="44" y2="769.8"/>
<line x1="1167" y1="50" x2="1176" y2="50"/>
<line x1="1167" y1="295" x2="1176" y2="295"/>
<line x1="1167" y1="538.5" x2="1176" y2="538.5"/>
<line x1="1167" y1="774" x2="1176" y2="774"/>
</g>
<text class="tk" transform="translate(187,31) scale(1,1.1)" x="0" y="0" text-anchor="middle">75°0'0"E</text>
<text class="tk" transform="translate(404.5,31) scale(1,1.1)" x="0" y="0" text-anchor="middle">90°0'0"E</text>
<text class="tk" transform="translate(613,31) scale(1,1.1)" x="0" y="0" text-anchor="middle">105°0'0"E</text>
<text class="tk" transform="translate(821.5,31) scale(1,1.1)" x="0" y="0" text-anchor="middle">120°0'0"E</text>
<text class="tk" transform="translate(1039,31) scale(1,1.1)" x="0" y="0" text-anchor="middle">135°0'0"E</text>
<text class="tk" transform="translate(274.5,926) scale(1,1.1)" x="0" y="0" text-anchor="middle">90°0'0"E</text>
<text class="tk" transform="translate(612,926) scale(1,1.1)" x="0" y="0" text-anchor="middle">105°0'0"E</text>
<text class="tk" transform="translate(951.5,926) scale(1,1.1)" x="0" y="0" text-anchor="middle">120°0'0"E</text>
<text class="tk" transform="translate(30.8,44.5) rotate(-90) scale(1,1.1)" x="0" y="0" text-anchor="middle">50°0'0"N</text>
<text class="tk" transform="translate(30.8,290) rotate(-90) scale(1,1.1)" x="0" y="0" text-anchor="middle">40°0'0"N</text>
<text class="tk" transform="translate(30.8,535) rotate(-90) scale(1,1.1)" x="0" y="0" text-anchor="middle">30°0'0"N</text>
<text class="tk" transform="translate(30.8,770.5) rotate(-90) scale(1,1.1)" x="0" y="0" text-anchor="middle">20°0'0"N</text>
<text class="tk" transform="translate(1192.2,51.3) rotate(-90) scale(1,1.1)" x="0" y="0" text-anchor="middle">50°0'0"N</text>
<text class="tk" transform="translate(1192.2,295.2) rotate(-90) scale(1,1.1)" x="0" y="0" text-anchor="middle">40°0'0"N</text>
<text class="tk" transform="translate(1192.2,538.3) rotate(-90) scale(1,1.1)" x="0" y="0" text-anchor="middle">30°0'0"N</text>
<text class="tk" transform="translate(1192.2,775) rotate(-90) scale(1,1.1)" x="0" y="0" text-anchor="middle">20°0'0"N</text>
<g stroke-linejoin="miter"><polygon points="131.5,127 131.5,79.5 139.5,111" fill="#fff"/><polygon points="131.5,127 139.5,111 155.7,103.4" fill="#000"/><polygon points="131.5,127 155.7,103.4 147.5,119.6" fill="#fff"/><polygon points="131.5,127 147.5,119.6 178.5,127" fill="#000"/><polygon points="131.5,127 178.5,127 148,135" fill="#fff"/><polygon points="131.5,127 148,135 155.7,151.5" fill="#000"/><polygon points="131.5,127 155.7,151.5 139.5,143" fill="#fff"/><polygon points="131.5,127 139.5,143 131.5,175.2" fill="#000"/><polygon points="131.5,127 131.5,175.2 123.5,143" fill="#fff"/><polygon points="131.5,127 123.5,143 107.7,151.5" fill="#000"/><polygon points="131.5,127 107.7,151.5 115.5,135.4" fill="#fff"/><polygon points="131.5,127 115.5,135.4 83.9,127" fill="#000"/><polygon points="131.5,127 83.9,127 114.7,119.6" fill="#fff"/><polygon points="131.5,127 114.7,119.6 107.7,103.4" fill="#000"/><polygon points="131.5,127 107.7,103.4 123.9,111" fill="#fff"/><polygon points="131.5,127 123.9,111 131.5,79.5" fill="#000"/><polygon points="131.5,79.5 139.5,111 155.7,103.4 147.5,119.6 178.5,127 148,135 155.7,151.5 139.5,143 131.5,175.2 123.5,143 107.7,151.5 115.5,135.4 83.9,127 114.7,119.6 107.7,103.4 123.9,111" fill="none" stroke="#000" stroke-width="0.9"/></g>
<g font-family="Liberation Serif,serif" font-size="11.5" fill="#111" text-anchor="middle"><text x="132" y="76.5">N</text><text x="132" y="186.5">S</text><text x="76" y="131.5">W</text><text x="185" y="131.5">E</text></g>
<rect x="44" y="718" width="224" height="182" fill="#fff" stroke="#1a1a1a" stroke-width="2"/>
<text x="55" y="751" font-family="Liberation Serif,Noto Serif CJK SC,serif" font-weight="bold" font-size="17.5px" fill="#222">中国生态产品价值实现试点</text>
<rect x="51" y="763.5" width="49" height="24.5" fill="#e7a0bd"/>
<text class="lg" x="110" y="776" dominant-baseline="central">2021年以前试点</text>
<rect x="51" y="797" width="49" height="24.5" fill="#8f0f37"/>
<text class="lg" x="110" y="809.5" dominant-baseline="central">2021年试点地区</text>
<rect x="51" y="830.5" width="49" height="24.5" fill="#9dd5ea"/>
<text class="lg" x="110" y="843" dominant-baseline="central">2022年试点地区</text>
<rect x="51" y="864.5" width="49" height="24.5" fill="#0b0a92"/>
<text class="lg" x="110" y="877" dominant-baseline="central">2022年以后试点</text>
<g stroke="#111" stroke-width="1.6" fill="none"><polyline points="295.2,871.5 295.2,883.6 500.5,883.6 500.5,871.5"/><line x1="397.8" y1="875" x2="397.8" y2="883.6"/></g>
<g font-family="Liberation Serif,serif" font-weight="bold" font-size="17px" fill="#111"><text x="295.2" y="863.3" text-anchor="middle">0</text><text x="397.5" y="863.3" text-anchor="middle">500</text><text x="481.8" y="863.3">1,000 km</text></g>
<rect x="1006.5" y="713.5" width="160" height="186.5" fill="#fff" stroke="#1a1a1a" stroke-width="2"/>
<polygon points="1007.4,733.5 1012,736 1013,740 1018,744 1025,745 1031,743 1036,744 1038,747 1038,752 1041,754 1044,752 1043,749 1047,746 1053,744 1061,742 1067,740 1070,739 1075,736 1083,733 1092,730 1098,727 1105,722 1109,718 1113,715 1114,714.5 1007.4,714.5" fill="#f2f2f2" stroke="none"/>
<path d="M1015.3,741.1 L1025.4,735.7 M1029.3,742.9 L1025.4,735.7 M1103.3,722.5 L1100.9,716.1 M1012.3,729.9 L1012.8,724.5 M1012.3,729.9 L1008.0,729.1 M1008.0,725.1 L1012.8,724.5 M1014.0,740.1 L1014.9,732.7 M1014.9,732.7 L1012.3,729.9 M1008.0,720.2 L1013.5,720.0 M1012.8,724.5 L1015.1,722.5 M1015.1,722.5 L1013.5,720.0 M1014.9,732.7 L1020.9,726.6 M1020.9,726.6 L1019.1,723.6 M1015.1,722.5 L1019.1,723.6 M1099.4,725.3 L1097.2,723.9 M1102.7,722.9 L1098.1,721.1 M1098.1,721.1 L1097.2,723.9 M1100.9,716.1 L1097.5,719.3 M1098.1,721.1 L1097.5,719.3 M1025.4,735.7 L1028.0,730.6 M1020.9,726.6 L1027.3,729.1 M1028.0,730.6 L1027.3,729.1 M1024.4,717.9 L1022.2,717.0 M1024.4,717.9 L1029.3,718.5 M1022.2,717.0 L1021.7,715.1 M1029.3,718.5 L1029.5,715.1 M1019.1,723.6 L1022.2,717.0 M1027.9,727.7 L1027.3,729.1 M1027.9,727.7 L1024.4,717.9 M1031.7,721.1 L1027.9,727.7 M1031.7,721.1 L1029.3,718.5 M1013.5,720.0 L1013.5,715.1 M1036.4,715.1 L1034.8,720.2 M1031.7,721.1 L1034.8,720.2 M1034.8,720.2 L1040.8,724.4 M1028.0,730.6 L1036.1,733.0 M1040.8,724.4 L1041.2,727.1 M1041.2,727.1 L1036.1,733.0 M1046.3,717.4 L1051.0,724.7 M1046.3,717.4 L1040.8,724.4 M1051.0,724.7 L1045.8,728.8 M1041.2,727.1 L1045.8,728.8 M1037.7,745.4 L1037.4,736.2 M1037.4,736.2 L1036.1,733.0 M1038.0,745.9 L1048.4,738.2 M1037.4,736.2 L1048.2,735.3 M1048.4,738.2 L1048.2,735.3 M1048.4,738.2 L1053.4,743.3 M1045.8,728.8 L1048.9,733.5 M1048.2,735.3 L1048.9,733.5 M1097.5,719.3 L1092.8,718.5 M1092.8,718.5 L1089.3,715.1 M1068.3,732.5 L1069.6,730.3 M1068.3,732.5 L1071.6,737.3 M1082.9,732.4 L1081.4,726.9 M1081.4,726.9 L1076.4,726.2 M1069.6,730.3 L1076.4,726.2 M1081.4,726.9 L1082.7,725.3 M1074.2,715.1 L1072.6,720.6 M1085.2,715.1 L1082.7,725.3 M1076.4,726.2 L1072.6,720.6 M1068.0,715.1 L1066.7,720.5 M1072.6,720.6 L1066.7,720.5 M1046.3,717.4 L1046.8,715.1 M1092.9,720.3 L1089.4,725.6 M1092.9,720.3 L1094.6,725.3 M1089.4,725.6 L1093.8,727.0 M1094.6,725.3 L1093.8,727.0 M1092.8,718.5 L1092.9,720.3 M1082.7,725.3 L1089.4,725.6 M1097.2,723.9 L1094.6,725.3 M1094.2,728.2 L1093.8,727.0 M1069.6,730.3 L1067.0,725.4 M1066.7,720.5 L1066.3,720.7 M1066.3,720.7 L1067.0,725.4 M1062.0,715.1 L1064.6,720.4 M1066.3,720.7 L1064.6,720.4 M1048.9,733.5 L1052.4,732.8 M1056.4,742.5 L1052.5,732.8 M1052.4,732.8 L1052.5,732.8 M1051.0,724.7 L1053.8,725.0 M1052.4,732.8 L1053.8,725.0 M1056.2,720.3 L1054.8,715.1 M1056.2,720.3 L1055.2,724.5 M1053.8,725.0 L1055.2,724.5 M1061.3,726.7 L1064.6,720.4 M1061.3,726.7 L1060.0,728.1 M1060.0,728.1 L1058.5,726.7 M1058.5,726.7 L1061.7,720.9 M1061.7,720.9 L1064.6,720.4 M1064.6,720.4 L1064.6,720.4 M1067.0,725.4 L1061.3,726.7 M1056.2,720.3 L1061.7,720.9 M1055.2,724.5 L1058.5,726.7 M1060.1,728.8 L1056.6,732.7 M1060.1,728.8 L1066.1,732.9 M1056.6,732.7 L1060.4,739.9 M1066.1,732.9 L1060.4,739.9 M1052.5,732.8 L1056.6,732.7 M1060.0,728.1 L1060.1,728.8 M1068.3,732.5 L1066.1,732.9 M1060.0,741.6 L1060.4,739.9" fill="none" stroke="#c4c4c4" stroke-width="0.5"/>
<polygon points="1009,714.5 1032,714.5 1031,721 1027,727 1021,727 1014,723 1009,720" fill="#0b0a92"/>
<polygon points="1037,714.5 1052,714.5 1053,722 1050,729 1048,735 1044,734 1042,727 1038,721" fill="#0b0a92"/>
<polygon points="1031,742 1037,742 1037,745 1031,745.5" fill="#0b0a92"/>
<polygon points="1049,733 1055,731.5 1059,733 1058,738 1052,738.5" fill="#9dd5ea"/>
<polygon points="1083,720 1088,717 1095,719 1096,726 1091,730 1085,729" fill="#9dd5ea"/>
<polygon points="1084,714.5 1088,714.5 1087,719 1085,720" fill="#8f0f37"/>
<polyline points="1010,724 1016,729 1024,731 1032,735 1040,737 1048,740" fill="none" stroke="#999" stroke-width="0.6"/>
<polyline points="1055,718 1062,722 1070,726 1078,728" fill="none" stroke="#999" stroke-width="0.6"/>
<polyline points="1040,716 1045,724 1047,732" fill="none" stroke="#999" stroke-width="0.6"/>
<polyline points="1007.4,733.5 1012,736 1013,740 1018,744 1025,745 1031,743 1036,744 1038,747 1038,752 1041,754 1044,752 1043,749 1047,746 1053,744 1061,742 1067,740 1070,739 1075,736 1083,733 1092,730 1098,727 1105,722 1109,718 1113,715 1114,714.5" fill="none" stroke="#222" stroke-width="1.3"/>
<polygon points="1027.6,763.2 1031.8,759 1036,756.5 1040.3,755.5 1044.5,756 1047.7,759 1048.7,763.2 1046,767.5 1041,770.5 1036.2,772 1031.8,771.5 1028,768.5" fill="#f2f2f2" stroke="none"/>
<polygon points="1040,755.8 1044.5,756 1047.7,759 1048.7,763.2 1046,766.5 1042,764 1040,760" fill="#9dd5ea" stroke="none"/>
<polygon points="1030,767 1034,766 1036,771.5 1031.8,771.5" fill="#9dd5ea" stroke="none"/>
<polygon points="1027.6,763.2 1031.8,759 1036,756.5 1040.3,755.5 1044.5,756 1047.7,759 1048.7,763.2 1046,767.5 1041,770.5 1036.2,772 1031.8,771.5 1028,768.5" fill="none" stroke="#444" stroke-width="0.8"/>
<polygon points="1127.2,716.6 1133.5,714.5 1135.7,718.7 1133.5,727.2 1129.3,739.9 1125,737.8 1121.9,731.4 1122.9,723" fill="#f2f2f2" stroke="#555" stroke-width="0.7"/>
<g stroke="#000" stroke-width="3.4" stroke-linecap="round" fill="none">
<line x1="1141" y1="719.8" x2="1143.1" y2="729.3"/>
<line x1="1130.4" y1="750.5" x2="1135.7" y2="744.2"/>
<line x1="1115.5" y1="772.8" x2="1120.8" y2="765.3"/>
<line x1="1112.3" y1="788.7" x2="1113.4" y2="798.2"/>
<line x1="1108.1" y1="831" x2="1112.3" y2="822.6"/>
<line x1="1083.7" y1="861.8" x2="1090.1" y2="854.4"/>
<line x1="1054" y1="892.5" x2="1063.6" y2="889.3"/>
<line x1="1024.4" y1="861.8" x2="1026.5" y2="870.3"/>
<line x1="1041.3" y1="819.4" x2="1040.3" y2="827.9"/>
<line x1="1032.9" y1="787.6" x2="1038.2" y2="797.1"/>
</g>
<g stroke="#222" stroke-width="0.8" stroke-linecap="round"><line x1="1052.3" y1="787.0" x2="1052.8" y2="788.0"/><line x1="1057.8" y1="781.7" x2="1059.2" y2="781.8"/><line x1="1052.6" y1="783.6" x2="1051.7" y2="783.6"/><line x1="1060.7" y1="786.2" x2="1060.5" y2="786.8"/><line x1="1057.9" y1="790.5" x2="1057.8" y2="791.8"/><line x1="1058.4" y1="781.7" x2="1057.6" y2="782.5"/><line x1="1053.2" y1="781.3" x2="1052.3" y2="781.7"/><line x1="1059.1" y1="790.7" x2="1058.1" y2="791.8"/><line x1="1054.5" y1="789.8" x2="1054.8" y2="791.3"/><line x1="1061.3" y1="782.1" x2="1061.9" y2="782.3"/><line x1="1062.5" y1="785.8" x2="1062.2" y2="786.5"/><line x1="1056.1" y1="785.2" x2="1056.6" y2="786.2"/><line x1="1057.2" y1="790.9" x2="1056.4" y2="792.2"/><line x1="1061.0" y1="791.9" x2="1060.7" y2="792.4"/><line x1="1079.2" y1="859.7" x2="1078.2" y2="860.0"/><line x1="1077.3" y1="832.6" x2="1076.3" y2="833.2"/><line x1="1071.7" y1="827.3" x2="1070.3" y2="828.0"/><line x1="1069.2" y1="853.8" x2="1069.3" y2="854.4"/><line x1="1071.8" y1="852.7" x2="1071.4" y2="852.9"/><line x1="1076.0" y1="826.6" x2="1075.5" y2="827.2"/><line x1="1079.5" y1="860.3" x2="1079.4" y2="861.9"/><line x1="1072.0" y1="827.8" x2="1071.9" y2="828.2"/><line x1="1070.6" y1="839.7" x2="1070.4" y2="840.2"/><line x1="1068.6" y1="856.2" x2="1069.4" y2="857.5"/><line x1="1079.7" y1="838.6" x2="1079.8" y2="839.6"/><line x1="1076.4" y1="846.4" x2="1076.2" y2="847.6"/><line x1="1080.2" y1="843.3" x2="1080.5" y2="844.5"/><line x1="1071.1" y1="835.8" x2="1070.1" y2="835.9"/><line x1="1075.1" y1="825.4" x2="1075.4" y2="826.5"/><line x1="1068.3" y1="847.2" x2="1068.1" y2="847.6"/><line x1="1076.2" y1="841.8" x2="1075.7" y2="842.5"/><line x1="1077.2" y1="851.6" x2="1077.7" y2="851.6"/><line x1="1076.8" y1="859.7" x2="1077.5" y2="860.4"/><line x1="1075.7" y1="836.5" x2="1076.0" y2="837.2"/><line x1="1072.8" y1="846.4" x2="1073.3" y2="847.1"/><line x1="1078.0" y1="826.0" x2="1077.8" y2="827.2"/><line x1="1072.0" y1="833.0" x2="1071.5" y2="833.4"/><line x1="1070.4" y1="840.7" x2="1070.1" y2="841.1"/><line x1="1072.2" y1="837.0" x2="1071.4" y2="837.5"/><line x1="1079.1" y1="831.1" x2="1079.7" y2="832.1"/><line x1="1079.5" y1="841.2" x2="1079.9" y2="841.6"/><line x1="1074.9" y1="831.9" x2="1073.7" y2="832.7"/><line x1="1070.4" y1="835.0" x2="1069.4" y2="835.7"/><line x1="1078.5" y1="837.4" x2="1079.2" y2="837.7"/><line x1="1078.3" y1="834.8" x2="1078.7" y2="835.6"/><line x1="1073.5" y1="839.7" x2="1072.9" y2="839.9"/><line x1="1068.1" y1="859.0" x2="1066.6" y2="859.5"/><line x1="1073.6" y1="859.2" x2="1073.0" y2="859.4"/><line x1="1077.7" y1="855.1" x2="1077.2" y2="856.0"/><line x1="1071.8" y1="837.3" x2="1072.1" y2="837.6"/><line x1="1075.7" y1="835.3" x2="1075.3" y2="835.6"/><line x1="1079.7" y1="850.0" x2="1078.3" y2="850.3"/><line x1="1079.7" y1="845.8" x2="1081.0" y2="845.8"/><line x1="1070.2" y1="835.8" x2="1069.7" y2="836.7"/><line x1="1090.1" y1="844.9" x2="1089.8" y2="845.7"/><line x1="1086.6" y1="843.5" x2="1086.7" y2="844.8"/><line x1="1088.7" y1="831.6" x2="1088.6" y2="832.9"/><line x1="1084.8" y1="842.3" x2="1083.4" y2="842.6"/><line x1="1099.1" y1="828.1" x2="1098.6" y2="829.5"/><line x1="1082.1" y1="832.9" x2="1082.8" y2="833.7"/><line x1="1090.3" y1="836.5" x2="1090.0" y2="836.8"/><line x1="1082.2" y1="830.3" x2="1082.7" y2="830.5"/><line x1="1102.4" y1="843.4" x2="1103.4" y2="843.6"/><line x1="1087.9" y1="833.7" x2="1088.5" y2="834.7"/><line x1="1093.9" y1="834.5" x2="1094.6" y2="834.9"/><line x1="1083.7" y1="838.0" x2="1083.2" y2="838.7"/><line x1="1082.8" y1="831.2" x2="1083.2" y2="832.3"/><line x1="1098.2" y1="834.8" x2="1097.3" y2="835.5"/><line x1="1090.5" y1="834.7" x2="1090.5" y2="835.9"/><line x1="1090.3" y1="840.5" x2="1090.3" y2="841.2"/><line x1="1092.8" y1="840.5" x2="1093.7" y2="840.7"/><line x1="1090.4" y1="843.8" x2="1089.5" y2="844.0"/><line x1="1100.8" y1="842.2" x2="1101.4" y2="842.9"/><line x1="1083.7" y1="842.6" x2="1083.0" y2="843.9"/><line x1="1098.4" y1="840.0" x2="1097.7" y2="840.8"/><line x1="1083.3" y1="838.6" x2="1083.8" y2="838.6"/><line x1="1098.0" y1="828.8" x2="1098.5" y2="828.9"/><line x1="1100.4" y1="831.2" x2="1101.8" y2="831.3"/><line x1="1083.7" y1="843.2" x2="1082.9" y2="844.4"/><line x1="1102.0" y1="838.4" x2="1101.6" y2="838.7"/><line x1="1097.9" y1="837.2" x2="1097.6" y2="837.6"/><line x1="1097.5" y1="844.8" x2="1098.3" y2="845.0"/><line x1="1093.4" y1="842.9" x2="1093.9" y2="843.3"/><line x1="1086.5" y1="839.1" x2="1085.9" y2="839.7"/><line x1="1046.4" y1="848.3" x2="1046.8" y2="849.1"/><line x1="1037.6" y1="850.5" x2="1036.7" y2="850.6"/><line x1="1058.2" y1="843.4" x2="1057.4" y2="844.5"/><line x1="1055.9" y1="850.9" x2="1056.0" y2="852.0"/><line x1="1062.8" y1="843.1" x2="1064.1" y2="843.5"/><line x1="1063.4" y1="850.9" x2="1063.6" y2="852.1"/><line x1="1040.8" y1="845.6" x2="1041.7" y2="846.3"/><line x1="1044.8" y1="844.9" x2="1043.9" y2="846.2"/><line x1="1044.2" y1="854.8" x2="1044.6" y2="856.2"/><line x1="1053.1" y1="845.6" x2="1053.5" y2="845.9"/><line x1="1049.9" y1="848.0" x2="1050.6" y2="848.5"/><line x1="1045.0" y1="856.3" x2="1046.4" y2="857.0"/><line x1="1049.9" y1="852.6" x2="1050.0" y2="854.0"/><line x1="1060.5" y1="851.7" x2="1060.5" y2="853.0"/><line x1="1061.6" y1="848.4" x2="1060.5" y2="849.6"/><line x1="1049.5" y1="844.8" x2="1050.4" y2="845.7"/><line x1="1055.9" y1="860.1" x2="1055.3" y2="860.4"/><line x1="1040.9" y1="845.4" x2="1041.9" y2="846.1"/><line x1="1061.6" y1="858.9" x2="1062.6" y2="859.9"/><line x1="1044.7" y1="848.9" x2="1044.4" y2="849.3"/><line x1="1037.9" y1="857.5" x2="1038.4" y2="858.2"/><line x1="1053.0" y1="854.2" x2="1053.8" y2="854.2"/><line x1="1059.7" y1="874.9" x2="1060.6" y2="875.6"/><line x1="1061.8" y1="874.1" x2="1061.7" y2="874.7"/><line x1="1059.1" y1="876.3" x2="1060.5" y2="876.8"/><line x1="1061.6" y1="871.8" x2="1060.8" y2="871.9"/></g>
<g fill="#333"><circle cx="1087.0" cy="748.5" r="0.7"/><circle cx="1094.0" cy="751.5" r="0.7"/><circle cx="1063.6" cy="761.0" r="0.7"/><circle cx="1071.0" cy="763.0" r="0.7"/><circle cx="1094.0" cy="786.7" r="0.7"/><circle cx="1102.3" cy="796.1" r="0.7"/><circle cx="1082.8" cy="806.1" r="0.7"/><circle cx="1094.0" cy="826.2" r="0.7"/></g>
<ellipse cx="1074.5" cy="791" rx="4.5" ry="2.6" transform="rotate(-20 1074.5 791)" fill="none" stroke="#444" stroke-width="0.6" stroke-dasharray="1.2 0.8"/>
<text x="1125.5" y="888" text-anchor="middle" dominant-baseline="central" font-family="Liberation Serif,Noto Serif CJK SC,serif" font-size="16.5px" fill="#444">南海诸岛</text>
</svg></body></html>
